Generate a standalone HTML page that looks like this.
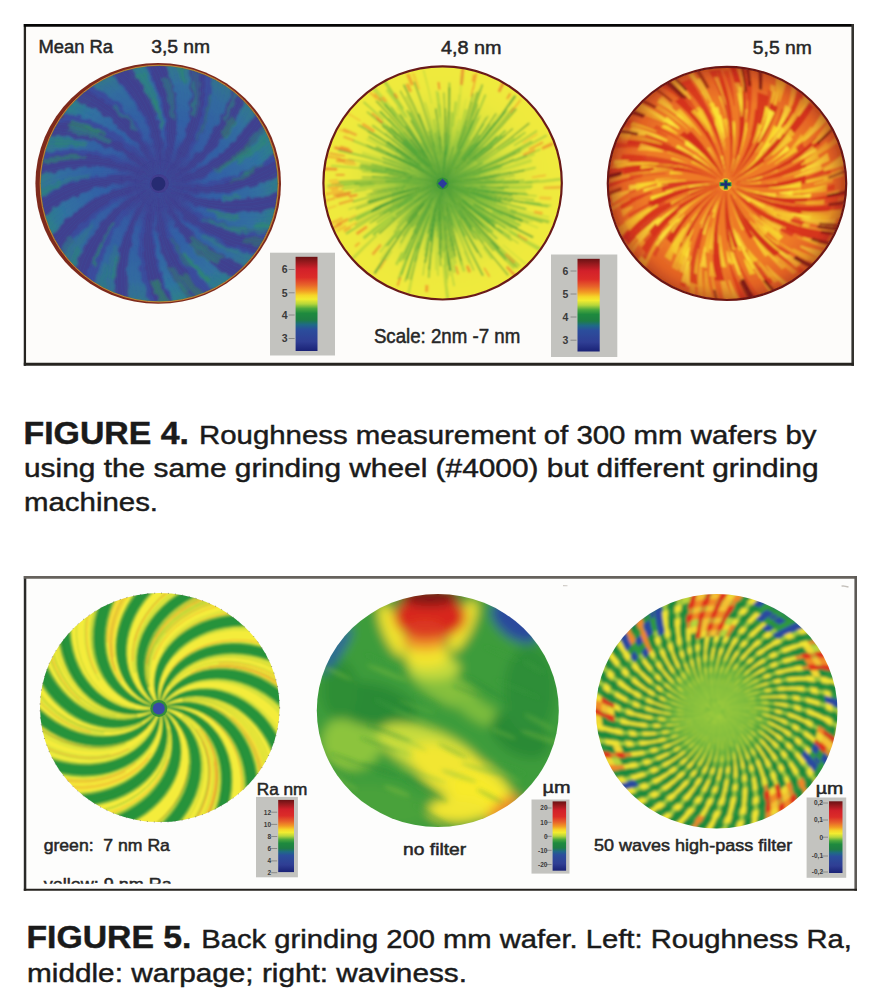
<!DOCTYPE html>
<html><head><meta charset="utf-8"><style>
html,body{margin:0;padding:0;background:#fff}
body{width:896px;height:1006px;overflow:hidden;position:relative}
svg{position:absolute;left:0;top:0;font-family:"Liberation Sans",sans-serif}
</style></head><body>
<svg width="896" height="1006" viewBox="0 0 896 1006">
<defs><linearGradient id="cb" x1="0" y1="0" x2="0" y2="1"><stop offset="0%" stop-color="#6a1214"/><stop offset="6%" stop-color="#9a1a1e"/><stop offset="13%" stop-color="#d2202a"/><stop offset="22%" stop-color="#dc2c28"/><stop offset="30%" stop-color="#e8642a"/><stop offset="36%" stop-color="#f29a24"/><stop offset="41%" stop-color="#f6d628"/><stop offset="45%" stop-color="#f2ec30"/><stop offset="50%" stop-color="#b6d63a"/><stop offset="55%" stop-color="#4aa83e"/><stop offset="60%" stop-color="#1e8a3e"/><stop offset="67%" stop-color="#1e7e44"/><stop offset="72%" stop-color="#1f6a86"/><stop offset="77%" stop-color="#2b4e9c"/><stop offset="90%" stop-color="#2f3e94"/><stop offset="100%" stop-color="#1a2276"/></linearGradient>
<clipPath id="c1"><ellipse cx="159.2" cy="183.6" rx="118.3" ry="117.6"/></clipPath>
<radialGradient id="g1" cx="159.2" cy="183.6" r="118.3" gradientUnits="userSpaceOnUse"><stop offset="0" stop-color="#423e8e" stop-opacity="1"/><stop offset="0.18" stop-color="#423e8e" stop-opacity="0.85"/><stop offset="0.42" stop-color="#423e8e" stop-opacity="0"/></radialGradient>
<radialGradient id="g1b" cx="159.2" cy="183.6" r="118.3" gradientUnits="userSpaceOnUse"><stop offset="0.2" stop-color="#3558a4"/><stop offset="0.55" stop-color="#3264a6"/><stop offset="0.85" stop-color="#2f74a0"/><stop offset="1" stop-color="#2e8088"/></radialGradient>
<filter id="f1" x="-5%" y="-5%" width="110%" height="110%"><feTurbulence type="fractalNoise" baseFrequency="0.12" numOctaves="2" seed="3" result="t"/><feDisplacementMap in="SourceGraphic" in2="t" scale="7" xChannelSelector="R" yChannelSelector="G" result="d"/><feGaussianBlur in="d" stdDeviation="1.1"/></filter>
<clipPath id="c2"><ellipse cx="442.6" cy="182.9" rx="118.6" ry="116"/></clipPath>
<radialGradient id="g2" cx="442.6" cy="182.9" r="118.6" gradientUnits="userSpaceOnUse"><stop offset="0" stop-color="#2e8e38" stop-opacity="0.9"/><stop offset="0.15" stop-color="#3a983a" stop-opacity="0.7"/><stop offset="0.35" stop-color="#6cb43e" stop-opacity="0.55"/><stop offset="0.55" stop-color="#a8d040" stop-opacity="0.35"/><stop offset="0.8" stop-color="#d0e03e" stop-opacity="0.1"/><stop offset="1" stop-color="#e0e43c" stop-opacity="0"/></radialGradient>
<filter id="f2" x="-5%" y="-5%" width="110%" height="110%"><feGaussianBlur stdDeviation="0.9"/></filter>
<clipPath id="c3"><ellipse cx="727" cy="183.4" rx="118.6" ry="116"/></clipPath>
<filter id="f3" x="-5%" y="-5%" width="110%" height="110%"><feGaussianBlur stdDeviation="0.9"/></filter>
<radialGradient id="g3" cx="727" cy="183.4" r="118.6" gradientUnits="userSpaceOnUse"><stop offset="0.7" stop-color="#c82c1a" stop-opacity="0"/><stop offset="0.88" stop-color="#c82c1a" stop-opacity="0.3"/><stop offset="1" stop-color="#8a1a14" stop-opacity="0.55"/></radialGradient>
<clipPath id="c4"><ellipse cx="159.8" cy="707.6" rx="119.8" ry="114.5"/></clipPath>
<filter id="f4" x="-5%" y="-5%" width="110%" height="110%"><feGaussianBlur stdDeviation="0.8"/></filter>
<clipPath id="c5"><ellipse cx="437.8" cy="710.5" rx="121" ry="116.5"/></clipPath>
<filter id="b5" x="-20%" y="-20%" width="140%" height="140%"><feGaussianBlur stdDeviation="5.5"/></filter>
<filter id="b5b" x="-20%" y="-50%" width="140%" height="200%"><feGaussianBlur stdDeviation="2.2"/></filter>
<clipPath id="c6"><ellipse cx="716.7" cy="711.2" rx="120.8" ry="117.2"/></clipPath>
<filter id="b6" x="-5%" y="-5%" width="110%" height="110%"><feGaussianBlur stdDeviation="1.4"/></filter>
<radialGradient id="g6" cx="716.7" cy="711.2" r="120.8" gradientUnits="userSpaceOnUse"><stop offset="0" stop-color="#8ec63e" stop-opacity="1"/><stop offset="0.18" stop-color="#8cc43e" stop-opacity="0.95"/><stop offset="0.32" stop-color="#8cc43e" stop-opacity="0.55"/><stop offset="0.48" stop-color="#8cc43e" stop-opacity="0"/></radialGradient>
<clipPath id="cy"><rect x="30" y="860" width="200" height="23.8"/></clipPath></defs>
<rect x="24.9" y="25.3" width="828" height="339" fill="#fdfcfa"/>
<path d="M24.9 23.9V365.7" stroke="#262420" stroke-width="2.3"/>
<path d="M23.8 25.3H854" stroke="#050505" stroke-width="2.8"/>
<path d="M852.7 23.9V365.7" stroke="#34332f" stroke-width="2.6"/>
<path d="M23.8 364.25H854" stroke="#262420" stroke-width="2.9"/>
<rect x="25" y="577.3" width="830.7" height="312.5" fill="#fdfdfc"/>
<path d="M841.5 586.2 L843 585.8 L848.5 587" stroke="#c4c0ba" stroke-width="1.3" fill="none"/>
<path d="M563 585.6 L567.5 585.8" stroke="#cfcbc6" stroke-width="1.1" fill="none"/>
<path d="M25.05 576V890.7" stroke="#2a2a28" stroke-width="2.5"/>
<path d="M23.8 577.35H857" stroke="#66625d" stroke-width="2.7"/>
<path d="M855.7 576V890.7" stroke="#5c5955" stroke-width="2.6"/>
<path d="M23.8 889.8H857" stroke="#24221e" stroke-width="1.9"/>
<rect x="270" y="252.7" width="65" height="102.8" fill="#c3c3bf"/>
<rect x="295.6" y="256.8" width="21.9" height="94.2" fill="url(#cb)"/>
<line x1="288.6" y1="269.5" x2="294.6" y2="269.5" stroke="#8a8a88" stroke-width="1"/>
<text x="287.6" y="273.3" font-size="10.5" text-anchor="end" fill="#3a3a3a" font-weight="bold">6</text>
<line x1="288.6" y1="292.8" x2="294.6" y2="292.8" stroke="#8a8a88" stroke-width="1"/>
<text x="287.6" y="296.6" font-size="10.5" text-anchor="end" fill="#3a3a3a" font-weight="bold">5</text>
<line x1="288.6" y1="315" x2="294.6" y2="315" stroke="#8a8a88" stroke-width="1"/>
<text x="287.6" y="318.8" font-size="10.5" text-anchor="end" fill="#3a3a3a" font-weight="bold">4</text>
<line x1="288.6" y1="338.5" x2="294.6" y2="338.5" stroke="#8a8a88" stroke-width="1"/>
<text x="287.6" y="342.3" font-size="10.5" text-anchor="end" fill="#3a3a3a" font-weight="bold">3</text>
<rect x="551" y="254.5" width="66.3" height="102.5" fill="#c3c3bf"/>
<rect x="577.5" y="258.8" width="22.2" height="92.7" fill="url(#cb)"/>
<line x1="570.5" y1="271" x2="576.5" y2="271" stroke="#8a8a88" stroke-width="1"/>
<text x="568.3" y="274.8" font-size="10.5" text-anchor="end" fill="#3a3a3a" font-weight="bold">6</text>
<line x1="570.5" y1="294" x2="576.5" y2="294" stroke="#8a8a88" stroke-width="1"/>
<text x="568.3" y="297.8" font-size="10.5" text-anchor="end" fill="#3a3a3a" font-weight="bold">5</text>
<line x1="570.5" y1="317" x2="576.5" y2="317" stroke="#8a8a88" stroke-width="1"/>
<text x="568.3" y="320.8" font-size="10.5" text-anchor="end" fill="#3a3a3a" font-weight="bold">4</text>
<line x1="570.5" y1="340.2" x2="576.5" y2="340.2" stroke="#8a8a88" stroke-width="1"/>
<text x="568.3" y="344" font-size="10.5" text-anchor="end" fill="#3a3a3a" font-weight="bold">3</text>
<rect x="256" y="796.9" width="41.9" height="80.4" fill="#c3c3bf"/>
<rect x="278.2" y="799.9" width="15.8" height="72.2" fill="url(#cb)"/>
<line x1="271.2" y1="812.2" x2="277.2" y2="812.2" stroke="#8a8a88" stroke-width="1"/>
<text x="271" y="814.5" font-size="6.5" text-anchor="end" fill="#3a3a3a" font-weight="bold">12</text>
<line x1="271.2" y1="824.4" x2="277.2" y2="824.4" stroke="#8a8a88" stroke-width="1"/>
<text x="271" y="826.7" font-size="6.5" text-anchor="end" fill="#3a3a3a" font-weight="bold">10</text>
<line x1="271.2" y1="836.5" x2="277.2" y2="836.5" stroke="#8a8a88" stroke-width="1"/>
<text x="271" y="838.8" font-size="6.5" text-anchor="end" fill="#3a3a3a" font-weight="bold">8</text>
<line x1="271.2" y1="848.5" x2="277.2" y2="848.5" stroke="#8a8a88" stroke-width="1"/>
<text x="271" y="850.8" font-size="6.5" text-anchor="end" fill="#3a3a3a" font-weight="bold">6</text>
<line x1="271.2" y1="860.9" x2="277.2" y2="860.9" stroke="#8a8a88" stroke-width="1"/>
<text x="271" y="863.2" font-size="6.5" text-anchor="end" fill="#3a3a3a" font-weight="bold">4</text>
<line x1="271.2" y1="872.7" x2="277.2" y2="872.7" stroke="#8a8a88" stroke-width="1"/>
<text x="271" y="875" font-size="6.5" text-anchor="end" fill="#3a3a3a" font-weight="bold">2</text>
<rect x="531.5" y="799.5" width="38" height="74.1" fill="#c3c3bf"/>
<rect x="552.6" y="801.4" width="13.5" height="69.3" fill="url(#cb)"/>
<line x1="545.6" y1="808" x2="551.6" y2="808" stroke="#8a8a88" stroke-width="1"/>
<text x="547.5" y="810.3" font-size="6.5" text-anchor="end" fill="#3a3a3a" font-weight="bold">20</text>
<line x1="545.6" y1="822.3" x2="551.6" y2="822.3" stroke="#8a8a88" stroke-width="1"/>
<text x="547.5" y="824.6" font-size="6.5" text-anchor="end" fill="#3a3a3a" font-weight="bold">10</text>
<line x1="545.6" y1="836.3" x2="551.6" y2="836.3" stroke="#8a8a88" stroke-width="1"/>
<text x="547.5" y="838.6" font-size="6.5" text-anchor="end" fill="#3a3a3a" font-weight="bold">0</text>
<line x1="545.6" y1="850.3" x2="551.6" y2="850.3" stroke="#8a8a88" stroke-width="1"/>
<text x="547.5" y="852.6" font-size="6.5" text-anchor="end" fill="#3a3a3a" font-weight="bold">-10</text>
<line x1="545.6" y1="864.5" x2="551.6" y2="864.5" stroke="#8a8a88" stroke-width="1"/>
<text x="547.5" y="866.8" font-size="6.5" text-anchor="end" fill="#3a3a3a" font-weight="bold">-20</text>
<rect x="806.6" y="797.5" width="39.6" height="80.3" fill="#c3c3bf"/>
<rect x="829" y="801.3" width="13.5" height="71.7" fill="url(#cb)"/>
<line x1="822" y1="803" x2="828" y2="803" stroke="#8a8a88" stroke-width="1"/>
<text x="823" y="805.3" font-size="6.5" text-anchor="end" fill="#3a3a3a" font-weight="bold">0,2</text>
<line x1="822" y1="820" x2="828" y2="820" stroke="#8a8a88" stroke-width="1"/>
<text x="823" y="822.3" font-size="6.5" text-anchor="end" fill="#3a3a3a" font-weight="bold">0,1</text>
<line x1="822" y1="837.2" x2="828" y2="837.2" stroke="#8a8a88" stroke-width="1"/>
<text x="823" y="839.5" font-size="6.5" text-anchor="end" fill="#3a3a3a" font-weight="bold">0</text>
<line x1="822" y1="856" x2="828" y2="856" stroke="#8a8a88" stroke-width="1"/>
<text x="823" y="858.3" font-size="6.5" text-anchor="end" fill="#3a3a3a" font-weight="bold">-0,1</text>
<line x1="822" y1="872" x2="828" y2="872" stroke="#8a8a88" stroke-width="1"/>
<text x="823" y="874.3" font-size="6.5" text-anchor="end" fill="#3a3a3a" font-weight="bold">-0,2</text>
<ellipse cx="158.2" cy="183.4" rx="122.8" ry="120.4" fill="#7e2a1c"/>
<ellipse cx="159.3" cy="183.6" rx="119.2" ry="118.4" fill="none" stroke="#d0823a" stroke-width="1" opacity="0.9"/>
<ellipse cx="159.3" cy="183.6" rx="118.5" ry="117.8" fill="none" stroke="#8cb048" stroke-width="0.8" opacity="0.8"/>
<g clip-path="url(#c1)"><g filter="url(#f1)">
<ellipse cx="159.2" cy="183.6" rx="120.3" ry="119.6" fill="#3a4b9c"/>
<path d="M176.9 183.1 184.5 182.1 192 180.6 199.4 178.6 206.8 176.1 214 173.1 221 169.7 227.9 165.7 234.5 161.4 241 156.5 247.2 151.3 253.1 145.6 258.8 139.5 264.1 132.9 269.1 126 278.9 150.5 272.3 155.3 265.5 159.8 258.7 164 251.6 167.7 244.5 171.1 237.2 174.2 229.9 176.9 222.4 179.2 214.9 181.1 207.4 182.6 199.8 183.8 192.1 184.6 184.5 185 176.9 185Z" fill="url(#g1b)" opacity="0.98"/>
<path d="M176 189.2 183.5 190.9 191.1 192 198.7 192.7 206.5 192.8 214.2 192.5 222 191.7 229.9 190.4 237.6 188.6 245.3 186.2 253 183.4 260.5 180.1 268 176.3 275.2 172 282.3 167.3 283 193.2 275.2 195.5 267.3 197.4 259.4 199 251.5 200.1 243.6 200.9 235.7 201.3 227.9 201.3 220.1 200.9 212.4 200.2 204.8 199.1 197.2 197.6 189.8 195.7 182.5 193.5 175.3 191Z" fill="url(#g1b)" opacity="0.90"/>
<path d="M173.4 194.1 180 198 186.9 201.4 193.9 204.4 201.2 207 208.7 209 216.4 210.7 224.3 211.8 232.2 212.5 240.3 212.7 248.4 212.3 256.6 211.5 264.9 210.2 273.1 208.4 281.3 206 273.9 230.9 265.8 230.7 257.7 230.1 249.7 229.1 241.8 227.8 234 226.1 226.4 224 219 221.6 211.7 218.9 204.6 215.8 197.7 212.4 191 208.6 184.5 204.6 178.3 200.2 172.2 195.6Z" fill="url(#g1b)" opacity="0.91"/>
<path d="M167.7 199.1 172.1 205.3 176.9 211.3 182 216.9 187.6 222.3 193.5 227.3 199.7 232 206.3 236.4 213.3 240.3 220.5 243.9 228 247 235.7 249.7 243.7 252 251.9 253.9 260.3 255.3 245.7 272.2 238.2 268.8 231 265.1 224 261.1 217.3 256.8 210.8 252.2 204.6 247.4 198.7 242.2 193.1 236.8 187.8 231.2 182.9 225.3 178.2 219.2 173.9 212.9 169.9 206.4 166.3 199.8Z" fill="url(#g1b)" opacity="0.83"/>
<path d="M163.6 200.7 166.3 207.8 169.4 214.7 173 221.5 177.1 228 181.6 234.4 186.6 240.4 192 246.2 197.8 251.7 204 256.8 210.6 261.6 217.5 266.1 224.8 270.2 232.4 273.8 240.3 277.1 216.6 293.1 210.5 287.7 204.7 282 199.3 276.2 194.1 270.1 189.3 263.9 184.8 257.5 180.7 250.9 176.8 244.1 173.4 237.2 170.3 230.2 167.6 223.1 165.2 215.8 163.2 208.5 161.6 201.1Z" fill="url(#g1b)" opacity="0.92"/>
<path d="M157.6 201.2 157.7 208.8 158.4 216.3 159.5 223.9 161.2 231.4 163.4 238.9 166.1 246.2 169.2 253.5 172.9 260.5 177 267.4 181.6 274.1 186.7 280.6 192.2 286.9 198.2 292.8 204.6 298.5 175.5 306 171.6 298.9 168.2 291.6 165 284.2 162.3 276.8 159.9 269.3 157.9 261.7 156.3 254.1 155.1 246.5 154.2 238.8 153.7 231.2 153.6 223.5 153.8 215.9 154.5 208.4 155.5 200.8Z" fill="url(#g1b)" opacity="0.99"/>
<path d="M150.4 198.9 147.3 205.9 144.7 213 142.6 220.4 140.9 227.9 139.8 235.6 139.1 243.3 138.9 251.2 139.2 259.1 140 267.1 141.3 275.1 143.1 283.1 145.5 291.1 148.3 299 151.7 306.9 125.1 302.3 124.4 294.2 124 286.2 124.1 278.2 124.5 270.2 125.4 262.4 126.5 254.7 128.1 247 130 239.5 132.3 232.2 134.9 224.9 137.9 217.9 141.2 211 144.8 204.3 148.8 197.9Z" fill="url(#g1b)" opacity="0.79"/>
<path d="M146.5 196 141.7 201.8 137.3 208 133.2 214.5 129.5 221.3 126.3 228.4 123.5 235.7 121.2 243.2 119.3 250.9 117.9 258.8 117 266.9 116.5 275 116.6 283.3 117.1 291.7 118.2 300.2 94.5 289 96 281 97.8 273.2 100 265.5 102.6 257.9 105.4 250.6 108.7 243.4 112.2 236.5 116.1 229.7 120.2 223.2 124.7 217 129.4 211 134.5 205.2 139.7 199.8 145.3 194.6Z" fill="url(#g1b)" opacity="0.76"/>
<path d="M142.9 190.5 136.2 194.2 129.8 198.3 123.6 202.9 117.7 207.8 112 213.2 106.7 218.9 101.8 225.1 97.1 231.5 92.9 238.3 89 245.4 85.5 252.9 82.5 260.6 79.8 268.5 77.6 276.7 61.3 259.6 65.5 252.6 70 245.9 74.7 239.4 79.8 233.2 85.1 227.3 90.6 221.7 96.4 216.5 102.4 211.5 108.6 206.9 115 202.6 121.6 198.6 128.3 195 135.2 191.8 142.3 188.9Z" fill="url(#g1b)" opacity="0.76"/>
<path d="M141.5 184 133.9 185 126.4 186.5 118.9 188.5 111.6 190.9 104.4 193.9 97.3 197.3 90.4 201.1 83.8 205.5 77.3 210.3 71.1 215.5 65.1 221.1 59.4 227.2 54 233.7 49 240.6 39.6 217 46.2 212.2 52.9 207.6 59.8 203.5 66.8 199.7 74 196.2 81.2 193.2 88.6 190.5 96 188.1 103.5 186.2 111 184.6 118.6 183.5 126.3 182.7 133.9 182.2 141.5 182.2Z" fill="url(#g1b)" opacity="0.96"/>
<path d="M142.4 177.9 135 176.2 127.4 175.1 119.7 174.4 112 174.2 104.2 174.5 96.4 175.3 88.6 176.6 80.8 178.4 73.1 180.7 65.4 183.5 57.9 186.8 50.4 190.6 43.1 194.9 36 199.7 35.5 172.7 43.3 170.5 51.2 168.6 59.2 167.2 67.1 166.1 75 165.4 82.8 165.1 90.7 165.2 98.4 165.7 106.1 166.5 113.8 167.7 121.3 169.3 128.7 171.2 136 173.5 143.1 176.1Z" fill="url(#g1b)" opacity="0.87"/>
<path d="M145.6 172.3 139.3 168 132.6 164.2 125.7 160.8 118.6 157.8 111.2 155.3 103.7 153.2 95.9 151.6 88 150.5 80 149.8 71.8 149.7 63.6 150 55.3 150.8 47 152.2 38.6 154 47.3 130.1 55.4 130.7 63.5 131.8 71.4 133.2 79.2 134.9 86.8 137 94.3 139.5 101.6 142.3 108.8 145.5 115.7 148.9 122.4 152.7 128.9 156.8 135.1 161.2 141.1 165.9 146.9 170.9Z" fill="url(#g1b)" opacity="0.82"/>
<path d="M150.8 168.1 146.5 161.8 141.7 155.8 136.6 150.1 131 144.8 125.1 139.8 118.8 135.1 112.1 130.8 105.1 126.9 97.9 123.4 90.3 120.3 82.5 117.7 74.4 115.6 66.1 113.8 57.6 112.6 77.8 90.3 85 94.2 91.9 98.3 98.6 102.8 105 107.5 111.1 112.5 117 117.7 122.6 123.2 127.8 128.9 132.8 134.8 137.4 140.9 141.8 147.2 145.8 153.7 149.4 160.3 152.8 167.2Z" fill="url(#g1b)" opacity="0.96"/>
<path d="M156.3 166.2 154.2 158.9 151.7 151.7 148.6 144.7 145.2 137.8 141.2 131.1 136.8 124.7 132 118.4 126.7 112.5 121.1 106.8 115 101.4 108.5 96.3 101.7 91.5 94.5 87.1 87 83.1 108.1 71 114 76.8 119.5 82.7 124.7 88.8 129.5 95.2 134 101.7 138.1 108.3 141.9 115.2 145.3 122.1 148.4 129.2 151.1 136.4 153.4 143.7 155.3 151.1 156.8 158.5 158 166Z" fill="url(#g1b)" opacity="0.81"/>
<path d="M161.6 166.1 161.8 158.5 161.6 150.9 160.8 143.3 159.6 135.7 157.9 128.2 155.7 120.7 153 113.3 149.8 106 146.1 98.9 142 91.9 137.4 85.2 132.4 78.6 126.9 72.2 121 66.1 142.7 61.2 146.6 68.4 150.3 75.6 153.5 83 156.3 90.4 158.8 97.9 160.8 105.5 162.5 113.1 163.8 120.8 164.7 128.4 165.1 136.1 165.2 143.7 164.9 151.3 164.3 158.9 163.2 166.4Z" fill="url(#g1b)" opacity="0.94"/>
<path d="M167.5 168 170.3 160.9 172.6 153.7 174.5 146.3 175.9 138.7 176.8 131 177.1 123.2 177 115.3 176.4 107.4 175.3 99.4 173.7 91.5 171.5 83.5 168.8 75.7 165.7 67.9 162 60.2 190.6 64.1 191.5 72.2 192 80.3 192.1 88.2 191.8 96.2 191.1 104 190.1 111.8 188.7 119.4 187 127 184.9 134.4 182.4 141.7 179.6 148.8 176.5 155.7 173 162.5 169.3 169.1Z" fill="url(#g1b)" opacity="0.85"/>
<path d="M173.1 172.7 178.6 167.3 183.6 161.6 188.4 155.6 192.7 149.2 196.6 142.5 200.2 135.5 203.3 128.3 205.9 120.8 208.1 113.1 209.9 105.1 211.1 97 211.9 88.7 212.2 80.3 211.9 71.8 236.5 87 234 94.7 231.2 102.2 228 109.6 224.6 116.7 220.8 123.6 216.7 130.3 212.3 136.8 207.6 143 202.7 148.9 197.5 154.6 192.1 160 186.4 165.1 180.4 169.9 174.3 174.3Z" fill="url(#g1b)" opacity="0.75"/>
<path d="M175.5 176.6 182.1 172.8 188.5 168.6 194.6 163.9 200.4 158.8 205.9 153.4 211.1 147.5 216 141.3 220.5 134.7 224.6 127.8 228.3 120.5 231.6 113 234.4 105.2 236.8 97.1 238.8 88.8 259 110.1 254.6 116.9 249.9 123.5 244.9 129.8 239.7 135.8 234.3 141.5 228.6 146.9 222.7 152 216.5 156.8 210.2 161.2 203.7 165.4 197.1 169.2 190.3 172.6 183.3 175.8 176.2 178.5Z" fill="url(#g1b)" opacity="0.87"/>
<path d="M161.5 184.1 170.1 185.6 178.7 186.6 187.5 187 196.2 186.9 205 186.2 213.8 185 222.5 183.2 231.1 180.9 239.7 178 248.1 174.6 256.4 170.6 264.5 166.1 272.5 161.1 280.2 155.5 282.9 172.5 274.5 177.2 266 181.4 257.3 184.9 248.5 187.8 239.6 190.2 230.7 191.9 221.8 193 212.9 193.6 204 193.5 195.2 192.9 186.5 191.6 178 189.8 169.6 187.4 161.4 184.5Z" fill="#413e8e" opacity="0.9"/>
<path d="M161.3 184.7 169.1 188.4 177.2 191.7 185.5 194.4 194 196.7 202.6 198.3 211.4 199.5 220.3 200.1 229.2 200.2 238.3 199.7 247.3 198.7 256.4 197.1 265.4 194.9 274.4 192.2 283.3 188.9 281.2 207 271.8 209.2 262.4 210.9 253.1 211.9 243.8 212.3 234.6 212.1 225.6 211.3 216.7 209.9 208 208 199.5 205.5 191.2 202.4 183.2 198.9 175.5 194.8 168.1 190.2 161.1 185.1Z" fill="#413e8e" opacity="0.9"/>
<path d="M160.7 185.4 166.3 192 172.4 198.2 178.9 204 185.8 209.4 193 214.4 200.6 219 208.5 223.1 216.7 226.7 225.1 229.8 233.9 232.5 242.8 234.6 252 236.2 261.3 237.3 270.8 237.9 262.4 252.3 252.9 250.7 243.7 248.6 234.7 245.9 226 242.7 217.6 239 209.6 234.7 201.9 230 194.6 224.9 187.8 219.3 181.3 213.3 175.4 206.9 169.9 200.2 164.8 193.1 160.3 185.7Z" fill="#413e8e" opacity="0.9"/>
<path d="M160.1 185.8 163.6 193.7 167.6 201.4 172.2 208.8 177.2 216 182.6 222.8 188.6 229.3 194.9 235.5 201.7 241.3 208.9 246.8 216.5 251.8 224.4 256.4 232.7 260.6 241.4 264.3 250.3 267.5 237.9 279.2 229.3 274.9 221 270.2 213.2 265 205.8 259.4 198.9 253.4 192.4 247.1 186.5 240.4 181 233.3 176.1 226 171.7 218.4 167.8 210.6 164.5 202.5 161.8 194.3 159.7 185.9Z" fill="#413e8e" opacity="0.9"/>
<path d="M159.1 186 159.2 194.6 159.8 203.2 161 211.9 162.7 220.4 165 228.9 167.8 237.2 171.1 245.4 175 253.4 179.4 261.3 184.3 268.9 189.7 276.3 195.6 283.4 202 290.3 208.9 296.8 191.1 303 185 295.5 179.4 287.9 174.4 279.9 170 271.8 166.2 263.5 163 255.1 160.3 246.5 158.3 237.9 156.9 229.2 156 220.4 155.8 211.7 156.2 203 157.1 194.4 158.7 185.9Z" fill="#413e8e" opacity="0.9"/>
<path d="M158.4 185.8 156 194.1 154.1 202.6 152.7 211.2 151.9 219.8 151.6 228.6 151.9 237.4 152.7 246.2 154.1 255 156.1 263.8 158.6 272.5 161.7 281.1 165.3 289.6 169.5 298 174.2 306.2 157.6 307.1 153.7 298.3 150.5 289.4 147.8 280.5 145.8 271.5 144.4 262.5 143.6 253.5 143.3 244.5 143.7 235.6 144.7 226.9 146.2 218.2 148.4 209.8 151.1 201.5 154.3 193.5 158.1 185.7Z" fill="#413e8e" opacity="0.9"/>
<path d="M157.7 185.4 152.5 192.4 147.8 199.7 143.6 207.3 139.8 215.1 136.5 223.2 133.7 231.6 131.5 240.2 129.7 248.9 128.5 257.8 127.9 266.8 127.8 276 128.3 285.2 129.3 294.5 130.9 303.8 115.7 299.3 115.1 289.7 115.1 280.3 115.6 271 116.8 261.8 118.5 252.9 120.8 244.1 123.6 235.6 127 227.4 130.9 219.5 135.2 211.9 140.1 204.6 145.5 197.7 151.2 191.2 157.4 185.2Z" fill="#413e8e" opacity="0.9"/>
<path d="M157.1 184.7 149.6 189.1 142.4 194 135.5 199.3 128.9 205 122.7 211.2 116.9 217.8 111.4 224.8 106.4 232.2 101.8 239.9 97.6 248 93.9 256.4 90.7 265.1 88 274 85.8 283.2 73.2 272.7 76.4 263.7 80.2 255 84.4 246.7 89.1 238.7 94.2 231.2 99.8 224.1 105.8 217.4 112.2 211.1 118.9 205.4 125.9 200.1 133.3 195.4 140.9 191.2 148.8 187.5 157 184.4Z" fill="#413e8e" opacity="0.9"/>
<path d="M156.9 184 148.3 185.8 140 188.1 131.7 190.9 123.6 194.3 115.7 198.2 108.1 202.6 100.7 207.5 93.5 212.9 86.7 218.8 80.1 225.1 73.9 231.8 68.1 239 62.6 246.6 57.6 254.6 48.5 239.7 54.6 232.2 60.9 225.2 67.7 218.7 74.7 212.7 82.1 207.3 89.7 202.4 97.6 198 105.7 194.2 113.9 191 122.3 188.3 130.8 186.2 139.5 184.8 148.1 183.9 156.8 183.6Z" fill="#413e8e" opacity="0.9"/>
<path d="M156.9 183.3 148.2 182.3 139.5 182 130.8 182.2 122 182.9 113.3 184.2 104.7 186 96.1 188.4 87.6 191.3 79.3 194.8 71.1 198.7 63.1 203.3 55.3 208.3 47.8 213.8 40.5 219.9 36.3 201.7 44.4 196.5 52.7 191.9 61.2 187.9 69.8 184.4 78.5 181.6 87.3 179.3 96.2 177.7 105.1 176.6 113.9 176.2 122.7 176.3 131.5 177.1 140.1 178.4 148.6 180.3 157 182.8Z" fill="#413e8e" opacity="0.9"/>
<path d="M157.1 182.5 149.3 178.7 141.2 175.4 132.9 172.7 124.5 170.4 115.8 168.7 107.1 167.5 98.2 166.8 89.2 166.7 80.2 167.2 71.2 168.2 62.1 169.7 53.1 171.8 44.1 174.5 35.1 177.7 37.4 159.6 46.7 157.4 56.1 155.8 65.4 154.9 74.7 154.5 83.9 154.8 93 155.6 101.8 157 110.6 159 119.1 161.5 127.3 164.6 135.3 168.2 143 172.4 150.3 177 157.4 182.1Z" fill="#413e8e" opacity="0.9"/>
<path d="M157.6 181.8 151.6 175.6 145.2 169.8 138.4 164.3 131.2 159.3 123.7 154.7 115.9 150.6 107.8 146.9 99.4 143.8 90.8 141.1 81.9 138.9 72.9 137.3 63.6 136.2 54.3 135.6 44.8 135.6 52.6 120.2 62.2 121.2 71.6 122.9 80.7 125.1 89.5 127.9 98.1 131.2 106.3 135 114.2 139.3 121.7 144.1 128.9 149.4 135.6 155 141.9 161.1 147.7 167.6 153.1 174.4 158 181.6Z" fill="#413e8e" opacity="0.9"/>
<path d="M158.4 181.4 154.9 173.5 151 165.7 146.5 158.2 141.6 151 136.2 144.1 130.3 137.5 124.1 131.3 117.3 125.4 110.2 119.9 102.7 114.7 94.8 110 86.5 105.8 77.9 102 69.1 98.6 81.4 87.4 90 91.7 98.2 96.5 105.9 101.7 113.3 107.4 120.1 113.4 126.5 119.8 132.4 126.6 137.8 133.7 142.7 141 147 148.7 150.8 156.6 154 164.6 156.7 172.9 158.7 181.3Z" fill="#413e8e" opacity="0.9"/>
<path d="M159.3 181.2 159.2 172.6 158.6 164 157.4 155.3 155.7 146.8 153.4 138.3 150.6 130 147.3 121.8 143.4 113.8 139 105.9 134.1 98.3 128.7 90.9 122.8 83.8 116.4 77 109.5 70.4 127.5 64.2 133.6 71.6 139.1 79.3 144.1 87.2 148.5 95.4 152.3 103.7 155.5 112.1 158.1 120.7 160.2 129.3 161.6 138.1 162.4 146.8 162.6 155.5 162.3 164.2 161.3 172.8 159.7 181.3Z" fill="#413e8e" opacity="0.9"/>
<path d="M160 181.4 162.4 173.1 164.3 164.6 165.7 156 166.6 147.4 166.9 138.6 166.6 129.8 165.8 121 164.4 112.2 162.5 103.4 160 94.7 157 86.1 153.4 77.6 149.3 69.2 144.7 61 164.1 60.2 167.7 69.1 170.7 78 173.2 87.1 175 96.1 176.2 105.2 176.7 114.2 176.7 123.1 176.1 132 174.9 140.7 173.1 149.3 170.8 157.7 167.9 165.9 164.4 173.9 160.4 181.6Z" fill="#413e8e" opacity="0.9"/>
<path d="M160.7 181.8 165.9 174.8 170.6 167.5 174.9 160 178.7 152.1 182 144 184.8 135.7 187.1 127.1 188.8 118.4 190 109.5 190.7 100.4 190.8 91.3 190.4 82.1 189.4 72.8 187.9 63.5 204.4 68.6 204.9 78.1 204.8 87.6 204.1 96.9 202.8 106 201 115 198.6 123.7 195.6 132.1 192.1 140.3 188.1 148.2 183.6 155.7 178.6 162.9 173.2 169.7 167.3 176.1 161 182.1Z" fill="#413e8e" opacity="0.9"/>
<path d="M161.3 182.5 168.8 178.1 175.9 173.2 182.8 167.8 189.4 162 195.6 155.8 201.4 149.2 206.8 142.1 211.8 134.8 216.4 127 220.5 118.9 224.2 110.6 227.4 101.9 230.1 92.9 232.3 83.8 246.3 95.6 243 104.6 239.2 113.2 234.8 121.5 230 129.4 224.8 136.9 219.1 144 213.1 150.6 206.6 156.7 199.8 162.4 192.7 167.5 185.3 172.2 177.6 176.3 169.6 179.9 161.5 182.9Z" fill="#413e8e" opacity="0.9"/>
<path d="M161.5 183.1 169.9 180.9 178.2 178.2 186.3 174.9 194.2 171.2 201.9 166.9 209.4 162.2 216.5 157 223.4 151.2 230 145.1 236.2 138.5 242.1 131.5 247.6 124 252.7 116.2 257.4 108 268.3 124.5 262.5 132.2 256.3 139.4 249.7 146 242.8 152.2 235.6 157.9 228.2 163 220.4 167.6 212.4 171.6 204.3 175.1 195.9 177.9 187.5 180.2 178.9 181.9 170.3 183.1 161.6 183.6Z" fill="#413e8e" opacity="0.9"/>
<path d="M192.7 241.3 196.1 244.6 199.6 247.8 203.2 250.9 206.9 253.9 210.8 256.8 214.7 259.6 208.7 263.5 205 260.5 201.4 257.3 197.9 254 194.5 250.7 191.3 247.2 188.2 243.6Z" fill="#2e8a70" opacity="0.49"/>
<path d="M222.4 195.5 225.5 195.3 228.7 195.1 231.8 194.7 234.9 194.3 238 193.9 241.2 193.3 240.3 198.8 237.2 199.2 234 199.4 230.9 199.6 227.7 199.8 224.6 199.8 221.4 199.8Z" fill="#2e8a70" opacity="0.48"/>
<path d="M80.8 252 79.2 255.2 77.7 258.4 76.2 261.7 74.9 265 73.5 268.4 72.3 271.8 67.2 266.6 68.7 263.2 70.2 259.9 71.7 256.7 73.4 253.5 75.1 250.4 76.9 247.3Z" fill="#2e8a70" opacity="0.41"/>
<path d="M246.2 235.7 250.2 236.4 254.2 236.9 258.3 237.4 262.4 237.7 266.5 237.9 270.7 238 266 246.6 261.9 246.2 257.8 245.6 253.7 245 249.7 244.2 245.7 243.4 241.8 242.4Z" fill="#2f8c64" opacity="0.41"/>
<path d="M85.1 147.1 80 146.4 74.9 145.9 69.7 145.5 64.5 145.3 59.3 145.4 54 145.6 57 138.2 62.3 138.4 67.5 138.7 72.7 139.3 77.8 140 82.9 140.9 87.9 141.9Z" fill="#2e8a70" opacity="0.56"/>
<path d="M115.5 222.7 111.1 229.2 107.1 236.1 103.4 243.2 100.1 250.5 97.2 258.1 94.7 265.9 92 263.8 94.8 256.1 98 248.6 101.5 241.3 105.4 234.4 109.7 227.7 114.3 221.3Z" fill="#2f8c64" opacity="0.61"/>
<path d="M119 247.3 117.6 252.7 116.3 258.2 115.3 263.7 114.5 269.3 113.9 275 113.5 280.8 105.4 276.6 106.3 270.9 107.4 265.3 108.7 259.8 110.2 254.3 111.9 249 113.8 243.7Z" fill="#2f7f80" opacity="0.41"/>
<path d="M135.8 132.1 132.2 127.5 128.4 123 124.4 118.7 120.2 114.5 115.8 110.4 111.2 106.6 114.6 104.5 119 108.6 123.2 112.8 127.3 117.2 131.1 121.7 134.7 126.3 138.1 131.1Z" fill="#2f7f80" opacity="0.57"/>
<path d="M181.4 282.6 183.3 285.3 185.2 288 187.2 290.6 189.2 293.2 191.3 295.7 193.5 298.2 188.6 299.6 186.5 297 184.5 294.3 182.6 291.7 180.7 289 178.9 286.2 177.2 283.5Z" fill="#2e8a70" opacity="0.49"/>
<path d="M172.5 237.4 175.1 242.4 177.9 247.4 180.9 252.3 184.2 257.1 187.7 261.7 191.3 266.3 187.4 267.7 183.9 263 180.7 258.2 177.7 253.2 174.9 248.2 172.3 243.1 170 237.9Z" fill="#2f8c64" opacity="0.38"/>
<path d="M225 223.8 231.7 225.4 238.4 226.7 245.3 227.8 252.3 228.4 259.4 228.8 266.6 228.9 264.2 234.1 257 233.7 250 233 243 232 236.2 230.6 229.5 229 222.9 227Z" fill="#2f7f80" opacity="0.55"/>
<path d="M202.8 217 209.8 220.1 217 222.9 224.3 225.3 231.9 227.2 239.5 228.8 247.4 230 245.9 232.7 238.1 231.3 230.5 229.5 223 227.2 215.7 224.7 208.6 221.7 201.8 218.4Z" fill="#2f7f80" opacity="0.46"/>
<path d="M243.6 172.6 246.7 171.1 249.8 169.5 252.8 167.8 255.9 166.1 258.9 164.3 261.8 162.4 262.5 165.9 259.5 167.7 256.4 169.4 253.3 171.1 250.2 172.6 247.1 174.1 243.9 175.5Z" fill="#2e8a70" opacity="0.46"/>
<path d="M214.6 169.3 220.6 166.2 226.4 162.7 232.1 158.9 237.6 154.8 243 150.5 248.2 145.8 250.4 151.4 244.9 155.8 239.3 159.8 233.5 163.5 227.6 166.9 221.6 170 215.4 172.8Z" fill="#2f7f80" opacity="0.61"/>
<path d="M255.8 223.2 259.4 223.2 262.9 223.1 266.5 223 270.1 222.7 273.7 222.4 277.3 222 275.2 227.9 271.5 228.1 267.9 228.2 264.4 228.3 260.8 228.3 257.2 228.2 253.7 228Z" fill="#2e8a70" opacity="0.67"/>
<path d="M191 115.6 192 108.2 192.6 100.6 192.8 93 192.5 85.4 191.9 77.6 190.9 69.9 199.7 72.7 200.1 80.5 200.1 88.2 199.7 95.9 198.9 103.5 197.7 110.9 196.2 118.2Z" fill="#2f7f80" opacity="0.36"/>
<path d="M104.2 135.2 101.1 133.7 98 132.4 94.8 131 91.5 129.8 88.2 128.6 84.9 127.5 86.7 125.3 89.9 126.5 93.2 127.7 96.4 129.1 99.6 130.5 102.7 132 105.8 133.5Z" fill="#2f8c64" opacity="0.57"/>
<path d="M248.9 139.5 251.8 136.3 254.6 133 257.3 129.6 260 126.2 262.5 122.6 265 118.9 269.5 126.8 266.8 130.3 264 133.7 261.1 137 258.1 140.1 255 143.2 251.9 146.2Z" fill="#2f7f80" opacity="0.59"/>
<path d="M94.6 226.8 91 231.3 87.6 236 84.4 240.8 81.3 245.8 78.4 250.9 75.7 256.2 71.3 250.9 74.3 245.8 77.5 240.8 80.9 236.1 84.5 231.5 88.2 227 92 222.8Z" fill="#2f7f80" opacity="0.36"/>
<path d="M84.2 159.3 77.5 159.3 70.8 159.7 64 160.3 57.2 161.2 50.4 162.5 43.6 164.1 44.6 159 51.5 157.8 58.3 156.8 65.1 156.2 71.9 155.8 78.7 155.8 85.4 156.1Z" fill="#2e8a70" opacity="0.62"/>
<path d="M96.9 135.2 92.2 133.5 87.4 131.9 82.6 130.5 77.6 129.2 72.6 128.1 67.6 127.2 72.7 119.8 77.6 121.1 82.5 122.6 87.3 124.3 92 126.1 96.6 128.1 101.1 130.2Z" fill="#2f8c64" opacity="0.59"/>
<path d="M193.2 235.5 197.9 239.8 202.9 243.8 208 247.7 213.4 251.4 219 254.8 224.7 258.1 218.2 263.3 212.7 259.6 207.5 255.7 202.4 251.6 197.6 247.3 193 242.8 188.6 238.1Z" fill="#2e8a70" opacity="0.52"/>
<path d="M185.6 253.2 189.5 258.1 193.6 263 198 267.7 202.6 272.2 207.4 276.5 212.5 280.7 208 283 203.2 278.6 198.5 274 194.1 269.3 190 264.4 186.1 259.4 182.4 254.3Z" fill="#2f8c64" opacity="0.66"/>
<path d="M118.8 257.1 118.2 260.9 117.6 264.6 117.1 268.4 116.7 272.3 116.5 276.1 116.3 280 111.6 277.8 112 273.9 112.4 270.1 113 266.3 113.6 262.5 114.4 258.8 115.3 255.1Z" fill="#2e8a70" opacity="0.47"/>
<path d="M194.4 141 197.8 133.9 200.9 126.5 203.6 118.9 205.8 111.1 207.7 103.1 209 95 212 96.7 210.4 104.8 208.3 112.7 205.8 120.4 202.8 128 199.5 135.2 195.8 142.3Z" fill="#2f8c64" opacity="0.39"/>
<path d="M75.2 242 73 245.2 71 248.5 69 251.9 67.1 255.4 65.3 258.9 63.6 262.4 57.6 254.6 59.6 251.2 61.7 247.8 63.8 244.5 66.1 241.3 68.4 238.2 70.8 235.1Z" fill="#2f7f80" opacity="0.52"/>
<path d="M159.8 280.9 161.5 285.3 163.4 289.6 165.4 293.8 167.6 298.1 169.9 302.2 172.4 306.4 161.3 307.1 159.3 302.7 157.3 298.3 155.6 293.9 153.9 289.5 152.4 285.1 151.1 280.6Z" fill="#2f8c64" opacity="0.64"/>
<path d="M174.9 267.2 177.1 271.2 179.5 275.1 182 279 184.7 282.8 187.5 286.5 190.4 290.2 182.8 292.1 180.1 288.2 177.6 284.3 175.2 280.3 173 276.3 170.9 272.2 168.9 268.1Z" fill="#2e8a70" opacity="0.46"/>
<path d="M161.1 129.7 160.1 124.5 158.9 119.3 157.5 114.2 155.9 109.1 154.1 104 152.1 99 155.3 98.7 157.2 103.9 158.8 109 160.2 114.2 161.4 119.4 162.4 124.6 163.2 129.8Z" fill="#2f8c64" opacity="0.62"/>
<path d="M186.8 273.7 190 277.8 193.4 281.8 197 285.7 200.7 289.6 204.5 293.3 208.5 296.9 199.5 300.4 195.8 296.5 192.2 292.5 188.9 288.3 185.6 284.2 182.6 279.9 179.7 275.5Z" fill="#2f8c64" opacity="0.51"/>
<path d="M79.6 146.1 73.2 145.5 66.8 145.2 60.4 145.1 53.8 145.3 47.3 145.8 40.7 146.5 44 137.4 50.6 137.2 57.2 137.2 63.7 137.5 70.1 138.1 76.5 138.9 82.8 140Z" fill="#2f7f80" opacity="0.42"/>
<path d="M170.7 118.1 170 111.3 169 104.4 167.6 97.6 165.9 90.8 163.8 84 161.4 77.3 169.2 77.8 171.1 84.6 172.7 91.5 173.9 98.5 174.8 105.4 175.3 112.3 175.5 119.1Z" fill="#2f7f80" opacity="0.60"/>
<path d="M204.3 233.8 209.9 237.4 215.7 240.7 221.6 243.7 227.8 246.5 234.1 249 240.6 251.3 237 255.3 230.7 252.7 224.5 249.9 218.5 246.8 212.7 243.4 207.1 239.9 201.7 236.1Z" fill="#2f7f80" opacity="0.53"/>
<path d="M218.2 165.8 223.9 162.3 229.4 158.6 234.7 154.6 239.9 150.4 244.9 145.8 249.7 141.1 252.9 148.5 247.7 152.9 242.3 157 236.8 160.8 231.2 164.3 225.4 167.6 219.5 170.6Z" fill="#2f8c64" opacity="0.38"/>
<path d="M223.7 118.8 225.9 113.8 228 108.7 230 103.5 231.7 98.1 233.3 92.7 234.6 87.2 238.2 90.1 236.7 95.6 234.9 100.9 233 106.2 230.8 111.3 228.5 116.3 226.1 121.2Z" fill="#2f7f80" opacity="0.66"/>
<path d="M237.9 158.9 242.5 155.5 247 152 251.4 148.2 255.7 144.3 259.8 140.2 263.8 135.9 266.9 143.2 262.6 147.2 258.2 151 253.6 154.7 249 158.1 244.2 161.3 239.4 164.3Z" fill="#2e8a70" opacity="0.51"/>
<path d="M108.9 144 102.3 141.2 95.5 138.7 88.5 136.5 81.3 134.7 74.1 133.2 66.6 132.1 70.7 125.5 78 127.1 85.2 129.1 92.2 131.5 99 134.1 105.6 137.1 112 140.4Z" fill="#2f7f80" opacity="0.67"/>
<path d="M217.3 215 220.7 215.8 224.1 216.5 227.6 217.2 231.1 217.8 234.6 218.3 238.2 218.7 236.2 222.8 232.6 222.2 229.2 221.5 225.7 220.8 222.3 219.9 218.9 219 215.5 218Z" fill="#2e8a70" opacity="0.54"/>
<path d="M155.4 113.8 153 106.8 150.1 99.9 146.8 93.2 143.2 86.5 139.2 80 134.8 73.6 144.2 71.9 148 78.6 151.5 85.5 154.5 92.4 157.2 99.5 159.5 106.6 161.4 113.8Z" fill="#2e8a70" opacity="0.53"/>
<path d="M230.5 178.9 234.7 177.4 238.9 175.7 243 173.9 247.1 172 251.2 170 255.2 167.8 255.9 173 251.8 175 247.6 176.9 243.4 178.6 239.2 180.1 234.9 181.6 230.6 182.8Z" fill="#2f8c64" opacity="0.43"/>
<path d="M191.1 115 191.9 109.2 192.4 103.4 192.7 97.5 192.8 91.6 192.6 85.7 192.2 79.7 195.5 80.8 195.7 86.8 195.7 92.8 195.5 98.7 195 104.5 194.3 110.3 193.3 116Z" fill="#2f7f80" opacity="0.63"/>
<path d="M209 218.9 215.2 221.3 221.7 223.4 228.2 225.2 234.9 226.7 241.7 227.9 248.6 228.8 245.6 234.2 238.8 232.8 232.1 231.2 225.5 229.3 219.1 227.1 212.8 224.6 206.7 221.9Z" fill="#2f7f80" opacity="0.59"/>
<path d="M220.7 133.5 222.6 130.6 224.5 127.6 226.3 124.5 228 121.4 229.6 118.2 231.2 115 237 121.5 235.1 124.6 233.2 127.6 231.2 130.5 229.1 133.4 227 136.3 224.8 139Z" fill="#2f8c64" opacity="0.50"/>
<path d="M61.8 186.8 58.1 188.4 54.4 190.1 50.7 191.8 47.1 193.7 43.5 195.7 40 197.8 39.3 190.2 43 188.4 46.7 186.6 50.4 185 54.2 183.4 58 182 61.8 180.7Z" fill="#2f7f80" opacity="0.65"/>
<path d="M89.6 177.7 82.4 179.2 75.2 181 68 183.3 60.9 185.9 53.9 188.9 47 192.3 46.7 186.4 53.8 183.4 60.9 180.7 68.1 178.5 75.4 176.6 82.7 175.2 90 174.1Z" fill="#2f7f80" opacity="0.42"/>
<path d="M180.4 81.6 179.8 78.2 179 74.8 178.2 71.4 177.3 68 176.4 64.6 175.3 61.2 182.8 62.4 183.7 65.8 184.4 69.3 185.1 72.7 185.7 76.2 186.2 79.6 186.7 83.1Z" fill="#2f8c64" opacity="0.49"/>
<path d="M206.4 208.5 212 210 217.6 211.3 223.3 212.4 229.1 213.2 234.9 213.8 240.8 214.1 239 218.4 233.2 217.7 227.4 216.8 221.7 215.7 216.1 214.3 210.5 212.8 205.1 211Z" fill="#2f8c64" opacity="0.53"/>
<path d="M109.1 264.9 108.2 269.8 107.5 274.8 106.9 279.8 106.4 284.9 106.2 290.1 106.1 295.2 99 291.6 99.5 286.5 100 281.4 100.8 276.3 101.7 271.3 102.8 266.4 104 261.5Z" fill="#2f7f80" opacity="0.41"/>
<ellipse cx="159.2" cy="183.6" rx="118.3" ry="117.6" fill="url(#g1)"/>
</g>
<path d="M168.7 183.3 182.9 181.7 197 178.4 210.7 173.7 224 167.4 236.8 159.7 248.8 150.6 260 140.1 270.3 128.4 M168.7 183.6 183 182.3 197.1 179.4 211 175 224.4 169.1 237.3 161.7 249.6 152.9 261.1 142.7 271.7 131.2 M168.7 184 183 183.3 197.3 181.1 211.3 177.3 225 172 238.2 165.2 250.9 156.9 262.8 147.2 273.9 136.2 M168.6 184.3 183 184.1 197.3 182.3 211.5 179 225.4 174.1 238.8 167.7 251.7 159.9 263.9 150.6 275.4 139.9 M168.6 184.6 183 184.7 197.4 183.3 211.6 180.4 225.6 175.9 239.2 169.9 252.3 162.4 264.8 153.4 276.5 143 M168.6 184.9 182.9 185.5 197.3 184.5 211.7 182 225.8 178 239.6 172.4 252.9 165.3 265.7 156.7 277.8 146.8 M168.5 185.2 182.8 186.4 197.3 186 211.7 184.1 226 180.6 240 175.6 253.6 169 266.7 161 279.1 151.5 M168.5 185.5 182.7 187.2 197.2 187.2 211.7 185.8 226 182.7 240.2 178.1 254 172 267.4 164.4 280.1 155.3 M168.4 185.9 182.5 188.2 197 189 211.5 188.2 226 185.8 240.4 181.9 254.5 176.4 268.1 169.4 281.3 160.9 M168.3 186.3 182.4 189 196.8 190.3 211.3 190 225.9 188.2 240.4 184.7 254.6 179.8 268.6 173.2 282 165.2 M168.2 186.6 182.2 189.8 196.5 191.6 211 191.8 225.7 190.4 240.3 187.5 254.7 183 268.9 177 282.6 169.4 M168.1 186.8 182 190.5 196.3 192.6 210.8 193.2 225.5 192.2 240.2 189.7 254.7 185.6 269 179.9 282.9 172.7 M168 187 181.8 191.1 196 193.6 210.5 194.5 225.2 194 240 191.8 254.6 188.1 269.1 182.8 283.2 176 M167.9 187.4 181.5 192 195.6 195.1 210 196.6 224.7 196.7 239.6 195.1 254.4 192 269 187.3 283.4 181.1 M167.7 187.6 181.2 192.6 195.2 196 209.7 198 224.4 198.4 239.2 197.3 254.1 194.6 268.9 190.3 283.4 184.4 M167.6 188 180.9 193.4 194.7 197.4 209 200 223.7 201 238.6 200.4 253.6 198.3 268.5 194.6 283.3 189.3 M167.4 188.3 180.4 194.4 194.1 199 208.3 202.1 222.9 203.8 237.8 203.9 252.8 202.4 267.9 199.3 282.9 194.7 M167.2 188.7 180 195.2 193.4 200.4 207.5 204.1 222 206.3 236.9 207 252 206.1 267.2 203.7 282.4 199.7 M167.1 188.8 179.8 195.5 193.1 200.9 207.1 204.8 221.6 207.3 236.5 208.2 251.6 207.6 266.9 205.4 282.1 201.6 M166.9 189.1 179.3 196.3 192.5 202.2 206.3 206.6 220.7 209.6 235.5 211.1 250.7 211 266 209.4 281.3 206.2 M166.7 189.3 178.9 196.9 191.9 203.2 205.6 208.1 219.8 211.5 234.6 213.5 249.7 213.9 265.1 212.8 280.5 210 M166.5 189.6 178.3 197.7 191 204.5 204.5 209.9 218.7 214 233.3 216.5 248.4 217.5 263.8 217 279.4 214.9 M166.2 189.9 177.7 198.5 190.1 205.9 203.3 211.9 217.3 216.5 231.8 219.7 246.8 221.4 262.2 221.5 277.9 220.1 M166 190.1 177.3 199 189.5 206.6 202.6 213 216.4 218 230.9 221.5 245.9 223.6 261.2 224.1 276.9 223.1 M165.8 190.4 176.7 199.7 188.6 207.8 201.4 214.7 215 220.2 229.3 224.3 244.2 227 259.5 228.1 275.2 227.7 M165.5 190.6 176.1 200.3 187.7 208.8 200.3 216.1 213.7 222.1 227.8 226.7 242.6 229.9 257.9 231.6 273.6 231.7 M165.3 190.8 175.5 200.9 186.7 209.8 199 217.6 212.2 224.1 226.2 229.2 240.8 232.9 256.1 235.1 271.8 235.8 M165 191 174.8 201.5 185.7 210.9 197.6 219.2 210.5 226.2 224.3 231.8 238.8 236.1 253.9 239 269.5 240.3 M164.8 191.2 174.2 202 184.8 211.7 196.5 220.3 209.2 227.7 222.8 233.8 237.1 238.5 252.2 241.8 267.8 243.6 M164.5 191.4 173.5 202.5 183.8 212.6 195.1 221.6 207.5 229.5 220.9 236.1 235.1 241.3 250 245.2 265.5 247.5 M164.2 191.6 172.8 203 182.7 213.5 193.8 222.9 205.9 231.1 219 238.2 233 243.9 247.8 248.2 263.2 251.1 M163.9 191.8 172.1 203.5 181.6 214.3 192.2 224.2 204 232.9 216.9 240.4 230.6 246.7 245.2 251.6 260.5 255.1 M163.7 191.9 171.7 203.7 181 214.7 191.5 224.7 203.2 233.7 215.8 241.4 229.5 247.9 244 253.1 259.2 256.8 M163.3 192.1 170.8 204.3 179.5 215.7 189.5 226.2 200.7 235.7 213 244 226.4 251.1 240.6 257 255.6 261.4 M163 192.2 169.9 204.7 178.2 216.5 187.8 227.3 198.7 237.2 210.6 246 223.7 253.7 237.7 260.1 252.5 265.1 M162.7 192.3 169.3 205 177.2 217 186.5 228.2 197 238.4 208.7 247.6 221.5 255.6 235.3 262.4 250 267.9 M162.4 192.4 168.6 205.4 176.1 217.6 185 229.1 195.1 239.6 206.5 249.2 219 257.6 232.6 264.9 247.1 270.9 M162.1 192.6 167.6 205.7 174.7 218.3 183.1 230.1 192.8 241.1 203.7 251.1 215.9 260 229.1 267.8 243.4 274.4 M161.8 192.6 167 206 173.7 218.7 181.7 230.7 191.1 242 201.8 252.3 213.7 261.6 226.7 269.8 240.7 276.7 M161.6 192.7 166.4 206.2 172.6 219.1 180.4 231.4 189.4 242.9 199.8 253.5 211.4 263.1 224.2 271.7 238 279 M161.2 192.8 165.6 206.4 171.4 219.5 178.7 232.1 187.3 243.9 197.3 254.8 208.6 264.9 221.1 273.9 234.6 281.7 M160.8 192.9 164.6 206.6 169.9 220 176.6 232.8 184.8 245 194.3 256.4 205.2 266.8 217.3 276.3 230.5 284.7 M160.5 192.9 163.8 206.8 168.6 220.4 174.8 233.4 182.6 245.8 191.7 257.6 202.2 268.4 213.9 278.3 226.8 287.2 M160.3 192.9 163.2 206.9 167.6 220.6 173.5 233.8 180.9 246.4 189.8 258.4 199.9 269.5 211.4 279.7 224.1 288.9 M159.8 193 162 207.1 165.7 221 171 234.5 177.7 247.4 185.9 259.8 195.5 271.4 206.5 282.2 218.7 292 M159.5 193 161.3 207.2 164.6 221.1 169.5 234.8 175.8 248 183.7 260.5 192.9 272.4 203.5 283.5 215.4 293.7 M159.2 193 160.6 207.2 163.5 221.3 168 235.1 173.9 248.4 181.4 261.2 190.3 273.4 200.6 284.8 212.2 295.3 M158.9 193 159.8 207.3 162.3 221.4 166.3 235.3 171.9 248.8 178.9 261.9 187.4 274.3 197.3 286 208.6 296.9 M158.5 193 158.8 207.3 160.7 221.5 164.1 235.6 169 249.3 175.5 262.7 183.4 275.5 192.8 287.6 203.6 298.9 M158.1 192.9 157.8 207.2 159.1 221.5 161.9 235.7 166.3 249.7 172.2 263.3 179.7 276.4 188.6 288.8 198.9 300.6 M158 192.9 157.3 207.2 158.3 221.5 160.8 235.8 164.9 249.8 170.6 263.5 177.7 276.8 186.3 289.4 196.4 301.4 M157.5 192.9 156.2 207.1 156.5 221.4 158.4 235.8 161.8 250 166.8 263.9 173.3 277.5 181.3 290.6 190.8 303 M157.3 192.8 155.7 207 155.7 221.4 157.2 235.7 160.3 250 164.9 264.1 171.1 277.8 178.8 291.1 188 303.7 M157 192.7 154.9 206.9 154.4 221.2 155.4 235.7 158.1 250 162.3 264.2 168 278.2 175.3 291.6 184 304.6 M156.5 192.6 153.7 206.6 152.5 220.9 152.8 235.4 154.7 249.9 158.1 264.3 163.2 278.5 169.7 292.3 177.8 305.7 M156.4 192.6 153.3 206.5 151.7 220.8 151.8 235.3 153.4 249.8 156.5 264.3 161.3 278.5 167.6 292.5 175.4 306 M156 192.5 152.5 206.3 150.5 220.5 150 235 151.1 249.6 153.8 264.1 158 278.6 163.8 292.7 171.2 306.5 M155.7 192.3 151.6 206 149 220.1 147.9 234.6 148.4 249.2 150.5 263.8 154.1 278.4 159.3 292.8 166.1 306.9 M155.4 192.2 150.8 205.7 147.7 219.7 146.1 234.1 146 248.7 147.6 263.5 150.7 278.2 155.4 292.8 161.7 307.1 M155 192 149.8 205.3 146 219.2 143.8 233.5 143.1 248.1 144 262.9 146.4 277.7 150.5 292.5 156.1 307 M154.8 191.9 149.2 205.1 145.1 218.8 142.4 233.1 141.4 247.6 141.8 262.4 143.9 277.3 147.5 292.2 152.7 306.9 M154.4 191.7 148.4 204.7 143.7 218.3 140.6 232.4 138.9 246.9 138.8 261.7 140.3 276.7 143.4 291.7 148 306.6 M154.2 191.6 147.9 204.4 142.9 217.9 139.4 231.9 137.3 246.4 136.9 261.2 138 276.2 140.7 291.3 145 306.3 M153.9 191.4 147 203.9 141.4 217.1 137.3 231 134.6 245.4 133.5 260.2 133.9 275.2 136 290.4 139.6 305.5 M153.6 191.2 146.2 203.4 140.1 216.4 135.4 230.1 132.3 244.4 130.6 259.1 130.4 274.2 131.9 289.4 134.9 304.7 M153.4 191.1 145.8 203.1 139.4 216 134.5 229.6 131 243.8 129 258.5 128.5 273.5 129.7 288.8 132.4 304.2 M153.1 190.8 144.9 202.5 138 215.1 132.4 228.5 128.3 242.5 125.7 257.1 124.6 272.1 125 287.4 127 302.9 M152.9 190.6 144.3 202.1 137 214.5 131.1 227.7 126.5 241.6 123.4 256 121.8 271 121.8 286.3 123.4 301.8 M152.6 190.3 143.5 201.4 135.7 213.5 129.1 226.4 124 240.1 120.2 254.4 118 269.3 117.3 284.6 118.2 300.1 M152.4 190.2 143.1 201 134.9 212.9 128 225.6 122.5 239.2 118.4 253.4 115.8 268.2 114.7 283.5 115.2 299.1 M152.1 189.9 142.4 200.3 133.7 211.8 126.3 224.3 120.2 237.6 115.5 251.6 112.3 266.3 110.5 281.5 110.3 297.1 M151.9 189.6 141.8 199.8 132.8 211 125 223.2 118.4 236.3 113.3 250.1 109.5 264.7 107.3 279.8 106.5 295.4 M151.8 189.4 141.3 199.2 132 210.2 123.8 222.1 116.9 235.1 111.3 248.8 107.2 263.2 104.5 278.3 103.3 293.9 M151.5 189.1 140.6 198.4 130.7 208.9 122 220.4 114.5 233 108.2 246.4 103.4 260.7 100 275.6 98 291.1 M151.3 188.8 140.1 197.8 129.9 207.9 120.8 219.2 112.9 231.5 106.3 244.8 101 258.9 97.1 273.7 94.7 289.1 M151.1 188.5 139.7 197.1 129.1 206.9 119.6 217.9 111.3 229.9 104.2 243 98.4 256.8 94 271.5 91 286.8 M151 188.3 139.3 196.6 128.5 206.1 118.7 216.8 110 228.6 102.5 241.4 96.3 255.1 91.5 269.6 88.1 284.9 M150.9 188.1 139 196 127.9 205.3 117.8 215.7 108.8 227.3 101 239.9 94.5 253.5 89.3 267.9 85.5 283 M150.7 187.7 138.4 195 126.9 203.7 116.3 213.6 106.7 224.8 98.3 237 91.1 250.2 85.2 264.3 80.6 279.3 M150.5 187.4 138 194.4 126.2 202.7 115.3 212.3 105.4 223.1 96.6 235 89 248 82.6 261.9 77.6 276.7 M150.4 187.1 137.6 193.5 125.5 201.3 114.2 210.5 103.9 220.9 94.6 232.4 86.4 245.1 79.5 258.8 73.9 273.3 M150.3 186.8 137.3 192.9 125 200.4 113.5 209.3 102.9 219.4 93.3 230.7 84.8 243.2 77.5 256.6 71.5 271.1 M150.2 186.6 137.1 192.3 124.5 199.4 112.8 207.9 101.9 217.7 91.9 228.8 83.1 241 75.4 254.2 69 268.5 M150.1 186.3 136.8 191.6 124 198.3 112 206.4 100.7 215.8 90.5 226.5 81.2 238.4 73.1 251.4 66.2 265.4 M150 185.9 136.5 190.7 123.5 197 111.2 204.7 99.6 213.7 88.9 224 79.3 235.6 70.7 248.3 63.3 262.1 M150 185.6 136.3 190 123.1 195.8 110.5 203 98.6 211.6 87.6 221.6 77.5 232.8 68.5 245.2 60.6 258.7 M149.9 185.3 136 189.1 122.6 194.4 109.8 201.2 97.6 209.4 86.2 218.9 75.7 229.7 66.2 241.8 57.8 255 M149.8 184.9 135.8 188.1 122.2 192.9 109.1 199.1 96.5 206.7 84.7 215.8 73.8 226.2 63.8 237.8 54.9 250.6 M149.8 184.6 135.7 187.3 121.9 191.6 108.6 197.4 95.8 204.7 83.7 213.3 72.4 223.3 62.1 234.6 52.7 247.2 M149.8 184.3 135.6 186.7 121.7 190.7 108.2 196.1 95.3 203 83 211.4 71.4 221.1 60.8 232.1 51.1 244.4 M149.7 183.9 135.5 185.7 121.4 188.9 107.7 193.8 94.4 200.1 81.8 207.8 69.8 217 58.6 227.6 48.4 239.4 M149.7 183.7 135.4 185.1 121.3 188.1 107.5 192.6 94.1 198.6 81.2 206.1 69 215 57.6 225.3 47.1 236.9 M149.7 183.4 135.4 184.3 121.2 186.8 107.2 190.8 93.6 196.3 80.5 203.3 68 211.8 56.2 221.7 45.3 232.9 M149.8 183 135.4 183.3 121.1 185.2 107 188.7 93.1 193.6 79.7 200.1 66.9 208.1 54.7 217.5 43.4 228.2 M149.8 182.6 135.4 182.5 121 183.9 106.8 186.8 92.8 191.3 79.2 197.3 66.1 204.8 53.6 213.8 41.9 224.1 M149.8 182.3 135.5 181.7 121.1 182.6 106.7 185.1 92.6 189.1 78.8 194.6 65.4 201.7 52.6 210.2 40.6 220.2 M149.9 182 135.5 180.9 121.1 181.4 106.7 183.4 92.4 187 78.5 192.1 64.9 198.7 51.8 206.8 39.4 216.4 M149.9 181.7 135.7 180 121.2 179.9 106.8 181.4 92.4 184.4 78.2 189 64.4 195.1 51 202.7 38.3 211.8 M150 181.3 135.8 179.1 121.4 178.4 106.9 179.3 92.4 181.8 78 185.8 64 191.3 50.3 198.4 37.2 207 M150.1 181.1 135.9 178.6 121.5 177.6 107 178.1 92.4 180.2 78 183.9 63.8 189.1 50 195.9 36.7 204.2 M150.2 180.8 136.1 177.7 121.8 176.1 107.2 176.1 92.6 177.7 78.1 180.8 63.7 185.5 49.6 191.8 36 199.5 M150.3 180.4 136.4 176.8 122.1 174.7 107.6 174.1 92.9 175.1 78.2 177.7 63.7 181.8 49.4 187.5 35.5 194.7 M150.4 180.1 136.6 176 122.4 173.4 107.9 172.4 93.2 172.9 78.5 175 63.8 178.6 49.3 183.8 35.2 190.6 M150.5 179.8 136.9 175.2 122.8 172.2 108.4 170.6 93.7 170.6 78.8 172.1 64 175.3 49.4 180 35 186.2 M150.7 179.4 137.3 174.2 123.4 170.5 109 168.3 94.3 167.6 79.5 168.5 64.5 170.9 49.7 175 35 180.6 M150.8 179.2 137.6 173.6 123.8 169.5 109.5 166.9 94.8 165.8 79.9 166.2 64.9 168.3 50 171.9 35.2 177 M151 179 137.9 173.1 124.1 168.6 109.9 165.7 95.3 164.2 80.4 164.3 65.3 165.9 50.3 169.2 35.4 174 M151.2 178.6 138.4 172.1 124.9 167 110.8 163.3 96.3 161.1 81.4 160.5 66.3 161.4 51.1 163.9 36 168 M151.3 178.4 138.7 171.5 125.4 166.1 111.4 162.1 96.9 159.5 82 158.5 66.9 159.1 51.7 161.2 36.4 164.9 M151.5 178.1 139.1 170.9 125.9 165.1 112.1 160.7 97.7 157.7 82.8 156.2 67.7 156.3 52.4 158 37 161.2 M151.8 177.8 139.7 170 126.9 163.5 113.3 158.3 99 154.7 84.3 152.5 69.2 151.8 53.8 152.7 38.3 155.2 M152 177.5 140.2 169.3 127.6 162.3 114.2 156.7 100.1 152.5 85.5 149.8 70.4 148.6 55 149 39.4 150.9 M152.2 177.3 140.8 168.6 128.4 161.2 115.2 155.2 101.3 150.5 86.7 147.2 71.7 145.5 56.3 145.3 40.7 146.7 M152.4 177 141.3 168 129.2 160.2 116.2 153.6 102.5 148.5 88.1 144.7 73.1 142.4 57.7 141.7 42.1 142.5 M152.6 176.8 141.8 167.5 129.9 159.3 117.1 152.5 103.5 146.9 89.2 142.8 74.3 140.1 58.9 138.9 43.2 139.3 M152.8 176.7 142.2 167 130.6 158.6 117.9 151.3 104.5 145.4 90.3 140.9 75.5 137.8 60.2 136.2 44.5 136.2 M153.1 176.4 142.9 166.3 131.7 157.4 119.4 149.6 106.2 143.1 92.2 138 77.6 134.3 62.3 132.1 46.6 131.4 M153.3 176.2 143.5 165.8 132.5 156.5 120.4 148.4 107.4 141.6 93.6 136 79.1 131.9 63.9 129.2 48.3 128 M153.7 176 144.3 165.2 133.7 155.4 122 146.8 109.3 139.4 95.8 133.2 81.4 128.5 66.4 125.1 50.8 123.3 M153.9 175.8 144.7 164.8 134.4 154.8 122.9 145.9 110.5 138.1 97.1 131.7 82.8 126.5 67.9 122.8 52.4 120.6 M154.1 175.7 145.3 164.4 135.3 154 124.2 144.7 111.9 136.6 98.7 129.7 84.7 124.2 69.9 120 54.4 117.3 M154.5 175.4 146.3 163.7 136.8 152.9 126 143.1 114.2 134.4 101.4 126.9 87.6 120.7 73 115.9 57.7 112.4 M154.7 175.3 146.7 163.4 137.5 152.4 127 142.4 115.4 133.4 102.7 125.6 89.1 119.1 74.6 113.9 59.4 110.1 M155.1 175.1 147.8 162.8 139.1 151.4 129.1 140.8 118 131.3 105.7 122.9 92.5 115.7 78.3 109.7 63.2 105.2 M155.3 175 148.2 162.6 139.7 151 130 140.3 119 130.5 106.9 121.9 93.8 114.4 79.7 108.2 64.8 103.4 M155.6 174.9 149 162.2 141 150.3 131.7 139.2 121.1 129 109.3 119.9 96.5 111.9 82.7 105.2 68 99.8 M156 174.8 149.8 161.8 142.3 149.6 133.4 138.1 123.3 127.6 111.9 118 99.4 109.6 85.8 102.3 71.3 96.3 M156.2 174.7 150.5 161.6 143.4 149.1 134.9 137.3 125.1 126.5 114 116.6 101.8 107.7 88.4 100 74.1 93.6 M156.6 174.6 151.3 161.3 144.7 148.5 136.6 136.5 127.2 125.3 116.5 115 104.5 105.7 91.5 97.6 77.5 90.6 M156.8 174.5 152 161 145.7 148.1 138 135.9 128.9 124.4 118.5 113.8 106.9 104.1 94.1 95.6 80.3 88.2 M157.2 174.4 152.8 160.8 147 147.7 139.7 135.1 131.1 123.3 121 112.4 109.8 102.3 97.3 93.4 83.7 85.5 M157.5 174.3 153.6 160.6 148.3 147.3 141.4 134.5 133.2 122.4 123.5 111.1 112.6 100.7 100.5 91.3 87.2 83 M157.9 174.3 154.7 160.4 150 146.8 143.8 133.7 136.1 121.3 127 109.5 116.6 98.6 104.9 88.6 92 79.7 M158.2 174.2 155.3 160.3 150.9 146.6 145 133.4 137.7 120.7 128.9 108.7 118.8 97.6 107.3 87.3 94.7 78.1 M158.5 174.2 156 160.1 152.1 146.3 146.6 132.9 139.6 120.1 131.2 107.8 121.4 96.4 110.3 85.8 98 76.2 M158.9 174.2 157.2 160 154 146 149.2 132.4 142.9 119.2 135.1 106.5 125.9 94.6 115.4 83.4 103.5 73.2 M159.3 174.2 158.1 160 155.4 145.9 151.1 132 145.3 118.6 138 105.7 129.3 93.4 119.1 81.9 107.7 71.2 M159.6 174.2 158.9 159.9 156.6 145.8 152.8 131.8 147.5 118.2 140.6 105 132.3 92.5 122.6 80.6 111.4 69.6 M159.8 174.2 159.3 159.9 157.3 145.7 153.8 131.7 148.6 118 142 104.7 133.9 92 124.4 80 113.5 68.8 M160.1 174.2 160.3 160 158.8 145.7 155.8 131.5 151.3 117.6 145.2 104.1 137.6 91.1 128.5 78.7 118.1 67.1 M160.6 174.3 161.4 160 160.7 145.7 158.4 131.4 154.5 117.3 149.1 103.5 142.1 90.2 133.7 77.4 123.8 65.2 M160.8 174.3 161.9 160.1 161.5 145.7 159.5 131.4 155.9 117.2 150.8 103.3 144.2 89.8 136 76.8 126.4 64.5 M161.1 174.4 162.7 160.2 162.8 145.8 161.2 131.5 158.2 117.2 153.5 103.1 147.3 89.4 139.6 76.1 130.4 63.5 M161.5 174.5 163.6 160.3 164.2 146 163.3 131.6 160.7 117.2 156.6 102.9 151 89 143.8 75.5 135.1 62.5 M161.7 174.5 164.3 160.5 165.4 146.2 164.9 131.7 162.8 117.3 159.1 102.9 153.9 88.8 147.1 75 138.8 61.8 M162 174.6 165.1 160.7 166.6 146.4 166.6 131.9 165 117.4 161.8 102.9 157 88.7 150.7 74.7 142.9 61.2 M162.4 174.8 166.1 160.9 168.2 146.8 168.8 132.3 167.9 117.7 165.3 103.1 161.2 88.7 155.5 74.4 148.3 60.6 M162.7 174.9 166.9 161.2 169.5 147.1 170.6 132.7 170.2 118.1 168.1 103.4 164.5 88.8 159.3 74.4 152.5 60.3 M163 175 167.5 161.4 170.6 147.4 172.1 133 172.1 118.4 170.5 103.7 167.3 89 162.5 74.4 156.2 60.2 M163.3 175.1 168.3 161.7 171.8 147.8 173.8 133.5 174.2 118.9 173.1 104.1 170.4 89.3 166.1 74.6 160.3 60.1 M163.6 175.3 169.1 162.1 173.2 148.3 175.8 134.1 176.9 119.5 176.3 104.7 174.2 89.8 170.6 75 165.3 60.3 M163.9 175.5 170 162.5 174.6 148.9 177.7 134.8 179.3 120.2 179.4 105.4 177.9 90.5 174.8 75.5 170.1 60.6 M164.1 175.6 170.5 162.8 175.5 149.3 179 135.3 181 120.8 181.4 106 180.3 91 177.5 75.9 173.2 60.9 M164.4 175.8 171.2 163.2 176.7 149.9 180.6 136 183.1 121.6 184.1 106.8 183.5 91.8 181.3 76.6 177.5 61.5 M164.7 176 172 163.6 177.9 150.6 182.4 136.8 185.5 122.5 187 107.8 186.9 92.7 185.3 77.5 182.1 62.2 M165 176.2 172.8 164.2 179.2 151.3 184.2 137.7 187.8 123.6 189.9 108.9 190.5 93.9 189.5 78.6 186.9 63.2 M165.3 176.4 173.5 164.7 180.4 152 185.9 138.7 190 124.6 192.6 110.1 193.7 95.1 193.3 79.8 191.2 64.3 M165.6 176.6 174.2 165.2 181.6 152.9 187.7 139.8 192.3 125.9 195.6 111.4 197.3 96.5 197.4 81.2 196 65.7 M165.8 176.8 174.8 165.7 182.6 153.7 189.1 140.7 194.2 127 197.9 112.7 200.1 97.8 200.8 82.5 199.8 66.9 M165.9 177 175.2 166.1 183.3 154.2 190.1 141.4 195.5 127.8 199.5 113.5 202 98.7 203 83.4 202.4 67.8 M166.2 177.3 175.9 166.7 184.4 155.2 191.7 142.6 197.7 129.3 202.3 115.2 205.4 100.5 207 85.2 207 69.6 M166.4 177.5 176.5 167.3 185.4 156.1 193.2 143.8 199.6 130.7 204.7 116.7 208.3 102.1 210.4 87 211 71.4 M166.6 177.8 177.1 168 186.4 157 194.6 145 201.5 132.1 207.1 118.4 211.2 104 213.9 88.9 215.1 73.3 M166.9 178.1 177.7 168.7 187.4 158.1 196.1 146.4 203.5 133.8 209.6 120.3 214.3 106 217.6 91.1 219.4 75.6 M167 178.3 178.1 169.3 188.2 159 197.3 147.7 205.1 135.3 211.6 122 216.8 107.8 220.6 93 222.9 77.6 M167.2 178.6 178.7 170 189.1 160.1 198.6 149.1 206.8 137 213.9 123.9 219.6 110 223.9 95.3 226.8 80 M167.4 178.9 179.2 170.8 190.1 161.4 200 150.7 208.7 139 216.3 126.2 222.6 112.6 227.5 98.1 231 82.9 M167.5 179.1 179.5 171.2 190.5 162 200.6 151.5 209.6 140 217.4 127.4 224 113.8 229.2 99.4 233 84.3 M167.7 179.5 180 172 191.4 163.3 201.9 153.3 211.4 142.1 219.8 129.9 226.9 116.6 232.7 102.4 237.1 87.5 M167.9 179.8 180.4 172.8 192.2 164.6 203.1 155 213 144.2 221.8 132.2 229.5 119.3 235.8 105.3 240.8 90.5 M168 180.1 180.8 173.5 192.8 165.6 204 156.4 214.3 146 223.5 134.3 231.6 121.6 238.4 107.9 243.9 93.3 M168.1 180.4 181.1 174.4 193.5 166.9 205 158.1 215.7 148 225.3 136.7 233.8 124.3 241.2 110.9 247.2 96.5 M168.2 180.8 181.5 175.2 194.1 168.3 206 160 217.1 150.3 227.2 139.4 236.2 127.4 244.1 114.2 250.7 100.1 M168.3 181 181.7 175.8 194.5 169.1 206.6 161.1 217.8 151.7 228.2 141 237.5 129.2 245.7 116.2 252.7 102.3 M168.4 181.4 182 176.8 195.1 170.7 207.5 163.3 219.2 154.4 230.1 144.2 239.9 132.8 248.7 120.3 256.3 106.6 M168.5 181.6 182.2 177.3 195.4 171.6 208 164.4 219.9 155.8 231 145.9 241.1 134.8 250.2 122.4 258.1 108.9 M168.5 182 182.4 178.4 195.9 173.3 208.9 166.7 221.2 158.7 232.7 149.3 243.3 138.6 253 126.7 261.5 113.6 M168.6 182.3 182.6 179.2 196.2 174.5 209.4 168.3 221.9 160.7 233.8 151.7 244.8 141.4 254.8 129.8 263.8 117 M168.6 182.6 182.7 179.8 196.5 175.5 209.8 169.7 222.6 162.5 234.7 153.8 245.9 143.8 256.3 132.5 265.6 120 M168.6 183 182.8 180.7 196.7 176.9 210.3 171.6 223.3 164.8 235.7 156.6 247.3 146.9 258.1 136 267.9 123.8" fill="none" stroke="#3a66ac" stroke-width="0.7" opacity="0.2"/>
</g>
<ellipse cx="158.4" cy="183.8" rx="7" ry="7" fill="#262b72"/>
<g clip-path="url(#c2)"><g filter="url(#f2)">
<ellipse cx="442.6" cy="182.9" rx="120.6" ry="118" fill="#f0ea3e"/>
<ellipse cx="442.6" cy="182.9" rx="118.6" ry="116" fill="url(#g2)"/>
<path d="M478.7 171.5 484.6 169.4 490.5 167.2 491.1 168.9 485.1 170.9 479.1 172.8Z" fill="#94c83e" opacity="0.68"/>
<path d="M431.1 103.7 427.1 86.8 422.7 70 424.3 69.8 428.5 86.6 432.2 103.6Z" fill="#c0d83e" opacity="0.78"/>
<path d="M419.2 242.5 413.4 261 408.3 279.7 405.5 278.7 411.1 260.2 417.4 241.8Z" fill="#7cbc3e" opacity="0.68"/>
<path d="M522.4 200.8 537 202.9 551.6 204.6 551.2 206.7 536.6 204.7 522.1 202.3Z" fill="#94c83e" opacity="0.47"/>
<path d="M491.9 218.2 506.1 227 520.5 235.4 518.5 238.1 504.4 229.2 490.6 219.9Z" fill="#a8d040" opacity="0.68"/>
<path d="M407 156 390.4 144.8 373.5 134.2 374.4 132.9 391.2 143.8 407.6 155.3Z" fill="#94c83e" opacity="0.51"/>
<path d="M438.4 251.9 438.5 264 438.9 276.1 437 276 436.8 263.9 437 251.8Z" fill="#a8d040" opacity="0.57"/>
<path d="M444.5 228.4 446.3 246.9 448.7 265.4 446.9 265.5 444.9 246.9 443.5 228.4Z" fill="#94c83e" opacity="0.52"/>
<path d="M400.7 230.5 394.5 238.6 388.4 246.8 386.7 245.3 393 237.3 399.5 229.4Z" fill="#7cbc3e" opacity="0.70"/>
<path d="M485 148.6 490.3 143.8 495.6 138.9 496.6 140.1 491.2 144.9 485.8 149.6Z" fill="#a8d040" opacity="0.57"/>
<path d="M377.5 236 364.6 248.5 352 261.3 350.1 259.2 363 246.6 376.2 234.4Z" fill="#7cbc3e" opacity="0.40"/>
<path d="M403.4 194.9 397.3 197 391.4 199.2 391 198.1 397 196.1 403.1 194.1Z" fill="#94c83e" opacity="0.53"/>
<path d="M418.6 215.4 415 220.7 411.4 226 410.4 225.2 414 220 417.7 214.8Z" fill="#94c83e" opacity="0.66"/>
<path d="M476.8 205.4 483.4 209.4 490.1 213.2 489.6 214 483 210 476.4 205.9Z" fill="#7cbc3e" opacity="0.42"/>
<path d="M498.1 227.2 504.6 231.7 511.1 236.1 510.1 237.4 503.6 232.8 497.2 228.2Z" fill="#7cbc3e" opacity="0.59"/>
<path d="M510.3 206.8 529.7 212 549.4 216.6 548.8 218.1 529.3 213.2 510 207.7Z" fill="#c0d83e" opacity="0.78"/>
<path d="M501.8 186 517.2 185.9 532.5 185.4 532.5 187.2 517.1 187.4 501.7 187.2Z" fill="#94c83e" opacity="0.65"/>
<path d="M381.6 147 374 143.2 366.3 139.4 366.9 138.4 374.6 142.2 382.2 146.2Z" fill="#94c83e" opacity="0.54"/>
<path d="M475.4 209.3 483.1 215.1 491 220.7 489.7 222.2 482 216.3 474.5 210.4Z" fill="#94c83e" opacity="0.41"/>
<path d="M439.5 120.3 437.7 105.6 435.6 90.9 437.6 90.8 439.4 105.5 440.9 120.2Z" fill="#a8d040" opacity="0.69"/>
<path d="M510.1 142.6 515.4 138.9 520.7 135.1 521.7 136.7 516.4 140.4 511 144Z" fill="#a8d040" opacity="0.48"/>
<path d="M439.4 117.1 438.7 110.7 437.9 104.2 440.2 104.1 440.8 110.6 441.3 117.1Z" fill="#7cbc3e" opacity="0.59"/>
<path d="M444.7 225.2 445.7 234.9 446.8 244.5 445.9 244.5 445 234.9 444.2 225.3Z" fill="#94c83e" opacity="0.47"/>
<path d="M489.1 169.3 495.2 167.3 501.2 165.2 501.4 166.1 495.4 168.1 489.4 170.1Z" fill="#c0d83e" opacity="0.42"/>
<path d="M411.4 186.5 394.3 189.1 377.3 192.2 377.2 191.5 394.2 188.5 411.3 186.1Z" fill="#7cbc3e" opacity="0.74"/>
<path d="M452.8 242.1 454.6 249.7 456.5 257.3 454.9 257.6 453.2 249.9 451.6 242.3Z" fill="#a8d040" opacity="0.68"/>
<path d="M413.6 162.1 398.2 152.1 382.5 142.5 383.9 140.5 399.3 150.6 414.3 161.1Z" fill="#c0d83e" opacity="0.51"/>
<path d="M466 145 470.6 136.6 475.2 128.1 476.5 128.9 471.8 137.3 466.9 145.6Z" fill="#c0d83e" opacity="0.74"/>
<path d="M371.6 184 353.6 185.6 335.7 187.7 335.5 184 353.6 182.5 371.7 181.5Z" fill="#94c83e" opacity="0.60"/>
<path d="M403.3 252.8 400.3 259.1 397.4 265.4 395.1 264.2 398.1 257.9 401.3 251.7Z" fill="#94c83e" opacity="0.68"/>
<path d="M518.1 219.5 528.3 223.5 538.5 227.3 537.9 228.6 527.7 224.6 517.6 220.5Z" fill="#94c83e" opacity="0.48"/>
<path d="M392.5 251.4 389.4 256.4 386.3 261.4 384.8 260.3 387.9 255.4 391.1 250.4Z" fill="#a8d040" opacity="0.45"/>
<path d="M409.9 182.6 394.6 183.1 379.3 184 379.3 183.2 394.6 182.5 409.9 182.2Z" fill="#a8d040" opacity="0.77"/>
<path d="M443 229.5 443.6 239.8 444.4 250.1 442.1 250.1 441.7 239.8 441.4 229.5Z" fill="#c0d83e" opacity="0.53"/>
<path d="M403.3 118.5 399.5 113.1 395.6 107.7 397 106.9 400.8 112.4 404.5 117.8Z" fill="#c0d83e" opacity="0.67"/>
<path d="M486.6 181.8 494.3 181.3 501.9 180.7 502 181.8 494.3 182.3 486.6 182.6Z" fill="#a8d040" opacity="0.77"/>
<path d="M510.5 230.4 526.1 239.5 542.1 248.1 539.7 251.4 524.1 242.2 508.8 232.6Z" fill="#94c83e" opacity="0.59"/>
<path d="M400.4 210.4 386.1 220.9 372 232 371 230.6 385.3 219.9 399.9 209.5Z" fill="#94c83e" opacity="0.75"/>
<path d="M491.9 167 498 164.7 504 162.4 504.7 164.5 498.6 166.6 492.4 168.7Z" fill="#94c83e" opacity="0.44"/>
<path d="M470.3 115.5 474.6 102.3 478.6 88.9 480.7 89.8 476.4 103 471.8 116.2Z" fill="#c0d83e" opacity="0.80"/>
<path d="M456.6 150.1 461.1 138.1 465.4 126 467.2 126.7 462.5 138.7 457.6 150.5Z" fill="#7cbc3e" opacity="0.43"/>
<path d="M417.3 227.6 408.9 244.8 401 262.3 398.9 261.2 407.2 243.9 416.1 226.9Z" fill="#7cbc3e" opacity="0.57"/>
<path d="M390.4 173.5 377.8 171.9 365.1 170.6 365.5 168.2 378.2 169.9 390.8 171.9Z" fill="#7cbc3e" opacity="0.54"/>
<path d="M436.8 211.9 435.7 218.8 434.6 225.8 433.9 225.6 435.1 218.7 436.3 211.8Z" fill="#7cbc3e" opacity="0.70"/>
<path d="M499.7 209 516.2 215.3 532.9 221.1 532.2 222.7 515.6 216.6 499.2 210.1Z" fill="#94c83e" opacity="0.41"/>
<path d="M497 149.3 505.5 143.4 513.9 137.2 514.7 138.5 506.2 144.5 497.6 150.3Z" fill="#94c83e" opacity="0.77"/>
<path d="M417.3 228.7 411.2 241.3 405.5 254 404.3 253.4 410.3 240.8 416.5 228.3Z" fill="#7cbc3e" opacity="0.67"/>
<path d="M371.3 211.3 360.3 216.7 349.4 222.2 348.2 219.4 359.3 214.2 370.4 209.2Z" fill="#94c83e" opacity="0.71"/>
<path d="M455.9 241.2 460.4 256.3 465.3 271.3 462.9 271.8 458.4 256.7 454.3 241.5Z" fill="#94c83e" opacity="0.64"/>
<path d="M449.4 238.2 452.6 255.4 456.4 272.6 453.2 273 450 255.7 447.4 238.4Z" fill="#a8d040" opacity="0.63"/>
<path d="M453.4 234.9 455.4 242.4 457.4 249.8 455.4 250.2 453.6 242.7 451.8 235.2Z" fill="#a8d040" opacity="0.62"/>
<path d="M374.4 186.1 366.9 186.9 359.4 187.9 359.3 185.3 366.8 184.6 374.3 184Z" fill="#94c83e" opacity="0.56"/>
<path d="M492.3 215.1 507 223.4 521.9 231.2 521.3 232.2 506.5 224.1 491.9 215.7Z" fill="#94c83e" opacity="0.58"/>
<path d="M455 146.7 460.4 128 465.1 109.1 467 109.6 461.8 128.4 455.9 147Z" fill="#94c83e" opacity="0.68"/>
<path d="M441.7 218.9 441.8 227.2 442 235.4 440.4 235.4 440.4 227.1 440.6 218.9Z" fill="#c0d83e" opacity="0.67"/>
<path d="M394.5 174 377.1 171.8 359.6 170 359.8 168.4 377.3 170.5 394.7 173.1Z" fill="#94c83e" opacity="0.70"/>
<path d="M396.7 136.4 388.3 129 379.8 121.7 380.5 120.9 389 128.3 397.3 135.9Z" fill="#7cbc3e" opacity="0.65"/>
<path d="M417.1 230.7 410.2 245.7 403.8 261 402.4 260.3 409.1 245.2 416.2 230.3Z" fill="#7cbc3e" opacity="0.51"/>
<path d="M380.9 159.8 371.4 156.9 361.7 154.1 362.6 151.8 372.2 154.9 381.6 158Z" fill="#c0d83e" opacity="0.77"/>
<path d="M359.3 183.8 343.2 185.3 327.1 187.3 327 184.5 343.1 182.9 359.3 181.8Z" fill="#94c83e" opacity="0.58"/>
<path d="M453.6 155.2 458.6 140.6 463.3 126 464.6 126.4 459.6 141 454.2 155.4Z" fill="#c0d83e" opacity="0.65"/>
<path d="M472.4 140.4 477.7 131.9 482.9 123.2 484.5 124.3 479.1 132.8 473.6 141.2Z" fill="#94c83e" opacity="0.77"/>
<path d="M478.7 181.4 491.5 180.4 504.2 179 504.3 180.1 491.5 181.2 478.7 182Z" fill="#7cbc3e" opacity="0.73"/>
<path d="M405.2 195.2 399.4 197.4 393.6 199.6 393.3 198.9 399.2 196.7 405 194.7Z" fill="#c0d83e" opacity="0.57"/>
<path d="M404.3 139.6 397.2 132.5 390.1 125.6 391.6 124.2 398.6 131.4 405.4 138.6Z" fill="#c0d83e" opacity="0.69"/>
<path d="M420.4 208.7 412.5 218.7 404.8 228.8 404 228.1 411.9 218.2 419.9 208.3Z" fill="#94c83e" opacity="0.57"/>
<path d="M492.5 241.2 504.7 253.4 517.4 265.2 514.8 267.3 502.5 255.2 490.7 242.6Z" fill="#c0d83e" opacity="0.69"/>
<path d="M525.6 181.7 543.5 180 561.3 177.7 561.4 180.6 543.5 182.4 525.6 183.7Z" fill="#7cbc3e" opacity="0.48"/>
<path d="M464.8 251.1 467.2 257.1 469.7 263.1 468.7 263.4 466.3 257.4 463.9 251.4Z" fill="#7cbc3e" opacity="0.45"/>
<path d="M422.5 212.4 417.7 220.2 412.9 228.1 412 227.5 416.9 219.7 421.9 212Z" fill="#7cbc3e" opacity="0.47"/>
<path d="M444.9 264.8 446.9 281.8 449.4 298.9 446.2 299 444.2 281.9 442.7 264.8Z" fill="#7cbc3e" opacity="0.45"/>
<path d="M466.5 154.3 471.3 148.2 476 141.9 477.2 142.9 472.3 149 467.4 155.1Z" fill="#94c83e" opacity="0.77"/>
<path d="M419.3 139.3 408.7 121.9 397.4 104.9 399.6 103.8 410.4 121.1 420.5 138.7Z" fill="#c0d83e" opacity="0.67"/>
<path d="M401.7 170.3 386.8 166.5 371.9 163.1 372.2 162.1 387.1 165.7 401.9 169.7Z" fill="#c0d83e" opacity="0.50"/>
<path d="M523 156.2 531.6 152.6 540.1 148.8 540.5 150.1 532 153.7 523.4 157.2Z" fill="#7cbc3e" opacity="0.73"/>
<path d="M434.4 217.9 433.1 225 431.8 232 430.1 231.6 431.6 224.6 433.2 217.7Z" fill="#a8d040" opacity="0.67"/>
<path d="M452.4 126.5 453.7 114 454.8 101.5 456.9 101.8 455.4 114.3 453.8 126.7Z" fill="#94c83e" opacity="0.70"/>
<path d="M444.7 143.8 444.8 134.2 444.7 124.5 445.9 124.6 445.7 134.2 445.4 143.9Z" fill="#a8d040" opacity="0.42"/>
<path d="M399.9 174 385.9 171.8 371.8 170 372.2 168.3 386.2 170.5 400.1 173Z" fill="#94c83e" opacity="0.79"/>
<path d="M437.5 230.3 436.6 250.2 436.3 270.2 435.1 270.1 435.7 250.1 436.9 230.2Z" fill="#a8d040" opacity="0.63"/>
<path d="M490.2 187.7 508 188.5 525.8 188.9 525.6 190.6 507.8 189.9 490 188.7Z" fill="#a8d040" opacity="0.54"/>
<path d="M383.2 181.2 371.9 181.5 360.5 182.1 360.6 179.3 371.9 179.1 383.3 179.2Z" fill="#c0d83e" opacity="0.56"/>
<path d="M449 256.2 450.1 263.3 451.4 270.4 449.7 270.5 448.6 263.4 447.6 256.3Z" fill="#7cbc3e" opacity="0.53"/>
<path d="M440.1 232.9 440.1 240.5 440.2 248.1 438.9 248 439 240.4 439.1 232.9Z" fill="#c0d83e" opacity="0.51"/>
<path d="M510.9 209.4 530.3 215.2 550 220.4 548.7 223.7 529.3 217.9 510.1 211.5Z" fill="#7cbc3e" opacity="0.62"/>
<path d="M484 247.1 488.4 253 492.8 258.7 491.6 259.5 487.3 253.7 483 247.8Z" fill="#94c83e" opacity="0.71"/>
<path d="M450.9 236.3 452.4 243.2 453.9 250.2 452.5 250.4 451.1 243.4 449.7 236.4Z" fill="#7cbc3e" opacity="0.58"/>
<path d="M497.5 169.7 514.5 164.5 531.3 158.8 532.1 161.9 515.1 167 497.9 171.6Z" fill="#a8d040" opacity="0.60"/>
<path d="M402.2 109.5 392.4 94.9 382.1 80.6 384.7 79.1 394.6 93.7 404.1 108.6Z" fill="#7cbc3e" opacity="0.62"/>
<path d="M506.9 173.3 521.3 170.1 535.6 166.6 536 168.6 521.5 171.8 507.1 174.6Z" fill="#7cbc3e" opacity="0.50"/>
<path d="M384.8 195.1 377.3 197.1 369.8 199.2 369.4 197.5 376.9 195.6 384.5 193.7Z" fill="#c0d83e" opacity="0.68"/>
<path d="M394.9 164.1 389.1 162.1 383.2 160.2 383.8 158.6 389.7 160.7 395.5 162.8Z" fill="#a8d040" opacity="0.59"/>
<path d="M512.6 153.8 518.1 151.1 523.5 148.4 524.1 149.8 518.7 152.5 513.2 155.1Z" fill="#c0d83e" opacity="0.59"/>
<path d="M481.5 193.7 490.3 195.7 499.1 197.6 498.9 198.6 490.1 196.5 481.3 194.3Z" fill="#c0d83e" opacity="0.42"/>
<path d="M472.9 199.6 487.9 207 503.1 214 501.9 216.1 487 208.6 472.3 200.6Z" fill="#94c83e" opacity="0.63"/>
<path d="M459.4 126.7 462.6 112.7 465.5 98.7 466.8 99 463.7 113 460.3 126.9Z" fill="#c0d83e" opacity="0.42"/>
<path d="M412 209.4 406.7 214.4 401.5 219.4 401 218.9 406.3 213.9 411.6 209Z" fill="#a8d040" opacity="0.79"/>
<path d="M457.6 145.3 462 132.7 466.1 120 467.7 120.6 463.3 133.2 458.6 145.7Z" fill="#94c83e" opacity="0.44"/>
<path d="M468.4 220.6 474.3 228.4 480.4 236.1 479.3 236.9 473.4 229 467.6 221.1Z" fill="#a8d040" opacity="0.62"/>
<path d="M417.9 217.4 411.9 226.7 406.1 236.1 404.9 235.3 411 226 417.2 216.9Z" fill="#c0d83e" opacity="0.50"/>
<path d="M471 167.4 479.7 162.2 488.3 156.8 488.7 157.5 480 162.7 471.2 167.7Z" fill="#94c83e" opacity="0.65"/>
<path d="M501.6 147.7 508.1 143.3 514.5 138.8 515.4 140.3 508.9 144.7 502.4 149Z" fill="#c0d83e" opacity="0.61"/>
<path d="M492.8 211 506.9 217.8 521.1 224.2 519.8 226.5 505.8 219.7 491.9 212.5Z" fill="#7cbc3e" opacity="0.77"/>
<path d="M433.8 220.1 430.4 238.3 427.7 256.7 426.7 256.5 429.7 238.2 433.3 220Z" fill="#94c83e" opacity="0.50"/>
<path d="M441.2 131.3 439.5 111.7 437.1 92.3 438.8 92.2 440.8 111.7 442.2 131.2Z" fill="#a8d040" opacity="0.79"/>
<path d="M467.7 125 471.8 113.5 475.7 101.9 477.8 102.8 473.6 114.3 469.2 125.7Z" fill="#a8d040" opacity="0.53"/>
<path d="M494.1 246.5 504.6 257.4 515.4 268.1 513.5 269.6 503 258.7 492.7 247.5Z" fill="#7cbc3e" opacity="0.42"/>
<path d="M483.2 138.4 494.9 123.6 506.1 108.5 508.3 110.4 496.6 125.2 484.5 139.6Z" fill="#a8d040" opacity="0.70"/>
<path d="M414 242.7 406.8 261.3 400.2 280.2 397.3 279 404.5 260.3 412.3 241.8Z" fill="#94c83e" opacity="0.65"/>
<path d="M471.4 211.9 482.3 221.8 493.4 231.5 492 232.9 481.1 222.9 470.6 212.7Z" fill="#94c83e" opacity="0.77"/>
<path d="M487.4 146.2 496.2 138 504.9 129.7 506.3 131.3 497.4 139.4 488.4 147.3Z" fill="#7cbc3e" opacity="0.76"/>
<path d="M428.6 216.3 422.1 233.9 416.2 251.7 413.8 250.8 420.3 233.2 427.4 215.8Z" fill="#7cbc3e" opacity="0.52"/>
<path d="M381 208.9 368.7 215.1 356.5 221.6 355.3 219 367.7 212.9 380.2 207Z" fill="#94c83e" opacity="0.79"/>
<path d="M475.3 230 480 236 484.8 241.9 483 243.1 478.4 237 474 230.9Z" fill="#7cbc3e" opacity="0.49"/>
<path d="M366.4 190.9 351.7 193.6 337 196.7 336.6 193.1 351.3 190.6 366.1 188.4Z" fill="#c0d83e" opacity="0.57"/>
<path d="M459 151.8 462.1 145.4 465.1 138.9 466.3 139.6 463.2 145.9 459.9 152.3Z" fill="#c0d83e" opacity="0.61"/>
<path d="M461.6 150.2 470 134 477.8 117.5 479.3 118.3 471.1 134.6 462.3 150.6Z" fill="#94c83e" opacity="0.74"/>
<path d="M399.2 200.2 386.9 205.9 374.8 211.8 373.8 209.6 386.2 204.1 398.7 198.8Z" fill="#7cbc3e" opacity="0.48"/>
<path d="M463.9 139.6 467.1 132 470.3 124.4 472 125.2 468.6 132.7 465.1 140.2Z" fill="#94c83e" opacity="0.42"/>
<path d="M397.2 232.3 388.9 242.7 380.9 253.3 379.1 251.8 387.4 241.4 396 231.2Z" fill="#a8d040" opacity="0.55"/>
<path d="M497.9 186.2 514.9 186.2 532 185.7 531.9 187.5 514.8 187.7 497.8 187.3Z" fill="#7cbc3e" opacity="0.51"/>
<path d="M393.5 216.1 378.8 227.5 364.4 239.4 362.6 236.9 377.3 225.5 392.5 214.5Z" fill="#94c83e" opacity="0.78"/>
<path d="M445.1 256.4 446.6 269.6 448.4 282.8 446.3 282.9 444.8 269.7 443.6 256.4Z" fill="#c0d83e" opacity="0.66"/>
<path d="M395.6 116.5 383.3 102 370.5 87.9 374.1 85.4 386.3 99.9 398 114.9Z" fill="#a8d040" opacity="0.58"/>
<path d="M382.8 119.9 372.9 111.2 362.8 102.6 364.2 101.3 374.1 110 383.8 119Z" fill="#7cbc3e" opacity="0.60"/>
<path d="M525.3 200.7 533.1 201.7 540.9 202.7 540.4 205.1 532.6 204 524.8 202.7Z" fill="#94c83e" opacity="0.80"/>
<path d="M441.1 233.5 441.4 244.6 441.8 255.7 440.3 255.6 440 244.6 440 233.5Z" fill="#a8d040" opacity="0.69"/>
<path d="M513.2 200.2 530.9 203.2 548.6 205.6 548.2 207.4 530.5 204.7 512.9 201.4Z" fill="#7cbc3e" opacity="0.74"/>
<path d="M490.3 241.7 502.2 254.2 514.5 266.4 512.8 267.7 500.8 255.3 489.1 242.6Z" fill="#a8d040" opacity="0.67"/>
<path d="M513.6 145.1 525.2 137.6 536.6 130 537.6 131.6 526 139.1 514.3 146.3Z" fill="#7cbc3e" opacity="0.62"/>
<path d="M403.1 128.3 390.6 113.6 377.6 99.2 380.7 97 393.2 111.8 405.1 127Z" fill="#94c83e" opacity="0.70"/>
<path d="M420.2 235 417.6 241.9 415.2 248.8 413.6 248.1 416.2 241.3 418.8 234.5Z" fill="#a8d040" opacity="0.61"/>
<path d="M512.5 182.1 525.8 181 539.1 179.6 539.2 181.1 525.8 182.3 512.5 183.1Z" fill="#94c83e" opacity="0.51"/>
<path d="M455.9 115.9 457.3 104.9 458.5 94 460.9 94.4 459.4 105.3 457.8 116.3Z" fill="#c0d83e" opacity="0.52"/>
<path d="M479.3 140.2 489.1 127.2 498.5 113.9 499.5 114.6 489.8 127.8 479.9 140.6Z" fill="#a8d040" opacity="0.48"/>
<path d="M391.3 210.4 382.2 216 373.2 221.7 372.5 220.5 381.6 214.9 390.8 209.5Z" fill="#7cbc3e" opacity="0.65"/>
<path d="M405.2 117.8 395.7 103.8 385.7 90.2 388.9 88.3 398.4 102.3 407.5 116.6Z" fill="#a8d040" opacity="0.79"/>
<path d="M473.4 158.7 487.3 146.6 500.9 134.1 502.6 136.2 488.6 148.2 474.2 159.8Z" fill="#7cbc3e" opacity="0.75"/>
<path d="M401.2 139.3 391.4 130.2 381.4 121.3 382.7 120.1 392.5 129.2 402.1 138.5Z" fill="#94c83e" opacity="0.49"/>
<path d="M420.3 204 412.9 211.5 405.6 219.2 404.4 218.1 412 210.6 419.7 203.3Z" fill="#94c83e" opacity="0.42"/>
<path d="M502.6 183.1 517.5 182.2 532.5 180.9 532.5 183.8 517.5 184.5 502.5 185Z" fill="#7cbc3e" opacity="0.48"/>
<path d="M456.9 110.2 459 92.8 460.4 75.3 463.6 75.8 461.6 93.3 459.1 110.6Z" fill="#c0d83e" opacity="0.40"/>
<path d="M443 233.3 444.2 250 445.8 266.6 444.3 266.7 443 250 442.2 233.3Z" fill="#a8d040" opacity="0.71"/>
<path d="M514.2 160.9 524.2 157 534.2 153 535 155.5 524.9 159.3 514.8 162.9Z" fill="#c0d83e" opacity="0.78"/>
<path d="M449.1 254 451.8 270.1 455 286.1 453.3 286.2 450.4 270.2 447.9 254.1Z" fill="#a8d040" opacity="0.76"/>
<path d="M416.2 221.1 407.9 234.6 399.9 248.3 398.7 247.5 406.9 233.9 415.5 220.6Z" fill="#a8d040" opacity="0.41"/>
<path d="M492.3 187.4 511.5 188 530.9 188 530.8 189.4 511.5 189.1 492.2 188.1Z" fill="#a8d040" opacity="0.43"/>
<path d="M474.2 195.7 490.8 201.7 507.6 207.1 507 208.7 490.3 202.9 473.9 196.5Z" fill="#94c83e" opacity="0.71"/>
<path d="M428.6 237.9 426.9 247.1 425.2 256.3 424 256 425.8 246.8 427.7 237.6Z" fill="#7cbc3e" opacity="0.46"/>
<path d="M455.6 133.8 457.2 126.5 458.6 119.2 460.6 119.7 458.9 127 457.2 134.2Z" fill="#a8d040" opacity="0.43"/>
<path d="M479.5 211.2 486.8 216.3 494.2 221.3 492.8 223.1 485.6 217.8 478.4 212.4Z" fill="#94c83e" opacity="0.79"/>
<path d="M418.2 256.2 413.5 275.8 409.5 295.5 406.8 294.7 411.3 275.1 416.4 255.6Z" fill="#a8d040" opacity="0.57"/>
<path d="M499.8 191.6 514 192.9 528.1 193.8 527.9 195.3 513.8 194.1 499.7 192.6Z" fill="#7cbc3e" opacity="0.70"/>
<path d="M389.6 248 385.3 254.2 381.1 260.5 379.3 259.2 383.7 253 388.1 246.9Z" fill="#c0d83e" opacity="0.56"/>
<path d="M503.5 244.5 515 254.3 526.8 263.8 525.7 264.9 514 255.2 502.7 245.3Z" fill="#a8d040" opacity="0.41"/>
<path d="M436.3 220 434.4 236 432.9 252.2 430.7 251.8 432.7 235.8 435.2 219.8Z" fill="#a8d040" opacity="0.48"/>
<path d="M395.1 217.7 384.3 226.6 373.8 235.9 372.4 234 383.2 225.1 394.2 216.4Z" fill="#7cbc3e" opacity="0.77"/>
<path d="M458.6 251.2 460.7 257.9 462.8 264.5 461.1 264.9 459.1 258.2 457.2 251.5Z" fill="#7cbc3e" opacity="0.65"/>
<path d="M387.2 174.3 374.6 173.1 361.9 172.1 362 171.1 374.7 172.2 387.3 173.6Z" fill="#7cbc3e" opacity="0.78"/>
<path d="M466.8 202.9 478.8 212 491.1 220.9 489.8 222.3 477.9 213.1 466.2 203.6Z" fill="#7cbc3e" opacity="0.48"/>
<path d="M478.5 168.8 501.6 158.2 524.2 146.8 546.4 134.4 547.2 136.1 524.9 148.2 502.1 159.3 478.8 169.4Z" fill="#5cae3e" opacity="0.49"/>
<path d="M430.3 213.8 426.2 225.6 422.3 237.4 418.6 249.3 417.6 249 421.4 237.1 425.4 225.3 429.8 213.6Z" fill="#3a9a3a" opacity="0.83"/>
<path d="M442.1 180.3 439.2 167.4 436.2 154.6 432.8 141.9 433.5 141.7 436.7 154.5 439.5 167.3 442.1 180.2Z" fill="#4aa43c" opacity="0.58"/>
<path d="M466.2 191.3 474.9 194.2 483.8 196.9 492.6 199.5 492.4 200.2 483.5 197.5 474.8 194.7 466 191.7Z" fill="#2f9239" opacity="0.62"/>
<path d="M460.2 148.2 464.5 138.9 468.6 129.5 472.6 120 473.4 120.4 469.4 129.8 465.2 139.2 460.8 148.5Z" fill="#4aa43c" opacity="0.51"/>
<path d="M409.1 174.2 392.9 170.8 376.7 167.7 360.3 165.1 360.7 163.4 377 166.3 393.2 169.7 409.3 173.5Z" fill="#3a9a3a" opacity="0.60"/>
<path d="M464.3 202.3 474.7 211 485.4 219.5 496.2 227.7 495.3 228.7 484.6 220.3 474.1 211.7 463.9 202.8Z" fill="#4aa43c" opacity="0.81"/>
<path d="M448 193.5 451.5 200.3 455.2 207.1 459 213.9 458.6 214.1 454.9 207.3 451.3 200.4 447.8 193.6Z" fill="#4aa43c" opacity="0.76"/>
<path d="M438.2 175.2 432.6 165.6 426.7 156.2 420.7 146.9 421.2 146.7 427.1 156 432.8 165.5 438.3 175.1Z" fill="#3a9a3a" opacity="0.49"/>
<path d="M447.5 186.9 451.7 190.3 456 193.7 460.3 197.1 460.2 197.3 455.9 193.9 451.6 190.5 447.4 187Z" fill="#2a8c38" opacity="0.76"/>
<path d="M445.5 207 448.5 226.1 452.1 245 456.4 263.8 455.4 264 451.4 245.1 447.9 226.1 445.2 207.1Z" fill="#2f9239" opacity="0.46"/>
<path d="M460.3 210.6 462.4 213.7 464.6 216.9 466.8 220.1 466.3 220.4 464.1 217.2 462 214 459.8 210.8Z" fill="#2a8c38" opacity="0.80"/>
<path d="M412.6 179.8 395.7 178.7 378.8 178 361.8 177.8 361.9 176.7 378.9 177 395.8 177.9 412.7 179.3Z" fill="#2f9239" opacity="0.72"/>
<path d="M442.1 204 442.3 220.1 442.8 236.1 443.9 252.2 442.9 252.2 442.1 236.1 441.7 220.1 441.8 204Z" fill="#2f9239" opacity="0.50"/>
<path d="M455 194.6 462.9 201.7 470.9 208.7 479 215.5 478.7 215.8 470.7 208.9 462.7 201.9 454.9 194.7Z" fill="#4aa43c" opacity="0.54"/>
<path d="M420.1 170.3 408.9 164.4 397.5 158.8 386 153.4 386.4 152.8 397.8 158.3 409.1 164 420.3 170Z" fill="#3a9a3a" opacity="0.83"/>
<path d="M450.5 186.1 465.8 192 481.2 197.4 496.8 202.5 496.5 203.2 481 198 465.7 192.3 450.5 186.3Z" fill="#4aa43c" opacity="0.65"/>
<path d="M428.2 167.6 419.7 159 411 150.6 402.2 142.3 403 141.6 411.7 150 420.3 158.5 428.6 167.3Z" fill="#5cae3e" opacity="0.73"/>
<path d="M437.4 186.3 421.9 197 406.8 208.1 392 219.7 391.4 218.9 406.4 207.5 421.7 196.6 437.4 186.2Z" fill="#3a9a3a" opacity="0.56"/>
<path d="M441.7 163.5 441 153.2 440.1 143 439 132.7 439.9 132.7 440.9 142.9 441.6 153.2 442.1 163.5Z" fill="#3a9a3a" opacity="0.51"/>
<path d="M412.5 177.2 398.8 175.1 385.1 173.3 371.4 171.8 371.6 170.7 385.3 172.4 399 174.4 412.6 176.6Z" fill="#2f9239" opacity="0.75"/>
<path d="M426.6 168.1 422.8 164.8 419 161.5 415.2 158.2 415.7 157.7 419.5 161 423.2 164.4 426.9 167.8Z" fill="#3a9a3a" opacity="0.49"/>
<path d="M436.9 174.8 426.2 160.3 415 146.1 403.4 132.2 404.1 131.7 415.6 145.7 426.6 160.1 437.1 174.7Z" fill="#2a8c38" opacity="0.67"/>
<path d="M455.4 169.1 463.6 159.7 471.7 150.2 479.5 140.5 480.4 141.2 472.4 150.8 464.2 160.2 455.7 169.4Z" fill="#2a8c38" opacity="0.62"/>
<path d="M463.3 160.4 474 147.8 484.4 134.9 494.4 121.6 494.9 122 484.8 135.2 474.3 148.1 463.5 160.6Z" fill="#3a9a3a" opacity="0.49"/>
<path d="M458.2 184.2 467.4 184.8 476.7 185.3 485.9 185.6 485.9 186 476.6 185.6 467.4 185.1 458.2 184.4Z" fill="#4aa43c" opacity="0.76"/>
<path d="M421.8 196.6 413.1 202.6 404.6 208.8 396.2 215.1 395.6 214.2 404.1 208 412.7 202 421.4 196.1Z" fill="#2a8c38" opacity="0.62"/>
<path d="M461.4 206 480.1 226.8 499.7 246.7 520.4 265.8 519.6 266.5 499.1 247.3 479.6 227.2 461.1 206.2Z" fill="#5cae3e" opacity="0.81"/>
<path d="M439 199.5 436.1 215 433.7 230.5 431.6 246.2 430.9 246 433.1 230.4 435.7 214.9 438.8 199.4Z" fill="#3a9a3a" opacity="0.79"/>
<path d="M425.3 199.4 414.7 210.3 404.4 221.4 394.3 232.7 393.7 232.1 403.8 220.9 414.3 209.9 425.1 199.2Z" fill="#2a8c38" opacity="0.52"/>
<path d="M459 203.2 465.3 210.6 471.7 217.9 478.3 225 477.5 225.6 471.1 218.4 464.8 211 458.6 203.6Z" fill="#3a9a3a" opacity="0.49"/>
<path d="M443.5 204.5 443.8 209.7 444.2 214.8 444.6 220 444.1 220 443.8 214.8 443.5 209.7 443.2 204.5Z" fill="#4aa43c" opacity="0.53"/>
<path d="M454.2 195 466.9 207.5 479.9 219.7 493.3 231.5 492.8 232 479.5 220.1 466.6 207.8 454 195.2Z" fill="#3a9a3a" opacity="0.60"/>
<path d="M413.9 172.1 388.9 164 363.6 157 337.9 151 338.4 149.3 364 155.6 389.3 163.1 414.1 171.6Z" fill="#5cae3e" opacity="0.70"/>
<path d="M443.8 148.9 443.8 143.6 443.7 138.2 443.7 132.8 444.1 132.8 444.1 138.2 444.1 143.6 444.1 149Z" fill="#5cae3e" opacity="0.64"/>
<path d="M474.7 180.5 488 179 501.3 177.2 514.5 175.1 514.6 175.7 501.3 177.7 488 179.4 474.7 180.8Z" fill="#2a8c38" opacity="0.64"/>
<path d="M448.8 173.5 455.9 162.4 462.7 151.2 469.2 139.8 469.8 140.1 463.1 151.5 456.2 162.6 449 173.6Z" fill="#2f9239" opacity="0.48"/>
<path d="M472.9 173.8 477.3 172.4 481.7 170.9 486.1 169.4 486.3 170 481.9 171.5 477.5 173 473.1 174.4Z" fill="#3a9a3a" opacity="0.84"/>
<path d="M446 200.7 450.6 221 455.9 241 461.9 260.9 460.8 261.2 455 241.2 450 221.1 445.7 200.8Z" fill="#2a8c38" opacity="0.82"/>
<path d="M475.4 200.7 479.6 202.9 483.9 205 488.3 207.1 488 207.7 483.7 205.5 479.4 203.4 475.1 201.2Z" fill="#2a8c38" opacity="0.66"/>
<path d="M433.3 197.4 427.5 206.8 421.9 216.4 416.5 226 415.6 225.5 421.2 215.9 427 206.5 432.9 197.1Z" fill="#2a8c38" opacity="0.75"/>
<path d="M447.2 185.1 456.7 189.5 466.3 193.7 475.9 197.8 475.6 198.4 466 194.2 456.6 189.8 447.2 185.2Z" fill="#2f9239" opacity="0.79"/>
<path d="M462.4 159.6 471.6 147.8 480.5 135.9 489.1 123.7 490.2 124.6 481.4 136.6 472.3 148.4 462.9 160Z" fill="#5cae3e" opacity="0.80"/>
<path d="M436.9 181.9 420.8 179.2 404.5 176.9 388.3 175.1 388.4 174.2 404.7 176.3 420.9 178.8 437 181.7Z" fill="#2f9239" opacity="0.75"/>
<path d="M471.7 158.9 480.1 151.5 488.2 144 496.3 136.3 497.2 137.4 489.1 144.9 480.8 152.4 472.3 159.6Z" fill="#5cae3e" opacity="0.75"/>
<path d="M478.7 202.4 491 208.3 503.4 214 515.9 219.4 515.2 220.8 502.7 215.2 490.4 209.3 478.3 203.2Z" fill="#5cae3e" opacity="0.55"/>
<path d="M417.4 194.4 393.1 206.8 369.5 220.3 346.4 234.8 345.5 233.1 368.8 218.9 392.7 205.8 417.2 193.9Z" fill="#5cae3e" opacity="0.58"/>
<path d="M437.8 182.2 420.5 180.1 403.1 178.5 385.7 177.4 385.8 176.6 403.2 178 420.5 179.8 437.8 182.2Z" fill="#3a9a3a" opacity="0.56"/>
<path d="M446.1 155.3 446.5 151.5 446.9 147.7 447.2 143.9 448 144 447.7 147.8 447.2 151.6 446.8 155.4Z" fill="#4aa43c" opacity="0.73"/>
<path d="M439.6 188.4 433.7 199.4 428.1 210.5 422.8 221.8 422.4 221.6 427.8 210.4 433.6 199.3 439.5 188.3Z" fill="#2a8c38" opacity="0.51"/>
<path d="M417.3 195 405.8 200.9 394.4 207.2 383.2 213.6 382.8 213 394.1 206.6 405.6 200.5 417.2 194.6Z" fill="#4aa43c" opacity="0.60"/>
<path d="M454.4 177.2 463.9 172.5 473.3 167.5 482.6 162.5 483 163.2 473.6 168.2 464.1 172.9 454.5 177.5Z" fill="#3a9a3a" opacity="0.79"/>
<path d="M468.5 176.8 478.8 174.1 489.1 171.2 499.4 168 499.5 168.4 489.2 171.5 478.9 174.4 468.5 177.1Z" fill="#4aa43c" opacity="0.58"/>
<path d="M428.7 166.9 417.2 154.4 405.3 142.3 393.1 130.5 393.8 129.9 405.9 141.8 417.6 154.1 428.9 166.7Z" fill="#2f9239" opacity="0.67"/>
<path d="M451.5 198.7 459.8 212.6 468.6 226.3 477.7 239.8 476.6 240.4 467.7 226.8 459.2 213 451.1 198.9Z" fill="#4aa43c" opacity="0.56"/>
<path d="M438.3 184.2 422.6 189.4 407 195 391.6 200.9 391.2 199.9 406.8 194.2 422.5 188.9 438.3 184.1Z" fill="#3a9a3a" opacity="0.63"/>
<path d="M422.1 203.7 409.5 217.6 397.2 232 385.5 246.7 384.7 246.1 396.6 231.4 409 217.2 421.9 203.4Z" fill="#3a9a3a" opacity="0.46"/>
<path d="M421 183.5 412.3 183.9 403.6 184.5 394.9 185.1 394.9 184.7 403.6 184.1 412.3 183.6 421 183.2Z" fill="#2a8c38" opacity="0.48"/>
<path d="M431 190.2 422.2 196.1 413.4 202.1 404.7 208.3 404.4 207.8 413.2 201.8 422 195.8 430.9 190.1Z" fill="#2f9239" opacity="0.47"/>
<path d="M440.2 148.5 438.7 135.2 437 122 434.9 108.7 436.4 108.6 438.2 121.9 439.8 135.1 441 148.4Z" fill="#3a9a3a" opacity="0.79"/>
<path d="M406.2 174.6 390.6 171.7 375 169.2 359.3 167.1 359.6 165.6 375.2 167.9 390.8 170.7 406.3 173.8Z" fill="#4aa43c" opacity="0.72"/>
<path d="M434.5 147.4 428.2 125.4 421.1 103.6 413.2 82 415.1 81.5 422.8 103.2 429.5 125.1 435.3 147.3Z" fill="#2a8c38" opacity="0.46"/>
<path d="M444.4 179.6 456.6 155 467.7 129.9 477.5 104.3 478.2 104.6 468.1 130.1 456.9 155.2 444.4 179.6Z" fill="#2f9239" opacity="0.72"/>
<path d="M428 157.8 418.8 143.2 409.1 128.8 399 114.7 400.3 113.9 410.2 128.1 419.6 142.7 428.6 157.5Z" fill="#3a9a3a" opacity="0.78"/>
<path d="M435.3 166.9 430.3 156.6 425.1 146.4 419.8 136.3 420.5 136 425.7 146.1 430.8 156.4 435.6 166.8Z" fill="#2a8c38" opacity="0.79"/>
<path d="M470.1 207.1 480.9 215.9 492 224.4 503.2 232.6 502.3 233.6 491.2 225.2 480.3 216.6 469.6 207.6Z" fill="#2f9239" opacity="0.51"/>
<path d="M439.9 181.1 426.8 173 413.5 165.3 400 157.8 400.2 157.4 413.7 165 426.9 172.9 439.9 181.1Z" fill="#3a9a3a" opacity="0.71"/>
<path d="M446.4 176.9 451.5 168.3 456.5 159.7 461.3 151 461.7 151.2 456.8 159.9 451.7 168.4 446.4 176.9Z" fill="#2f9239" opacity="0.73"/>
<path d="M418.2 153.8 413 148.1 407.7 142.4 402.4 136.8 403 136.2 408.3 141.9 413.5 147.6 418.7 153.4Z" fill="#4aa43c" opacity="0.60"/>
<path d="M450.2 177 466.3 163.6 482 149.7 497.2 135.2 497.6 135.7 482.3 150 466.5 163.8 450.2 177Z" fill="#3a9a3a" opacity="0.63"/>
<path d="M413.9 156.9 404.4 148.9 394.6 141.1 384.7 133.6 385.2 133.1 395 140.7 404.7 148.5 414.2 156.6Z" fill="#2f9239" opacity="0.72"/>
<path d="M428 183.6 419.7 184.2 411.4 184.8 403.1 185.6 403 184.9 411.4 184.2 419.7 183.7 428 183.3Z" fill="#2f9239" opacity="0.61"/>
<path d="M417.3 194.7 404.5 201.2 391.9 208 379.5 215 379.2 214.5 391.7 207.5 404.3 200.8 417.1 194.4Z" fill="#2f9239" opacity="0.78"/>
<path d="M457.1 155.2 462.5 144 467.6 132.8 472.5 121.4 473.6 121.9 468.6 133.2 463.3 144.4 457.7 155.5Z" fill="#4aa43c" opacity="0.65"/>
<path d="M410.5 166.1 391.3 157.2 371.9 148.9 352.2 141.3 353.1 139.4 372.7 147.4 392 156 410.9 165.3Z" fill="#5cae3e" opacity="0.49"/>
<path d="M467.8 155.8 484.3 136.3 499.8 116 514.5 95.1 516.2 96.4 501.2 117.1 485.2 137.1 468.4 156.4Z" fill="#3a9a3a" opacity="0.79"/>
<path d="M424.8 199.5 420.4 203.8 416 208.2 411.6 212.7 411.2 212.2 415.6 207.8 420 203.5 424.5 199.2Z" fill="#5cae3e" opacity="0.62"/>
<path d="M407.7 167 401.4 164.4 395 161.9 388.6 159.4 388.8 158.9 395.2 161.4 401.6 164 407.9 166.7Z" fill="#5cae3e" opacity="0.50"/>
<path d="M426.8 200.6 420.2 208.4 413.8 216.3 407.5 224.3 407 223.9 413.4 215.9 419.9 208.1 426.5 200.4Z" fill="#2f9239" opacity="0.52"/>
<path d="M458.9 212.5 464.1 221.2 469.5 229.9 475.1 238.5 474.2 239 468.7 230.3 463.4 221.6 458.3 212.8Z" fill="#2a8c38" opacity="0.56"/>
<path d="M435.6 175.5 424.6 164.4 413.2 153.5 401.6 142.9 402.3 142.2 413.7 153 424.9 164 435.7 175.4Z" fill="#2f9239" opacity="0.63"/>
<path d="M432.7 175 408.5 157.2 383.4 140.6 357.5 125.2 358.2 124.2 384 139.9 408.9 156.8 432.8 174.9Z" fill="#2f9239" opacity="0.63"/>
<path d="M476.2 182.8 484.7 182.5 493.3 182 501.9 181.5 501.9 182.5 493.3 183 484.7 183.3 476.2 183.5Z" fill="#5cae3e" opacity="0.57"/>
<path d="M471.3 159.6 476.1 155.5 480.9 151.2 485.6 147 486.1 147.6 481.4 151.8 476.6 156 471.7 160.1Z" fill="#3a9a3a" opacity="0.61"/>
<path d="M432 201.1 421.9 220 412.4 239.2 403.7 258.8 403.1 258.5 412 239 421.6 219.8 431.8 201Z" fill="#2a8c38" opacity="0.73"/>
<path d="M469 174.7 478.7 171.3 488.4 167.8 498 164.1 498.3 165 488.7 168.6 478.9 172 469.1 175.2Z" fill="#5cae3e" opacity="0.50"/>
<path d="M446.8 157.9 448.9 142.7 450.5 127.4 451.7 112.1 452.9 112.2 451.5 127.6 449.6 142.8 447.3 158Z" fill="#5cae3e" opacity="0.74"/>
<path d="M450.6 185.9 463.6 190.6 476.7 195 489.9 199.1 489.6 199.9 476.5 195.6 463.4 191 450.5 186.1Z" fill="#2f9239" opacity="0.69"/>
<path d="M448.8 187 460.9 194.6 473.1 201.9 485.5 209 485 209.8 472.7 202.5 460.6 195 448.7 187.1Z" fill="#4aa43c" opacity="0.57"/>
<path d="M413.2 194.9 406.1 198 399 201.3 392 204.6 391.8 204.2 398.9 200.9 406 197.7 413.1 194.6Z" fill="#2a8c38" opacity="0.81"/>
<path d="M455.1 154.4 463 133.8 470.1 112.9 476.5 91.7 478.1 92.3 471.4 113.4 463.9 134.2 455.6 154.7Z" fill="#2a8c38" opacity="0.52"/>
<path d="M403.8 189.6 386.8 193.4 369.8 197.6 352.9 202.4 352.6 201 369.5 196.4 386.6 192.4 403.7 188.9Z" fill="#4aa43c" opacity="0.65"/>
<path d="M445.9 216 447.9 230.2 450.2 244.3 452.9 258.4 451.4 258.6 448.9 244.5 446.8 230.3 445.1 216.1Z" fill="#4aa43c" opacity="0.63"/>
<path d="M425 164.8 411 151.5 396.6 138.6 381.7 126.2 382.6 125.3 397.3 137.9 411.6 151 425.3 164.5Z" fill="#2a8c38" opacity="0.66"/>
<path d="M428.3 173.7 421.9 169.8 415.5 166 409.1 162.3 409.5 161.6 415.9 165.5 422.2 169.4 428.5 173.4Z" fill="#2a8c38" opacity="0.51"/>
<path d="M405.8 186.3 394.7 187.8 383.7 189.4 372.7 191.2 372.6 190.2 383.6 188.5 394.6 187 405.7 185.7Z" fill="#2f9239" opacity="0.80"/>
<path d="M432.5 186 414.5 192.1 396.7 198.7 379.1 205.9 378.9 205.2 396.5 198.2 414.4 191.8 432.5 185.9Z" fill="#5cae3e" opacity="0.60"/>
<path d="M466.9 198.7 483.7 208.6 500.8 218 518.2 227 517.2 228.5 500 219.3 483 209.5 466.5 199.2Z" fill="#4aa43c" opacity="0.57"/>
<path d="M417.2 168.3 403.5 161 389.6 154.1 375.5 147.5 375.9 146.8 389.9 153.5 403.8 160.5 417.4 168Z" fill="#3a9a3a" opacity="0.50"/>
<path d="M439.9 196 435.1 223.1 431.7 250.5 429.6 278 427.8 277.7 430.3 250.2 434.3 222.9 439.6 195.9Z" fill="#5cae3e" opacity="0.63"/>
<path d="M438.4 189.2 435.7 193.3 433 197.5 430.4 201.6 430.1 201.4 432.8 197.3 435.5 193.2 438.3 189.1Z" fill="#4aa43c" opacity="0.72"/>
<path d="M456.6 159.9 464.9 145.2 472.7 130.3 480 115.1 480.8 115.6 473.3 130.6 465.4 145.5 456.9 160.1Z" fill="#4aa43c" opacity="0.54"/>
<path d="M469.3 183 487.6 182.4 505.9 181.2 524.2 179.6 524.2 180.4 506 182 487.6 182.9 469.3 183.3Z" fill="#3a9a3a" opacity="0.52"/>
<path d="M446.2 176.5 457.8 154.2 468.5 131.5 478.2 108.3 479.3 108.8 469.3 131.9 458.3 154.5 446.3 176.6Z" fill="#2f9239" opacity="0.66"/>
<path d="M441.7 186.7 436.4 214.2 432.3 242 429.6 269.9 428.2 269.7 431.3 241.8 435.8 214.1 441.7 186.7Z" fill="#2f9239" opacity="0.70"/>
<path d="M475.9 192.2 498 197.2 520.3 201.4 542.7 204.9 542.5 205.9 520 202.3 497.8 197.8 475.8 192.6Z" fill="#5cae3e" opacity="0.84"/>
<path d="M461.9 215 465.1 220 468.5 225 471.8 230 470.9 230.5 467.6 225.5 464.4 220.4 461.2 215.4Z" fill="#4aa43c" opacity="0.51"/>
<path d="M439.6 183.9 425.9 188.9 412.3 194.3 398.9 199.9 398.7 199.6 412.2 194 425.9 188.8 439.6 183.9Z" fill="#4aa43c" opacity="0.48"/>
<path d="M416.6 154 407.9 145.2 399.1 136.5 390.1 128 391 127.1 400 135.7 408.7 144.5 417.2 153.5Z" fill="#3a9a3a" opacity="0.80"/>
<path d="M462.6 190.1 483.7 196.9 505 202.9 526.6 208.2 526 209.9 504.5 204.3 483.3 197.8 462.4 190.6Z" fill="#3a9a3a" opacity="0.51"/>
<path d="M465.2 188.7 481.2 192.2 497.3 195.3 513.5 198 513.4 198.7 497.2 195.9 481.1 192.6 465.1 188.9Z" fill="#2f9239" opacity="0.56"/>
<path d="M449.4 182.1 470 179.2 490.5 175.6 510.9 171.4 511.1 172.4 490.7 176.4 470.1 179.7 449.4 182.2Z" fill="#5cae3e" opacity="0.56"/>
<path d="M435.5 191.1 426.6 201.9 417.8 213 409.3 224.2 408.5 223.5 417.1 212.4 426.1 201.6 435.3 190.9Z" fill="#5cae3e" opacity="0.78"/>
<path d="M436 203.9 433.9 211.4 431.8 218.9 429.9 226.4 429.3 226.2 431.3 218.7 433.4 211.2 435.7 203.8Z" fill="#4aa43c" opacity="0.62"/>
<path d="M441.2 154.2 440.7 148.3 440.2 142.3 439.6 136.4 440.3 136.4 440.8 142.3 441.3 148.2 441.7 154.2Z" fill="#2a8c38" opacity="0.82"/>
<path d="M469.9 186.1 481.3 187.1 492.8 187.9 504.3 188.5 504.2 189.8 492.7 189 481.2 188 469.8 186.8Z" fill="#4aa43c" opacity="0.81"/>
<path d="M462 159.8 473.8 144.6 485 129 495.8 113.1 496.6 113.7 485.7 129.5 474.3 145 462.3 160Z" fill="#3a9a3a" opacity="0.84"/>
<path d="M460.3 176.8 480.8 168.9 500.9 160.3 520.8 151 521.1 151.8 501.2 161 480.9 169.3 460.4 177Z" fill="#2f9239" opacity="0.73"/>
<path d="M410.8 158.4 394.5 147.1 377.9 136.3 360.9 126.1 361.3 125.5 378.3 135.8 394.8 146.7 411 158.1Z" fill="#5cae3e" opacity="0.46"/>
<path d="M450.1 193.8 459.9 207.3 470.1 220.6 480.6 233.5 480.1 233.9 469.7 220.8 459.6 207.5 450 193.9Z" fill="#3a9a3a" opacity="0.57"/>
<path d="M410.2 168.7 400.8 165 391.3 161.4 381.7 158 382.1 157 391.7 160.5 401.1 164.2 410.5 168.1Z" fill="#3a9a3a" opacity="0.71"/>
<path d="M476.6 194.9 485.7 197.8 494.9 200.5 504.1 203.1 503.7 204 494.6 201.3 485.5 198.5 476.4 195.5Z" fill="#2a8c38" opacity="0.78"/>
<path d="M427.7 164.3 423.2 158.9 418.6 153.6 414 148.3 414.6 147.8 419.2 153.1 423.7 158.5 428.1 164Z" fill="#5cae3e" opacity="0.64"/>
<path d="M445.8 189 451.1 199 456.6 208.8 462.3 218.6 461.8 218.9 456.2 209 450.8 199.1 445.7 189.1Z" fill="#2a8c38" opacity="0.76"/>
<path d="M444.3 169.1 446.1 149.8 447.2 130.5 447.7 111.2 449.2 111.3 448.3 130.7 446.8 149.9 444.6 169.1Z" fill="#4aa43c" opacity="0.46"/>
<path d="M465.1 194.5 483.8 203.3 502.9 211.4 522.3 218.9 521.8 219.8 502.6 212.1 483.6 203.8 464.9 194.8Z" fill="#3a9a3a" opacity="0.48"/>
<path d="M417.6 204.7 411 210.9 404.5 217.1 398.1 223.5 397.7 223 404.1 216.7 410.6 210.5 417.3 204.4Z" fill="#3a9a3a" opacity="0.66"/>
<path d="M423.1 185.2 413 186.7 403 188.3 393 190 393 189.5 403 187.8 413 186.3 423.1 185Z" fill="#5cae3e" opacity="0.84"/>
<path d="M461.9 164.7 479.8 146.3 496.8 127.2 513.1 107.3 513.9 108.1 497.5 127.8 480.2 146.8 462.1 164.9Z" fill="#2f9239" opacity="0.77"/>
<path d="M466 212.7 482.6 231.7 500 250 518.3 267.6 517.4 268.4 499.3 250.7 482 232.2 465.6 213Z" fill="#2f9239" opacity="0.62"/>
<path d="M420.2 188.5 398.6 194.7 377.2 201.7 356.1 209.6 355.7 208.2 376.9 200.7 398.4 193.9 420.1 188.1Z" fill="#2a8c38" opacity="0.54"/>
<path d="M427 153.3 425.1 149.9 423.1 146.4 421.1 142.9 421.8 142.5 423.8 146 425.8 149.5 427.7 153Z" fill="#4aa43c" opacity="0.57"/>
<path d="M438.1 183.8 425.4 186.6 412.8 189.6 400.2 192.9 400.1 192.6 412.7 189.4 425.4 186.4 438.1 183.8Z" fill="#3a9a3a" opacity="0.66"/>
<path d="M447.6 192.1 455.3 205.4 463.3 218.5 471.7 231.4 471.1 231.7 462.9 218.7 455 205.6 447.5 192.2Z" fill="#4aa43c" opacity="0.68"/>
<path d="M443.3 176.1 444.1 166.9 444.8 157.8 445.4 148.6 446.1 148.6 445.4 157.8 444.5 167 443.5 176.1Z" fill="#3a9a3a" opacity="0.62"/>
<path d="M447.2 182.8 463.2 182.3 479.2 181.4 495.1 180.1 495.2 180.6 479.2 181.8 463.2 182.6 447.2 182.9Z" fill="#3a9a3a" opacity="0.84"/>
<path d="M430.2 187 410.4 194.2 391 202.1 371.8 210.6 371.4 209.6 390.7 201.3 410.3 193.7 430.1 186.8Z" fill="#2f9239" opacity="0.82"/>
<path d="M404.6 188.1 392 190.4 379.4 192.9 366.8 195.6 366.6 194.4 379.2 191.8 391.9 189.4 404.5 187.4Z" fill="#4aa43c" opacity="0.68"/>
<path d="M409.8 175.8 383.6 171.5 357.3 168.4 330.8 166.3 331 165 357.5 167.3 383.8 170.8 409.9 175.4Z" fill="#5cae3e" opacity="0.53"/>
<path d="M407.2 172.3 387.7 167.5 368.1 163.2 348.3 159.6 348.6 158.5 368.3 162.3 388 166.7 407.4 171.8Z" fill="#5cae3e" opacity="0.49"/>
<path d="M449.6 174.4 459.7 161.4 469.4 148.1 478.8 134.6 479.7 135.3 470.1 148.6 460.1 161.7 449.7 174.5Z" fill="#4aa43c" opacity="0.80"/>
<path d="M446.5 186.8 454.3 194.2 462.2 201.5 470.2 208.7 470 209 462 201.7 454.2 194.3 446.5 186.8Z" fill="#2f9239" opacity="0.77"/>
<path d="M425.2 158.8 409.5 138.9 393 119.8 375.6 101.3 376.6 100.4 393.9 119.1 410.2 138.5 425.6 158.5Z" fill="#2f9239" opacity="0.78"/>
<path d="M441.3 206.8 441 224 441.2 241.1 441.9 258.2 441.1 258.2 440.6 241.1 440.5 223.9 441 206.8Z" fill="#2a8c38" opacity="0.62"/>
<path d="M422 167.7 413.4 161.7 404.6 155.8 395.7 150.1 396.2 149.4 405 155.2 413.7 161.2 422.3 167.3Z" fill="#3a9a3a" opacity="0.71"/>
<path d="M420.7 182.2 393.8 182.3 367 183.7 340.2 186.2 340.2 185.2 367 182.9 393.8 181.8 420.7 181.9Z" fill="#5cae3e" opacity="0.57"/>
<path d="M441 211.6 440.8 223.9 440.8 236.2 441 248.5 440 248.5 439.9 236.2 440 223.9 440.5 211.6Z" fill="#2a8c38" opacity="0.73"/>
<path d="M466.1 163 472 157.7 477.8 152.3 483.6 146.9 484.1 147.4 478.3 152.8 472.4 158.1 466.5 163.4Z" fill="#2f9239" opacity="0.61"/>
<path d="M447 152.7 447.7 146.8 448.3 140.9 448.9 135 449.8 135.1 449.2 141 448.5 146.9 447.7 152.8Z" fill="#5cae3e" opacity="0.56"/>
<path d="M432.1 165 426.8 156.4 421.3 147.9 415.7 139.6 416.1 139.4 421.6 147.8 427 156.3 432.3 164.9Z" fill="#5cae3e" opacity="0.82"/>
<path d="M451.8 163.5 454.3 158.1 456.7 152.6 459 147.1 459.6 147.4 457.2 152.9 454.7 158.3 452.2 163.7Z" fill="#5cae3e" opacity="0.75"/>
<path d="M436.1 183.2 432.3 183.3 428.6 183.6 424.9 183.8 424.9 183.5 428.6 183.4 432.3 183.2 436.1 183.1Z" fill="#2f9239" opacity="0.51"/>
<path d="M426.8 165.4 413.7 151.7 400 138.5 386 125.6 386.7 124.9 400.7 137.9 414.1 151.3 427.1 165.1Z" fill="#3a9a3a" opacity="0.62"/>
<path d="M439.8 191.1 435.4 205.3 431.2 219.6 427.5 234.1 426.6 233.8 430.5 219.4 434.9 205.2 439.7 191Z" fill="#5cae3e" opacity="0.63"/>
<path d="M450.8 210.1 457.9 230.5 465.8 250.6 474.4 270.4 473.4 270.8 465 250.8 457.3 230.6 450.4 210.2Z" fill="#2f9239" opacity="0.51"/>
<path d="M460.8 159.5 464.2 155 467.5 150.4 470.7 145.8 471.4 146.4 468.1 150.9 464.7 155.4 461.3 159.9Z" fill="#4aa43c" opacity="0.57"/>
<path d="M449.9 202.5 452.1 207.8 454.2 213.2 456.5 218.5 456.1 218.6 453.9 213.3 451.8 207.9 449.7 202.5Z" fill="#4aa43c" opacity="0.69"/>
<path d="M429.9 204.8 423.7 216.3 417.8 227.9 412.1 239.6 411.2 239.1 417 227.5 423.1 216 429.5 204.6Z" fill="#2a8c38" opacity="0.67"/>
<path d="M442.9 177.8 443.4 169.1 443.8 160.3 444 151.5 444.5 151.6 444.1 160.3 443.6 169.1 443 177.9Z" fill="#2f9239" opacity="0.77"/>
<path d="M420.8 182 409.1 181.8 397.3 181.8 385.6 182.1 385.6 181.3 397.4 181.2 409.1 181.3 420.8 181.6Z" fill="#4aa43c" opacity="0.68"/>
<path d="M439.2 193.6 433.9 212.3 429.2 231.1 425.1 250.1 424.3 249.9 428.5 230.9 433.5 212.1 439.1 193.5Z" fill="#4aa43c" opacity="0.49"/>
<path d="M453.3 184.9 463 186.6 472.7 188.1 482.4 189.4 482.4 189.8 472.6 188.4 462.9 186.8 453.3 185Z" fill="#5cae3e" opacity="0.54"/>
<path d="M418.1 166.7 413.6 163.8 409.1 161 404.5 158.3 404.8 157.8 409.4 160.6 413.9 163.4 418.4 166.3Z" fill="#4aa43c" opacity="0.76"/>
<path d="M442.5 214.1 443.5 235.8 445.3 257.4 447.9 279.1 447.2 279.1 444.7 257.5 443.1 235.8 442.3 214.1Z" fill="#3a9a3a" opacity="0.75"/>
<path d="M437.8 199.8 436.6 204.1 435.5 208.4 434.4 212.8 433.9 212.6 435.1 208.3 436.2 204 437.5 199.7Z" fill="#5cae3e" opacity="0.74"/>
<path d="M426.6 182.8 398.4 183.7 370.2 185.9 342.1 189.4 342.1 188.2 370.2 185 398.4 183.2 426.6 182.6Z" fill="#5cae3e" opacity="0.71"/>
<path d="M441.2 198.7 440.2 217.4 439.7 236.1 439.8 254.8 438.7 254.8 438.8 236.1 439.6 217.4 440.9 198.7Z" fill="#3a9a3a" opacity="0.66"/>
<path d="M419.4 177.1 410.4 175.1 401.4 173.2 392.3 171.5 392.4 171 401.5 172.8 410.5 174.8 419.5 176.9Z" fill="#5cae3e" opacity="0.47"/>
<path d="M439.7 181.6 429.2 177.3 418.7 173.1 408.1 169.1 408.3 168.6 418.9 172.7 429.3 177.1 439.7 181.6Z" fill="#4aa43c" opacity="0.79"/>
<path d="M459.4 201.4 467 209.3 474.8 217.1 482.7 224.7 481.9 225.4 474.1 217.6 466.5 209.8 459 201.7Z" fill="#4aa43c" opacity="0.49"/>
<path d="M468.1 196.2 488 205.6 508.3 214.3 528.9 222.3 528.6 222.9 508 214.8 487.8 206 468 196.5Z" fill="#3a9a3a" opacity="0.77"/>
<path d="M440.1 151.8 439.3 144.6 438.4 137.4 437.5 130.1 438.1 130.1 439 137.3 439.8 144.5 440.6 151.8Z" fill="#5cae3e" opacity="0.77"/>
<path d="M432.1 206 422 230.8 413.2 256.1 405.5 281.7 404.6 281.4 412.5 255.8 421.6 230.6 431.8 205.9Z" fill="#3a9a3a" opacity="0.85"/>
<path d="M453.7 186.2 476.9 192.3 500.4 197.4 524 201.7 523.7 203.1 500.1 198.5 476.7 192.9 453.7 186.4Z" fill="#3a9a3a" opacity="0.56"/>
<path d="M428.3 187.8 404 197 380 207.3 356.6 218.6 356.3 218 379.8 206.8 403.8 196.7 428.2 187.7Z" fill="#2f9239" opacity="0.58"/>
<path d="M417.3 183.9 396.3 185.6 375.4 188 354.5 191 354.4 189.9 375.3 187 396.3 184.9 417.3 183.6Z" fill="#5cae3e" opacity="0.58"/>
<path d="M418.6 215.6 412.5 224.8 406.5 234 400.8 243.4 399.9 242.8 405.7 233.5 411.8 224.3 418.1 215.2Z" fill="#2a8c38" opacity="0.54"/>
<path d="M459.4 169.9 468.7 162.2 477.9 154.3 486.9 146.2 487.3 146.7 478.2 154.7 468.9 162.5 459.5 170.1Z" fill="#2a8c38" opacity="0.53"/>
<path d="M436 179.1 413.2 166.9 389.8 155.6 365.9 145.3 366.4 144.4 390.2 154.9 413.4 166.5 436.1 179.1Z" fill="#2f9239" opacity="0.70"/>
<path d="M460.5 192.2 478.2 200.6 496.1 208.4 514.3 215.6 514.1 216.2 495.9 208.8 478 200.8 460.5 192.3Z" fill="#3a9a3a" opacity="0.57"/>
<path d="M460.5 202.5 467 209.3 473.6 216 480.4 222.5 479.6 223.2 473 216.5 466.5 209.8 460.1 202.9Z" fill="#5cae3e" opacity="0.61"/>
<path d="M458.4 148.7 466.9 127.4 474.6 105.9 481.5 84 483.3 84.7 476.1 106.5 468.1 127.9 459.1 149Z" fill="#2f9239" opacity="0.47"/>
<path d="M454.5 171.4 458.5 167.4 462.4 163.4 466.3 159.3 466.6 159.6 462.6 163.6 458.6 167.6 454.6 171.6Z" fill="#2a8c38" opacity="0.72"/>
<path d="M455.5 189.9 477.5 201 500.1 211.3 523 220.6 522.1 222.3 499.4 212.5 477.1 201.8 455.3 190.2Z" fill="#3a9a3a" opacity="0.82"/>
<path d="M457.4 168.9 464.6 161.8 471.6 154.6 478.4 147.3 479 147.8 472 155 464.9 162.1 457.7 169.1Z" fill="#2a8c38" opacity="0.49"/>
<path d="M439.6 209.2 438.8 218.7 438.2 228.2 437.7 237.7 437 237.6 437.6 228.1 438.3 218.6 439.2 209.1Z" fill="#4aa43c" opacity="0.76"/>
<path d="M437.7 154.9 433.8 137.3 429.4 119.7 424.5 102.3 425.3 102.2 430.1 119.6 434.4 137.2 438 154.9Z" fill="#4aa43c" opacity="0.52"/>
<path d="M468.5 159.1 484.8 142.7 500.5 125.6 515.5 107.9 517 109.4 501.7 126.9 485.8 143.6 469.1 159.7Z" fill="#3a9a3a" opacity="0.57"/>
<path d="M452.1 165.6 456.2 157.6 460.2 149.6 464.1 141.6 464.5 141.8 460.6 149.8 456.5 157.8 452.3 165.7Z" fill="#2f9239" opacity="0.78"/>
<path d="M431.7 166 416.8 144.9 400.9 124.5 384.2 104.7 385.1 104 401.7 124 417.3 144.6 431.9 165.9Z" fill="#2f9239" opacity="0.70"/>
<path d="M442.7 190.1 442.8 197.6 443 205.2 443.4 212.7 442.8 212.7 442.6 205.2 442.5 197.6 442.5 190.1Z" fill="#2a8c38" opacity="0.48"/>
<path d="M440.3 201.7 439.3 212.5 438.5 223.3 437.9 234.2 437.3 234.1 438 223.3 438.9 212.5 440.1 201.7Z" fill="#4aa43c" opacity="0.62"/>
<path d="M458.5 161.3 464 153.3 469.5 145.1 474.7 136.9 475.1 137.2 469.8 145.4 464.3 153.5 458.7 161.5Z" fill="#2f9239" opacity="0.70"/>
<path d="M451.5 179.8 461.3 176.1 471.2 172.2 480.9 168.2 481.2 168.9 471.4 172.7 461.5 176.4 451.5 179.9Z" fill="#3a9a3a" opacity="0.56"/>
<path d="M433.8 176.7 427.9 172.6 422 168.6 416 164.7 416.3 164.2 422.3 168.2 428.2 172.3 434 176.5Z" fill="#4aa43c" opacity="0.58"/>
<path d="M419.9 164 412.6 158.2 405.1 152.6 397.5 147 397.8 146.7 405.3 152.3 412.8 158 420.1 163.8Z" fill="#5cae3e" opacity="0.47"/>
<path d="M478.6 171.9 490.4 167.7 502.1 163.4 513.8 158.7 514 159.4 502.3 164 490.5 168.3 478.7 172.3Z" fill="#2f9239" opacity="0.67"/>
<path d="M462.7 199 473.9 207.5 485.3 215.7 497 223.7 496.3 224.5 484.8 216.4 473.4 208 462.3 199.4Z" fill="#2a8c38" opacity="0.48"/>
<path d="M438.7 183.6 423.2 186.5 407.7 189.8 392.4 193.5 392.2 192.7 407.6 189.2 423.1 186.2 438.6 183.5Z" fill="#4aa43c" opacity="0.68"/>
<path d="M448.1 216.6 450 226.4 452.1 236.2 454.4 246 453.1 246.2 450.9 236.4 449 226.6 447.2 216.7Z" fill="#5cae3e" opacity="0.49"/>
<path d="M445.1 202 448.1 220.2 451.7 238.3 455.8 256.3 454.3 256.6 450.4 238.5 447.2 220.3 444.7 202.1Z" fill="#2a8c38" opacity="0.62"/>
<path d="M466.3 188.5 474 190.1 481.7 191.6 489.4 193 489.3 193.5 481.6 192 473.9 190.4 466.2 188.8Z" fill="#2a8c38" opacity="0.59"/>
<path d="M461 157.4 469.7 144.1 478.1 130.6 486.1 116.9 486.7 117.3 478.6 130.9 470.1 144.3 461.2 157.5Z" fill="#2a8c38" opacity="0.59"/>
<path d="M437 201.5 434.1 211.9 431.4 222.3 429 232.8 428.3 232.6 430.9 222.2 433.7 211.8 436.7 201.4Z" fill="#2a8c38" opacity="0.75"/>
<path d="M412.1 198.4 397.8 206.5 383.7 214.9 369.9 223.7 369.3 222.7 383.3 214 397.4 205.8 411.9 197.9Z" fill="#3a9a3a" opacity="0.62"/>
<path d="M446.1 188.6 454.6 201.8 463.5 214.8 472.7 227.5 471.9 228 462.9 215.1 454.3 202 446 188.6Z" fill="#2a8c38" opacity="0.84"/>
<path d="M436.4 207.5 434.2 217.5 432.2 227.5 430.4 237.6 429.3 237.3 431.3 227.3 433.5 217.3 435.9 207.3Z" fill="#2a8c38" opacity="0.69"/>
<path d="M450.2 186.6 471.5 196.3 493.2 205.1 515.3 213.2 514.8 214.2 492.9 205.9 471.3 196.7 450.1 186.7Z" fill="#5cae3e" opacity="0.57"/>
<path d="M456 173.6 472.8 161.1 489.2 148 505.2 134.3 506.2 135.6 490 149 473.3 161.7 456.2 173.9Z" fill="#5cae3e" opacity="0.70"/>
<path d="M473.3 204.5 486.2 212.8 499.2 220.7 512.5 228.3 512 229.1 498.8 221.4 485.8 213.3 473 204.9Z" fill="#5cae3e" opacity="0.74"/>
<path d="M431.8 177 427.3 174.6 422.8 172.2 418.3 169.9 418.6 169.4 423.1 171.8 427.5 174.2 432 176.7Z" fill="#2a8c38" opacity="0.60"/>
<path d="M406.7 170.2 398.7 167.7 390.7 165.3 382.7 163 383.1 161.9 391.1 164.3 399 166.8 407 169.4Z" fill="#2a8c38" opacity="0.50"/>
<path d="M458.9 162.9 463.8 156.6 468.6 150.2 473.3 143.7 473.7 144 469 150.4 464.1 156.8 459.1 163.1Z" fill="#4aa43c" opacity="0.84"/>
<path d="M439.9 184.6 431.6 190.2 423.3 195.9 415.2 201.8 414.9 201.4 423.1 195.6 431.5 190 439.9 184.6Z" fill="#3a9a3a" opacity="0.60"/>
<path d="M432.1 165.6 424 153.2 415.6 141 407 129 408 128.3 416.5 140.5 424.7 152.8 432.5 165.4Z" fill="#3a9a3a" opacity="0.65"/>
<path d="M455.5 169 463.2 160.3 470.7 151.5 478 142.5 478.5 142.9 471.1 151.8 463.5 160.6 455.7 169.2Z" fill="#2f9239" opacity="0.72"/>
<path d="M431.8 197.9 425.2 207.6 418.7 217.4 412.5 227.4 412.1 227.1 418.4 217.2 424.9 207.4 431.6 197.8Z" fill="#2a8c38" opacity="0.79"/>
<path d="M464.1 176.3 470.2 174.3 476.2 172.2 482.2 170.1 482.3 170.4 476.3 172.5 470.3 174.5 464.2 176.5Z" fill="#2f9239" opacity="0.51"/>
<path d="M430.9 204.7 426 214.7 421.2 224.7 416.6 234.8 415.8 234.4 420.5 224.3 425.4 214.4 430.5 204.5Z" fill="#2a8c38" opacity="0.58"/>
<path d="M430.2 197.5 422.2 207.3 414.4 217.3 406.8 227.5 406.5 227.2 414.1 217.1 421.9 207.1 430 197.3Z" fill="#4aa43c" opacity="0.74"/>
<path d="M456.5 182.5 469.4 181.9 482.3 181 495.2 179.8 495.3 180.8 482.4 181.7 469.5 182.4 456.5 182.8Z" fill="#4aa43c" opacity="0.60"/>
<path d="M441.4 193.3 440.5 202.7 439.7 212.2 439.1 221.6 438.2 221.5 439 212.1 440 202.7 441.1 193.2Z" fill="#2a8c38" opacity="0.82"/>
<path d="M444.9 194.3 447.3 204.8 449.9 215.3 452.7 225.8 452.3 225.9 449.6 215.4 447.1 204.9 444.8 194.3Z" fill="#2a8c38" opacity="0.79"/>
<path d="M435.7 178.7 416.2 167.5 396.1 157 375.7 147.2 376.3 146.2 396.6 156.3 416.4 167.1 435.8 178.6Z" fill="#2f9239" opacity="0.61"/>
<path d="M452.7 172.5 468.4 155.3 483.3 137.6 497.6 119.2 498.1 119.7 483.7 137.9 468.6 155.6 452.8 172.6Z" fill="#5cae3e" opacity="0.64"/>
<path d="M409.3 180.6 396.7 180.2 384.2 180 371.6 180.1 371.6 179.4 384.2 179.4 396.8 179.6 409.3 180.2Z" fill="#4aa43c" opacity="0.52"/>
<path d="M433.5 187.6 421.4 194.1 409.4 200.9 397.6 208 397.3 207.3 409.2 200.4 421.2 193.8 433.4 187.4Z" fill="#5cae3e" opacity="0.56"/>
<path d="M430.4 169.8 410.1 149.6 388.8 130.4 366.5 112.2 367.4 111.3 389.5 129.7 410.6 149.2 430.6 169.7Z" fill="#5cae3e" opacity="0.75"/>
<path d="M440.2 172.9 436.4 158.8 432.4 144.9 428 131 428.6 130.9 432.8 144.8 436.8 158.8 440.3 172.8Z" fill="#3a9a3a" opacity="0.74"/>
<path d="M471.8 204 479.6 209.3 487.5 214.4 495.6 219.4 495.1 220 487.2 214.9 479.3 209.7 471.5 204.4Z" fill="#5cae3e" opacity="0.47"/>
<path d="M448 196.9 453.5 210.1 459.3 223.2 465.4 236.1 464.4 236.5 458.5 223.5 453 210.3 447.7 197Z" fill="#4aa43c" opacity="0.62"/>
<path d="M441.8 199.9 441.5 213.2 441.5 226.6 441.8 239.9 440.9 239.9 440.8 226.5 441 213.2 441.5 199.9Z" fill="#2a8c38" opacity="0.45"/>
<path d="M438.6 184.1 424.4 188.6 410.2 193.5 396.2 198.7 396.1 198.2 410.1 193.2 424.3 188.4 438.6 184.1Z" fill="#5cae3e" opacity="0.74"/>
<path d="M430.2 185.3 419.3 187.5 408.5 190 397.7 192.6 397.6 192 408.4 189.5 419.2 187.2 430.1 185.1Z" fill="#5cae3e" opacity="0.60"/>
<path d="M439 178.4 426.2 163 412.8 148 399 133.5 399.9 132.7 413.5 147.4 426.6 162.6 439.1 178.3Z" fill="#3a9a3a" opacity="0.53"/>
<path d="M407.8 201.7 401.9 205.2 395.9 208.8 390 212.5 389.5 211.6 395.4 208 401.4 204.5 407.5 201Z" fill="#4aa43c" opacity="0.64"/>
<path d="M460.3 187 469.7 188.9 479.1 190.7 488.5 192.3 488.4 192.8 479 191.1 469.6 189.2 460.2 187.2Z" fill="#5cae3e" opacity="0.63"/>
<path d="M437.3 170.6 427.8 150.2 417.4 130.2 406.3 110.5 407.8 109.8 418.6 129.6 428.5 149.9 437.6 170.5Z" fill="#5cae3e" opacity="0.72"/>
<path d="M437.1 188.6 426.9 199.5 416.9 210.6 407.2 222 406.5 221.3 416.4 210.1 426.5 199.1 436.9 188.5Z" fill="#2a8c38" opacity="0.79"/>
<path d="M441.7 174.1 439.5 155.7 436.7 137.4 433.2 119.2 434.2 119.1 437.4 137.4 439.9 155.7 441.9 174.1Z" fill="#5cae3e" opacity="0.60"/>
<path d="M423.5 153 417.4 144.1 411.1 135.3 404.7 126.6 405.9 125.9 412.2 134.7 418.3 143.5 424.3 152.5Z" fill="#2a8c38" opacity="0.78"/>
<path d="M413.8 186.5 399.2 188.8 384.7 191.5 370.3 194.5 370.1 193.6 384.6 190.8 399.1 188.2 413.7 186.1Z" fill="#2a8c38" opacity="0.60"/>
<path d="M448.4 201.7 449.7 205.6 451 209.5 452.3 213.4 451.9 213.5 450.6 209.6 449.3 205.7 448.1 201.8Z" fill="#2a8c38" opacity="0.54"/>
<path d="M463.7 189.9 474.7 193.2 485.8 196.4 496.9 199.3 496.7 199.8 485.6 196.8 474.6 193.6 463.6 190.1Z" fill="#3a9a3a" opacity="0.51"/>
<path d="M429.9 216 424.8 231.2 420.1 246.5 415.8 262 414.1 261.4 418.6 246 423.6 230.8 429 215.7Z" fill="#5cae3e" opacity="0.72"/>
<path d="M443 206.9 444.3 229.9 446.5 252.8 449.7 275.7 449 275.7 446 252.8 443.9 229.9 442.8 206.9Z" fill="#3a9a3a" opacity="0.58"/>
<path d="M428.1 178.5 409.3 173.5 390.5 169 371.4 165.1 371.7 164.1 390.7 168.2 409.5 173 428.1 178.3Z" fill="#5cae3e" opacity="0.73"/>
<path d="M441.7 188 439.7 200.7 438 213.5 436.5 226.3 435.9 226.2 437.5 213.4 439.4 200.7 441.6 187.9Z" fill="#3a9a3a" opacity="0.71"/>
<path d="M420.2 154.2 409.8 142 399.1 130.1 388.1 118.5 389.2 117.7 400 129.5 410.5 141.5 420.7 153.8Z" fill="#5cae3e" opacity="0.49"/>
<path d="M417.1 211.7 409.9 220.5 403 229.4 396.2 238.4 395.6 237.9 402.5 229 409.5 220.1 416.7 211.4Z" fill="#4aa43c" opacity="0.82"/>
<path d="M462.8 205.7 469.3 212.5 475.9 219.3 482.6 225.9 482 226.5 475.3 219.8 468.8 213 462.4 206Z" fill="#3a9a3a" opacity="0.71"/>
<path d="M445.5 173.7 448.2 164.6 450.7 155.5 453.2 146.3 453.9 146.5 451.3 155.6 448.6 164.7 445.7 173.8Z" fill="#2a8c38" opacity="0.80"/>
<path d="M453.3 191.3 470.5 203.9 488.1 216 506.2 227.4 505.2 228.8 487.4 217 470 204.6 453.1 191.5Z" fill="#4aa43c" opacity="0.58"/>
<path d="M441.5 191.5 440.7 198.9 440 206.3 439.3 213.8 439 213.8 439.7 206.3 440.5 198.9 441.4 191.5Z" fill="#4aa43c" opacity="0.46"/>
<path d="M462.3 186.5 475.8 188.6 489.2 190.3 502.7 191.8 502.5 193.1 489 191.3 475.6 189.3 462.3 187Z" fill="#2f9239" opacity="0.56"/>
<path d="M452.8 180.8 461.9 178.8 470.9 176.7 479.9 174.4 480 174.9 471 177 461.9 179.1 452.9 181Z" fill="#4aa43c" opacity="0.74"/>
<path d="M444.5 168.9 447.1 141.8 448.4 114.6 448.5 87.3 450.2 87.4 449.7 114.7 447.9 141.9 444.7 169Z" fill="#4aa43c" opacity="0.82"/>
<path d="M423.2 163.7 413.3 154.5 403.1 145.5 392.7 136.8 393.3 136.1 403.6 145 413.7 154.1 423.5 163.5Z" fill="#2f9239" opacity="0.81"/>
<path d="M430 148.5 422.5 130.8 414.4 113.3 405.7 96 406.5 95.7 415 113 423 130.6 430.3 148.4Z" fill="#3a9a3a" opacity="0.64"/>
<path d="M448.8 180.6 473.2 170.8 497.1 160 520.5 148.1 521 149.3 497.5 160.8 473.4 171.3 448.9 180.7Z" fill="#5cae3e" opacity="0.59"/>
<path d="M423.8 202.7 418.9 208.2 414.1 213.6 409.4 219.2 408.6 218.5 413.5 213 418.3 207.6 423.3 202.3Z" fill="#2f9239" opacity="0.70"/>
<path d="M456.9 146 462.7 128.6 468 111 472.7 93.2 474 93.6 469.1 111.4 463.6 128.9 457.6 146.2Z" fill="#4aa43c" opacity="0.63"/>
<path d="M453.5 180 478.2 172.6 502.6 164.2 526.6 154.8 527.1 156.3 502.9 165.4 478.4 173.3 453.6 180.2Z" fill="#4aa43c" opacity="0.77"/>
<path d="M449.4 190.8 460.8 203.5 472.5 215.8 484.6 227.8 483.9 228.5 471.9 216.3 460.4 203.8 449.2 190.9Z" fill="#2f9239" opacity="0.62"/>
<path d="M440.4 175.4 433.6 154.7 426.1 134.2 417.8 114 419.3 113.5 427.2 133.9 434.3 154.5 440.5 175.3Z" fill="#2a8c38" opacity="0.61"/>
<path d="M436.9 154.6 434.9 146.2 432.8 137.9 430.6 129.5 431 129.4 433.2 137.8 435.3 146.2 437.2 154.6Z" fill="#5cae3e" opacity="0.84"/>
<path d="M433.6 159.8 423.3 136.4 412 113.4 399.7 90.9 400.6 90.5 412.8 113.1 423.9 136.2 433.9 159.7Z" fill="#2a8c38" opacity="0.68"/>
<path d="M463.3 188 486.8 192.8 510.4 196.7 534.3 199.6 534.1 200.5 510.3 197.3 486.7 193.2 463.2 188.2Z" fill="#3a9a3a" opacity="0.66"/>
<path d="M443.3 175.1 444.8 152.9 445.4 130.6 445.2 108.3 446 108.3 446.1 130.6 445.2 152.9 443.4 175.1Z" fill="#2f9239" opacity="0.79"/>
<path d="M447.9 196.1 453.7 209.5 459.8 222.7 466.2 235.8 465.5 236.1 459.2 222.9 453.3 209.6 447.7 196.2Z" fill="#4aa43c" opacity="0.47"/>
<path d="M447.6 203.4 449.8 211.8 452.2 220.1 454.7 228.4 453.9 228.6 451.5 220.2 449.3 211.9 447.2 203.5Z" fill="#3a9a3a" opacity="0.59"/>
<path d="M432 169.4 415.3 149.5 397.8 130.3 379.3 111.9 380.8 110.6 398.9 129.4 416.1 148.9 432.4 169.1Z" fill="#5cae3e" opacity="0.76"/>
<path d="M436.3 181.6 421.2 178.8 406 176.3 390.7 174.2 390.8 173.6 406.1 175.9 421.2 178.5 436.3 181.5Z" fill="#2a8c38" opacity="0.50"/>
<path d="M427.8 211.9 420.5 227.8 413.6 244 407.3 260.3 405.6 259.6 412.3 243.3 419.4 227.3 427.1 211.5Z" fill="#3a9a3a" opacity="0.55"/>
<path d="M460.6 183.4 480.1 183.3 499.6 182.6 519.1 181.3 519.1 182.5 499.6 183.6 480.1 184 460.6 183.7Z" fill="#3a9a3a" opacity="0.85"/>
<path d="M431.2 172.4 412.1 156.1 392.3 140.5 371.9 125.7 372.7 124.7 393 139.8 412.5 155.6 431.4 172.3Z" fill="#3a9a3a" opacity="0.69"/>
<path d="M410.1 160.2 401.9 154.9 393.7 149.8 385.4 144.8 386.2 143.7 394.5 148.8 402.6 154 410.6 159.4Z" fill="#2f9239" opacity="0.47"/>
<path d="M440.7 217.1 440.4 233.4 440.7 249.8 441.4 266.2 439.9 266.1 439.4 249.8 439.5 233.4 440 217.1Z" fill="#3a9a3a" opacity="0.66"/>
<path d="M434.2 196.1 427 207.9 420.2 219.9 413.6 232.1 412.9 231.7 419.6 219.6 426.7 207.7 434 196Z" fill="#3a9a3a" opacity="0.57"/>
<path d="M467.1 164.1 475.7 157 484.2 149.8 492.6 142.4 493.4 143.4 484.9 150.7 476.3 157.8 467.5 164.7Z" fill="#5cae3e" opacity="0.54"/>
<path d="M423.8 180.5 410.4 179.2 397 178.2 383.6 177.4 383.7 176.6 397.1 177.5 410.5 178.7 423.8 180.2Z" fill="#3a9a3a" opacity="0.76"/>
<path d="M447.4 172 450 166 452.5 159.9 454.9 153.8 455.4 154 452.9 160.1 450.3 166.1 447.6 172.1Z" fill="#2a8c38" opacity="0.79"/>
<path d="M428.5 188.7 403.5 199.9 379.1 212.3 355.2 225.8 354.7 224.8 378.7 211.5 403.3 199.4 428.4 188.5Z" fill="#2a8c38" opacity="0.52"/>
<path d="M459.4 177 478.5 169.6 497.3 161.6 515.9 152.9 516.1 153.5 497.5 162 478.6 169.9 459.5 177.2Z" fill="#2a8c38" opacity="0.78"/>
<path d="M476.7 161.7 494.6 149.3 512 136.3 528.9 122.6 529.7 123.7 512.7 137.2 495.1 150.1 477 162.2Z" fill="#2a8c38" opacity="0.70"/>
<path d="M430.6 168.1 422.2 158.3 413.5 148.6 404.7 139.1 405.5 138.4 414.2 148 422.7 157.9 431 167.9Z" fill="#2f9239" opacity="0.78"/>
<path d="M459.7 206.4 474.5 225 490.1 242.9 506.4 260.3 505.4 261.1 489.3 243.5 473.9 225.4 459.4 206.7Z" fill="#5cae3e" opacity="0.67"/>
<path d="M461.6 178.2 475.1 174.4 488.6 170.3 501.9 166 502.2 167.1 488.8 171.3 475.3 175.1 461.7 178.6Z" fill="#5cae3e" opacity="0.80"/>
<path d="M420 165.2 409.1 157.3 398.1 149.6 386.8 142.2 387.7 141 398.8 148.7 409.7 156.5 420.4 164.7Z" fill="#2f9239" opacity="0.85"/>
<path d="M439 182 434.6 180.9 430.2 179.9 425.9 178.8 425.9 178.5 430.3 179.6 434.7 180.7 439 181.9Z" fill="#4aa43c" opacity="0.46"/>
<path d="M420.5 157.4 415.2 151.7 409.8 146 404.4 140.4 405.3 139.7 410.6 145.4 415.9 151.1 421.1 156.9Z" fill="#5cae3e" opacity="0.54"/>
<path d="M457.9 181.7 468.4 180.6 478.8 179.4 489.3 178 489.3 178.3 478.9 179.7 468.4 180.8 457.9 181.8Z" fill="#5cae3e" opacity="0.74"/>
<path d="M445 192.6 448.6 205.9 452.5 219.1 456.7 232.2 456.1 232.4 452 219.2 448.3 206 444.9 192.6Z" fill="#5cae3e" opacity="0.81"/>
<path d="M478.6 189.4 497.9 192 517.4 194 536.9 195.4 536.8 196.5 517.3 194.9 497.8 192.7 478.5 189.9Z" fill="#5cae3e" opacity="0.56"/>
<path d="M447 143.1 448.2 123 448.7 102.8 448.5 82.6 450.3 82.8 450.2 102.9 449.4 123.1 447.9 143.2Z" fill="#3a9a3a" opacity="0.46"/>
<path d="M424.7 203.9 407.1 226.6 390.7 250 375.4 274.3 373.6 272.9 389.3 248.9 406.1 225.8 424.2 203.5Z" fill="#2a8c38" opacity="0.70"/>
<path d="M439.1 156.6 437.8 148.7 436.5 140.8 435 133 436 132.8 437.3 140.7 438.6 148.6 439.7 156.5Z" fill="#4aa43c" opacity="0.77"/>
<path d="M424 205 419.2 211.1 414.4 217.3 409.7 223.5 409.4 223.2 414.1 217 418.9 210.9 423.8 204.8Z" fill="#2a8c38" opacity="0.55"/>
<path d="M458.7 182.8 477.5 182.2 496.2 180.9 514.9 179.2 515 180.1 496.2 181.7 477.5 182.7 458.7 183.1Z" fill="#4aa43c" opacity="0.47"/>
<path d="M428.7 173.5 419.4 167.5 410 161.7 400.6 156 401.1 155.2 410.5 161 419.8 167 428.9 173.2Z" fill="#4aa43c" opacity="0.55"/>
<path d="M426.1 198 416.1 207.8 406.3 217.8 396.7 228.1 396.1 227.4 405.8 217.3 415.7 207.4 425.9 197.8Z" fill="#3a9a3a" opacity="0.53"/>
<path d="M459.2 197.8 470.9 207.6 482.8 217.2 495 226.4 494.1 227.4 482.1 218 470.3 208.2 458.8 198.1Z" fill="#3a9a3a" opacity="0.73"/>
<path d="M432.3 151.8 423.5 129.2 413.7 106.8 403 84.9 404.4 84.4 414.9 106.4 424.3 128.9 432.8 151.7Z" fill="#2f9239" opacity="0.76"/>
<path d="M450.1 193.2 467.7 215.9 486.5 237.7 506.4 258.6 505.8 259.1 486 238 467.4 216.1 450 193.3Z" fill="#2f9239" opacity="0.59"/>
<path d="M451.6 184.7 473.5 188.5 495.6 191.5 517.8 193.7 517.7 194.9 495.5 192.3 473.4 189 451.6 184.8Z" fill="#2f9239" opacity="0.62"/>
<path d="M433.2 198.5 426.8 209.9 420.6 221.4 414.6 233 413.7 232.5 419.8 221 426.2 209.6 432.9 198.3Z" fill="#5cae3e" opacity="0.73"/>
<path d="M447.3 168.7 451.1 156.2 454.7 143.5 457.9 130.8 458.3 130.9 455 143.6 451.3 156.2 447.4 168.8Z" fill="#5cae3e" opacity="0.81"/>
<path d="M438.8 168 435.8 157.1 432.6 146.3 429.2 135.6 430 135.4 433.3 146.2 436.3 157 439.1 167.9Z" fill="#3a9a3a" opacity="0.77"/>
<path d="M457.9 202.3 471.2 218.1 485.2 233.4 499.7 248.2 498.6 249.1 484.3 234.1 470.6 218.6 457.5 202.6Z" fill="#2a8c38" opacity="0.81"/>
<path d="M462.2 173.4 467.3 170.8 472.4 168.2 477.4 165.5 477.7 166.1 472.6 168.7 467.5 171.3 462.4 173.8Z" fill="#4aa43c" opacity="0.84"/>
<path d="M464.3 217.4 478.3 237.1 493.1 256.3 508.7 275 507.6 275.7 492.2 256.9 477.5 237.6 463.8 217.7Z" fill="#2a8c38" opacity="0.68"/>
<path d="M410 195.1 396.9 200.6 384 206.4 371.2 212.5 370.6 211 383.5 205.1 396.5 199.6 409.7 194.4Z" fill="#2a8c38" opacity="0.74"/>
<path d="M410.9 174.1 402.6 172.1 394.3 170.2 385.9 168.4 386 167.9 394.4 169.7 402.7 171.7 411 173.7Z" fill="#3a9a3a" opacity="0.80"/>
<path d="M435.7 177.7 422.7 168.2 409.5 159.1 396 150.3 396.5 149.6 409.9 158.6 423 167.9 435.8 177.6Z" fill="#5cae3e" opacity="0.70"/>
<path d="M462.1 175.1 485.8 164.6 509 153.1 531.7 140.6 532.4 142 509.5 154.2 486.1 165.4 462.2 175.5Z" fill="#5cae3e" opacity="0.63"/>
<path d="M423.3 171.3 413.8 165.9 404.1 160.7 394.3 155.6 394.8 154.8 404.5 160 414.1 165.4 423.6 171Z" fill="#2f9239" opacity="0.66"/>
<path d="M445.8 187.9 449.4 193.4 453.1 198.9 456.8 204.4 456.5 204.5 452.8 199 449.2 193.5 445.7 187.9Z" fill="#2f9239" opacity="0.60"/>
<path d="M435.2 173.3 431.3 168.4 427.4 163.5 423.4 158.6 423.8 158.3 427.8 163.2 431.6 168.2 435.4 173.2Z" fill="#2a8c38" opacity="0.57"/>
<path d="M445.1 179.7 460.3 158.9 474.6 137.5 488 115.5 488.6 115.9 475.1 137.8 460.6 159.1 445.1 179.7Z" fill="#3a9a3a" opacity="0.62"/>
<path d="M455.3 159.3 462 145.7 468.4 131.8 474.5 117.9 475.6 118.4 469.4 132.3 462.8 146 455.8 159.6Z" fill="#5cae3e" opacity="0.68"/>
<path d="M474.1 189 486.9 191.1 499.7 192.9 512.7 194.4 512.4 195.7 499.5 194 486.7 192 473.9 189.7Z" fill="#2a8c38" opacity="0.71"/>
<path d="M457.5 188.3 464.7 190.7 471.9 193.1 479.1 195.4 478.9 196.2 471.7 193.7 464.5 191.2 457.4 188.6Z" fill="#4aa43c" opacity="0.47"/>
<path d="M442.9 191.4 444.5 218 447.3 244.4 451.4 270.7 449.5 270.9 446 244.5 443.7 218 442.7 191.4Z" fill="#2a8c38" opacity="0.85"/>
<path d="M439 196.4 433.7 218.5 429.4 240.7 425.9 263.1 424.3 262.7 428.2 240.4 433 218.3 438.6 196.3Z" fill="#2a8c38" opacity="0.73"/>
<path d="M440.9 180.1 435.4 170.9 429.6 161.9 423.7 152.9 424.1 152.7 429.9 161.7 435.5 170.8 441 180.1Z" fill="#5cae3e" opacity="0.57"/>
<path d="M421.4 164.1 411.5 155.9 401.4 147.9 391.2 140.1 391.8 139.5 401.9 147.4 411.9 155.5 421.7 163.8Z" fill="#3a9a3a" opacity="0.52"/>
<path d="M425 190.4 418.1 193.5 411.1 196.7 404.3 199.9 403.9 199.2 410.9 196 417.8 192.9 424.9 190Z" fill="#4aa43c" opacity="0.61"/>
<path d="M456.5 185.7 473.5 188.7 490.7 191.2 507.9 193.3 507.7 194.3 490.5 192 473.4 189.2 456.4 186Z" fill="#4aa43c" opacity="0.71"/>
<path d="M424.8 218.6 416.7 237.2 409.2 256 402.4 275 400.7 274.3 407.8 255.4 415.6 236.7 424 218.3Z" fill="#5cae3e" opacity="0.63"/>
<path d="M463 180.2 475.4 178.2 487.7 175.9 500 173.4 500.1 174 487.8 176.4 475.4 178.5 463 180.4Z" fill="#2f9239" opacity="0.74"/>
<path d="M424 187.1 405.5 191.9 387.2 197.3 369 203.3 368.7 202.5 387 196.7 405.4 191.5 424 186.9Z" fill="#2a8c38" opacity="0.59"/>
<path d="M447.7 188.9 460.9 203.8 474.7 218.3 489 232.3 488.3 232.9 474.2 218.7 460.6 204.1 447.6 189Z" fill="#2a8c38" opacity="0.47"/>
<path d="M458.1 154.5 464.9 140.7 471.4 126.6 477.5 112.5 478.2 112.8 472 126.9 465.4 140.9 458.4 154.7Z" fill="#3a9a3a" opacity="0.58"/>
<path d="M424.5 157.7 419.8 151.6 415.1 145.6 410.3 139.6 411.1 139 415.8 145.1 420.4 151.1 425 157.3Z" fill="#2a8c38" opacity="0.77"/>
<path d="M481.5 188.8 496.4 190.4 511.4 191.7 526.4 192.6 526.2 193.7 511.2 192.7 496.3 191.2 481.4 189.4Z" fill="#5cae3e" opacity="0.56"/>
<path d="M428.6 160.2 421 148.7 413.2 137.4 405 126.3 406 125.7 414 136.9 421.7 148.3 429.1 159.9Z" fill="#2f9239" opacity="0.45"/>
<path d="M435.1 174.4 423.8 162.2 412.1 150.2 400.1 138.6 400.6 138.2 412.5 149.9 424.1 161.9 435.2 174.3Z" fill="#2f9239" opacity="0.62"/>
<path d="M454.6 173.4 461.9 167.3 469.2 161.1 476.4 154.8 476.7 155.2 469.5 161.5 462.2 167.6 454.7 173.6Z" fill="#2a8c38" opacity="0.51"/>
<path d="M453.1 205.3 462.3 222.9 472 240.3 482.3 257.3 481.1 257.9 471 240.8 461.5 223.3 452.7 205.5Z" fill="#2a8c38" opacity="0.51"/>
<path d="M460.3 191.3 487.2 202.7 514.7 212.8 542.8 221.7 542.1 223.2 514.2 214 486.9 203.4 460.1 191.6Z" fill="#4aa43c" opacity="0.53"/>
<path d="M421 190.2 416.2 191.9 411.5 193.7 406.7 195.5 406.6 195.2 411.4 193.5 416.1 191.7 420.9 190Z" fill="#2f9239" opacity="0.80"/>
<path d="M415 198.1 409 201.6 403.1 205.2 397.2 208.8 396.7 207.9 402.6 204.3 408.6 200.8 414.6 197.4Z" fill="#5cae3e" opacity="0.79"/>
<path d="M448.9 188.2 455.1 193.4 461.5 198.5 467.9 203.5 467.7 203.8 461.3 198.7 455 193.5 448.8 188.3Z" fill="#3a9a3a" opacity="0.79"/>
<path d="M439.4 180.6 433.1 176.2 426.8 171.8 420.4 167.6 420.6 167.3 426.9 171.7 433.2 176.1 439.4 180.6Z" fill="#5cae3e" opacity="0.77"/>
<path d="M420.6 166.3 403.2 154.3 385.5 142.8 367.3 132 368.2 130.8 386.2 141.9 403.8 153.6 420.9 165.9Z" fill="#2f9239" opacity="0.48"/>
<path d="M434.2 168.8 420.5 147.8 406 127.3 390.6 107.4 391.7 106.6 406.9 126.7 421.1 147.4 434.4 168.7Z" fill="#5cae3e" opacity="0.61"/>
<path d="M412.2 166.9 397.7 159.9 383.1 153.4 368.2 147.2 369 145.6 383.7 152.1 398.3 158.9 412.7 166.1Z" fill="#5cae3e" opacity="0.58"/>
<path d="M474.5 160.5 480.5 155.9 486.5 151.3 492.3 146.6 492.9 147.4 487 152 481 156.6 475 161.1Z" fill="#3a9a3a" opacity="0.64"/>
<path d="M477.2 163.5 493.5 153.3 509.4 142.6 525 131.5 526 133.1 510.3 144 494.1 154.4 477.7 164.3Z" fill="#5cae3e" opacity="0.52"/>
<path d="M416.7 181.3 390.7 180.7 364.6 181.2 338.6 182.8 338.6 181.1 364.7 179.8 390.7 179.7 416.7 180.7Z" fill="#4aa43c" opacity="0.71"/>
<path d="M429.2 169.1 415.6 156.1 401.7 143.4 387.3 131.2 388 130.4 402.3 142.8 416.1 155.7 429.4 168.9Z" fill="#4aa43c" opacity="0.78"/>
<path d="M444.7 143.3 444.7 126.4 444.3 109.5 443.4 92.6 444.3 92.6 445.1 109.5 445.4 126.4 445.2 143.3Z" fill="#2a8c38" opacity="0.68"/>
<path d="M410.4 191.2 404.2 193.1 398 194.9 391.8 196.9 391.6 196.3 397.8 194.4 404.1 192.6 410.3 190.8Z" fill="#4aa43c" opacity="0.75"/>
<path d="M471 192.1 481.2 195.1 491.5 197.8 501.8 200.5 501.4 201.7 491.1 198.9 480.9 195.9 470.8 192.8Z" fill="#3a9a3a" opacity="0.74"/>
<path d="M425.6 171.1 407 159.1 387.8 147.7 368.2 137.1 369 135.9 388.4 146.9 407.4 158.5 425.9 170.8Z" fill="#4aa43c" opacity="0.78"/>
<path d="M445.6 184.2 468.9 194.1 492.7 203 516.9 210.9 516.5 211.9 492.4 203.7 468.8 194.5 445.5 184.3Z" fill="#3a9a3a" opacity="0.57"/>
<path d="M442.8 179.9 443.3 170.3 443.6 160.6 443.8 151 444 151 443.8 160.7 443.4 170.3 442.8 179.9Z" fill="#4aa43c" opacity="0.83"/>
<path d="M468.3 156.1 475 148.6 481.6 140.9 488.1 133.1 488.7 133.6 482.1 141.4 475.5 149 468.7 156.5Z" fill="#5cae3e" opacity="0.77"/>
<path d="M435.6 216 434.1 224.4 432.8 232.9 431.5 241.4 430.2 241.1 431.6 232.7 433.1 224.2 434.8 215.8Z" fill="#3a9a3a" opacity="0.82"/>
<path d="M432.6 167.2 428.8 161.4 424.8 155.6 420.8 149.9 421.4 149.5 425.4 155.3 429.2 161.1 433 167Z" fill="#3a9a3a" opacity="0.79"/>
<path d="M449.2 182.2 474.4 179 499.4 174.7 524.3 169.4 524.6 171.1 499.6 176 474.5 179.7 449.3 182.4Z" fill="#3a9a3a" opacity="0.74"/>
<path d="M468.8 211 478.3 220.3 487.9 229.5 497.8 238.4 496.8 239.4 487 230.3 477.5 221 468.1 211.5Z" fill="#3a9a3a" opacity="0.61"/>
<path d="M457 186.2 469.8 188.9 482.7 191.3 495.5 193.4 495.3 194.3 482.5 192 469.7 189.4 457 186.5Z" fill="#5cae3e" opacity="0.83"/>
<path d="M428 181.1 409.3 179.2 390.6 177.9 371.9 177.2 372 175.8 390.8 176.9 409.4 178.5 428.1 180.7Z" fill="#5cae3e" opacity="0.77"/>
<path d="M456.7 195.7 476.7 212.4 497.4 228.3 518.9 243.2 518.4 243.8 497.1 228.7 476.4 212.7 456.6 195.8Z" fill="#5cae3e" opacity="0.72"/>
<path d="M409.5 182.2 391.2 182.5 372.8 183.4 354.5 184.8 354.5 183.5 372.8 182.3 391.2 181.7 409.5 181.6Z" fill="#2f9239" opacity="0.74"/>
<path d="M465.4 191.1 479.3 195.7 493.3 199.9 507.4 203.8 506.9 205.1 492.9 201 479 196.5 465.2 191.7Z" fill="#5cae3e" opacity="0.79"/>
<path d="M463.6 161 477.8 144.7 491.5 128 504.6 110.7 506.1 111.9 492.7 129 478.7 145.5 464.1 161.5Z" fill="#4aa43c" opacity="0.56"/>
<path d="M439.1 180.6 427.5 173.2 415.7 166.1 403.8 159.3 404.2 158.8 416 165.8 427.7 173 439.1 180.5Z" fill="#4aa43c" opacity="0.59"/>
<path d="M449.1 192.6 463.4 212.5 478.6 231.8 494.5 250.5 493.3 251.4 477.6 232.5 462.8 212.9 448.9 192.7Z" fill="#3a9a3a" opacity="0.49"/>
<path d="M436.5 169.6 428.3 153 419.6 136.7 410.4 120.6 411.6 120 420.5 136.2 428.9 152.7 436.8 169.4Z" fill="#2a8c38" opacity="0.64"/>
<path d="M479.9 185.8 489.5 186.2 499.2 186.4 508.9 186.5 508.8 187.6 499.1 187.4 489.5 187 479.8 186.5Z" fill="#2a8c38" opacity="0.70"/>
<path d="M468 162.6 474.2 157.3 480.2 152 486.2 146.5 486.5 146.9 480.5 152.3 474.4 157.6 468.2 162.8Z" fill="#5cae3e" opacity="0.83"/>
<path d="M433.1 189.8 414.7 203.9 396.8 218.7 379.6 234.2 378.5 232.9 396 217.7 414.2 203.3 432.9 189.5Z" fill="#2f9239" opacity="0.67"/>
<path d="M442.2 185.6 440.1 200.8 438.4 216 437.1 231.2 436.4 231.1 437.9 215.9 439.8 200.7 442.1 185.6Z" fill="#3a9a3a" opacity="0.67"/>
<path d="M419.7 188 395.7 194.3 372 201.5 348.6 209.8 348.3 208.9 371.8 200.9 395.6 193.8 419.6 187.7Z" fill="#2a8c38" opacity="0.45"/>
<path d="M432.6 207.9 424.4 231.6 417.1 255.6 411 280 410.1 279.7 416.5 255.4 423.9 231.4 432.4 207.8Z" fill="#2a8c38" opacity="0.81"/>
<path d="M454.9 174.5 474.7 159.9 493.9 144.5 512.5 128.3 513.1 128.9 494.3 145 475 160.2 455 174.6Z" fill="#2a8c38" opacity="0.82"/>
<path d="M445.5 182.5 455.6 181 465.7 179.3 475.8 177.5 475.9 178.1 465.8 179.8 455.7 181.3 445.5 182.6Z" fill="#3a9a3a" opacity="0.49"/>
<path d="M445.7 216.9 447.1 228.3 448.8 239.6 450.8 250.9 450.2 251 448.4 239.7 446.7 228.3 445.3 217Z" fill="#2f9239" opacity="0.63"/>
<path d="M430.6 166.2 424.1 157.6 417.5 149.2 410.8 141 411.1 140.7 417.8 149.1 424.4 157.5 430.7 166.1Z" fill="#2f9239" opacity="0.67"/>
<path d="M433.5 217.5 429.4 236.7 425.9 256.1 423.2 275.6 422.5 275.5 425.4 256 428.9 236.6 433.2 217.4Z" fill="#5cae3e" opacity="0.82"/>
<path d="M446.9 172.6 453.6 155.5 459.8 138.2 465.4 120.7 466.3 121 460.4 138.4 454.1 155.6 447.1 172.6Z" fill="#5cae3e" opacity="0.47"/>
<path d="M443.7 209.1 445.2 227.5 447.2 245.9 449.9 264.3 448.9 264.3 446.4 246 444.5 227.6 443.3 209.1Z" fill="#2f9239" opacity="0.58"/>
<path d="M445.4 184.1 453.5 187.5 461.7 190.8 469.9 194 469.8 194.2 461.6 191 453.4 187.6 445.3 184.1Z" fill="#3a9a3a" opacity="0.50"/>
<path d="M405.7 173.6 399 172.2 392.3 170.8 385.5 169.5 385.6 169.1 392.4 170.4 399.1 171.8 405.8 173.3Z" fill="#2a8c38" opacity="0.84"/>
<path d="M445.8 205.8 448.5 221.4 451.6 236.9 455.2 252.3 454.6 252.4 451.1 236.9 448.1 221.4 445.6 205.8Z" fill="#2a8c38" opacity="0.58"/>
<path d="M435.4 182.6 424.2 182.3 413 182.2 401.8 182.3 401.8 181.6 413 181.6 424.3 181.9 435.4 182.5Z" fill="#4aa43c" opacity="0.56"/>
<path d="M448.2 184.1 460.2 186.4 472.2 188.4 484.2 190.3 484.1 191.2 472 189.1 460.1 186.8 448.1 184.2Z" fill="#5cae3e" opacity="0.64"/>
<path d="M465.1 180.6 475.6 179.3 486 177.8 496.5 176.1 496.6 176.9 486.1 178.5 475.6 179.9 465.1 181Z" fill="#2a8c38" opacity="0.60"/>
<path d="M414 199.2 401.5 206.9 389.2 215 377.1 223.3 376.4 222.2 388.6 214 401.1 206.1 413.7 198.6Z" fill="#5cae3e" opacity="0.82"/>
<path d="M456.1 187.3 474.3 192.6 492.7 197.4 511.2 201.6 510.8 202.8 492.4 198.3 474.1 193.2 456 187.5Z" fill="#3a9a3a" opacity="0.55"/>
<path d="M450.6 204.1 453.6 211.6 456.7 219.1 460 226.5 459.4 226.7 456.3 219.3 453.2 211.8 450.2 204.2Z" fill="#3a9a3a" opacity="0.83"/>
<path d="M472.9 188.4 486 190.3 499.2 192 512.4 193.4 512.2 194.6 499 193.1 485.9 191.2 472.8 189.1Z" fill="#5cae3e" opacity="0.74"/>
<path d="M439.5 183.5 415.3 189.1 391.3 195.5 367.6 203 367.2 201.4 391.1 194.4 415.2 188.4 439.5 183.5Z" fill="#2f9239" opacity="0.77"/>
<path d="M462.4 199.6 473.2 208.2 484.3 216.6 495.5 224.7 494.7 225.7 483.6 217.4 472.7 208.9 462 200Z" fill="#3a9a3a" opacity="0.71"/>
<path d="M443.8 169.1 444.6 156.9 445.2 144.7 445.4 132.4 446.3 132.5 445.9 144.7 445.1 156.9 444.1 169.2Z" fill="#3a9a3a" opacity="0.85"/>
<path d="M432.4 158 425.3 142.6 417.8 127.3 409.8 112.3 410.5 112 418.4 127.1 425.7 142.4 432.6 157.9Z" fill="#4aa43c" opacity="0.85"/>
<path d="M449.7 202.2 459.9 227.1 471.3 251.5 483.8 275.4 482.1 276.1 470 252 459 227.4 449.3 202.4Z" fill="#4aa43c" opacity="0.80"/>
<path d="M474.3 204 493.7 215.5 513.5 226.3 533.7 236.4 532.6 238.3 512.5 227.8 492.9 216.6 473.8 204.7Z" fill="#2a8c38" opacity="0.62"/>
<path d="M418.2 214.4 413 221.6 408 229 403 236.4 402.4 236 407.4 228.6 412.6 221.3 417.8 214.1Z" fill="#2f9239" opacity="0.69"/>
<path d="M419.2 187.5 402.1 191.4 385.1 195.8 368.3 200.7 368.1 200 385 195.2 402 190.9 419.2 187.2Z" fill="#2a8c38" opacity="0.62"/>
<path d="M462.7 201.4 478.6 214.9 495 227.9 511.9 240.3 511.3 241 494.5 228.4 478.2 215.3 462.4 201.6Z" fill="#4aa43c" opacity="0.80"/>
<path d="M451.8 191.7 463.8 202.7 476.1 213.4 488.7 223.7 488.2 224.2 475.7 213.8 463.5 203 451.7 191.8Z" fill="#5cae3e" opacity="0.49"/>
<path d="M472.9 191.4 486.5 194.7 500.1 197.7 513.8 200.3 513.5 201.3 499.8 198.5 486.3 195.4 472.8 191.9Z" fill="#3a9a3a" opacity="0.78"/>
<path d="M416 176.5 411.3 175.5 406.6 174.5 401.9 173.5 402 173 406.7 173.9 411.4 175 416.1 176Z" fill="#2a8c38" opacity="0.67"/>
<path d="M439.2 178.7 433.6 171.9 427.9 165.2 422.1 158.6 422.4 158.4 428.1 165.1 433.8 171.8 439.3 178.7Z" fill="#4aa43c" opacity="0.51"/>
<path d="M440.1 187.6 430.8 205.6 422.1 224 414.1 242.6 413 242.1 421.3 223.6 430.3 205.4 440 187.5Z" fill="#4aa43c" opacity="0.71"/>
<path d="M463.7 159.9 472.9 149 481.8 138 490.5 126.8 491.6 127.6 482.7 138.8 473.6 149.7 464.2 160.3Z" fill="#4aa43c" opacity="0.59"/>
<path d="M456.3 148.5 461.7 133.1 466.6 117.5 471.1 101.8 471.9 102.1 467.3 117.8 462.2 133.3 456.7 148.7Z" fill="#2f9239" opacity="0.82"/>
<path d="M414 192.4 400.8 197.4 387.7 202.6 374.7 208.1 374.3 207.2 387.4 201.8 400.6 196.7 413.9 192Z" fill="#3a9a3a" opacity="0.54"/>
<path d="M439.2 168.6 436 156.2 432.5 143.9 428.7 131.6 429.4 131.4 433 143.7 436.4 156.1 439.4 168.6Z" fill="#4aa43c" opacity="0.48"/>
<path d="M459.1 209.6 464.3 217.4 469.5 225 474.9 232.6 474 233.2 468.7 225.5 463.6 217.8 458.5 209.9Z" fill="#4aa43c" opacity="0.55"/>
<path d="M420.7 171.1 413.3 167.3 405.9 163.7 398.5 160.2 398.7 159.8 406.1 163.3 413.5 167 420.8 170.8Z" fill="#4aa43c" opacity="0.49"/>
<path d="M430.2 167.2 413.8 148 396.6 129.6 378.6 111.8 379.5 111.1 397.3 129 414.3 147.7 430.4 167Z" fill="#5cae3e" opacity="0.65"/>
<path d="M447.2 207.1 449.9 219 452.8 230.8 455.9 242.6 454.9 242.8 451.9 231 449.2 219.1 446.7 207.2Z" fill="#2a8c38" opacity="0.65"/>
<path d="M455.2 169 460.6 162.7 466 156.3 471.3 149.8 471.6 150.1 466.3 156.5 460.8 162.9 455.3 169.1Z" fill="#5cae3e" opacity="0.55"/>
<path d="M461.3 147.8 469.7 130.2 477.4 112.2 484.6 94.1 486.5 95 479 113 470.9 130.8 462.2 148.3Z" fill="#5cae3e" opacity="0.47"/>
<path d="M443.1 176.8 444.5 156.7 445.1 136.6 445 116.4 446.1 116.4 445.9 136.6 444.9 156.7 443.3 176.8Z" fill="#2f9239" opacity="0.75"/>
<path d="M460.1 219.6 466 230.7 472.1 241.7 478.4 252.5 477.3 253.1 471 242.2 465.1 231.1 459.3 220Z" fill="#3a9a3a" opacity="0.80"/>
<path d="M335.4 199 329.3 200.5 323.2 202.1 323 200.5 329.1 199 335.2 197.6Z" fill="#ec842a" opacity="0.82"/>
<path d="M336.8 206.3 330.9 208.3 324.9 210.3 324.6 208.9 330.5 206.9 336.5 205.1Z" fill="#f0962c" opacity="0.57"/>
<path d="M509.6 112.3 514.9 105.7 520 99 521.4 100.3 516.2 106.9 510.8 113.4Z" fill="#f0962c" opacity="0.66"/>
<path d="M507.6 265.9 512.4 271 517.3 276 515.2 277.6 510.4 272.5 505.7 267.3Z" fill="#e8702a" opacity="0.71"/>
<path d="M543.6 186.8 552.8 186.3 562 185.7 561.9 188.5 552.7 188.9 543.5 189.1Z" fill="#ec842a" opacity="0.50"/>
<path d="M340 183.8 335.4 184.2 330.9 184.7 330.9 182.9 335.4 182.5 340 182.2Z" fill="#f0962c" opacity="0.74"/>
<path d="M410.9 85.7 408.4 80.1 405.9 74.5 409.3 73.4 411.7 79.1 413.9 84.8Z" fill="#f0962c" opacity="0.82"/>
<path d="M381.6 123.5 378.8 121.2 376.1 118.9 377.6 117.4 380.4 119.7 383.1 122.1Z" fill="#e8702a" opacity="0.83"/>
<path d="M367.7 227.8 362.5 231.5 357.3 235.3 355.7 232.7 361 229.1 366.3 225.6Z" fill="#ec842a" opacity="0.74"/>
<path d="M352 152.9 343 150.8 333.9 148.8 334.8 146.3 343.8 148.5 352.7 150.9Z" fill="#e8702a" opacity="0.76"/>
<path d="M484.8 267.4 487.6 271.9 490.4 276.4 488.8 277.1 486.1 272.6 483.4 268Z" fill="#ec842a" opacity="0.71"/>
<path d="M531.8 176.7 538.8 175.6 545.8 174.5 546 175.9 538.9 177 531.8 177.9Z" fill="#f0962c" opacity="0.63"/>
<path d="M353.5 141.3 348.3 139.4 343 137.6 343.9 135.8 349.1 137.7 354.3 139.7Z" fill="#e8702a" opacity="0.54"/>
<path d="M347.7 134 342.9 132.1 338.1 130.2 339.2 128.2 344 130.2 348.7 132.2Z" fill="#f2ac30" opacity="0.57"/>
<path d="M346.7 227 342.1 229.7 337.5 232.4 336.2 229.6 340.9 227 345.5 224.5Z" fill="#f2ac30" opacity="0.60"/>
<path d="M356.9 223.3 350.6 227 344.3 230.7 343.4 229 349.8 225.3 356.2 221.7Z" fill="#f2ac30" opacity="0.56"/>
<path d="M386.3 259.8 383.4 264.6 380.5 269.5 379.3 268.7 382.2 263.8 385.2 259Z" fill="#f0962c" opacity="0.58"/>
<path d="M460 84.8 460.6 76.4 461.2 68 464.5 68.6 463.7 77 462.8 85.3Z" fill="#e8702a" opacity="0.63"/>
<path d="M342.9 219 336.3 222.2 329.7 225.4 328.8 223.1 335.5 220.1 342.1 217.1Z" fill="#f0962c" opacity="0.61"/>
<path d="M522.8 153.8 528.7 151.2 534.6 148.5 535.5 150.8 529.6 153.4 523.6 155.9Z" fill="#f0962c" opacity="0.71"/>
<path d="M456.7 265.8 457.8 270 458.9 274.3 457.4 274.5 456.4 270.3 455.4 266Z" fill="#e8702a" opacity="0.78"/>
<path d="M350.4 195.4 343.3 196.9 336.2 198.6 335.7 195.5 342.9 194 350 192.6Z" fill="#ec842a" opacity="0.71"/>
<path d="M379.6 101.5 376.3 98 373.1 94.6 375.4 92.9 378.5 96.4 381.7 99.9Z" fill="#f0962c" opacity="0.65"/>
<path d="M468.3 265.2 469.7 268.6 471.1 272 468.3 272.8 467.1 269.4 465.8 265.9Z" fill="#ec842a" opacity="0.75"/>
<path d="M337 170.5 329.6 170.3 322.3 170.2 322.7 167.5 330 167.7 337.3 168.1Z" fill="#e8702a" opacity="0.79"/>
<path d="M438.4 89.5 437.9 85.8 437.4 82.1 439.6 82 440 85.7 440.4 89.4Z" fill="#ec842a" opacity="0.81"/>
<path d="M344.7 156.8 336.8 155.4 329 154.1 329.5 152.3 337.3 153.7 345.1 155.2Z" fill="#e8702a" opacity="0.62"/>
<path d="M351.1 228.4 347.7 230.5 344.3 232.6 343.4 230.9 346.8 228.8 350.3 226.8Z" fill="#ec842a" opacity="0.52"/>
<path d="M340.2 159.2 332.4 158.2 324.5 157.2 325 155.1 332.9 156.2 340.7 157.4Z" fill="#f0962c" opacity="0.72"/>
<path d="M409.2 92.3 407.3 88.3 405.4 84.3 408.5 83.2 410.3 87.3 412.1 91.4Z" fill="#ec842a" opacity="0.65"/>
<path d="M360.1 243.2 357.9 245.2 355.6 247.2 354.5 245.8 356.8 243.8 359.1 241.9Z" fill="#f0962c" opacity="0.80"/>
<path d="M401.2 277.7 399.8 281.9 398.5 286.2 396.5 285.4 398 281.1 399.5 276.9Z" fill="#ec842a" opacity="0.71"/>
<path d="M360.1 121.6 352.7 117.1 345.2 112.7 346.2 111.4 353.6 115.9 361 120.5Z" fill="#f2ac30" opacity="0.66"/>
<path d="M470.5 96.4 471.4 92.2 472.4 88 473.6 88.3 472.6 92.6 471.5 96.8Z" fill="#ec842a" opacity="0.74"/>
<path d="M528.6 148.5 535.7 144.9 542.7 141.3 543.5 143.2 536.4 146.7 529.3 150.1Z" fill="#ec842a" opacity="0.70"/>
<path d="M376 99.6 371.5 95 367.1 90.5 368.3 89.5 372.7 94.1 377.1 98.7Z" fill="#f0962c" opacity="0.67"/>
<path d="M344.5 175.5 340.1 175.5 335.7 175.6 335.8 174 340.2 174 344.6 174Z" fill="#e8702a" opacity="0.83"/>
<path d="M356.2 216 352.9 217.5 349.5 219.2 349 217.7 352.3 216.2 355.7 214.6Z" fill="#f2ac30" opacity="0.54"/>
<path d="M344.4 162.9 340.1 162.4 335.8 162 336.5 158.8 340.8 159.4 345.1 160Z" fill="#ec842a" opacity="0.60"/>
<path d="M506.6 253.1 511.2 257.3 515.8 261.5 513.3 263.7 508.8 259.3 504.4 255Z" fill="#f0962c" opacity="0.52"/>
<path d="M534.4 210.4 538.7 211.3 543 212.1 542 215.1 537.8 214.1 533.5 213.1Z" fill="#f2ac30" opacity="0.84"/>
<path d="M356 165.1 349.9 164.4 343.9 163.7 344.2 162.2 350.2 163 356.3 163.9Z" fill="#e8702a" opacity="0.54"/>
<path d="M381.7 245.4 377.6 250.5 373.5 255.5 371.5 253.7 375.7 248.7 380 243.8Z" fill="#ec842a" opacity="0.67"/>
<path d="M539.7 196.5 545.6 196.8 551.6 197.1 551.2 199.8 545.2 199.4 539.3 198.9Z" fill="#f2ac30" opacity="0.60"/>
<path d="M396.3 99 394.6 96.5 393 94.1 395.4 92.8 397 95.3 398.5 97.8Z" fill="#e8702a" opacity="0.52"/>
<path d="M541.4 147.2 546.9 144.6 552.3 142 553.4 144.9 547.9 147.4 542.3 149.8Z" fill="#ec842a" opacity="0.76"/>
<path d="M471.6 81.5 472.3 77.8 472.9 74.1 475.9 74.9 475.1 78.6 474.3 82.3Z" fill="#f0962c" opacity="0.76"/>
<path d="M343.4 187.5 335.6 188.6 327.8 189.8 327.6 186.4 335.5 185.4 343.3 184.6Z" fill="#f2ac30" opacity="0.62"/>
<path d="M342.3 224.7 337 227.5 331.8 230.3 330.6 227.6 335.9 224.9 341.2 222.2Z" fill="#e8702a" opacity="0.61"/>
<path d="M348.9 220.5 343 223.5 337.2 226.6 335.9 223.5 341.8 220.6 347.8 217.8Z" fill="#ec842a" opacity="0.59"/>
<path d="M351.2 193.6 342.4 195.3 333.6 197.3 333.2 194.2 342 192.5 350.9 191Z" fill="#ec842a" opacity="0.60"/>
<path d="M384.8 102.5 382.9 100.2 380.9 97.9 383.6 96.1 385.5 98.4 387.4 100.8Z" fill="#f2ac30" opacity="0.81"/>
<path d="M338 181.2 333.4 181.5 328.7 181.9 328.8 179.9 333.4 179.6 338.1 179.3Z" fill="#f2ac30" opacity="0.67"/>
<path d="M338.4 190.2 334.8 190.8 331.2 191.4 331 187.9 334.6 187.4 338.2 187Z" fill="#f2ac30" opacity="0.72"/>
<path d="M518.5 234.1 523.2 236.8 527.9 239.4 526.6 241.3 521.9 238.5 517.3 235.8Z" fill="#ec842a" opacity="0.56"/>
<path d="M348 150.4 343.7 149.3 339.3 148.2 340.3 145.6 344.6 146.8 348.9 148Z" fill="#ec842a" opacity="0.57"/>
<path d="M378 119.8 374.5 116.8 371 113.9 372.6 112.4 376.1 115.3 379.5 118.3Z" fill="#e8702a" opacity="0.50"/>
<path d="M357.5 196 353.4 196.9 349.2 197.9 348.9 195.5 353 194.6 357.2 193.8Z" fill="#ec842a" opacity="0.83"/>
<path d="M353.6 200.9 346.3 203.1 339 205.3 338.5 202.7 345.8 200.7 353.2 198.8Z" fill="#e8702a" opacity="0.53"/>
<path d="M522.4 142.6 529.8 138.1 537.1 133.4 537.7 134.6 530.3 139.1 522.9 143.6Z" fill="#f0962c" opacity="0.56"/>
<path d="M373.5 132.4 367.4 128.7 361.4 125.1 363.2 122.7 369.2 126.5 375.1 130.4Z" fill="#f0962c" opacity="0.75"/>
<path d="M356 136.3 349.2 133.4 342.4 130.6 343.8 128 350.6 131 357.3 134.1Z" fill="#e8702a" opacity="0.50"/>
<path d="M506.2 98.4 507.9 95.6 509.6 92.7 511.3 93.9 509.5 96.8 507.7 99.6Z" fill="#ec842a" opacity="0.79"/>
<path d="M343.5 192.4 334.7 194.1 325.8 195.9 325.5 192.4 334.4 190.9 343.3 189.5Z" fill="#f2ac30" opacity="0.72"/>
<path d="M428.4 285.2 428.3 288.7 428.1 292.2 424.9 291.7 425.2 288.3 425.4 284.8Z" fill="#f0962c" opacity="0.85"/>
<path d="M472.3 88.9 474 80.8 475.6 72.7 477.5 73.2 475.7 81.3 473.9 89.4Z" fill="#f0962c" opacity="0.75"/>
<path d="M349.8 150.8 345.3 149.7 340.8 148.6 341.8 145.9 346.3 147.2 350.7 148.4Z" fill="#f0962c" opacity="0.54"/>
<path d="M354.5 162.4 346.7 161.3 338.8 160.2 339.3 158.4 347.1 159.6 354.9 160.9Z" fill="#e8702a" opacity="0.63"/>
<path d="M497.7 91.2 500.2 86.1 502.5 81 505.1 82.5 502.6 87.5 500 92.5Z" fill="#e8702a" opacity="0.76"/>
<path d="M417.8 89.7 414.8 81.5 411.7 73.4 414.4 72.7 417.3 80.9 420.1 89.2Z" fill="#f2ac30" opacity="0.52"/>
</g></g>
<ellipse cx="442.6" cy="182.9" rx="119.2" ry="116.6" fill="none" stroke="#6a1a18" stroke-width="2.2"/>
<circle cx="442.5" cy="183.6" r="6" fill="#2a8a3c" opacity="0.8"/>
<path d="M437.8 183.6 L442.5 178.8 L447.2 183.4 L442.8 188.4Z" fill="#2c3a9c"/>
<g clip-path="url(#c3)"><g filter="url(#f3)">
<ellipse cx="727" cy="183.4" rx="120.6" ry="118" fill="#ee7a28"/>
<path d="M663.9 168 656.5 168 649 168.4 641.6 169.1 634.1 170.1 626.6 171.5 627.3 167 634.7 166.5 642.1 166.4 649.4 166.4 656.8 166.7 664.1 167.3Z" fill="#fce63a" opacity="0.96"/>
<path d="M765 237.3 769.8 241.2 774.7 245 779.9 248.5 785.2 251.9 790.7 255.1 786.2 258.7 781.5 254.7 777 250.7 772.6 246.5 768.3 242.2 764.2 237.8Z" fill="#fce63a" opacity="0.79"/>
<path d="M727.6 250.9 728.5 253.6 729.4 256.3 730.5 259 731.6 261.7 732.8 264.3 728.2 264.5 727.9 261.8 727.5 259.1 727.2 256.3 726.9 253.6 726.6 250.9Z" fill="#fce63a" opacity="0.80"/>
<path d="M789 191.9 795.9 191.2 802.8 190.1 809.7 188.8 816.5 187.1 823.3 185.1 823.1 190.4 816.2 191.3 809.4 191.9 802.6 192.4 795.7 192.7 788.9 192.7Z" fill="#f6c830" opacity="0.97"/>
<path d="M657.9 173.9 654.7 174.3 651.6 174.8 648.4 175.3 645.3 175.9 642.1 176.6 642.4 173.9 645.5 173.7 648.6 173.5 651.7 173.4 654.8 173.4 657.9 173.4Z" fill="#f6c830" opacity="1.00"/>
<path d="M737 182.4 741.4 181.7 745.9 180.9 750.3 179.9 754.7 178.7 759.1 177.3 759.5 179.5 755 180.3 750.5 181 746 181.6 741.5 182.1 737 182.6Z" fill="#fae43a" opacity="0.81"/>
<path d="M715 218.6 714 224.8 713.3 231 712.9 237.2 712.8 243.5 712.9 249.8 708.7 248.8 709.5 242.7 710.5 236.6 711.6 230.5 713 224.4 714.5 218.5Z" fill="#fae030" opacity="0.67"/>
<path d="M732.3 187.5 738.5 191.7 745 195.6 751.6 199.1 758.5 202.3 765.5 205.1 763.8 207.9 757.2 204.2 750.7 200.4 744.4 196.3 738.3 192 732.3 187.6Z" fill="#fce63a" opacity="0.94"/>
<path d="M738.8 187.7 745.7 189.7 752.7 191.4 759.7 192.8 766.9 193.9 774.1 194.7 773.7 196 766.6 194.9 759.5 193.5 752.5 191.9 745.6 190 738.8 187.8Z" fill="#fae030" opacity="0.71"/>
<path d="M735 203.8 737.9 209.2 741 214.6 744.4 219.8 748 224.9 751.9 229.8 749.1 231.1 745.9 225.8 742.9 220.4 740 215 737.3 209.5 734.7 203.9Z" fill="#fae030" opacity="0.92"/>
<path d="M683.3 164.6 675.9 162.9 668.4 161.7 660.7 160.8 653 160.3 645.2 160.2 646.8 155.5 654.3 156.7 661.8 158.1 669.1 159.8 676.4 161.8 683.6 163.9Z" fill="#f8d42e" opacity="0.79"/>
<path d="M684.3 249 683.8 252.1 683.3 255.3 682.9 258.5 682.6 261.7 682.4 265 675.7 261.1 677.1 258.5 678.5 255.9 680 253.3 681.5 250.7 683 248.1Z" fill="#f8d42e" opacity="0.97"/>
<path d="M666.8 141.5 659.3 139.1 651.7 137.1 643.9 135.4 635.9 134.2 627.8 133.3 632.3 125.7 639.6 128.2 646.8 130.9 653.9 133.8 660.8 137 667.7 140.3Z" fill="#fae43a" opacity="0.96"/>
<path d="M712.6 136 709.4 130.4 705.8 124.8 702 119.5 697.9 114.3 693.5 109.2 699.9 106.8 703 112.4 705.8 118.2 708.6 124 711.2 129.8 713.6 135.7Z" fill="#f6c830" opacity="0.79"/>
<path d="M685.1 214.9 682.6 218 680.2 221.3 678 224.6 675.8 227.9 673.7 231.4 669.9 227 672.7 224.3 675.6 221.7 678.5 219.1 681.5 216.6 684.5 214.1Z" fill="#fae030" opacity="0.76"/>
<path d="M725.3 149.7 723.7 142 721.8 134.2 719.4 126.6 716.6 119 713.4 111.6 716.3 111.1 718.8 118.7 721 126.4 722.9 134.1 724.4 141.9 725.6 149.7Z" fill="#fae43a" opacity="0.97"/>
<path d="M712.7 276.4 713.7 281 714.8 285.5 716 290.1 717.4 294.6 719 299.1 714.2 298.7 713.5 294.2 712.9 289.7 712.5 285.3 712.1 280.8 711.8 276.3Z" fill="#f6c830" opacity="0.93"/>
<path d="M662.4 233.3 658.3 239.5 654.4 246.1 650.9 252.8 647.7 259.9 644.9 267.1 638.1 260.2 642.5 254.3 646.9 248.5 651.6 242.8 656.4 237.3 661.4 231.9Z" fill="#fce63a" opacity="0.86"/>
<path d="M803.2 182.7 810.8 180.5 818.4 178 825.9 175.2 833.3 171.9 840.6 168.3 841 171.8 833.6 174.7 826.1 177.3 818.5 179.6 810.9 181.6 803.2 183.2Z" fill="#fae030" opacity="0.64"/>
<path d="M730.3 242.3 732 247.8 733.9 253.3 736 258.8 738.3 264.2 740.9 269.5 737.2 270 735.4 264.5 733.7 259 732.2 253.5 730.9 247.9 729.7 242.3Z" fill="#fae43a" opacity="0.68"/>
<path d="M719.2 177.6 713.9 174 708.4 170.7 702.8 167.6 697.1 164.8 691.2 162.2 691.9 161.1 697.6 164 703.2 167.1 708.7 170.4 714 173.9 719.2 177.5Z" fill="#fae030" opacity="1.00"/>
<path d="M725.1 179.7 721.3 172.9 717.1 166.3 712.5 159.9 707.6 153.8 702.3 147.9 704.3 146.6 709 152.9 713.4 159.4 717.6 166 721.5 172.8 725.2 179.7Z" fill="#f8d42e" opacity="0.93"/>
<path d="M732 188.8 733.7 190.5 735.6 192.2 737.4 193.8 739.3 195.4 741.3 197 740.2 198 738.5 196.2 736.8 194.4 735.2 192.5 733.5 190.7 731.9 188.9Z" fill="#fce63a" opacity="0.69"/>
<path d="M759.7 204.5 766.3 207.3 773.1 209.8 780 212 787.1 213.8 794.3 215.2 791.7 220 785 217.4 778.4 214.6 771.9 211.6 765.6 208.5 759.3 205.1Z" fill="#f6c830" opacity="0.99"/>
<path d="M708.1 102.5 706.7 100.4 705.3 98.2 703.9 96.1 702.4 94 700.9 91.9 703.7 91.1 704.8 93.4 705.8 95.6 706.8 97.9 707.8 100.1 708.7 102.4Z" fill="#f6c830" opacity="0.85"/>
<path d="M720.3 197.7 718.8 201.7 717.5 205.7 716.2 209.8 715.1 213.9 714.2 218.1 712.4 217.5 713.8 213.4 715.3 209.4 716.8 205.4 718.5 201.5 720.1 197.6Z" fill="#fae030" opacity="0.90"/>
<path d="M739 268.6 741.8 273.6 744.8 278.6 748.1 283.5 751.6 288.2 755.3 292.9 746.2 294.7 744.2 289.6 742.3 284.5 740.5 279.3 738.8 274.1 737.2 268.8Z" fill="#f6c830" opacity="0.64"/>
<path d="M713.6 192.3 708 196.6 702.7 201.3 697.6 206.2 692.7 211.4 688.1 216.9 686 214.4 691.2 209.6 696.6 204.9 702 200.5 707.7 196.2 713.4 192.1Z" fill="#fae030" opacity="0.73"/>
<path d="M726.6 179.3 726.3 176.8 725.9 174.4 725.5 172 725.1 169.5 724.6 167.1 725.2 167 725.6 169.5 725.9 171.9 726.1 174.4 726.4 176.8 726.6 179.3Z" fill="#fae43a" opacity="0.74"/>
<path d="M729.9 215.9 731.5 222.9 733.4 229.9 735.7 236.8 738.3 243.6 741.3 250.4 739.2 250.8 736.7 243.9 734.5 237 732.6 230 731 223 729.6 215.9Z" fill="#fae030" opacity="0.84"/>
<path d="M631.6 168.2 627.4 169.3 623.2 170.5 619.1 171.8 614.9 173.3 610.8 174.9 611.8 166.4 615.8 166.3 619.8 166.3 623.9 166.3 627.9 166.3 631.9 166.5Z" fill="#f6c830" opacity="0.66"/>
<path d="M763 174.2 765.8 172.8 768.5 171.4 771.3 169.8 773.9 168.2 776.6 166.5 777.9 170.8 775 171.7 772 172.5 769.1 173.3 766.1 174.1 763.2 174.9Z" fill="#fae030" opacity="0.73"/>
<path d="M729.6 176.4 730.7 172.9 731.6 169.3 732.5 165.7 733.2 162 733.8 158.4 735.8 159 734.6 162.5 733.5 166 732.2 169.5 731 173 729.7 176.5Z" fill="#fce63a" opacity="0.66"/>
<path d="M774.5 142.2 778.3 136.4 781.9 130.4 785.2 124.2 788.2 117.8 790.9 111.2 796.7 116.5 792.7 122 788.6 127.5 784.3 132.8 779.9 138 775.3 143.1Z" fill="#fae030" opacity="0.68"/>
<path d="M776.9 256 781.2 258.9 785.7 261.7 790.3 264.4 795.1 266.8 799.9 269.2 792.8 274.5 789.2 271.1 785.6 267.7 782.2 264.1 778.8 260.6 775.4 257Z" fill="#f6c830" opacity="0.71"/>
<path d="M704.2 207.9 701.5 212 698.8 216.1 696.4 220.4 694.1 224.8 692 229.4 689 227 691.8 223 694.7 219 697.7 215.1 700.7 211.3 703.8 207.5Z" fill="#fae030" opacity="0.92"/>
<path d="M689.5 202.8 687.2 204.7 685 206.7 682.8 208.8 680.6 210.9 678.5 213.1 676.4 209.4 678.9 207.9 681.4 206.4 684 205 686.6 203.5 689.2 202.1Z" fill="#fae43a" opacity="0.71"/>
<path d="M732.6 171.3 733.8 168.1 735 164.8 736 161.6 737 158.3 737.8 155 739.2 155.5 738 158.7 736.8 161.9 735.5 165.1 734.2 168.2 732.8 171.3Z" fill="#fae43a" opacity="0.93"/>
<path d="M746.7 200.9 752.5 204.9 758.6 208.5 765 211.9 771.5 215 778.2 217.7 775 221.9 769 218.1 763.1 214.1 757.4 210 751.8 205.7 746.3 201.3Z" fill="#fae030" opacity="0.96"/>
<path d="M772 146.2 773.6 143.7 775.2 141.1 776.7 138.5 778.1 135.8 779.5 133.1 783.5 137.5 781.4 139.4 779.3 141.4 777.1 143.3 775 145.2 772.8 147.1Z" fill="#f8d42e" opacity="0.96"/>
<path d="M686.3 180.8 680.4 181.5 674.5 182.5 668.7 183.7 662.8 185.2 657.1 186.9 657 181.6 662.9 181 668.7 180.6 674.6 180.3 680.5 180.1 686.4 180.1Z" fill="#fae030" opacity="0.80"/>
<path d="M693.3 185.6 687.8 186.7 682.4 188.1 676.9 189.8 671.6 191.6 666.3 193.7 665.7 189.9 671.2 188.7 676.7 187.6 682.2 186.6 687.7 185.8 693.3 185Z" fill="#f6c830" opacity="0.84"/>
<path d="M779.5 138.9 782.3 134.9 785 130.8 787.6 126.6 790.1 122.3 792.4 117.9 794.5 119.9 791.7 123.9 788.9 127.9 785.9 131.8 782.9 135.6 779.8 139.3Z" fill="#fae43a" opacity="0.94"/>
<path d="M720.6 265.3 722.5 272.2 724.7 279.1 727.4 285.9 730.4 292.6 733.7 299.2 723.9 299.4 722.5 292.5 721.3 285.7 720.3 278.9 719.5 272 718.9 265.2Z" fill="#fae43a" opacity="0.72"/>
<path d="M824 179.1 827.7 177.3 831.5 175.5 835.2 173.6 838.9 171.5 842.5 169.3 843.1 175.7 839.3 176.7 835.5 177.7 831.7 178.7 827.9 179.5 824 180.4Z" fill="#fce63a" opacity="0.97"/>
<path d="M718.7 195.8 717.4 198 716.3 200.2 715.1 202.5 714 204.7 713 207 711.8 206.3 713.1 204.2 714.5 202 715.8 199.9 717.1 197.8 718.5 195.7Z" fill="#fce63a" opacity="0.89"/>
<path d="M639.6 136.8 635.4 136.6 631.2 136.6 626.9 136.6 622.6 136.8 618.2 137.2 622.8 128 626.4 129.3 630 130.7 633.6 132.1 637.2 133.5 640.7 134.9Z" fill="#fce63a" opacity="0.73"/>
<path d="M701.5 156.3 698.3 153.8 695 151.3 691.6 149 688.1 146.7 684.6 144.6 686.1 143.1 689.3 145.6 692.5 148.1 695.6 150.7 698.7 153.4 701.7 156.1Z" fill="#fce63a" opacity="0.96"/>
<path d="M800.2 181.4 802.9 180.5 805.6 179.4 808.3 178.3 811 177.1 813.6 175.9 813.9 180.6 811.2 181 808.4 181.4 805.7 181.7 803 182.1 800.2 182.4Z" fill="#f6c830" opacity="0.73"/>
<path d="M804.3 217.1 811 217.6 817.7 217.9 824.5 217.8 831.3 217.4 838.1 216.7 835.1 225.1 828.7 224.1 822.4 222.9 816.1 221.6 809.8 220.2 803.6 218.6Z" fill="#f6c830" opacity="0.70"/>
<path d="M731.6 185.1 737 186.9 742.4 188.4 747.9 189.7 753.4 190.8 759 191.6 758.3 193.9 752.9 192.4 747.5 190.8 742.2 189 736.9 187.2 731.6 185.2Z" fill="#f8d42e" opacity="0.70"/>
<path d="M738.1 182.2 743 181.3 747.9 180.3 752.7 179.2 757.4 177.8 762.1 176.3 762.5 178 757.6 179.1 752.8 180 747.9 180.9 743.1 181.6 738.2 182.3Z" fill="#fae43a" opacity="0.76"/>
<path d="M750.2 207 755.5 211 760.9 214.8 766.6 218.3 772.5 221.6 778.5 224.7 776 227.5 770.5 223.8 765.1 219.9 759.9 215.9 754.8 211.7 749.8 207.3Z" fill="#f6c830" opacity="0.74"/>
<path d="M724 152.8 722.6 146.7 720.9 140.7 719 134.7 716.9 128.8 714.4 122.9 716.3 122.6 718.3 128.5 720.1 134.5 721.7 140.6 723 146.6 724.2 152.8Z" fill="#fae43a" opacity="0.84"/>
<path d="M781.2 195.7 787.1 195.8 793.1 195.6 799.1 195.2 805.1 194.5 811.1 193.6 810.5 197.6 804.6 197.7 798.7 197.6 792.8 197.3 786.9 196.9 781 196.3Z" fill="#fae43a" opacity="0.97"/>
<path d="M698.2 151.4 695.5 149.4 692.7 147.4 689.8 145.6 686.9 143.8 683.9 142.1 686.8 139.3 689.3 141.6 691.7 143.9 694.1 146.2 696.4 148.5 698.8 150.9Z" fill="#f6c830" opacity="0.84"/>
<path d="M659.1 241 656.1 246.2 653.3 251.5 650.7 257 648.3 262.6 646.2 268.3 641.2 263.5 644.4 258.6 647.7 253.8 651.1 249.1 654.6 244.5 658.2 240Z" fill="#f8d42e" opacity="0.60"/>
<path d="M710.9 168.5 707.4 165.9 703.8 163.4 700.1 161.1 696.3 158.9 692.4 156.8 694.5 154.4 697.9 157 701.3 159.8 704.6 162.5 707.9 165.3 711.2 168.2Z" fill="#fce63a" opacity="0.73"/>
<path d="M723.8 147.1 721.9 139.4 719.6 131.9 716.9 124.4 713.8 117.1 710.3 109.9 713.3 109.3 716.1 116.7 718.6 124.2 720.8 131.7 722.6 139.4 724.1 147Z" fill="#f8d42e" opacity="0.64"/>
<path d="M732.8 185.8 736 187.1 739.2 188.2 742.4 189.2 745.6 190.2 748.9 191.1 748.6 191.9 745.4 190.8 742.2 189.6 739.1 188.4 735.9 187.2 732.8 185.9Z" fill="#fae030" opacity="0.82"/>
<path d="M766.9 211.9 770.1 213.4 773.5 214.8 776.8 216.2 780.2 217.4 783.7 218.6 782.5 220.4 779.3 218.8 776.1 217.2 772.9 215.6 769.7 213.9 766.6 212.2Z" fill="#fce63a" opacity="0.84"/>
<path d="M682.6 173.9 679.9 173.9 677.3 174 674.7 174.1 672.1 174.3 669.4 174.6 670.1 171.1 672.6 171.5 675.2 171.9 677.7 172.3 680.2 172.7 682.7 173.2Z" fill="#f8d42e" opacity="0.93"/>
<path d="M773.2 107 774.2 101.3 775 95.5 775.6 89.6 775.9 83.7 775.9 77.7 783.5 81.4 782 86.8 780.3 92.1 778.5 97.4 776.6 102.6 774.6 107.8Z" fill="#fae030" opacity="0.89"/>
<path d="M760.6 174.7 767.3 171.8 773.9 168.6 780.4 165 786.7 161 792.8 156.7 794.6 161.5 788 164.7 781.3 167.7 774.5 170.5 767.7 173 760.7 175.3Z" fill="#fce63a" opacity="0.90"/>
<path d="M745.9 169.6 748.2 167.4 750.6 165.2 752.8 163 755 160.7 757.2 158.3 758.1 159.4 755.7 161.6 753.3 163.7 750.9 165.7 748.5 167.7 746 169.7Z" fill="#fce63a" opacity="0.97"/>
<path d="M722.5 87.7 721.2 84.6 719.7 81.6 718.2 78.6 716.6 75.7 715 72.7 719.1 72.4 720 75.4 720.9 78.5 721.8 81.5 722.6 84.6 723.4 87.6Z" fill="#fae43a" opacity="0.82"/>
<path d="M721.4 133.2 719.4 127.1 717.1 121.1 714.5 115.1 711.6 109.2 708.5 103.4 712.7 102.6 715 108.6 717 114.7 718.9 120.8 720.6 127 722.1 133.2Z" fill="#fae030" opacity="0.74"/>
<path d="M717.3 183.3 710.1 183.7 702.9 184.4 695.7 185.4 688.6 186.8 681.5 188.5 681.3 186.8 688.5 185.6 695.6 184.6 702.8 183.9 710 183.4 717.3 183.2Z" fill="#f6c830" opacity="0.68"/>
<path d="M760.5 275.4 763.2 278.4 766.1 281.2 769 284 772 286.8 775.1 289.4 769.1 291.8 767 288.7 765 285.5 763 282.3 761.1 279.1 759.2 275.9Z" fill="#fce63a" opacity="0.89"/>
<path d="M741 128.5 741.2 122.5 741.2 116.4 740.9 110.4 740.3 104.3 739.5 98.2 742.6 98.7 742.8 104.7 742.7 110.7 742.5 116.7 742.1 122.7 741.5 128.6Z" fill="#fae030" opacity="0.82"/>
<path d="M701.2 263.8 701.4 268.5 701.7 273.3 702.1 278.1 702.7 282.9 703.5 287.7 698.1 286.4 698.4 281.8 698.7 277.2 699.1 272.6 699.6 268 700.2 263.5Z" fill="#fce63a" opacity="0.65"/>
<path d="M718.1 200.9 717.2 203.3 716.4 205.6 715.7 208 715.1 210.4 714.5 212.8 712 211.7 713.1 209.5 714.3 207.3 715.4 205.1 716.5 202.9 717.7 200.7Z" fill="#fce63a" opacity="0.70"/>
<path d="M689.6 107.1 685.4 102.9 680.9 98.8 676.3 94.9 671.5 91.1 666.5 87.5 672.1 84.3 676 88.6 679.9 93 683.6 97.5 687.2 102 690.7 106.6Z" fill="#fae030" opacity="0.76"/>
<path d="M729.4 133.1 728.8 130.3 728.2 127.5 727.5 124.7 726.8 121.9 725.9 119.1 729.5 119.2 729.6 122 729.8 124.7 729.9 127.5 730 130.3 730.1 133.1Z" fill="#fce63a" opacity="0.91"/>
<path d="M681.7 96.6 678.4 94.1 675.1 91.6 671.6 89.3 668.1 87 664.5 84.8 671.9 80.7 674.3 83.7 676.6 86.7 678.8 89.7 681.1 92.8 683.3 95.8Z" fill="#f8d42e" opacity="0.97"/>
<path d="M768.6 107 769.3 102.5 769.8 98 770.2 93.4 770.4 88.8 770.5 84.2 775.8 86.5 774.7 90.8 773.5 95 772.3 99.3 771 103.4 769.6 107.6Z" fill="#fce63a" opacity="0.72"/>
<path d="M717.3 220.2 716.8 227.1 716.6 234 716.8 240.9 717.4 247.9 718.4 254.9 712.3 253.9 712.7 247.1 713.4 240.2 714.2 233.5 715.3 226.7 716.5 220Z" fill="#f6c830" opacity="0.84"/>
<path d="M690.4 221.8 688.5 225 686.8 228.3 685.1 231.6 683.5 235 682.1 238.5 678.7 235.7 680.8 232.8 683 229.8 685.3 226.9 687.5 224.1 689.8 221.2Z" fill="#fce63a" opacity="0.63"/>
<path d="M731.8 201.9 733.9 207.6 736.3 213.2 738.9 218.8 741.8 224.2 745 229.5 742 230.5 739.6 224.9 737.3 219.2 735.2 213.5 733.3 207.8 731.5 202Z" fill="#f6c830" opacity="0.86"/>
<path d="M706.5 99.1 703.3 94 699.8 89 696.1 84.1 692.3 79.3 688.2 74.6 693 73.1 696.2 78.1 699.2 83.2 702.1 88.4 704.8 93.6 707.4 98.9Z" fill="#fae43a" opacity="0.99"/>
<path d="M820.9 168.5 825.3 165.9 829.5 163.2 833.7 160.4 837.8 157.4 841.8 154.2 843.5 161.6 839.1 163.4 834.6 165.2 830.2 166.9 825.7 168.5 821.2 170Z" fill="#f6c830" opacity="0.76"/>
<path d="M750.4 221.1 755.8 226.8 761.5 232.2 767.6 237.4 774 242.2 780.7 246.7 775.1 250.9 769.6 245.3 764.3 239.6 759.2 233.7 754.3 227.7 749.6 221.5Z" fill="#f8d42e" opacity="0.87"/>
<path d="M812.3 145.1 816.1 141.6 819.7 137.9 823.3 134.1 826.7 130.1 830.1 126 832.2 129.9 828.4 133.3 824.6 136.6 820.7 139.8 816.7 142.9 812.7 145.9Z" fill="#f6c830" opacity="0.63"/>
<path d="M765.8 250.5 769.6 254 773.6 257.3 777.6 260.6 781.9 263.7 786.2 266.7 781.9 269.5 778.4 265.9 774.9 262.3 771.5 258.6 768.2 254.8 765 251Z" fill="#fce63a" opacity="0.61"/>
<path d="M643.3 214.1 638.7 218.2 634.2 222.5 629.8 227 625.6 231.7 621.6 236.6 617.5 227.9 622.4 224.5 627.4 221.3 632.4 218.3 637.5 215.3 642.7 212.4Z" fill="#f6c830" opacity="1.00"/>
<path d="M696.8 248.4 696.2 253.5 695.9 258.7 695.7 263.9 695.8 269.2 696 274.5 688.5 271.7 689.7 266.9 691 262 692.4 257.3 693.9 252.5 695.5 247.8Z" fill="#fae43a" opacity="0.62"/>
<path d="M721.4 183.6 714.9 184.1 708.3 184.9 701.9 186 695.5 187.5 689.1 189.3 688.7 186.2 695.2 185.3 701.8 184.6 708.3 184 714.8 183.7 721.4 183.4Z" fill="#fae43a" opacity="0.92"/>
<path d="M721.5 191.3 720.1 193.7 718.6 196.1 717.3 198.5 716 201 714.7 203.5 713.9 203 715.3 200.6 716.8 198.2 718.3 195.9 719.9 193.5 721.5 191.2Z" fill="#fce63a" opacity="0.65"/>
<path d="M734.9 194.8 739.1 200.1 743.6 205.1 748.3 210 753.2 214.7 758.4 219.1 757 220.2 752.2 215.4 747.6 210.5 743.1 205.5 738.9 200.2 734.8 194.9Z" fill="#f6c830" opacity="0.67"/>
<path d="M710.7 227.3 710 232.3 709.6 237.4 709.4 242.6 709.4 247.8 709.6 253 703.3 251.2 704.4 246.3 705.6 241.4 706.9 236.5 708.3 231.7 709.7 226.9Z" fill="#f8d42e" opacity="0.60"/>
<path d="M713.9 172.9 707.7 168.8 701.2 165 694.6 161.5 687.7 158.3 680.6 155.5 682.5 152.8 689.1 156.4 695.5 160.1 701.9 164.1 708 168.3 714 172.7Z" fill="#fae030" opacity="0.96"/>
<path d="M744.7 174.4 747 172.8 749.3 171.3 751.5 169.6 753.6 167.9 755.8 166.2 757 168.3 754.6 169.6 752.2 170.9 749.8 172.2 747.3 173.5 744.9 174.7Z" fill="#fae030" opacity="0.66"/>
<path d="M673.1 205.7 666.5 210.6 660.1 215.8 654 221.5 648.2 227.5 642.7 233.9 638.9 227.4 645.4 222.3 652 217.6 658.8 213 665.7 208.7 672.7 204.7Z" fill="#fce63a" opacity="0.80"/>
<path d="M681.5 234.4 680.3 237 679.3 239.7 678.2 242.4 677.3 245.2 676.4 247.9 672.6 245 674.2 242.7 675.8 240.4 677.5 238.2 679.1 236 680.8 233.7Z" fill="#fce63a" opacity="0.86"/>
<path d="M747.9 222.3 750.5 225.5 753.2 228.5 756.1 231.5 759 234.4 762 237.2 758.6 239.2 756.2 235.9 753.9 232.7 751.7 229.3 749.5 226 747.3 222.6Z" fill="#fae030" opacity="0.68"/>
<path d="M763.7 225.5 767.4 228 771.3 230.3 775.2 232.5 779.3 234.6 783.4 236.5 778.4 241.2 775.2 238.3 772 235.4 768.9 232.4 765.8 229.3 762.8 226.3Z" fill="#fae030" opacity="0.74"/>
<path d="M738.9 183.8 743.3 183.7 747.7 183.4 752.1 183 756.4 182.4 760.8 181.8 760.8 183.3 756.5 183.6 752.1 183.8 747.7 183.9 743.3 183.9 738.9 183.9Z" fill="#fae030" opacity="0.75"/>
<path d="M751.8 165.9 755 162.8 758 159.6 761 156.3 763.8 152.8 766.5 149.3 769.4 152.8 766 155.6 762.6 158.3 759.2 161.1 755.7 163.8 752.2 166.4Z" fill="#f6c830" opacity="0.97"/>
<path d="M734.9 189.7 740.2 193.4 745.7 196.9 751.3 200.2 757.1 203.1 763 205.9 761.8 207.6 756.2 204.4 750.7 201 745.3 197.4 740 193.7 734.9 189.8Z" fill="#f8d42e" opacity="0.76"/>
<path d="M718.3 194.5 714.4 200.2 710.9 206.1 707.6 212.2 704.6 218.4 701.9 224.8 699.7 223.5 703 217.4 706.5 211.4 710.2 205.6 714 199.9 718.1 194.4Z" fill="#fae43a" opacity="0.61"/>
<path d="M689.8 239.2 689 241.9 688.2 244.5 687.6 247.2 686.9 249.9 686.4 252.7 683.1 250.7 684.2 248.3 685.4 245.9 686.6 243.5 687.8 241.1 689.1 238.8Z" fill="#fae43a" opacity="0.67"/>
<path d="M678.2 219.3 674.8 223.6 671.5 228.2 668.4 232.9 665.5 237.8 662.8 242.8 657.7 237.1 661.5 233.1 665.4 229.3 669.3 225.5 673.3 221.8 677.4 218.2Z" fill="#fae43a" opacity="0.85"/>
<path d="M714.1 109.1 711.1 102.9 707.8 96.9 704.3 90.9 700.5 85 696.4 79.3 699.9 78.4 703.3 84.4 706.5 90.4 709.4 96.5 712.2 102.7 714.7 109Z" fill="#fae43a" opacity="0.98"/>
<path d="M695.7 255.4 694.9 263.2 694.5 271.1 694.5 279.1 694.9 287.2 695.7 295.3 689.4 293.4 689.9 285.6 690.7 277.8 691.7 270.1 693.1 262.5 694.7 255Z" fill="#f6c830" opacity="0.87"/>
<path d="M728.8 187.1 730.1 189.4 731.4 191.7 732.7 193.9 734.1 196.2 735.6 198.4 734.8 198.8 733.5 196.5 732.3 194.1 731.1 191.8 729.9 189.5 728.8 187.1Z" fill="#fae030" opacity="0.75"/>
<path d="M740.9 173.5 745.4 169.7 749.7 165.7 753.8 161.5 757.7 157.1 761.4 152.5 763.8 155.3 759.4 159.2 755 163 750.4 166.7 745.8 170.3 741.1 173.8Z" fill="#fae030" opacity="0.89"/>
<path d="M728.3 211.5 729.4 218.1 730.9 224.8 732.6 231.4 734.7 237.9 737.1 244.3 734.9 244.6 733 238.1 731.4 231.5 730.1 224.8 728.9 218.2 728.1 211.5Z" fill="#fae43a" opacity="0.62"/>
<path d="M751 254.6 752.8 257 754.7 259.4 756.6 261.8 758.5 264.2 760.5 266.5 757.5 267.6 756 265.1 754.6 262.5 753.1 260 751.7 257.4 750.4 254.8Z" fill="#f6c830" opacity="0.65"/>
<path d="M787.6 108.6 788.7 104.2 789.7 99.8 790.5 95.3 791.2 90.8 791.7 86.2 799.7 91.8 797.7 95.4 795.6 99.1 793.5 102.7 791.4 106.3 789.2 109.8Z" fill="#fce63a" opacity="0.68"/>
<path d="M707.4 165.6 701.5 161.3 695.4 157.4 689 153.8 682.5 150.4 675.7 147.4 677.7 144.8 684 148.5 690.2 152.4 696.2 156.5 702 160.8 707.7 165.3Z" fill="#fae43a" opacity="0.88"/>
<path d="M718 214.3 717.3 220 716.7 225.8 716.5 231.6 716.4 237.4 716.7 243.2 712.9 242.5 713.6 236.8 714.4 231.1 715.3 225.4 716.3 219.8 717.5 214.2Z" fill="#f8d42e" opacity="0.91"/>
<path d="M793.3 248.5 798.1 250.6 803.1 252.5 808.1 254.3 813.2 255.9 818.4 257.3 813.4 262.9 809 260.4 804.7 257.8 800.5 255.1 796.3 252.4 792.2 249.6Z" fill="#f8d42e" opacity="0.78"/>
<path d="M785 153.6 790.7 148.7 796.1 143.5 801.4 138 806.4 132.3 811.2 126.3 813.2 129.3 808 134.7 802.5 139.9 796.9 144.8 791.2 149.6 785.3 154.1Z" fill="#fae030" opacity="0.75"/>
<path d="M814 183.5 817.8 182 821.5 180.4 825.2 178.8 828.8 177 832.5 175 832.8 182.2 829.1 182.8 825.3 183.4 821.5 184 817.8 184.5 814 184.9Z" fill="#f8d42e" opacity="0.66"/>
<path d="M701.1 208.7 699.3 211.2 697.5 213.7 695.8 216.3 694.1 218.9 692.5 221.6 690.8 220.1 692.8 217.7 694.7 215.3 696.8 213 698.8 210.7 700.9 208.4Z" fill="#f6c830" opacity="0.96"/>
<path d="M801.1 245.6 805.3 246.9 809.6 248.1 814 249.1 818.4 250 822.9 250.7 817.8 257.2 814.1 255.2 810.5 253.2 807 251.1 803.5 249 800 246.9Z" fill="#fae43a" opacity="0.94"/>
<path d="M821.5 207.2 824.4 206.6 827.2 205.9 830.1 205.2 832.9 204.4 835.7 203.5 834 210.9 831.4 210.5 828.8 210.1 826.2 209.7 823.7 209.2 821.1 208.8Z" fill="#fce63a" opacity="0.67"/>
<path d="M684.5 228.3 681.2 234.5 678.1 240.9 675.4 247.5 673 254.2 671 261.2 664.6 256.4 668.1 250.4 671.7 244.4 675.5 238.6 679.5 233 683.6 227.4Z" fill="#f8d42e" opacity="0.79"/>
<path d="M710.9 191.4 704.6 195.3 698.5 199.5 692.6 204.1 687 209 681.7 214.2 679.3 210.5 685.3 206.2 691.5 202.1 697.8 198.2 704.2 194.5 710.7 191Z" fill="#f8d42e" opacity="0.61"/>
<path d="M689.3 99.4 685.4 95.8 681.3 92.3 677.1 89 672.7 85.8 668.1 82.7 677.2 78.1 680.1 82.2 683 86.2 685.7 90.3 688.5 94.5 691.1 98.6Z" fill="#fae43a" opacity="0.90"/>
<path d="M719.8 260 720.7 264.2 721.8 268.4 723 272.6 724.3 276.8 725.8 281 721.2 280.8 720.6 276.7 720 272.5 719.6 268.3 719.2 264.1 718.9 259.9Z" fill="#f6c830" opacity="0.94"/>
<path d="M663.7 220.9 659 226.1 654.5 231.5 650.3 237.2 646.3 243.1 642.6 249.2 637.8 242.9 642.6 237.9 647.5 233.2 652.6 228.5 657.7 224.1 663 219.7Z" fill="#f8d42e" opacity="0.65"/>
<path d="M813.4 156.1 818.1 152.7 822.7 149 827.1 145.1 831.4 141 835.6 136.8 838 142.4 833.2 145.6 828.5 148.7 823.6 151.7 818.7 154.5 813.8 157.3Z" fill="#fae030" opacity="0.61"/>
<path d="M668.3 167.6 664.7 167.7 661.2 167.9 657.6 168.2 654.1 168.7 650.5 169.2 652 163 655.3 163.6 658.7 164.3 662 164.9 665.3 165.6 668.6 166.4Z" fill="#f6c830" opacity="0.81"/>
<path d="M642.5 186 639.8 187.2 637.2 188.6 634.6 190.1 632 191.6 629.4 193.2 628.9 185.3 631.6 185 634.3 184.8 637 184.6 639.8 184.4 642.5 184.3Z" fill="#fce63a" opacity="0.92"/>
<path d="M677 134.4 673.9 132.8 670.7 131.4 667.5 130 664.2 128.7 660.9 127.4 664.7 123.4 667.4 125.4 670 127.4 672.6 129.4 675.2 131.5 677.8 133.6Z" fill="#fae030" opacity="0.84"/>
<path d="M733.3 135.5 733 132.6 732.7 129.7 732.2 126.8 731.7 123.9 731.1 121 734.7 121.3 734.6 124.2 734.5 127 734.4 129.9 734.2 132.7 734 135.6Z" fill="#fae030" opacity="0.85"/>
<path d="M691.6 256 691 261.2 690.6 266.5 690.4 271.8 690.4 277.2 690.6 282.6 684 280.1 685.1 275.1 686.3 270.1 687.6 265.2 688.9 260.3 690.4 255.4Z" fill="#fae030" opacity="0.76"/>
<path d="M649.4 172.9 641.4 174.2 633.5 175.9 625.5 178 617.7 180.6 609.9 183.5 610.1 176.3 618 174.8 625.9 173.7 633.8 172.7 641.7 172.1 649.6 171.7Z" fill="#f6c830" opacity="0.67"/>
<path d="M697.8 186.8 690 188.7 682.2 191 674.6 193.7 667.1 196.8 659.8 200.3 659.1 197.5 666.7 194.7 674.3 192.2 682.1 189.9 689.9 188.1 697.8 186.5Z" fill="#fce63a" opacity="0.74"/>
<path d="M729.2 130.4 727.9 123.4 726.1 116.5 724 109.6 721.5 102.8 718.7 96.1 725.6 95.7 726.9 102.6 728.1 109.6 729 116.5 729.7 123.5 730.2 130.4Z" fill="#fce63a" opacity="0.83"/>
<path d="M703.9 167 697 163.3 689.8 160 682.4 157 674.9 154.5 667.1 152.4 669.4 148.4 676.7 151.6 683.8 155 690.8 158.6 697.6 162.5 704.2 166.6Z" fill="#f8d42e" opacity="0.75"/>
<path d="M737.6 231.9 739.4 235.6 741.2 239.3 743.3 243 745.4 246.6 747.7 250.1 743.5 251.2 742.1 247.4 740.7 243.6 739.3 239.8 738.1 235.9 736.9 232Z" fill="#fae43a" opacity="0.67"/>
<path d="M720.4 235.5 721 241.9 721.9 248.3 723.1 254.6 724.5 261 726.3 267.3 721.4 267.1 720.7 260.7 720.1 254.4 719.8 248.1 719.6 241.7 719.6 235.4Z" fill="#f6c830" opacity="1.00"/>
<path d="M768.2 194.9 775.3 195.6 782.5 195.8 789.8 195.7 797.1 195.3 804.4 194.4 803.3 200.4 796.1 199.8 789 199.1 781.9 198.2 774.9 197 767.9 195.7Z" fill="#f6c830" opacity="0.83"/>
<path d="M782.4 176 786.8 174.3 791.1 172.5 795.4 170.5 799.6 168.3 803.8 166 804.8 171 800.4 172.3 795.9 173.6 791.5 174.8 787 175.9 782.5 176.9Z" fill="#f6c830" opacity="0.65"/>
<path d="M715.8 157.8 714.6 155.7 713.3 153.5 711.9 151.4 710.5 149.3 709.1 147.3 710.2 146.8 711.4 148.9 712.6 151.1 713.8 153.3 714.9 155.5 716 157.7Z" fill="#f6c830" opacity="0.60"/>
<path d="M679.9 218.8 675.3 224.4 671 230.2 667.1 236.3 663.4 242.6 660 249.1 655.3 244.2 659.8 238.7 664.4 233.3 669.2 228 674.1 222.9 679.2 218Z" fill="#fae43a" opacity="0.89"/>
<path d="M748.2 228.9 751.5 233.3 755 237.6 758.7 241.8 762.6 245.8 766.6 249.8 763.1 251.6 759.8 247.3 756.6 242.8 753.5 238.3 750.5 233.8 747.6 229.1Z" fill="#fae030" opacity="0.93"/>
<path d="M708.9 160.7 703.6 155.4 698 150.5 692.1 145.8 686 141.3 679.6 137.2 681.6 135.3 687.5 139.9 693.2 144.8 698.8 149.8 704.1 155.1 709.2 160.5Z" fill="#f6c830" opacity="0.68"/>
<path d="M676.9 151.5 669 148.9 661 146.8 652.7 145 644.2 143.8 635.7 143 639.6 135.4 647.5 137.9 655.2 140.7 662.8 143.7 670.3 147 677.7 150.5Z" fill="#f6c830" opacity="0.61"/>
<path d="M710 215.5 708.7 219.3 707.6 223.2 706.7 227.1 705.8 231 705.2 235 701.4 233.3 702.9 229.6 704.4 226 706 222.4 707.7 218.8 709.4 215.2Z" fill="#fae43a" opacity="0.90"/>
<path d="M765.5 234.3 768.1 236.3 770.8 238.2 773.6 240.1 776.4 241.9 779.2 243.6 775.9 246.2 773.7 244 771.4 241.7 769.2 239.4 767 237.1 764.8 234.8Z" fill="#fae030" opacity="0.73"/>
<path d="M719 217.6 718.6 222.7 718.5 227.8 718.6 232.9 718.8 238.1 719.3 243.2 715.4 242.6 715.8 237.6 716.3 232.5 716.9 227.5 717.6 222.5 718.4 217.5Z" fill="#fae43a" opacity="0.93"/>
<path d="M789.5 115 791.5 110.3 793.4 105.5 795.1 100.6 796.7 95.6 798.1 90.6 801.3 93 799.3 97.6 797.1 102.2 794.9 106.7 792.5 111.1 790.1 115.5Z" fill="#f6c830" opacity="0.62"/>
<path d="M803.6 160.4 808.4 157 813.2 153.5 817.8 149.7 822.4 145.8 826.7 141.6 829.2 147.6 824.2 150.6 819.2 153.6 814.2 156.3 809.1 159 803.9 161.5Z" fill="#f6c830" opacity="0.76"/>
<path d="M676.8 167.2 672.3 166.8 667.8 166.5 663.2 166.4 658.6 166.4 654 166.6 655.2 162.5 659.6 163.1 664 163.9 668.4 164.7 672.7 165.6 677.1 166.5Z" fill="#f8d42e" opacity="0.80"/>
<path d="M735.1 190.4 737.1 191.8 739 193.2 741 194.6 743 195.9 745.1 197.1 744.1 198.3 742.3 196.7 740.4 195.2 738.6 193.6 736.8 192.1 735 190.5Z" fill="#fce63a" opacity="0.78"/>
<path d="M676.8 166 670.9 165.2 664.9 164.7 658.9 164.4 652.8 164.4 646.7 164.6 647.8 160.6 653.7 161.2 659.6 162 665.5 163 671.3 164.1 677 165.4Z" fill="#f6c830" opacity="0.69"/>
<path d="M698.4 258.6 698.1 264.3 698 270 698.1 275.7 698.5 281.4 699.1 287.2 694.1 285.8 694.5 280.2 695 274.7 695.7 269.2 696.5 263.7 697.4 258.3Z" fill="#f6c830" opacity="0.87"/>
<path d="M755.6 191.9 759.7 192.4 763.8 192.9 768 193.1 772.2 193.2 776.4 193.2 775.3 197.5 771.3 196.5 767.3 195.6 763.3 194.6 759.3 193.6 755.4 192.5Z" fill="#fce63a" opacity="0.76"/>
<path d="M800 158.5 803 156.2 806 153.7 808.9 151.2 811.8 148.6 814.6 145.9 816.8 151.1 813.5 152.9 810.2 154.6 807 156.3 803.7 158 800.3 159.6Z" fill="#fae43a" opacity="0.94"/>
<path d="M700.6 273.7 701.1 278.5 701.8 283.2 702.7 287.9 703.7 292.6 704.8 297.4 697.6 295.8 697.7 291.3 698 286.8 698.3 282.3 698.7 277.8 699.2 273.3Z" fill="#f6c830" opacity="0.88"/>
<path d="M722.1 130.8 720.5 126.1 718.6 121.4 716.6 116.8 714.3 112.3 711.8 107.8 718.1 106.9 719.3 111.6 720.4 116.4 721.4 121.1 722.3 125.9 723.2 130.7Z" fill="#fce63a" opacity="0.85"/>
<path d="M716.2 161 714.5 158.3 712.8 155.7 711 153.1 709.2 150.6 707.3 148.1 708.4 147.5 710.1 150.1 711.7 152.8 713.3 155.5 714.9 158.2 716.4 160.9Z" fill="#fae43a" opacity="0.97"/>
<path d="M743.8 122.4 743.7 119.6 743.5 116.8 743.2 114 742.9 111.2 742.5 108.4 747.4 109.6 746.9 112.2 746.4 114.8 745.9 117.4 745.4 120 744.8 122.6Z" fill="#fce63a" opacity="0.70"/>
<path d="M730.8 192.8 731.9 195 733 197.2 734.2 199.4 735.4 201.6 736.7 203.7 735.4 204.3 734.4 202 733.5 199.7 732.5 197.4 731.6 195.1 730.6 192.8Z" fill="#f8d42e" opacity="0.99"/>
<path d="M754.8 185 759.2 184.7 763.7 184.2 768.2 183.5 772.6 182.6 777.1 181.6 777 185.6 772.6 185.7 768.1 185.8 763.6 185.8 759.2 185.7 754.7 185.6Z" fill="#f8d42e" opacity="0.66"/>
<path d="M736.4 179.2 739.9 177.3 743.3 175.4 746.7 173.4 750.1 171.3 753.4 169.2 753.8 170 750.4 172 747 173.9 743.5 175.7 740 177.5 736.4 179.2Z" fill="#fce63a" opacity="0.87"/>
<path d="M802.8 226 809.2 227.2 815.8 228.2 822.4 229 829 229.4 835.8 229.6 833.2 235.1 826.9 233.8 820.6 232.3 814.4 230.7 808.3 228.9 802.2 227Z" fill="#f6c830" opacity="0.93"/>
<path d="M761.1 204 763.7 205 766.3 205.8 769 206.6 771.7 207.4 774.4 208 772.6 211.2 770.2 209.9 767.8 208.6 765.4 207.3 763.1 205.9 760.7 204.6Z" fill="#f6c830" opacity="0.84"/>
<path d="M733 154.4 733.4 148.2 733.6 141.9 733.5 135.7 733.2 129.4 732.5 123.1 735.1 123.4 735.2 129.6 735 135.9 734.6 142.1 734 148.3 733.3 154.4Z" fill="#fae030" opacity="0.81"/>
<path d="M735.3 190.6 738.3 192.8 741.2 194.9 744.3 196.9 747.4 198.8 750.6 200.6 749.1 202.4 746.3 200.1 743.5 197.8 740.7 195.5 737.9 193.2 735.2 190.8Z" fill="#fce63a" opacity="0.88"/>
<path d="M737.6 160.2 740 152.9 741.9 145.4 743.5 137.8 744.7 130 745.5 122.2 748.1 123 746.7 130.7 744.9 138.2 742.8 145.7 740.5 153.1 737.8 160.3Z" fill="#fae030" opacity="0.81"/>
<path d="M706.6 159.3 702.5 155.7 698.3 152.3 693.9 149.1 689.3 146 684.5 143.1 688.1 139.8 692.1 143.5 695.9 147.2 699.8 151 703.5 154.9 707.2 158.9Z" fill="#fae43a" opacity="0.94"/>
<path d="M717.6 171.3 714.1 167.4 710.5 163.7 706.6 160.1 702.6 156.7 698.5 153.4 700.4 151.7 704.1 155.5 707.7 159.3 711.1 163.2 714.5 167.1 717.8 171.2Z" fill="#f8d42e" opacity="0.91"/>
<path d="M747 251.4 750.4 256.5 753.9 261.4 757.8 266.2 761.8 270.9 766.1 275.5 759.5 277.9 756.5 272.7 753.6 267.6 750.9 262.3 748.3 257.1 745.8 251.7Z" fill="#fae43a" opacity="0.75"/>
<path d="M736.4 232.9 739.4 240.4 742.8 247.7 746.6 254.8 750.8 261.8 755.4 268.6 752.3 269.5 748.4 262.5 744.8 255.3 741.5 247.9 738.6 240.5 736 233Z" fill="#fae030" opacity="0.89"/>
<path d="M794.1 176.3 799.5 174 804.9 171.6 810.2 168.9 815.4 165.9 820.6 162.7 822 170.1 816.5 171.8 810.9 173.4 805.4 174.9 799.8 176.3 794.2 177.6Z" fill="#fae43a" opacity="0.77"/>
<path d="M733.8 180.4 739.8 177.3 745.8 174 751.5 170.4 757.1 166.6 762.6 162.5 763.2 163.6 757.6 167.4 751.8 171 745.9 174.3 739.9 177.5 733.8 180.4Z" fill="#f8d42e" opacity="0.90"/>
<path d="M781.6 217.7 787.2 219.4 792.9 220.8 798.6 222.1 804.5 223 810.4 223.8 807 229.8 801.7 227.8 796.4 225.7 791.2 223.5 786.1 221.2 781 218.7Z" fill="#f6c830" opacity="0.88"/>
<path d="M708.3 187.7 704.2 189.1 700.2 190.5 696.2 192.1 692.2 193.8 688.4 195.7 687.8 193.8 691.8 192.4 695.9 191 700 189.8 704.1 188.6 708.2 187.5Z" fill="#fce63a" opacity="0.64"/>
<path d="M741.3 175.8 747.6 171.8 753.8 167.5 759.7 162.9 765.5 157.9 771 152.7 771.9 154.1 766.1 158.9 760.2 163.6 754.1 167.9 747.8 172.1 741.3 175.9Z" fill="#f8d42e" opacity="0.92"/>
<path d="M826.2 193.9 828.8 193.2 831.4 192.4 834 191.6 836.6 190.7 839.2 189.8 838.9 193.5 836.3 193.8 833.8 194.1 831.2 194.3 828.7 194.6 826.1 194.7Z" fill="#fae030" opacity="0.84"/>
<path d="M754.9 142.2 755.8 139.8 756.7 137.5 757.5 135.1 758.3 132.7 759.1 130.2 761.2 131.5 760 133.7 758.9 135.9 757.7 138.1 756.5 140.3 755.3 142.4Z" fill="#fae43a" opacity="0.68"/>
<path d="M726.1 197.5 726.2 205.1 726.8 212.6 727.8 220.2 729.3 227.6 731.1 235.1 727.2 235.2 726.4 227.7 725.9 220.1 725.6 212.6 725.6 205.1 725.8 197.5Z" fill="#fae43a" opacity="0.91"/>
<path d="M749.7 200.6 755.2 203.8 761 206.9 766.8 209.7 772.8 212.2 778.9 214.5 777.7 216.4 771.8 213.6 766.1 210.7 760.5 207.5 754.9 204.3 749.5 200.8Z" fill="#f8d42e" opacity="0.99"/>
<path d="M687.5 163.6 684.2 162.6 680.9 161.7 677.6 160.9 674.2 160.2 670.8 159.6 671.8 157.4 675 158.4 678.2 159.6 681.4 160.7 684.6 161.9 687.7 163.2Z" fill="#f6c830" opacity="0.95"/>
<path d="M724.5 138.6 723.3 133.9 721.8 129.2 720.2 124.6 718.4 120 716.4 115.4 721.1 114.9 722.1 119.6 723.1 124.3 723.9 129.1 724.6 133.8 725.3 138.6Z" fill="#fce63a" opacity="0.99"/>
<path d="M671.6 125.7 667.8 123.7 663.9 121.9 659.9 120.1 655.9 118.4 651.7 116.9 655.8 112.8 659.2 115.1 662.6 117.5 665.9 119.9 669.2 122.4 672.4 124.9Z" fill="#fae030" opacity="0.77"/>
<path d="M704.7 189.5 699.7 191.6 694.7 193.8 689.9 196.3 685.1 199 680.5 201.9 679 197.9 684.1 195.9 689.1 194.1 694.3 192.3 699.4 190.6 704.5 189.1Z" fill="#f8d42e" opacity="0.71"/>
<path d="M688.7 207.1 685 210.7 681.4 214.4 678 218.3 674.7 222.4 671.6 226.5 668 221.7 671.9 218.5 675.9 215.3 679.9 212.3 684 209.3 688.2 206.3Z" fill="#f6c830" opacity="0.80"/>
<path d="M693.1 169.1 690 168.3 686.9 167.7 683.8 167.1 680.6 166.6 677.4 166.1 678.4 163.6 681.4 164.5 684.4 165.5 687.4 166.5 690.4 167.6 693.3 168.6Z" fill="#fae030" opacity="0.92"/>
<path d="M792.5 183.9 799.5 182.2 806.3 180.1 813.1 177.6 819.8 174.8 826.4 171.7 827 178.3 820.2 180.1 813.3 181.6 806.4 183 799.5 184.1 792.5 185Z" fill="#f6c830" opacity="0.93"/>
<path d="M787.9 191.8 790.5 191.3 793.1 190.7 795.8 190.1 798.4 189.4 801 188.6 800.3 194.7 797.8 194.4 795.2 194.1 792.7 193.8 790.2 193.4 787.7 193.1Z" fill="#f6c830" opacity="0.86"/>
<path d="M672.9 191.6 668.5 193.5 664.2 195.4 659.9 197.6 655.7 199.9 651.6 202.3 650.4 196.6 654.8 195.3 659.3 194 663.7 192.8 668.2 191.7 672.7 190.6Z" fill="#fae030" opacity="1.00"/>
<path d="M679.7 171.1 673.9 170.9 668 170.9 662.1 171.2 656.1 171.8 650.2 172.7 651.4 166.1 657.2 166.7 662.9 167.4 668.7 168.2 674.4 169.1 680 170.1Z" fill="#f6c830" opacity="1.00"/>
<path d="M778.6 101.6 779.3 97.4 780 93.2 780.5 88.9 780.9 84.6 781.1 80.2 786.3 82.9 785 86.8 783.8 90.7 782.4 94.6 781 98.5 779.6 102.3Z" fill="#fae030" opacity="0.85"/>
<path d="M706.1 256 706.3 263.4 706.9 270.8 707.9 278.3 709.3 285.8 711.1 293.3 703 291.8 702.9 284.5 703 277.3 703.4 270 703.9 262.8 704.7 255.6Z" fill="#f8d42e" opacity="0.65"/>
<path d="M693.2 210.2 690.5 213.3 687.9 216.5 685.5 219.8 683.1 223.2 680.8 226.6 678.4 224.1 681.2 221.1 684 218.2 686.9 215.3 689.9 212.5 692.8 209.8Z" fill="#fae030" opacity="0.68"/>
<path d="M691.6 127.9 688.7 125.2 685.6 122.7 682.5 120.2 679.3 117.8 676 115.5 679.6 113 682.2 115.8 684.8 118.7 687.4 121.6 689.9 124.5 692.3 127.4Z" fill="#fae43a" opacity="0.80"/>
<path d="M758.9 237.4 762.1 240.5 765.5 243.5 769 246.4 772.6 249.2 776.3 251.9 771.7 254.9 768.9 251.5 766.1 248.2 763.3 244.8 760.6 241.3 758 237.9Z" fill="#fae030" opacity="0.99"/>
<path d="M733.8 228.5 735.1 232 736.5 235.4 738 238.9 739.7 242.3 741.5 245.7 737.7 246.4 736.6 242.8 735.7 239.3 734.8 235.7 733.9 232.1 733.1 228.6Z" fill="#fce63a" opacity="0.95"/>
<path d="M635.3 163.6 630.9 164.4 626.6 165.3 622.2 166.3 617.9 167.5 613.6 168.9 614.9 161 619.1 161.1 623.2 161.2 627.4 161.4 631.5 161.7 635.6 162Z" fill="#f6c830" opacity="0.94"/>
<path d="M754.7 153.3 756.1 150.9 757.5 148.5 758.9 146.1 760.2 143.7 761.4 141.2 763.5 142.9 761.8 145 760.2 147.2 758.5 149.4 756.8 151.5 755.1 153.6Z" fill="#f6c830" opacity="0.88"/>
<path d="M726.3 177.9 725.5 173.5 724.6 169.1 723.5 164.7 722.2 160.3 720.8 156 722.7 155.6 723.6 160.1 724.4 164.5 725.2 169 725.8 173.5 726.4 177.9Z" fill="#fce63a" opacity="0.94"/>
<path d="M703.2 189 700.4 190 697.6 191.2 694.8 192.5 692.1 193.8 689.3 195.3 688.4 192 691.4 191.3 694.3 190.6 697.2 189.8 700.2 189.1 703.1 188.5Z" fill="#f6c830" opacity="0.77"/>
<path d="M733.9 198.9 736.1 202.9 738.5 206.8 741 210.6 743.7 214.4 746.5 218 744 219.3 741.8 215.3 739.6 211.3 737.5 207.2 735.5 203.1 733.6 199Z" fill="#f8d42e" opacity="0.88"/>
<path d="M749.2 213.7 752.7 217.2 756.4 220.7 760.2 224 764.2 227.2 768.3 230.3 766.3 231.9 762.7 228.4 759.1 224.9 755.6 221.3 752.2 217.6 748.8 213.9Z" fill="#fae43a" opacity="0.84"/>
<path d="M738.1 189.7 745.1 193 752.2 195.9 759.5 198.4 766.9 200.5 774.5 202.3 773.2 205.2 765.9 202.6 758.8 199.8 751.7 196.7 744.8 193.4 738 189.9Z" fill="#f6c830" opacity="0.80"/>
<path d="M735.7 182.8 742.9 181.9 750 180.7 757.1 179.2 764.1 177.4 771.1 175.2 777.9 172.7 784.7 169.8 791.3 166.7 797.8 163.2 804.2 159.5 806.3 167.4 799.5 170.2 792.6 172.7 785.7 174.9 778.7 176.9 771.6 178.6 764.5 180.1 757.3 181.3 750.2 182.2 743 182.9 735.7 183.3Z" fill="#d8321e" opacity="0.87"/>
<path d="M735.2 184.4 742.3 184.9 749.3 185.1 756.4 185 763.5 184.6 770.5 183.8 777.6 182.7 784.6 181.3 791.6 179.6 798.5 177.6 805.4 175.2 805.8 183.3 798.7 184.6 791.7 185.6 784.6 186.4 777.5 187 770.4 187.3 763.3 187.3 756.2 187.1 749.2 186.6 742.1 185.9 735.2 184.9Z" fill="#d42c1e" opacity="0.93"/>
<path d="M736.5 187.4 743.2 189.9 750.1 192 757 193.8 764.1 195.3 771.2 196.5 778.4 197.4 785.6 198 793 198.2 800.3 198.1 807.7 197.7 806 204.8 798.7 204.3 791.5 203.5 784.3 202.4 777.2 201.1 770.1 199.5 763.2 197.7 756.3 195.6 749.5 193.3 742.8 190.7 736.3 187.9Z" fill="#d0281c" opacity="0.89"/>
<path d="M736.5 188.7 745.1 192.9 753.9 196.5 763 199.6 772.3 202.2 781.8 204.2 791.4 205.7 801.2 206.7 811.1 207 821 206.8 831.1 206.1 828.3 215.8 818.4 215.2 808.6 214.2 798.9 212.7 789.4 210.7 780 208.2 770.8 205.3 761.8 201.9 753 198.1 744.5 193.9 736.2 189.2Z" fill="#d0281c" opacity="0.93"/>
<path d="M731.6 187.9 739.7 195.1 748.3 201.8 757.4 207.8 767 213.3 777 218.1 787.3 222.2 798 225.7 809 228.5 820.3 230.6 831.9 231.9 825 244 814.1 240.9 803.4 237.1 793.1 232.8 783 227.9 773.4 222.5 764.1 216.6 755.2 210.2 746.8 203.3 738.8 196 731.2 188.2Z" fill="#d8321e" opacity="0.93"/>
<path d="M731.6 188.6 736.9 194.2 742.5 199.4 748.4 204.4 754.5 209.1 760.9 213.5 767.5 217.7 774.4 221.5 781.4 225 788.7 228.2 796.1 231 791.6 236.8 784.6 233.1 777.8 229.1 771.2 224.9 764.9 220.4 758.7 215.7 752.8 210.8 747 205.6 741.6 200.2 736.3 194.6 731.3 188.8Z" fill="#d8321e" opacity="0.82"/>
<path d="M731.5 194 734.9 200.7 738.6 207.2 742.7 213.6 747.1 219.8 751.8 225.7 756.8 231.5 762.1 237 767.7 242.3 773.6 247.4 779.8 252.2 772 257.3 766.8 251.7 761.7 245.9 756.9 239.9 752.4 233.8 748.1 227.6 744.1 221.2 740.4 214.6 736.9 207.9 733.8 201.2 730.9 194.3Z" fill="#d0281c" opacity="0.94"/>
<path d="M730.6 194.3 732.4 198.8 734.4 203.3 736.5 207.6 738.7 212 741.1 216.2 743.7 220.4 746.4 224.5 749.2 228.5 752.2 232.4 755.3 236.2 749.8 238.8 747.3 234.5 744.9 230.3 742.7 225.9 740.5 221.6 738.5 217.2 736.6 212.7 734.8 208.2 733.1 203.7 731.5 199.1 730 194.5Z" fill="#d42c1e" opacity="0.88"/>
<path d="M726.8 191.6 727 197.2 727.4 202.8 728 208.4 728.8 214 729.9 219.6 731.2 225.2 732.7 230.7 734.4 236.1 736.3 241.5 738.5 246.9 731.2 247.8 729.9 242.2 728.9 236.6 728 231 727.2 225.4 726.7 219.7 726.3 214.1 726 208.4 726 202.8 726.1 197.2 726.3 191.5Z" fill="#d42c1e" opacity="0.86"/>
<path d="M726.4 191.4 726.2 197.4 726.2 203.5 726.6 209.5 727.1 215.6 727.9 221.6 729 227.6 730.3 233.6 731.9 239.5 733.7 245.4 735.7 251.3 729.4 251.8 728.1 245.7 727.1 239.7 726.3 233.7 725.6 227.6 725.2 221.6 724.9 215.5 724.9 209.5 725 203.4 725.4 197.4 726 191.4Z" fill="#d0281c" opacity="0.82"/>
<path d="M724.5 190.9 722.2 199.6 720.4 208.4 719.1 217.3 718.3 226.3 718.1 235.4 718.4 244.5 719.2 253.6 720.6 262.7 722.5 271.9 725 280.9 715 280.2 713.9 271 713.2 261.8 713 252.7 713.3 243.6 714 234.5 715.1 225.6 716.7 216.7 718.7 207.9 721.2 199.3 724.1 190.7Z" fill="#d42c1e" opacity="0.93"/>
<path d="M721.8 191 716.8 199.4 712.4 208 708.5 216.9 705.2 226.1 702.4 235.5 700.2 245.1 698.7 254.9 697.7 264.8 697.3 274.8 697.6 285 687.4 281.6 688.5 271.6 690.2 261.8 692.5 252.2 695.2 242.7 698.4 233.5 702 224.4 706.2 215.6 710.8 207 715.9 198.7 721.4 190.7Z" fill="#d8321e" opacity="0.82"/>
<path d="M719.6 190.5 714.9 195.5 710.4 200.7 706.2 206.2 702.2 211.8 698.4 217.6 694.9 223.6 691.7 229.8 688.7 236.1 686 242.5 683.6 249.2 678 245.3 681.2 239.1 684.6 233 688.3 227.1 692.1 221.3 696.1 215.7 700.4 210.2 704.8 204.9 709.5 199.8 714.3 194.9 719.3 190.1Z" fill="#d42c1e" opacity="0.93"/>
<path d="M717.8 189.6 712.1 194 706.7 198.6 701.4 203.4 696.4 208.5 691.6 213.8 687 219.3 682.7 225.1 678.7 231 674.9 237.2 671.4 243.6 666.2 238.6 670.5 232.8 675 227.1 679.6 221.7 684.5 216.4 689.6 211.4 694.8 206.5 700.2 201.9 705.8 197.4 711.6 193.2 717.5 189.2Z" fill="#d0281c" opacity="0.88"/>
<path d="M718.4 186.8 710.9 190.2 703.6 194 696.5 198.2 689.6 202.7 682.9 207.7 676.5 213 670.3 218.6 664.4 224.6 658.9 230.9 653.6 237.5 648.2 229.8 654.4 224 660.7 218.6 667.3 213.5 674.1 208.6 681 204.1 688.2 199.9 695.5 196 702.9 192.4 710.5 189.2 718.2 186.3Z" fill="#d42c1e" opacity="0.89"/>
<path d="M721.2 184.8 710.6 187.9 700.2 191.7 690.1 196.3 680.3 201.5 670.8 207.5 661.7 214.1 653 221.3 644.8 229.2 637.1 237.8 629.9 246.8 623.2 235.7 631.6 227.9 640.4 220.7 649.6 214.1 659.1 208 668.9 202.5 678.9 197.7 689.2 193.4 699.7 189.8 710.3 186.8 721.2 184.4Z" fill="#d42c1e" opacity="0.86"/>
<path d="M721.9 183.9 714.4 184.8 706.9 186.2 699.5 187.9 692.2 190 684.9 192.4 677.8 195.2 670.8 198.3 663.9 201.8 657.2 205.6 650.6 209.7 648.2 201.8 655.3 198.6 662.4 195.8 669.6 193.3 676.9 191 684.3 189 691.8 187.3 699.2 186 706.8 184.9 714.3 184.1 721.9 183.6Z" fill="#d0281c" opacity="0.94"/>
<path d="M715.7 182.8 710.2 182.8 704.8 183 699.4 183.4 694 184 688.6 184.8 683.2 185.8 677.9 187 672.6 188.4 667.3 190 662.1 191.7 661.5 183.8 667 183 672.4 182.3 677.8 181.8 683.2 181.4 688.7 181.2 694.1 181.1 699.5 181.1 704.9 181.3 710.3 181.6 715.7 182Z" fill="#d42c1e" opacity="0.82"/>
<path d="M716.8 179.4 707.9 176.5 698.8 174.2 689.6 172.4 680.3 171.1 670.9 170.4 661.4 170.2 651.8 170.5 642.2 171.4 632.6 172.8 623 174.7 624.3 165.4 633.9 164.7 643.5 164.5 653.1 164.7 662.6 165.4 672 166.5 681.3 168.1 690.4 170.1 699.4 172.6 708.3 175.5 717 178.9Z" fill="#d42c1e" opacity="0.90"/>
<path d="M717.2 178.3 708.2 174.3 699.1 170.9 689.7 168 680.1 165.7 670.3 164 660.4 162.9 650.3 162.3 640.2 162.3 630 163 619.8 164.2 622.1 154.5 632.3 154.6 642.3 155.2 652.3 156.3 662.2 157.9 671.9 160.1 681.4 162.7 690.7 165.7 699.9 169.3 708.8 173.3 717.4 177.8Z" fill="#d8321e" opacity="0.85"/>
<path d="M722.7 179.8 714.6 173.7 706 168.1 697.1 163.1 687.8 158.6 678.2 154.7 668.3 151.4 658.2 148.7 647.8 146.6 637.2 145.2 626.4 144.4 631.5 133.6 641.8 136 652 138.9 661.9 142.4 671.6 146.3 680.9 150.7 690 155.6 698.8 160.9 707.2 166.7 715.3 172.9 722.9 179.6Z" fill="#d0281c" opacity="0.89"/>
<path d="M723.4 177.8 719.8 172.9 716.1 168.1 712.1 163.4 708 158.9 703.7 154.6 699.2 150.4 694.5 146.4 689.6 142.5 684.5 138.9 679.3 135.4 684.1 131.3 688.8 135.4 693.3 139.6 697.6 143.9 701.8 148.4 705.9 153 709.7 157.7 713.5 162.5 717 167.5 720.4 172.5 723.6 177.6Z" fill="#d42c1e" opacity="0.88"/>
<path d="M722.7 176 719.7 171.4 716.5 166.9 713.1 162.6 709.6 158.3 705.9 154.2 702.1 150.2 698.1 146.3 693.9 142.6 689.5 139 685.1 135.6 690.9 131.3 694.7 135.3 698.4 139.5 701.9 143.7 705.3 148.1 708.6 152.5 711.8 157 714.8 161.6 717.8 166.2 720.5 171 723.2 175.8Z" fill="#d0281c" opacity="0.92"/>
<path d="M723.8 172.4 720.8 164.4 717.5 156.5 713.6 148.8 709.3 141.3 704.6 134 699.4 126.9 693.9 120.1 687.9 113.5 681.5 107.3 674.8 101.3 682.7 96.9 688.5 103.6 694 110.6 699.1 117.7 703.9 125 708.2 132.5 712.2 140.2 715.9 148 719.1 156 721.9 164.1 724.4 172.3Z" fill="#d42c1e" opacity="0.89"/>
<path d="M726.4 177 724.9 166.7 722.7 156.5 719.8 146.4 716.2 136.5 712 126.8 707 117.4 701.4 108.2 695.2 99.3 688.3 90.8 680.9 82.6 689.7 79.1 696.1 88 701.9 97.2 707.1 106.6 711.8 116.2 715.8 126 719.2 136 722 146.1 724.2 156.3 725.8 166.6 726.7 177Z" fill="#d8321e" opacity="0.85"/>
<path d="M728.9 172.7 730.1 162.4 730.5 152.1 730.2 141.7 729.3 131.4 727.6 121 725.2 110.8 722.1 100.6 718.4 90.6 713.9 80.7 708.8 71 720.2 69.8 723.9 79.9 726.9 90.2 729.4 100.5 731.2 110.9 732.5 121.3 733.1 131.7 733.1 142.1 732.5 152.4 731.3 162.6 729.5 172.8Z" fill="#d42c1e" opacity="0.81"/>
<path d="M729.6 177 733.2 166.4 736 155.6 738 144.5 739.2 133.3 739.6 122 739.1 110.6 737.9 99.2 735.8 87.7 732.9 76.4 729.2 65.1 741.7 65.9 743.7 77.5 745 89 745.6 100.5 745.4 111.9 744.6 123.2 743 134.4 740.8 145.4 737.8 156.2 734.2 166.8 730 177.1Z" fill="#d0281c" opacity="0.91"/>
<path d="M730.8 178.2 735.7 170.6 740.1 162.7 744.1 154.5 747.6 146.1 750.6 137.5 753 128.7 755 119.7 756.4 110.5 757.3 101.3 757.6 91.9 768.8 96.2 766.9 105.3 764.5 114.2 761.7 123 758.5 131.5 754.9 139.9 750.9 148.1 746.5 156 741.8 163.8 736.6 171.2 731.1 178.4Z" fill="#d42c1e" opacity="0.81"/>
<path d="M732.9 177.3 738.3 171 743.4 164.4 748.2 157.5 752.6 150.3 756.6 142.9 760.2 135.3 763.4 127.5 766.1 119.4 768.5 111.2 770.4 102.8 777.9 107.1 774.9 115.1 771.5 122.9 767.8 130.5 763.8 137.9 759.5 145.1 754.8 152.1 749.8 158.9 744.6 165.4 739 171.6 733.2 177.6Z" fill="#d0281c" opacity="0.87"/>
<path d="M736.6 177.3 741.2 174 745.8 170.5 750.1 166.9 754.4 163 758.5 159 762.4 154.9 766.2 150.6 769.9 146.1 773.4 141.5 776.7 136.8 780.8 141.5 776.9 145.7 772.9 149.8 768.8 153.7 764.5 157.6 760.2 161.3 755.7 164.9 751.2 168.3 746.5 171.6 741.8 174.8 736.9 177.8Z" fill="#d0281c" opacity="0.83"/>
<path d="M731.7 180.8 741.1 175.1 750.1 168.7 758.6 161.7 766.6 154 774.1 145.8 781 137.1 787.4 127.8 793.1 118.1 798.2 107.9 802.6 97.2 813 107.1 806.9 116.7 800.3 125.8 793.1 134.5 785.6 142.7 777.6 150.5 769.2 157.7 760.4 164.4 751.2 170.5 741.7 176.1 731.9 181.2Z" fill="#d42c1e" opacity="0.93"/>
<path d="M736.6 181.5 745.5 179.2 754.3 176.4 762.9 173 771.3 169.2 779.5 164.9 787.5 160.2 795.3 154.9 802.8 149.3 810 143.1 816.8 136.5 820.5 144.1 813 149.7 805.2 155 797.2 159.9 789 164.3 780.7 168.3 772.1 171.9 763.5 175.1 754.7 177.8 745.7 180.1 736.7 181.9Z" fill="#d42c1e" opacity="0.95"/>
<path d="M692.7 234.8 690.5 241 688.6 247.4 687 254 685.7 260.6 684.6 267.3 683.9 274.1 677 270.7 679 264.3 681.1 258.1 683.5 251.9 686 245.9 688.7 239.9 691.5 234Z" fill="#d8321e" opacity="0.70"/>
<path d="M646.1 187.2 639 189.7 632 192.4 625.1 195.6 618.4 199 611.7 202.8 605.1 206.9 604 200.6 610.9 197.6 617.8 194.8 624.8 192.2 631.8 189.9 638.9 187.8 646.1 186Z" fill="#d8321e" opacity="0.62"/>
<path d="M659.1 209.2 652 214.4 645.1 219.9 638.4 225.9 632 232.2 626 239 620.2 246.1 617.3 241 623.7 234.8 630.3 228.8 637.1 223.2 644.1 217.9 651.4 212.9 658.8 208.3Z" fill="#d8321e" opacity="0.51"/>
<path d="M633.3 178.9 628.1 180.4 623 182.1 617.8 183.9 612.7 185.9 607.7 188.1 602.7 190.4 602.5 184.9 607.6 183.4 612.7 182 617.9 180.7 623 179.6 628.2 178.6 633.4 177.7Z" fill="#d8321e" opacity="0.85"/>
<path d="M772.7 139.2 775.1 135.4 777.4 131.5 779.5 127.6 781.5 123.6 783.4 119.5 785.2 115.3 788.5 118.1 786.2 121.9 783.7 125.6 781.3 129.2 778.7 132.8 776.1 136.3 773.4 139.8Z" fill="#d8321e" opacity="0.67"/>
<path d="M665.7 173.9 659.6 174.3 653.5 175.1 647.5 176 641.4 177.2 635.4 178.7 629.4 180.4 629.8 174.6 635.8 173.9 641.8 173.3 647.8 172.9 653.9 172.7 659.9 172.7 665.8 172.8Z" fill="#d8321e" opacity="0.55"/>
<path d="M685 143.5 680.1 140.5 675 137.7 669.8 135.1 664.5 132.6 659 130.4 653.5 128.3 656.2 124.9 661.4 127.6 666.4 130.4 671.4 133.4 676.2 136.4 681 139.6 685.6 142.9Z" fill="#d8321e" opacity="0.55"/>
<path d="M641.7 167 635.4 167.7 629.1 168.6 622.8 169.8 616.5 171.2 610.2 172.9 604 174.8 604.5 169.4 610.7 168.4 617 167.5 623.2 166.8 629.5 166.3 635.7 166 642 165.9Z" fill="#d8321e" opacity="0.56"/>
<path d="M764.1 117.7 765.1 113.1 766 108.5 766.7 103.8 767.3 99.1 767.7 94.3 768 89.5 773.2 91.9 772.1 96.4 770.9 100.9 769.6 105.3 768.2 109.7 766.7 114 765.2 118.3Z" fill="#d8321e" opacity="0.55"/>
<path d="M676.3 166.3 668.6 165.3 660.8 164.7 653 164.4 645.1 164.6 637.2 165.1 629.3 166 630.3 161.4 638.1 161.4 645.9 161.6 653.7 162.2 661.3 163 669 164.2 676.5 165.6Z" fill="#d8321e" opacity="0.62"/>
<path d="M778.6 162.5 782.8 159.6 786.8 156.6 790.8 153.4 794.7 150 798.5 146.5 802.1 142.9 804.7 147.7 800.5 150.6 796.3 153.4 792.1 156 787.8 158.6 783.4 161.1 779 163.5Z" fill="#d8321e" opacity="0.72"/>
<path d="M746.8 100.3 746.2 94.5 745.4 88.7 744.3 82.9 743 77.1 741.4 71.2 739.6 65.5 748.1 66.6 748.6 72.4 748.9 78.1 749 83.8 749 89.4 748.9 95.1 748.6 100.8Z" fill="#d8321e" opacity="0.58"/>
<path d="M723.9 97.5 722.6 94.6 721.3 91.6 719.8 88.8 718.3 85.9 716.6 83 714.9 80.2 722.4 79.6 723.1 82.6 723.7 85.6 724.3 88.5 724.8 91.5 725.3 94.5 725.8 97.5Z" fill="#d8321e" opacity="0.62"/>
<path d="M777.2 214.3 781.7 215.8 786.2 217.1 790.8 218.2 795.4 219.2 800.1 220 804.8 220.7 801.9 226.2 797.5 224.5 793.3 222.9 789 221.1 784.8 219.3 780.7 217.4 776.5 215.4Z" fill="#d8321e" opacity="0.80"/>
<path d="M671.2 145.3 666.7 143.7 662.2 142.2 657.7 140.8 653 139.6 648.3 138.6 643.6 137.6 645.9 133.7 650.4 135.3 654.7 137 659.1 138.7 663.3 140.6 667.6 142.5 671.7 144.5Z" fill="#d8321e" opacity="0.53"/>
<path d="M657 221.9 651.7 227.4 646.7 233.1 641.9 239.1 637.4 245.4 633.2 252 629.2 258.8 624 251.9 629 246.2 634.1 240.6 639.4 235.3 644.8 230.1 650.5 225.2 656.2 220.5Z" fill="#d8321e" opacity="0.81"/>
<path d="M644.2 168.3 637.2 169.1 630.3 170.3 623.4 171.8 616.5 173.6 609.7 175.7 602.9 178.1 603.5 170.1 610.3 169 617.2 168.1 624 167.5 630.9 167 637.7 166.7 644.5 166.7Z" fill="#d8321e" opacity="0.77"/>
<path d="M776.5 206.3 780.7 207.3 785 208.1 789.3 208.8 793.7 209.4 798 209.8 802.4 210.1 800.8 214.2 796.6 213.2 792.5 212.2 788.3 211 784.2 209.8 780.2 208.5 776.1 207.2Z" fill="#d8321e" opacity="0.66"/>
<path d="M806.2 198.3 813.1 197.6 820.1 196.6 827 195.3 833.9 193.7 840.8 191.8 847.6 189.6 847.1 196 840.2 197.1 833.4 198 826.5 198.7 819.6 199.2 812.8 199.5 806 199.5Z" fill="#d8321e" opacity="0.81"/>
<path d="M733.7 248.8 736.8 257.2 740.3 265.3 744.4 273.4 748.9 281.2 753.9 288.9 759.4 296.4 753.5 297.8 749.1 290 745 282 741.4 273.9 738.1 265.7 735.2 257.3 732.7 248.9Z" fill="#d8321e" opacity="0.57"/>
<path d="M795.2 192.7 801.8 191.9 808.4 190.9 815 189.6 821.5 188 828.1 186.1 834.6 183.9 834.4 189.7 827.8 190.8 821.3 191.8 814.7 192.6 808.1 193.2 801.6 193.6 795 193.8Z" fill="#d8321e" opacity="0.70"/>
<path d="M667 137 659.3 134 651.4 131.3 643.3 129.1 635 127.2 626.5 125.8 617.9 124.7 622.3 117.4 630.3 119.8 638.2 122.5 645.9 125.4 653.4 128.6 660.8 132.1 668 135.8Z" fill="#d8321e" opacity="0.53"/>
<path d="M784.1 124.4 787.2 118 790 111.4 792.6 104.7 794.8 97.8 796.7 90.7 798.3 83.5 805.7 89 802.8 95.4 799.7 101.7 796.4 107.9 792.9 113.9 789.2 119.9 785.4 125.6Z" fill="#d8321e" opacity="0.80"/>
<path d="M747 249.1 750.7 254.9 754.7 260.7 759 266.3 763.6 271.8 768.5 277 773.6 282.1 767.4 284.7 763.3 279.1 759.4 273.3 755.7 267.5 752.2 261.5 748.9 255.5 745.8 249.4Z" fill="#d8321e" opacity="0.77"/>
<path d="M662 232.8 658.9 237.1 655.9 241.6 653.1 246.2 650.5 250.9 648 255.7 645.7 260.6 641.5 256.3 644.6 252 647.7 247.7 651 243.6 654.3 239.6 657.7 235.6 661.2 231.8Z" fill="#d8321e" opacity="0.72"/>
<path d="M668.3 218 664.3 222 660.4 226.2 656.7 230.5 653.2 235 649.7 239.6 646.5 244.5 643.2 240 647 235.9 651 231.9 655 228 659.2 224.2 663.4 220.6 667.7 217Z" fill="#d8321e" opacity="0.62"/>
<path d="M685 246.2 683.9 249.9 682.9 253.7 682 257.5 681.2 261.3 680.5 265.2 679.9 269.1 675.2 266.5 676.5 262.9 677.9 259.4 679.3 255.9 680.8 252.4 682.3 249 683.9 245.5Z" fill="#d8321e" opacity="0.73"/>
<path d="M687.9 258.5 687.2 263.3 686.6 268.1 686.2 272.9 686 277.8 685.9 282.7 686 287.6 679.8 285.1 680.7 280.5 681.7 275.9 682.8 271.3 684 266.8 685.2 262.3 686.6 257.9Z" fill="#d8321e" opacity="0.66"/>
<path d="M706.6 253.1 706.6 261.5 707.1 270 708.1 278.5 709.6 287 711.5 295.5 714 303.9 704.5 302.6 703.8 294.2 703.3 285.8 703.2 277.4 703.5 269.1 704 260.8 704.9 252.6Z" fill="#d8321e" opacity="0.54"/>
<path d="M734 105.9 732.8 100 731.3 94.1 729.6 88.3 727.7 82.4 725.5 76.6 723.1 70.9 728.6 70.8 730.2 76.7 731.5 82.5 732.7 88.4 733.7 94.3 734.5 100.1 735.1 106Z" fill="#d8321e" opacity="0.59"/>
<path d="M676.9 213.9 671 219.7 665.4 225.9 660.2 232.3 655.2 239.1 650.7 246.2 646.4 253.6 641.3 247.5 646.5 241.1 652.1 235 657.8 229.1 663.7 223.4 669.9 218 676.2 212.8Z" fill="#d8321e" opacity="0.84"/>
<path d="M784.6 200.1 793.5 200.6 802.4 200.7 811.4 200.2 820.4 199.2 829.5 197.7 838.5 195.7 837.5 202.6 828.5 203.3 819.6 203.6 810.6 203.5 801.8 203.1 793 202.3 784.2 201.2Z" fill="#d8321e" opacity="0.59"/>
<path d="M696.9 113 692.1 107.3 686.9 101.8 681.5 96.5 675.7 91.5 669.7 86.7 663.3 82.1 671.3 77.7 676.4 83.1 681.2 88.7 685.9 94.5 690.3 100.3 694.5 106.3 698.5 112.4Z" fill="#d8321e" opacity="0.58"/>
<path d="M730 262.4 732.5 269.4 735.4 276.4 738.6 283.2 742.1 289.9 746 296.6 750.3 303.1 742.7 304.2 739.7 297.4 737 290.5 734.5 283.6 732.3 276.6 730.3 269.5 728.6 262.5Z" fill="#d8321e" opacity="0.71"/>
<path d="M673.8 194.3 666.1 197.6 658.6 201.3 651.2 205.5 644 210.1 637 215.1 630.3 220.5 628.1 214.6 635.4 210.3 642.8 206.3 650.4 202.5 658 199.1 665.8 196.1 673.7 193.3Z" fill="#d8321e" opacity="0.57"/>
<path d="M795 205.6 803 206 811.1 205.9 819.3 205.5 827.5 204.6 835.7 203.3 844 201.6 842.3 210 834.2 210.2 826.1 210.1 818.1 209.8 810.2 209.1 802.3 208.2 794.4 207Z" fill="#d8321e" opacity="0.78"/>
<path d="M797.8 145.3 801.2 141.9 804.4 138.5 807.6 134.9 810.6 131.2 813.6 127.3 816.4 123.4 819.3 127.7 815.9 131 812.5 134.2 809.1 137.3 805.6 140.4 802 143.4 798.4 146.3Z" fill="#d8321e" opacity="0.70"/>
<path d="M668.1 203.2 660.6 207.8 653.3 212.7 646.3 218.1 639.6 223.9 633.1 230.1 626.9 236.7 624.7 232.4 631.4 226.6 638.3 221.1 645.4 215.9 652.7 211.1 660.2 206.6 667.8 202.5Z" fill="#d8321e" opacity="0.57"/>
<path d="M767.7 244.6 773.3 249.5 779.1 254.1 785.2 258.5 791.6 262.6 798.2 266.5 805 270.1 800.6 273.7 794.5 269.4 788.5 264.9 782.8 260.2 777.2 255.4 771.9 250.4 766.8 245.2Z" fill="#d8321e" opacity="0.57"/>
<path d="M685.2 104.4 680.9 100.4 676.3 96.7 671.6 93 666.7 89.5 661.6 86.2 656.4 83.1 664.4 78.1 668.5 82.1 672.4 86.3 676.3 90.4 680 94.7 683.6 99.1 687.1 103.5Z" fill="#d8321e" opacity="0.71"/>
<path d="M665.7 203 661.9 205.4 658.2 207.9 654.5 210.5 650.9 213.2 647.4 216 644 219 642.1 214.4 645.9 212.2 649.7 210 653.6 207.9 657.5 205.9 661.4 203.9 665.3 202.1Z" fill="#d8321e" opacity="0.82"/>
<path d="M666.7 125.5 660.4 122.5 654 119.7 647.3 117.2 640.6 115 633.6 113.1 626.5 111.4 632.2 104.4 638.5 107.3 644.7 110.3 650.7 113.5 656.6 116.9 662.4 120.5 668 124.2Z" fill="#d8321e" opacity="0.61"/>
<path d="M757.2 227.5 762.2 232.4 767.4 237 772.9 241.4 778.6 245.6 784.6 249.6 790.7 253.3 787.3 256.1 781.7 251.8 776.3 247.4 771.1 242.7 766 237.9 761.2 233 756.5 227.9Z" fill="#d8321e" opacity="0.77"/>
<path d="M746.9 128 747.8 120.2 748.3 112.2 748.4 104.2 748.1 96.2 747.4 88.1 746.2 80 751.7 81.1 751.9 89.1 751.7 97.1 751.2 105 750.4 112.8 749.2 120.6 747.8 128.3Z" fill="#d8321e" opacity="0.68"/>
<path d="M750.7 134.9 751.7 130.7 752.6 126.5 753.4 122.2 754 117.9 754.5 113.6 754.9 109.2 758.7 110.7 757.7 114.9 756.6 119 755.4 123.1 754.2 127.2 752.9 131.2 751.5 135.3Z" fill="#d8321e" opacity="0.79"/>
<path d="M774 129.9 775.5 126.5 776.9 123 778.2 119.5 779.4 115.9 780.6 112.3 781.6 108.6 787 112.7 785.1 115.8 783.2 118.9 781.3 122 779.3 125 777.2 128 775.2 130.9Z" fill="#d8321e" opacity="0.60"/>
<path d="M641 147.9 635.5 147.6 630 147.6 624.4 147.7 618.8 148 613.1 148.5 607.5 149.2 610 141.7 615.4 142.1 620.7 142.7 626 143.4 631.3 144.3 636.5 145.2 641.8 146.3Z" fill="#d8321e" opacity="0.71"/>
<path d="M652 193 646.7 195.3 641.5 197.9 636.3 200.6 631.2 203.6 626.2 206.8 621.3 210.2 619.7 203 624.9 200.8 630.2 198.7 635.6 196.7 641 194.8 646.4 193.1 651.8 191.5Z" fill="#d8321e" opacity="0.82"/>
<path d="M790 182 796.8 180.2 803.6 178 810.3 175.5 816.9 172.7 823.4 169.6 829.8 166.1 830.8 173.6 824.1 175.7 817.3 177.7 810.5 179.4 803.7 180.9 796.9 182.3 790 183.4Z" fill="#d8321e" opacity="0.70"/>
<path d="M677.7 222.2 673.5 227.5 669.4 233 665.6 238.7 662.1 244.6 658.7 250.7 655.6 257 652.5 254 656.2 248.2 660.1 242.5 664.1 237 668.3 231.7 672.7 226.5 677.3 221.5Z" fill="#d8321e" opacity="0.59"/>
<path d="M741.9 116.4 741.7 110.4 741.1 104.4 740.4 98.4 739.4 92.3 738.1 86.3 742.1 86.9 742.6 92.8 742.8 98.8 742.9 104.7 742.9 110.6 742.6 116.5Z" fill="#f8d42e" opacity="0.96"/>
<path d="M743 91.4 742 86.6 740.8 81.9 739.5 77.2 738 72.5 736.3 67.8 742.9 68.4 743.4 73.1 743.7 77.7 744 82.4 744.2 87 744.3 91.6Z" fill="#f6c830" opacity="0.77"/>
<path d="M655.8 167.2 652.7 167.5 649.7 167.8 646.5 168.2 643.4 168.7 640.3 169.2 641.2 165 644.2 165.2 647.1 165.5 650.1 165.7 653.1 166 656.1 166.4Z" fill="#f8d42e" opacity="0.86"/>
<path d="M731.8 251.7 733.5 256.4 735.2 261.1 737.2 265.7 739.3 270.3 741.6 274.9 738.3 275.3 736.7 270.7 735.1 266 733.7 261.2 732.4 256.5 731.2 251.7Z" fill="#fae43a" opacity="0.84"/>
<path d="M706.9 215.5 705.8 218 704.8 220.6 703.9 223.2 703 225.8 702.1 228.5 700.6 227.6 701.7 225.1 702.9 222.7 704.1 220.2 705.4 217.8 706.6 215.3Z" fill="#fce63a" opacity="0.67"/>
<path d="M728.1 240.8 729.2 245.4 730.5 250 732 254.6 733.6 259.1 735.4 263.6 732.4 263.8 731.2 259.3 730.1 254.7 729.2 250 728.3 245.4 727.5 240.8Z" fill="#fae030" opacity="0.73"/>
<path d="M712 261.9 712.7 264.9 713.4 267.9 714.2 270.9 715.1 273.9 716.1 276.9 709 275.9 709.3 273 709.6 270.1 709.9 267.3 710.2 264.4 710.5 261.6Z" fill="#f6c830" opacity="0.83"/>
<path d="M690.6 265.5 690.3 269.7 690.1 274 690 278.3 690.1 282.6 690.2 287 686.3 285.6 686.9 281.4 687.5 277.3 688.2 273.3 689 269.2 689.8 265.2Z" fill="#fce63a" opacity="0.75"/>
<path d="M759.1 131.3 760.8 126.3 762.2 121.3 763.5 116.2 764.5 111.1 765.4 105.9 768.6 107.5 767.1 112.4 765.4 117.3 763.6 122.1 761.7 126.9 759.7 131.6Z" fill="#fae030" opacity="0.95"/>
<path d="M705.7 246.9 705.6 251 705.7 255.2 706 259.5 706.4 263.7 706.9 267.9 700.3 266.2 701 262.2 701.8 258.2 702.6 254.3 703.5 250.4 704.4 246.5Z" fill="#fce63a" opacity="0.77"/>
<path d="M774.3 163.8 778.7 160.7 783 157.4 787.2 153.9 791.2 150.2 795.2 146.4 797.7 151.2 793.2 154.1 788.6 156.9 784 159.5 779.3 162.1 774.6 164.6Z" fill="#f8d42e" opacity="0.85"/>
<path d="M687.7 129.7 681.7 124.8 675.4 120.2 668.8 115.9 662 111.9 654.9 108.2 658.9 104.7 665.2 109.2 671.3 113.9 677.2 118.8 682.9 123.9 688.4 129.2Z" fill="#f6c830" opacity="0.68"/>
<path d="M766.8 164.1 771.2 160.9 775.4 157.6 779.5 154.1 783.5 150.4 787.3 146.6 789.1 149.6 784.9 152.8 780.5 155.9 776.1 158.9 771.6 161.8 767.1 164.6Z" fill="#f8d42e" opacity="0.98"/>
<path d="M791.9 192.1 799 191.1 806.1 189.8 813.1 188.2 820.1 186.2 827 183.9 826.7 191.4 819.7 192.2 812.7 192.8 805.7 193.1 798.7 193.3 791.8 193.3Z" fill="#f8d42e" opacity="0.82"/>
<path d="M771.2 103.3 771.5 100.7 771.8 98.1 772.1 95.5 772.3 92.9 772.5 90.3 775.6 91.8 774.9 94.2 774.2 96.6 773.5 99 772.7 101.3 771.9 103.7Z" fill="#fae030" opacity="0.97"/>
<path d="M721.7 139.1 720.4 135.1 719.1 131.3 717.5 127.4 715.9 123.6 714.2 119.8 717.2 119.3 718.4 123.2 719.4 127.1 720.4 131.1 721.4 135 722.2 139Z" fill="#f8d42e" opacity="0.98"/>
<path d="M757 242.5 759.4 245 761.8 247.4 764.3 249.7 766.9 252 769.6 254.2 765.2 256.5 763.3 253.9 761.5 251.2 759.7 248.4 757.9 245.7 756.1 243Z" fill="#f6c830" opacity="0.95"/>
<path d="M710.4 128.3 708.2 124.6 705.8 121 703.4 117.4 700.8 113.9 698 110.4 702.2 109 704.1 112.7 706 116.5 707.8 120.4 709.5 124.2 711.2 128.1Z" fill="#f6c830" opacity="0.80"/>
<path d="M763.7 160.1 769.7 154.5 775.3 148.5 780.6 142.1 785.6 135.4 790.1 128.4 794.6 133.7 788.9 139.6 783 145.2 776.9 150.7 770.6 155.9 764.2 160.8Z" fill="#fae030" opacity="0.74"/>
<path d="M673.3 125.6 666.3 121.7 659 118 651.5 114.8 643.7 111.9 635.7 109.3 641.2 103.3 648.2 107.2 655 111.3 661.6 115.5 668 120 674.3 124.7Z" fill="#fce63a" opacity="0.93"/>
<path d="M769 271.1 771.3 272.8 773.7 274.5 776.1 276.1 778.5 277.7 781 279.2 773.6 282.9 772.3 280.7 771.1 278.5 769.8 276.3 768.6 274.1 767.3 271.9Z" fill="#fae030" opacity="0.66"/>
<path d="M778.2 155.4 780 153.5 781.8 151.5 783.6 149.6 785.3 147.5 786.9 145.4 789.5 149.8 787.4 151.1 785.2 152.4 783.1 153.7 780.9 155 778.7 156.3Z" fill="#fae43a" opacity="0.96"/>
<path d="M706.6 270.8 707.4 276.4 708.4 282 709.7 287.5 711.2 293.1 713 298.6 704.6 297.3 704.5 291.9 704.4 286.5 704.5 281.2 704.7 275.8 705 270.5Z" fill="#f6c830" opacity="0.92"/>
<path d="M671.8 107.6 669.1 106 666.3 104.4 663.4 102.9 660.5 101.5 657.5 100.1 662.7 96.2 664.8 98.3 666.9 100.4 668.9 102.5 671 104.7 673 106.8Z" fill="#fae43a" opacity="0.72"/>
<path d="M811.9 142.7 815.3 138.9 818.6 134.9 821.7 130.7 824.7 126.4 827.6 121.9 832.6 130.5 828.7 133.4 824.7 136.3 820.8 139.1 816.8 141.9 812.7 144.5Z" fill="#f6c830" opacity="0.95"/>
<path d="M729.5 279.9 731.2 283.8 733 287.6 734.9 291.3 737 295.1 739.2 298.8 733.1 299.2 732 295.4 730.9 291.5 730 287.7 729 283.8 728.2 279.9Z" fill="#fae43a" opacity="0.89"/>
<path d="M759.3 261.2 762.1 264.2 765 267.1 768 269.9 771.1 272.7 774.4 275.4 768.4 278.1 766.3 274.9 764.1 271.6 762 268.3 760 265 758 261.6Z" fill="#f6c830" opacity="0.77"/>
<path d="M777.9 214.8 780.7 215.5 783.5 216.1 786.4 216.7 789.3 217.2 792.2 217.6 789.2 222.5 786.8 221.2 784.4 219.9 782 218.5 779.6 217.1 777.3 215.8Z" fill="#f6c830" opacity="0.93"/>
<path d="M792.4 213.2 800 214.3 807.7 215.1 815.6 215.4 823.4 215.3 831.4 214.9 828.7 222.3 821.2 221.2 813.7 219.8 806.4 218.3 799.1 216.4 791.8 214.4Z" fill="#f8d42e" opacity="0.94"/>
<path d="M682.4 119.3 677.7 115.6 672.7 112 667.6 108.6 662.3 105.4 656.9 102.4 661.1 99 665.7 102.8 670.3 106.6 674.7 110.6 679.1 114.6 683.3 118.8Z" fill="#fae43a" opacity="0.90"/>
<path d="M740.3 111.2 739.9 107.5 739.3 103.9 738.6 100.2 737.8 96.6 737 92.9 741.4 93.5 741.5 97.1 741.5 100.7 741.4 104.2 741.4 107.8 741.2 111.3Z" fill="#fae030" opacity="0.74"/>
<path d="M689.2 261.5 689 266.1 688.9 270.8 689 275.5 689.2 280.2 689.7 285 681 281.6 682.2 277.3 683.5 273.1 684.8 269 686.1 264.8 687.6 260.7Z" fill="#fae43a" opacity="0.94"/>
<path d="M693.6 229.2 691.5 234.1 689.7 239.1 688 244.2 686.5 249.4 685.2 254.7 681.3 252.3 683.4 247.5 685.6 242.7 688 238 690.4 233.4 692.9 228.8Z" fill="#fae43a" opacity="0.79"/>
<path d="M797.5 115.3 799 111.4 800.4 107.5 801.8 103.4 803 99.4 804 95.2 810.2 100.8 808 104 805.7 107.2 803.4 110.3 801.1 113.4 798.7 116.5Z" fill="#fce63a" opacity="0.99"/>
<path d="M676.5 208.1 674.6 209.6 672.7 211.2 670.9 212.9 669 214.5 667.2 216.2 666.1 214.3 668.2 212.9 670.2 211.6 672.2 210.3 674.3 209 676.3 207.7Z" fill="#fae030" opacity="0.77"/>
<path d="M823.4 169.3 827.3 166.8 831.1 164.1 834.8 161.3 838.5 158.4 842.1 155.3 844.2 165.4 840.1 166.7 836 167.9 831.9 169.1 827.8 170.2 823.7 171.3Z" fill="#fce63a" opacity="0.98"/>
<path d="M651.5 228.1 647.4 232.9 643.5 237.9 639.7 243 636.1 248.3 632.8 253.8 629.4 249.3 633.5 244.7 637.7 240.1 642 235.7 646.5 231.4 651 227.2Z" fill="#fae43a" opacity="0.75"/>
<path d="M771.9 154.5 775.5 150.7 778.9 146.8 782.2 142.6 785.3 138.4 788.2 133.9 792.5 139.5 788.6 142.8 784.7 146.1 780.7 149.3 776.7 152.4 772.6 155.5Z" fill="#f6c830" opacity="0.95"/>
<path d="M673.2 169.8 669.2 169.7 665.3 169.7 661.3 169.8 657.3 170.1 653.3 170.5 654.1 166.9 657.9 167.2 661.8 167.6 665.7 168.1 669.5 168.6 673.3 169.1Z" fill="#f8d42e" opacity="0.71"/>
<path d="M753.7 214.6 758.7 218.6 763.9 222.4 769.4 226 775 229.3 780.9 232.4 776.6 236.5 771.6 232.5 766.8 228.3 762.1 224 757.5 219.6 753 215.1Z" fill="#f6c830" opacity="0.95"/>
<path d="M803.3 237 806.5 237.8 809.8 238.5 813.1 239.1 816.4 239.6 819.8 240.1 816.7 244.7 813.8 243.4 811 242.1 808.2 240.7 805.3 239.4 802.5 238Z" fill="#fce63a" opacity="0.93"/>
<path d="M760.8 215.7 764.9 218.2 769.2 220.6 773.6 222.8 778 224.8 782.6 226.7 778.8 231 775 228.2 771.2 225.3 767.5 222.4 763.8 219.4 760.1 216.4Z" fill="#fce63a" opacity="0.75"/>
<path d="M729 229.2 730 233.4 731.2 237.6 732.5 241.8 733.9 245.9 735.5 250 732.4 250.3 731.5 246.1 730.6 241.9 729.8 237.7 729.1 233.5 728.5 229.2Z" fill="#f8d42e" opacity="0.80"/>
<path d="M630.3 199.3 626.5 201.4 622.7 203.6 619 205.9 615.4 208.4 611.8 210.9 610.9 207.1 614.7 205.2 618.5 203.4 622.4 201.7 626.3 200 630.2 198.5Z" fill="#fae43a" opacity="0.66"/>
<path d="M699 248.8 698.3 253.9 697.8 258.9 697.5 264 697.3 269.1 697.3 274.3 694.1 273.2 694.7 268.2 695.5 263.3 696.4 258.3 697.3 253.5 698.4 248.6Z" fill="#fae030" opacity="0.73"/>
<path d="M685.5 249 684.4 253.1 683.5 257.3 682.7 261.4 682 265.7 681.4 269.9 677.4 267.8 678.7 263.9 680.1 260 681.6 256.2 683.1 252.3 684.7 248.6Z" fill="#f8d42e" opacity="0.69"/>
<path d="M658.5 164.4 650.2 164.3 641.8 164.7 633.4 165.5 625 166.8 616.6 168.5 617.7 162.4 626 162 634.3 161.9 642.5 162.1 650.7 162.6 658.8 163.4Z" fill="#fae030" opacity="0.88"/>
<path d="M792.2 162 796.5 159 800.8 155.9 804.9 152.6 808.9 149.1 812.9 145.5 815.3 151.1 810.8 153.7 806.3 156.2 801.8 158.6 797.2 160.9 792.5 163.1Z" fill="#fce63a" opacity="0.70"/>
<path d="M707.1 131.5 704.2 127.3 701.1 123.1 697.9 119.1 694.5 115.2 690.9 111.3 695.2 109.4 697.9 113.7 700.6 118 703.1 122.3 705.5 126.7 707.8 131.2Z" fill="#f6c830" opacity="0.80"/>
<path d="M656.3 132.1 651.2 130.5 646 129.1 640.8 127.8 635.4 126.7 630 125.8 632.8 121.4 637.8 123.2 642.6 125.1 647.5 127.1 652.2 129.1 657 131.3Z" fill="#f8d42e" opacity="0.92"/>
<path d="M688 236.3 685.6 243 683.4 249.9 681.6 257 680.2 264.2 679.1 271.5 671.8 267.3 674.5 260.8 677.3 254.3 680.3 247.9 683.5 241.7 686.9 235.5Z" fill="#f6c830" opacity="0.82"/>
<path d="M757.8 142 760.5 135.6 763 129.1 765.1 122.4 766.8 115.6 768.2 108.6 774.7 112.4 771.8 118.6 768.8 124.8 765.6 130.8 762.2 136.8 758.7 142.7Z" fill="#fae43a" opacity="1.00"/>
<path d="M680.7 239.4 679.6 242.2 678.5 245.1 677.5 248 676.6 251 675.8 254 672.2 251.4 673.7 248.8 675.3 246.3 676.8 243.8 678.4 241.3 680 238.8Z" fill="#f8d42e" opacity="0.97"/>
<path d="M752.4 143.4 753.8 139.5 755.1 135.5 756.2 131.4 757.2 127.3 758.1 123.2 762.3 125.5 760.6 129.2 758.8 132.9 756.9 136.6 755 140.2 753.1 143.9Z" fill="#fae030" opacity="0.74"/>
<path d="M763.5 223.9 767.1 226.5 770.8 229 774.6 231.4 778.5 233.6 782.4 235.8 780.1 238 776.6 235.4 773.1 232.7 769.7 230 766.3 227.2 763.1 224.3Z" fill="#f8d42e" opacity="0.96"/>
<path d="M685.1 95.1 682.2 92.4 679.2 89.8 676.1 87.2 672.9 84.7 669.6 82.3 674.4 79.8 676.8 82.7 679.2 85.6 681.6 88.6 683.9 91.6 686.2 94.6Z" fill="#fce63a" opacity="0.84"/>
<path d="M683.1 218.7 680.9 221.4 678.7 224.2 676.6 227.1 674.6 230 672.7 233 671.1 231.3 673.4 228.6 675.7 226 678 223.4 680.4 220.9 682.8 218.4Z" fill="#fce63a" opacity="0.74"/>
<path d="M701 135.8 696.5 130.6 691.6 125.6 686.4 120.8 681 116.2 675.4 111.8 680 108.8 684.7 113.9 689.3 119.1 693.6 124.4 697.8 129.9 701.8 135.4Z" fill="#f6c830" opacity="0.92"/>
<path d="M660.4 218.5 656 222.9 651.8 227.7 647.7 232.6 643.9 237.7 640.2 243.1 635.8 236.4 640.4 232.3 645.1 228.3 649.9 224.5 654.8 220.8 659.8 217.2Z" fill="#fae43a" opacity="0.93"/>
<path d="M678.9 129.2 675.7 127.4 672.5 125.7 669.2 124.1 665.8 122.6 662.4 121.1 667.1 116.8 669.7 119.1 672.3 121.3 674.8 123.7 677.4 126 679.9 128.4Z" fill="#fce63a" opacity="1.00"/>
<path d="M745.1 259.2 747 262.1 749.1 265 751.2 267.8 753.4 270.6 755.8 273.3 749.8 275 748.5 271.9 747.3 268.8 746.1 265.7 745 262.6 743.8 259.5Z" fill="#f8d42e" opacity="0.97"/>
<path d="M755.7 158.5 758.3 155.2 760.8 151.9 763.2 148.5 765.6 145 767.8 141.4 770.3 143.9 767.5 147 764.7 150 761.9 153 759 156 756 158.9Z" fill="#fae43a" opacity="0.94"/>
<path d="M797.3 236.7 803.1 238.8 809.1 240.6 815.1 242.3 821.3 243.7 827.5 245 825.3 248.2 819.5 246.4 813.7 244.3 808 242.1 802.3 239.8 796.8 237.3Z" fill="#f8d42e" opacity="0.76"/>
<path d="M801.3 218.4 808.1 219.1 815 219.5 821.9 219.5 828.9 219.3 836 218.7 832.4 228 825.9 226.7 819.5 225.2 813.1 223.6 806.8 221.9 800.5 220Z" fill="#fae43a" opacity="0.82"/>
<path d="M768.7 187.4 775.2 186.9 781.7 186 788.2 184.8 794.6 183.3 801 181.4 800.9 187.4 794.5 187.9 788 188.2 781.5 188.4 775 188.4 768.6 188.3Z" fill="#f8d42e" opacity="0.99"/>
<path d="M740.3 116.8 739.8 110 738.9 103.1 737.7 96.2 736.2 89.3 734.3 82.5 740.4 83.1 741 89.9 741.4 96.7 741.6 103.5 741.6 110.3 741.3 117Z" fill="#fce63a" opacity="0.66"/>
<path d="M735.1 229.2 737.5 235.6 740.1 241.9 743.1 248.1 746.4 254.2 749.9 260.2 747.5 260.8 744.5 254.7 741.7 248.4 739.1 242.1 736.8 235.7 734.7 229.3Z" fill="#fce63a" opacity="0.96"/>
<path d="M661.7 144.8 653.7 142.9 645.5 141.4 637.2 140.4 628.7 139.8 620.2 139.6 624.2 131.3 632 133.3 639.8 135.5 647.5 137.9 655.1 140.6 662.5 143.5Z" fill="#f8d42e" opacity="0.66"/>
<path d="M690.4 194.3 686.5 196.2 682.6 198.3 678.8 200.5 675.1 202.8 671.5 205.2 670.2 201.9 674.2 200.1 678.1 198.4 682.1 196.8 686.2 195.3 690.2 193.8Z" fill="#f6c830" opacity="0.81"/>
<path d="M800.8 170.1 806.4 167.1 811.8 163.9 817.2 160.5 822.4 156.8 827.5 152.8 829.6 160.7 824 163.1 818.3 165.4 812.6 167.6 806.8 169.6 801.1 171.5Z" fill="#fce63a" opacity="0.93"/>
<path d="M802.7 140.3 806.9 135.4 810.9 130.2 814.6 124.8 818.2 119.2 821.5 113.4 826.9 120.9 822.4 125.3 817.8 129.6 813.2 133.8 808.4 137.9 803.5 141.8Z" fill="#fae43a" opacity="0.96"/>
<path d="M691 241.5 690.3 244.7 689.7 247.9 689.1 251.1 688.7 254.4 688.4 257.7 682.8 254.7 684.2 251.9 685.6 249.1 687 246.3 688.4 243.6 689.9 240.8Z" fill="#f8d42e" opacity="0.80"/>
<path d="M725.1 104.7 723.2 99.1 721.1 93.6 718.7 88.1 716.2 82.7 713.4 77.3 718.1 76.9 720 82.4 721.7 87.9 723.3 93.5 724.7 99.1 726 104.7Z" fill="#fce63a" opacity="0.67"/>
<path d="M652.2 206.1 646.7 209.7 641.4 213.6 636.2 217.7 631.2 222.1 626.3 226.7 624 221.4 629.4 217.8 634.9 214.3 640.5 211.1 646.2 208 651.9 205.1Z" fill="#f6c830" opacity="0.74"/>
<path d="M801.7 211.5 809.7 211.9 817.8 211.8 826 211.3 834.2 210.3 842.4 208.9 839.8 218.6 831.9 218 824.1 217.1 816.4 216 808.7 214.7 801.1 213.1Z" fill="#f8d42e" opacity="0.83"/>
<path d="M762.2 219.3 764.7 220.9 767.3 222.4 769.9 223.8 772.6 225.2 775.3 226.5 772.3 229.5 770.1 227.6 768 225.7 765.8 223.8 763.7 221.9 761.6 219.9Z" fill="#f6c830" opacity="0.82"/>
<path d="M772.8 221.5 775.4 222.8 778 224.1 780.7 225.3 783.4 226.4 786.2 227.5 784.8 229.3 782.3 227.9 779.8 226.4 777.3 224.9 774.9 223.4 772.4 221.8Z" fill="#f6c830" opacity="0.69"/>
<path d="M629.1 161.3 626 161.8 622.8 162.4 619.7 163.1 616.6 163.8 613.4 164.6 614.3 159.9 617.4 159.9 620.4 159.9 623.4 160 626.4 160.1 629.4 160.3Z" fill="#fce63a" opacity="0.95"/>
<path d="M664.1 123.4 658.2 120.8 652 118.4 645.8 116.3 639.4 114.5 632.8 112.9 638.7 105.9 644.2 108.9 649.7 112.1 655 115.3 660.2 118.7 665.3 122.2Z" fill="#f6c830" opacity="0.84"/>
<path d="M692.3 232.9 689.9 239.1 687.7 245.4 685.9 251.8 684.3 258.4 683.1 265.1 678.7 262.7 680.9 256.4 683.3 250.3 685.9 244.2 688.7 238.3 691.6 232.4Z" fill="#f8d42e" opacity="0.79"/>
<path d="M801.1 164 804.3 161.7 807.6 159.3 810.7 156.9 813.8 154.3 816.8 151.6 819.1 158.7 815.6 160.1 812.1 161.5 808.5 162.8 805 164.1 801.5 165.4Z" fill="#f6c830" opacity="0.92"/>
<path d="M727.3 137.1 726.6 133.4 725.7 129.7 724.7 126.1 723.6 122.5 722.4 118.9 726.2 118.7 726.7 122.4 727.1 126.1 727.5 129.7 727.8 133.4 728 137.1Z" fill="#f8d42e" opacity="0.77"/>
<path d="M772 136.8 775.3 130.8 778.3 124.6 781 118.2 783.4 111.6 785.5 104.8 791.2 109.2 787.8 115.1 784.3 120.9 780.6 126.6 776.8 132.2 772.8 137.7Z" fill="#fce63a" opacity="0.94"/>
<path d="M766.8 265.2 770.6 269 774.6 272.7 778.8 276.3 783.1 279.8 787.6 283.1 783.3 285.5 779.6 281.6 776 277.7 772.5 273.7 769.2 269.7 765.9 265.6Z" fill="#fce63a" opacity="0.88"/>
<path d="M657.8 182.6 653.4 184 649 185.5 644.7 187.1 640.4 188.9 636.2 190.9 635.9 183.5 640.2 182.9 644.6 182.4 649 181.9 653.4 181.5 657.8 181.2Z" fill="#fae030" opacity="0.90"/>
<path d="M748.3 249.2 750.2 251.5 752.1 253.7 754.1 255.9 756.2 258 758.4 260.2 751.5 262.5 750.5 259.9 749.6 257.4 748.7 254.8 747.8 252.2 746.9 249.6Z" fill="#f8d42e" opacity="0.80"/>
<path d="M722.6 133 720.9 127 718.8 120.9 716.6 115 714 109.1 711.2 103.3 713.7 102.8 716 108.8 718.1 114.8 719.9 120.8 721.6 126.9 723 133Z" fill="#fae030" opacity="0.82"/>
<path d="M632.8 207.7 630.8 209.5 628.8 211.3 626.9 213.2 624.9 215.1 623.1 217.1 620.9 209.8 623.2 209 625.5 208.3 627.8 207.5 630 206.8 632.3 206Z" fill="#f6c830" opacity="0.89"/>
<path d="M715.3 142.9 712.1 136.6 708.7 130.4 704.9 124.3 700.8 118.4 696.4 112.6 700.1 111.2 703.7 117.3 707.1 123.6 710.2 129.9 713.1 136.3 715.8 142.8Z" fill="#f8d42e" opacity="0.75"/>
<path d="M792.8 146.1 794.5 143.7 796.3 141.3 797.9 138.9 799.6 136.4 801.1 133.8 805.3 140.5 803 141.9 800.7 143.3 798.3 144.7 796 146.1 793.6 147.5Z" fill="#f6c830" opacity="0.69"/>
<path d="M668.3 184.5 663.3 185.7 658.3 187 653.4 188.6 648.5 190.3 643.7 192.1 643.4 189.1 648.3 187.9 653.3 186.7 658.3 185.7 663.2 184.8 668.2 184Z" fill="#fae43a" opacity="0.97"/>
<path d="M689.6 224.2 686.4 229.9 683.5 235.9 680.9 242 678.6 248.3 676.5 254.7 670.8 250.5 674.1 244.9 677.6 239.4 681.2 233.9 684.9 228.6 688.7 223.4Z" fill="#f6c830" opacity="0.99"/>
<path d="M658.2 205.7 652 210.1 646 214.8 640.1 219.8 634.6 225.2 629.2 230.9 625.4 222.5 631.7 218.5 638.1 214.6 644.5 211 651.1 207.5 657.7 204.3Z" fill="#fae030" opacity="0.88"/>
<path d="M677.5 178.3 673.1 178.6 668.6 179.1 664.1 179.8 659.7 180.6 655.2 181.5 655.3 179 659.8 178.6 664.2 178.3 668.7 178 673.1 177.9 677.6 177.8Z" fill="#f6c830" opacity="0.84"/>
<path d="M758.4 153.2 762 147.9 765.4 142.5 768.5 136.8 771.4 131 773.9 125.1 778.9 129.2 775.1 134.3 771.3 139.4 767.3 144.3 763.2 149.1 759 153.8Z" fill="#fae030" opacity="0.88"/>
<path d="M629.2 192.4 625.7 194.4 622.3 196.6 618.8 198.9 615.5 201.3 612.2 203.9 610.8 194.2 614.4 193.3 618.1 192.5 621.7 191.7 625.4 191 629 190.3Z" fill="#fce63a" opacity="0.86"/>
<path d="M648.5 226.3 644.4 230.7 640.5 235.1 636.7 239.8 633.1 244.6 629.6 249.6 627.4 246.4 631.3 242 635.4 237.7 639.5 233.6 643.8 229.6 648.2 225.7Z" fill="#fae030" opacity="0.77"/>
<path d="M754.8 222.4 757.3 224.5 759.9 226.5 762.5 228.5 765.3 230.4 768.1 232.3 763.8 235.4 761.8 232.9 759.8 230.5 757.9 228 755.9 225.5 754 222.9Z" fill="#fae030" opacity="0.69"/>
<path d="M689.9 248.1 688.8 253.3 688 258.6 687.5 264 687.1 269.5 687 275 679.4 271.4 681 266.5 682.8 261.7 684.6 256.8 686.5 252 688.5 247.3Z" fill="#fce63a" opacity="0.82"/>
<path d="M780.4 250.5 784.8 253 789.3 255.3 793.8 257.5 798.5 259.6 803.3 261.5 796.3 267.5 792.7 264.4 789.2 261.3 785.7 258.1 782.3 254.9 779 251.6Z" fill="#fae43a" opacity="0.79"/>
<path d="M774.2 208.5 781.4 210.6 788.8 212.4 796.3 213.7 803.9 214.8 811.6 215.5 809.8 219.6 802.4 218 795.1 216.1 788 214 780.9 211.7 773.9 209.1Z" fill="#fae43a" opacity="0.73"/>
<path d="M777.6 241 783.6 244.9 789.8 248.6 796.2 252 802.8 255.1 809.5 258 807 260.6 800.7 257.2 794.6 253.5 788.6 249.7 782.8 245.6 777.2 241.4Z" fill="#f8d42e" opacity="0.78"/>
<path d="M779.1 192.5 781.9 192.2 784.7 191.8 787.5 191.4 790.2 190.9 793 190.3 792.2 195.5 789.6 195.1 786.9 194.7 784.2 194.3 781.6 193.9 778.9 193.5Z" fill="#fae43a" opacity="1.00"/>
<path d="M679 206.3 674.3 209.9 669.8 213.6 665.5 217.5 661.3 221.7 657.2 226 655 222.4 659.6 218.8 664.2 215.3 669 212 673.8 208.8 678.7 205.7Z" fill="#fce63a" opacity="0.95"/>
<path d="M794.9 201.9 800.8 201.9 806.8 201.6 812.7 201.1 818.7 200.4 824.7 199.5 823.7 204.6 817.8 204.5 812 204.3 806.2 203.9 800.4 203.4 794.7 202.8Z" fill="#f8d42e" opacity="0.75"/>
<path d="M698.1 213.8 694.4 219.3 691 225 687.8 230.9 684.9 237 682.2 243.2 679.2 240.9 682.6 235.2 686.1 229.5 689.8 224 693.7 218.7 697.7 213.4Z" fill="#f6c830" opacity="0.75"/>
<path d="M783.3 133.8 787.5 127.1 791.3 120.2 794.8 113 798 105.5 800.8 97.9 805.9 102.3 801.9 109.2 797.8 115.8 793.4 122.3 788.8 128.6 784 134.7Z" fill="#f6c830" opacity="0.90"/>
<path d="M750.3 230.6 755.4 237.2 760.9 243.5 766.7 249.5 772.9 255.3 779.5 260.8 776.4 262.7 770.5 256.7 764.9 250.5 759.6 244.2 754.5 237.6 749.8 230.8Z" fill="#f6c830" opacity="0.91"/>
<path d="M662.8 152.1 657.9 151.4 652.9 150.9 647.8 150.6 642.7 150.4 637.5 150.5 640.8 143.1 645.4 144.5 650 145.9 654.5 147.5 659 149.1 663.5 150.8Z" fill="#fce63a" opacity="0.66"/>
<path d="M762.4 153.6 766.5 148.5 770.3 143.1 773.9 137.5 777.3 131.7 780.4 125.7 784.5 129.7 780.5 134.9 776.3 139.9 771.9 144.8 767.5 149.6 762.9 154.3Z" fill="#fae43a" opacity="0.80"/>
<ellipse cx="727" cy="183.4" rx="119.6" ry="117" fill="url(#g3)"/>
<path d="M685.2 90.9 682 87.3 678.6 83.7 675.1 80.3 671.6 76.9 674 75.7 677.5 79.2 680.9 82.7 684.2 86.3 687.4 90Z" fill="#7a1612" opacity="0.82"/>
<path d="M671.3 101.9 666.9 98.4 662.3 95 657.6 91.7 652.7 88.5 654.5 87.2 659.3 90.4 664 93.8 668.5 97.3 672.9 100.9Z" fill="#7a1612" opacity="0.68"/>
<path d="M744.8 91.9 744.1 85.1 743.1 78.3 741.8 71.4 740.2 64.6 743 64.9 744.4 71.8 745.5 78.7 746.3 85.5 746.9 92.4Z" fill="#7a1612" opacity="0.89"/>
<path d="M819.8 222.7 825.3 223.2 830.8 223.6 836.3 223.9 841.9 223.9 841 226.3 835.5 226.1 829.9 225.7 824.4 225.2 818.9 224.5Z" fill="#7a1612" opacity="0.91"/>
<path d="M744.3 279.1 747.1 284.3 750 289.4 753.1 294.4 756.3 299.4 751.3 300.5 748.2 295.4 745.4 290.2 742.7 285 740.2 279.7Z" fill="#7a1612" opacity="0.93"/>
<path d="M706.3 88.4 703.4 83.3 700.3 78.3 697.1 73.3 693.6 68.5 697.7 67.4 700.9 72.4 704 77.4 707 82.6 709.7 87.7Z" fill="#7a1612" opacity="0.63"/>
<path d="M620.4 175.7 616.5 176.7 612.6 177.7 608.8 178.8 604.9 180 605.1 175.3 609 174.2 613 173.3 616.9 172.4 620.8 171.6Z" fill="#7a1612" opacity="0.65"/>
<path d="M819.3 225.4 824.6 226.1 829.9 226.6 835.3 227 840.6 227.2 839.2 230.7 833.8 230.4 828.4 229.8 823.1 229.1 817.8 228.3Z" fill="#7a1612" opacity="0.61"/>
<path d="M743.3 281.3 745.8 286.1 748.4 290.7 751.1 295.4 754 299.9 749 300.9 746.3 296.3 743.7 291.5 741.3 286.7 739.1 281.9Z" fill="#7a1612" opacity="0.73"/>
<path d="M817.7 225.5 823.4 226.3 829 226.9 834.7 227.3 840.5 227.6 839.6 229.8 833.8 229.4 828.1 228.9 822.5 228.2 816.9 227.3Z" fill="#7a1612" opacity="0.95"/>
<path d="M828.6 203 833.4 202.4 838.3 201.7 843.1 200.9 848 200 847.4 203.8 842.5 204.5 837.6 205.2 832.8 205.7 827.9 206.1Z" fill="#7a1612" opacity="0.77"/>
<path d="M821.7 230.5 825.8 231.1 830 231.6 834.2 232.1 838.4 232.4 836.8 235.8 832.6 235.3 828.4 234.7 824.3 234.1 820.2 233.3Z" fill="#7a1612" opacity="0.72"/>
<path d="M621.8 174.9 617.6 175.8 613.4 176.9 609.1 178.1 604.9 179.4 605.1 175.8 609.3 174.6 613.6 173.6 617.9 172.6 622.1 171.8Z" fill="#7a1612" opacity="0.92"/>
<path d="M827 194.7 832.5 193.6 838 192.4 843.5 191.1 849 189.5 848.8 192.7 843.3 194 837.8 195.3 832.2 196.3 826.7 197.2Z" fill="#7a1612" opacity="0.94"/>
<path d="M715.5 290 716.2 293.2 717 296.3 717.8 299.5 718.7 302.6 715.9 302.4 715.1 299.2 714.4 296.1 713.7 292.9 713 289.7Z" fill="#7a1612" opacity="0.81"/>
<path d="M796.2 255.8 801 258.4 805.8 260.9 810.7 263.2 815.8 265.5 812.2 269 807.3 266.6 802.4 264 797.7 261.3 793.1 258.5Z" fill="#7a1612" opacity="0.92"/>
<path d="M637.1 135.4 632 134.5 626.9 133.6 621.7 132.9 616.5 132.4 618 129.5 623.2 130.2 628.3 131.1 633.4 132 638.5 133.1Z" fill="#7a1612" opacity="0.93"/>
<path d="M654.7 108.6 650.9 106.5 646.9 104.5 642.9 102.6 638.8 100.7 641.1 98.4 645.1 100.4 649.1 102.4 653 104.5 656.8 106.7Z" fill="#7a1612" opacity="0.75"/>
<path d="M684.5 99.1 679.9 94.2 675 89.5 670 85 664.8 80.6 667.4 79.1 672.5 83.6 677.4 88.3 682.2 93.1 686.7 98.1Z" fill="#7a1612" opacity="0.86"/>
<path d="M812.6 237.6 817.7 239 822.8 240.2 828 241.3 833.3 242.3 831.3 245.6 826 244.5 820.9 243.3 815.8 241.9 810.7 240.3Z" fill="#7a1612" opacity="0.74"/>
<path d="M816.9 142.2 821.3 138.2 825.6 134.1 829.8 129.9 833.9 125.5 835.2 127.9 831 132.2 826.8 136.4 822.4 140.4 817.9 144.2Z" fill="#7a1612" opacity="0.91"/>
<path d="M748.2 85.9 747.7 80.7 747 75.6 746.2 70.4 745.2 65.3 749 65.9 749.8 71.1 750.5 76.2 751 81.4 751.3 86.6Z" fill="#7a1612" opacity="0.80"/>
<path d="M758.9 89.1 758.9 83.8 758.8 78.5 758.6 73.2 758.2 67.9 762 68.9 762.3 74.3 762.3 79.6 762.2 84.9 762 90.1Z" fill="#7a1612" opacity="0.95"/>
<path d="M621.6 190.5 617.6 192.1 613.6 193.7 609.6 195.5 605.7 197.4 605.3 193.3 609.3 191.6 613.3 190 617.3 188.4 621.4 187Z" fill="#7a1612" opacity="0.62"/>
<path d="M828.4 176.6 833.4 174.7 838.3 172.7 843.3 170.4 848.1 168.1 848.5 171 843.6 173.2 838.6 175.3 833.6 177.3 828.5 179.1Z" fill="#7a1612" opacity="0.65"/>
<path d="M765.9 279.6 768.6 282.9 771.4 286 774.4 289.2 777.3 292.3 774.1 293.6 771.2 290.5 768.4 287.3 765.6 284 763 280.7Z" fill="#7a1612" opacity="0.88"/>
<path d="M642.8 117.9 639.2 116.6 635.6 115.3 631.9 114.2 628.2 113.1 631 109.5 634.7 110.7 638.3 112 641.8 113.4 645.4 114.8Z" fill="#7a1612" opacity="0.89"/>
<path d="M681.1 98.5 676.6 94.2 672 90 667.3 85.9 662.4 82 666.1 79.8 670.9 83.9 675.5 88.2 679.9 92.5 684.2 97Z" fill="#7a1612" opacity="0.68"/>
</g></g>
<ellipse cx="727" cy="183.4" rx="119.2" ry="116.6" fill="none" stroke="#6c1614" stroke-width="2.2"/>
<circle cx="725.5" cy="184.5" r="6.5" fill="#f2d030" opacity="0.7"/>
<path d="M719.5 184.3 h12 M725.8 179.5 v10" stroke="#2a8a44" stroke-width="4"/>
<path d="M720.8 184.3 h9.5 M725.8 180.8 v7.5" stroke="#1c2a7a" stroke-width="2.2"/>
<g clip-path="url(#c4)"><g filter="url(#f4)">
<ellipse cx="159.8" cy="707.6" rx="121.8" ry="116.5" fill="#f4ec3a"/>
<path d="M116.1 715.5 108 713.5 99.9 710.5 92.1 706.4 84.6 701.3 77.5 695.3 71 688.3 65.1 680.5 60 671.7 55.7 662.2 52.4 652 M177.6 694.3 187 690.6 197.3 688.4 208 687.8 219.1 688.9 230.3 691.7 241.4 696.3 252 702.6 262.1 710.5 271.4 720.2 279.6 731.3 M160.3 720.8 158.4 731.1 154.4 741.1 148.4 750.5 140.6 759 130.9 766.4 119.7 772.5 107 776.9 93.2 779.6 78.4 780.3 63 778.9 M168.2 716.6 173.7 725.8 177.4 736 179.2 746.9 178.9 758.4 176.4 770.1 171.7 781.6 164.8 792.9 155.8 803.4 144.7 813 131.6 821.3 M168.8 747.6 167 755.6 164.1 763.5 160 771.3 154.9 778.7 148.6 785.7 141.3 792.2 133.1 798.1 123.8 803.3 113.8 807.6 102.9 811 M209.1 727.7 213.9 733.4 218.1 739.8 221.7 746.7 224.7 754.1 226.8 762 228.3 770.3 228.9 778.9 228.6 787.8 227.5 797 225.4 806.2 M127.1 722.6 118 723.2 108.7 722.5 99.3 720.6 89.9 717.4 80.8 712.9 72 707.2 63.7 700.2 56.1 692 49.2 682.7 43.3 672.3 M156.9 677.7 159.3 668.9 163.1 660.3 168.4 652.1 175 644.5 182.9 637.6 192.1 631.5 202.4 626.5 213.7 622.5 225.9 619.8 238.8 618.5 M193.1 758.1 193.2 764.7 192.7 771.4 191.5 778.2 189.6 785.1 187.1 791.9 183.9 798.7 180 805.4 175.5 811.9 170.3 818.3 164.5 824.4 M148.2 693.7 143.9 684.4 141.3 674.4 140.5 663.8 141.6 652.9 144.7 641.9 149.7 631 156.6 620.6 165.5 610.8 176.1 601.9 188.5 594.1 M174.5 717.1 181.6 724.7 187.3 733.5 191.5 743.4 193.9 754.3 194.5 765.7 193.1 777.6 189.7 789.7 184.2 801.6 176.7 813.2 167.1 824.2 M178.2 706 188.7 707.5 198.9 710.8 208.7 716 217.7 722.8 225.7 731.2 232.6 741.1 238 752.4 241.8 764.9 243.8 778.3 243.9 792.5 M148 641.7 150.6 636.3 153.6 631 157.1 625.8 161.1 620.8 165.5 615.9 170.5 611.3 175.8 607 181.6 602.9 187.9 599.1 194.5 595.7 M190.2 724.5 195.9 731.4 200.7 739.2 204.4 747.8 206.9 757.1 208.2 767 208.1 777.2 206.7 787.8 203.8 798.6 199.4 809.3 193.6 819.9 M99.4 680.2 96 674.9 93 669.3 90.4 663.3 88.3 657 86.7 650.4 85.5 643.6 85 636.5 84.9 629.2 85.5 621.7 86.6 614.2 M163.8 733.6 162.1 742.9 158.9 752 154.1 760.8 147.7 769 139.9 776.6 130.7 783.3 120.2 788.9 108.6 793.3 96 796.4 82.5 798.1 M158.1 721.8 154.4 731.6 148.9 740.8 141.5 749.1 132.4 756.3 121.8 762.2 109.8 766.5 96.8 769 82.8 769.7 68.2 768.4 53.3 764.9 M163.2 649.5 167.1 644 171.6 638.6 176.8 633.6 182.6 629 188.9 624.7 195.8 620.8 203.2 617.5 211.1 614.7 219.3 612.4 228 610.7 M146.1 711.3 135.2 711.9 124.1 710.6 113.2 707.3 102.7 702 92.9 694.8 84.2 685.9 76.7 675.2 70.7 663.1 66.4 649.6 64.1 635 M174.5 655.9 179.7 650.8 185.5 646.1 192 641.9 199.1 638.2 206.7 635.1 214.8 632.7 223.3 630.9 232.3 629.8 241.5 629.4 251.1 629.9 M149.6 679 149.8 669.9 151.4 660.8 154.5 651.7 159.1 642.8 165 634.3 172.4 626.4 181.2 619.1 191.2 612.8 202.4 607.4 214.6 603.2 M200.1 679.7 208 678.5 216.2 678.1 224.6 678.6 233.1 680.1 241.7 682.5 250.3 685.8 258.6 690 266.8 695.2 274.7 701.3 282.1 708.3 M134.2 673.1 132.7 665.1 132.2 656.9 132.7 648.4 134.4 639.7 137.2 631.1 141.1 622.5 146.1 614.1 152.3 606 159.5 598.3 167.9 591.1 M150.5 744.1 145.3 750.9 138.9 757.1 131.5 762.7 123.2 767.4 114.1 771.2 104.2 774.1 93.6 775.8 82.6 776.5 71.1 775.9 59.3 774.1 M195.6 670.3 202.9 667.9 210.6 666.1 218.7 665.1 227 665 235.6 665.6 244.3 667.1 253.1 669.5 261.9 672.7 270.6 676.8 279.1 681.8 M104.4 732.1 97.4 731.4 90.4 730.1 83.3 728.1 76.3 725.4 69.4 722 62.7 718 56.1 713.4 49.8 708.1 43.9 702.2 38.2 695.7 M169.1 696.9 177.8 690.5 187.7 685.6 198.6 682.4 210.3 681.1 222.6 681.6 235.1 684.2 247.6 688.8 259.8 695.5 271.3 704.2 281.9 714.9 M168.8 730.3 169.4 739.9 168.3 749.6 165.6 759.4 161.2 768.9 155.1 778 147.5 786.5 138.3 794.3 127.6 801 115.7 806.5 102.5 810.8 M207.3 738.1 210.5 744.4 213.2 751.2 215.2 758.3 216.6 765.8 217.2 773.6 217 781.6 216.1 789.8 214.3 798.1 211.8 806.5 208.4 814.8 M148.5 666.5 150 658.6 152.5 650.7 156.2 642.9 160.9 635.4 166.7 628.2 173.5 621.5 181.3 615.4 190 609.9 199.6 605.1 210 601.1 M192.1 715.8 199.7 721 206.7 727.3 212.7 734.8 217.9 743.2 221.9 752.5 224.7 762.6 226.2 773.4 226.3 784.7 224.9 796.3 222 808.2 M162.8 725.3 161.8 735.3 158.9 745.3 154.1 754.9 147.5 763.8 139.2 772 129.3 779.1 117.9 785 105.1 789.3 91.2 792.1 76.4 793 M104.1 734 97.2 733.4 90.2 732.2 83.3 730.4 76.3 728 69.4 724.9 62.6 721.1 56 716.7 49.7 711.7 43.6 706.1 37.9 699.9 M149.1 696.9 143.6 688 139.7 678.1 137.7 667.4 137.7 656.2 139.7 644.7 143.8 633.2 150 622 158.2 611.3 168.5 601.4 180.6 592.6 M145.6 711.7 134.7 712.4 123.7 711.2 112.8 708 102.3 702.8 92.4 695.9 83.5 687.1 75.9 676.6 69.7 664.6 65.2 651.3 62.6 636.8 M148.5 692.7 144.7 683.4 142.6 673.3 142.3 662.7 143.9 651.9 147.4 641.1 152.8 630.5 160.1 620.4 169.3 610.9 180.3 602.5 192.9 595.2 M159.9 755.9 156.3 762.6 151.8 769.1 146.4 775.2 140.2 780.9 133.2 786.1 125.5 790.8 117 794.7 107.9 798 98.3 800.5 88.1 802.2 M200.3 681 208.3 680 216.5 679.8 225 680.5 233.6 682.2 242.1 684.8 250.6 688.4 259 692.9 267 698.4 274.7 704.8 282 712.1 M126.5 744.1 119.1 746.9 111.3 748.9 103.1 750.1 94.5 750.5 85.6 750 76.7 748.6 67.6 746.3 58.5 743.1 49.5 738.9 40.7 733.7 M156.8 719.1 152 728.7 145.2 737.4 136.7 744.9 126.6 751.1 115 755.6 102.4 758.4 88.8 759.3 74.6 758 60 754.6 45.5 748.9 M129.1 749.1 122.2 752.4 114.8 755 106.9 757 98.7 758.1 90.1 758.5 81.3 758.1 72.3 756.8 63.2 754.6 54.1 751.6 45 747.6 M147.2 688.7 144.3 679.4 143.1 669.5 143.6 659.3 145.8 649 149.9 638.7 155.6 628.7 163.1 619.2 172.3 610.4 183.1 602.6 195.4 595.9 M215.2 681.4 222.1 682 229.1 683.2 236.2 685 243.2 687.5 250.1 690.6 256.9 694.4 263.5 698.8 269.9 703.8 276 709.5 281.8 715.8 M110.2 754.2 104.1 755.4 97.8 756 91.3 756.2 84.6 756 77.9 755.2 71.1 754 64.2 752.2 57.3 750 50.4 747.2 43.6 743.9 M156.4 722.5 151.7 731.8 145.2 740.3 137 747.8 127.3 754 116.2 758.8 104 761.9 90.8 763.3 76.9 762.7 62.7 760.1 48.3 755.4 M108.5 671.4 106 665.4 104 659.1 102.6 652.5 101.7 645.6 101.4 638.5 101.8 631.2 102.8 623.8 104.4 616.3 106.7 608.7 109.7 601.2 M136.4 671.3 135.4 663.3 135.5 655 136.6 646.6 138.9 638.1 142.2 629.7 146.7 621.4 152.2 613.4 158.9 605.7 166.6 598.5 175.3 591.8 M131.3 702.8 122.8 698.3 114.9 692.5 107.9 685.4 101.8 677.1 96.8 667.8 93.1 657.5 90.8 646.4 89.9 634.6 90.7 622.4 93.1 609.8 M138.6 735.5 130.8 740.2 122.3 743.9 113 746.4 103.2 747.9 92.9 748.1 82.3 747 71.5 744.6 60.7 740.9 50.1 735.8 39.7 729.3 M117.1 656.6 116.5 650.5 116.4 644.4 116.8 638 117.8 631.6 119.3 625.2 121.3 618.7 123.9 612.2 127.1 605.8 130.8 599.5 135.1 593.3 M180.7 724.2 185.9 732.2 189.9 741.1 192.5 750.7 193.5 761 193 771.6 190.8 782.5 186.9 793.4 181.3 804.1 174 814.5 165 824.3 M211 712.3 217.6 716.4 223.8 721.3 229.6 726.9 234.9 733.3 239.6 740.4 243.7 748.1 247 756.4 249.5 765.2 251.3 774.6 252.1 784.3 M186.5 734.1 189.8 742.1 191.9 750.6 192.9 759.6 192.6 768.9 191.1 778.4 188.3 787.9 184.1 797.5 178.7 806.8 171.9 815.8 163.8 824.4 M157.3 644 160.6 638.7 164.4 633.5 168.8 628.5 173.7 623.8 179.1 619.3 185 615.2 191.3 611.4 198.1 608 205.3 605 212.9 602.4 M189.3 764.1 188.7 770.3 187.4 776.6 185.6 783 183.1 789.3 180.1 795.5 176.5 801.6 172.3 807.6 167.5 813.5 162.2 819 156.3 824.4 M170.5 682.2 176.8 675.1 184.4 668.9 193.2 663.8 202.9 659.7 213.5 657 224.9 655.6 236.7 655.7 249 657.3 261.4 660.6 273.8 665.4 M114.8 667.7 112.9 661.3 111.5 654.6 110.8 647.6 110.8 640.5 111.4 633.1 112.7 625.7 114.6 618.2 117.3 610.6 120.8 603.1 124.9 595.7 M137.3 754.6 131.2 758.9 124.5 762.8 117.2 766 109.4 768.6 101.1 770.4 92.5 771.6 83.5 771.9 74.2 771.5 64.8 770.2 55.2 768 M145.7 699.9 137.8 692.8 131.3 684.4 126.3 674.7 123 664 121.5 652.5 122 640.4 124.6 628.1 129.2 615.6 136 603.4 144.9 591.7 M143.6 739.1 136.9 744.9 129.1 749.8 120.5 753.9 111.1 756.9 101.1 758.7 90.5 759.4 79.5 758.8 68.3 757 56.9 753.7 45.6 749.2 M166.2 772.8 163.3 778.2 159.8 783.4 155.8 788.4 151.3 793.3 146.4 797.9 140.9 802.2 135 806.2 128.7 809.9 122 813.3 114.8 816.2 M154 731.7 149 739.9 142.4 747.4 134.5 754.1 125.4 759.6 115.1 764 103.8 767 91.7 768.6 79 768.6 65.9 766.9 52.5 763.6 M136 672.8 134.8 664.7 134.6 656.4 135.5 647.8 137.5 639.2 140.6 630.6 145 622.1 150.4 613.8 157 605.9 164.6 598.5 173.4 591.6 M139.3 730.5 131 734.9 121.9 738.3 112.1 740.3 101.8 741.1 91.1 740.5 80.2 738.4 69.2 734.8 58.4 729.8 47.9 723.3 37.9 715.3 M103.6 673.9 100.8 668.2 98.4 662.3 96.6 656 95.3 649.5 94.4 642.7 94.2 635.7 94.5 628.5 95.4 621.2 96.8 613.8 98.9 606.4 M191.3 763.8 190.7 770 189.7 776.3 188 782.6 185.8 788.9 183 795.1 179.6 801.3 175.6 807.4 171.1 813.3 166 819 160.3 824.4 M212.6 711.4 219.2 715.3 225.4 720.1 231.2 725.5 236.5 731.7 241.3 738.5 245.4 746 248.9 754.1 251.7 762.7 253.7 771.7 254.8 781.2 M180.6 680.9 188.4 676.1 197 672.4 206.4 669.8 216.4 668.5 226.8 668.3 237.5 669.5 248.4 672.1 259.2 676 270 681.3 280.4 688 M214.4 721.5 219.7 726.5 224.6 732 229 738.2 232.9 744.9 236.1 752.1 238.7 759.8 240.6 768 241.8 776.4 242.2 785.3 241.8 794.3 M157.6 670.6 160.6 662.5 164.8 654.8 170.2 647.4 176.7 640.5 184.3 634.3 192.9 628.8 202.5 624.2 213 620.5 224.2 617.9 236.1 616.4" fill="none" stroke="#c8dc3c" stroke-width="1.6" opacity="0.7"/>
<path d="M125.6 771.5 119.2 774.6 112.5 777.2 105.3 779.3 97.8 780.9 90 782 81.9 782.4 73.6 782.2 65.1 781.5 M171.5 668.9 178.6 661.1 187.2 654.3 197.2 648.6 208.4 644.2 220.6 641.3 233.6 640 247.4 640.5 261.5 642.8 M103.8 743.8 95.7 743.8 87.5 743.1 79.2 741.5 70.8 739.1 62.5 735.9 54.2 731.8 46.2 726.8 38.4 721.1 M151.1 752.9 144.9 760.6 137.3 767.6 128.5 773.7 118.5 778.8 107.5 782.7 95.5 785.4 82.8 786.6 69.5 786.3 M160.5 748.4 156.1 757.8 150 766.7 142.2 774.9 132.9 782.1 122.2 788.3 110.2 793.1 97 796.6 82.9 798.4 M176.7 763.4 174.4 771.5 170.9 779.6 166.4 787.4 160.9 795 154.3 802.2 146.7 809 138.1 815.1 128.6 820.6 M101.9 666 99.6 659.2 97.9 652.1 96.8 644.7 96.5 637 96.8 629.1 97.9 621 99.7 612.9 102.2 604.6 M125.8 740.1 116.1 743.1 105.7 744.7 94.8 745 83.5 743.7 72.1 741 60.7 736.6 49.5 730.8 38.7 723.3 M231.5 716.7 237 721.5 242.1 727 246.9 733 251.2 739.5 255 746.6 258.2 754.2 260.8 762.2 262.8 770.6 M175.5 637.6 180.8 633 186.6 628.8 193 624.9 199.8 621.5 207.1 618.6 214.8 616.1 222.9 614.2 231.3 612.9 M98.1 740.1 90.5 739.3 82.7 737.9 74.9 735.7 67.2 732.7 59.5 729 52 724.5 44.7 719.3 37.7 713.3 M95.5 741 88.1 740.2 80.8 738.7 73.3 736.5 66 733.7 58.7 730.1 51.5 725.9 44.6 721.1 37.9 715.5 M190.5 679.2 200.7 675.9 211.7 674.1 223.2 673.9 235.1 675.4 247.1 678.6 259.1 683.7 270.7 690.5 281.8 699.1 M190.6 673 200.1 669.2 210.4 666.7 221.3 665.6 232.7 666 244.4 667.8 256.2 671.3 267.9 676.3 279.3 683 M199.8 728.5 205.8 736.7 210.7 746 214.1 756.2 216.1 767.1 216.5 778.7 215.2 790.7 212.1 803 207.3 815.3 M123.6 636.2 124.9 630.5 126.7 624.8 128.9 619.1 131.5 613.4 134.7 607.8 138.2 602.2 142.2 596.8 146.7 591.5 M209.3 706 218.4 710.1 227 715.7 235 722.5 242.3 730.6 248.6 739.9 253.9 750.2 257.9 761.6 260.6 773.8 M77.1 681.7 74.1 677.2 71.3 672.5 68.8 667.5 66.6 662.3 64.6 656.8 63 651.2 61.7 645.3 60.7 639.3 M241.4 708.3 246.4 712 251.2 716.1 255.7 720.7 260 725.7 264 731 267.7 736.7 271.1 742.8 274.1 749.3 M134.8 754.5 126.9 759.5 118.1 763.6 108.6 766.7 98.4 768.7 87.6 769.6 76.4 769.2 64.9 767.6 53.2 764.7 M168.3 759.2 165 767.7 160.4 775.9 154.6 783.9 147.5 791.3 139.2 798.1 129.9 804.1 119.5 809.3 108.2 813.5 M80.1 699.8 75.4 695.6 70.9 690.9 66.7 685.8 62.8 680.3 59.2 674.4 56.1 668.1 53.3 661.5 50.9 654.6 M153.5 660.1 157.1 651.2 162 642.5 168.4 634.3 176.1 626.8 185.1 619.9 195.3 614 206.7 609.2 219 605.5 M152.9 768 147.6 774.4 141.5 780.3 134.4 785.7 126.6 790.5 118 794.7 108.8 798.1 98.9 800.7 88.5 802.5 M224 700.1 231.5 703.6 238.9 707.9 245.9 713.2 252.5 719.2 258.6 726.1 264.2 733.8 269.1 742.2 273.3 751.3 M218.7 663.2 225.8 662.9 233.1 663.2 240.6 664.1 248.1 665.7 255.7 667.8 263.3 670.7 270.8 674.1 278.2 678.2 M224.4 695.7 232.1 698.7 239.5 702.5 246.8 707.2 253.7 712.7 260.2 719.1 266.2 726.2 271.7 734.1 276.5 742.6 M97.3 720.2 89.4 717.4 81.6 713.6 74.1 708.9 66.9 703.4 60.1 696.9 53.9 689.6 48.2 681.5 43.2 672.7 M200 671.3 209.1 669.1 218.8 668.1 228.8 668.2 239.2 669.5 249.6 672.1 260 676 270.3 681.1 280.3 687.6 M130.7 781 125.4 784.1 119.7 786.9 113.7 789.3 107.4 791.4 100.9 793.1 94 794.5 87 795.4 79.7 795.9 M96.5 673.5 93.3 667.1 90.7 660.3 88.7 653.1 87.2 645.5 86.5 637.7 86.4 629.6 87.1 621.3 88.5 612.8 M163.9 749.4 160.2 759 154.8 768.1 147.8 776.7 139.2 784.5 129.1 791.4 117.7 797.1 105.1 801.5 91.4 804.4 M136 762.9 129 767.7 121.2 771.8 112.8 775.2 103.8 777.8 94.2 779.5 84.1 780.3 73.7 780.1 63 779 M202.3 741.1 205.7 749.5 208 758.6 209.1 768.2 208.9 778.2 207.5 788.4 204.7 798.8 200.6 809.2 195.1 819.5 M221.6 719.2 227.8 724.8 233.6 731.2 238.7 738.4 243.1 746.4 246.7 755 249.5 764.2 251.4 773.9 252.3 784 M219.6 759.1 220.8 765.1 221.5 771.4 221.8 777.9 221.5 784.5 220.8 791.2 219.5 798 217.7 804.8 215.3 811.7 M125.1 742.3 115.6 745.3 105.4 747 94.8 747.4 83.8 746.4 72.6 744 61.3 740.2 50.2 734.8 39.5 728 M155.6 637.3 159.5 631.4 164 625.7 169.2 620.2 175 615.1 181.3 610.4 188.3 606 195.7 602.1 203.7 598.6 M91 738.5 84.1 737.2 77.2 735.3 70.3 732.9 63.5 729.8 56.7 726.1 50.2 721.8 43.8 717 37.7 711.5 M215.9 692.7 224.7 695 233.4 698.3 241.9 702.8 250.1 708.4 257.8 715 264.9 722.7 271.4 731.3 277 740.9 M120.2 693.8 112.6 686.4 106.1 677.8 100.8 667.9 97.1 656.9 94.9 645.1 94.5 632.5 95.9 619.5 99.3 606.2 M132.7 660.9 132.9 651.9 134.2 642.8 136.9 633.6 140.8 624.5 146 615.6 152.4 606.9 160.1 598.8 169 591.2 M165.5 633.1 169.9 628.2 174.9 623.6 180.3 619.2 186.1 615.2 192.4 611.5 199.2 608.2 206.3 605.3 213.9 602.9 M90.5 732.2 83.5 730.3 76.5 727.9 69.6 724.7 62.8 721 56.1 716.6 49.8 711.5 43.7 705.9 37.9 699.6 M209.7 711.4 218.2 716.5 226.1 722.9 233.2 730.5 239.4 739.3 244.6 749.1 248.5 759.9 251.2 771.5 252.5 783.8 M209.3 667.6 217.6 666.5 226.2 666.3 235 667 244 668.6 253 671.1 262 674.6 270.9 679 279.6 684.3 M205.3 709.6 214.4 714.4 223 720.6 230.9 728.4 237.7 737.4 243.4 747.6 247.8 759 250.7 771.3 252 784.4 M112.3 721.7 102.5 719.9 92.7 716.7 83.1 712.1 73.9 706.1 65.3 698.8 57.4 690.1 50.4 680.2 44.4 669.1 M99.3 764.1 93.4 764.7 87.4 764.9 81.2 764.7 75 764.1 68.6 763.1 62.2 761.7 55.8 760 49.4 757.7 M115.1 670.8 112.2 662.6 110.4 653.9 109.6 644.8 109.9 635.3 111.4 625.6 114.1 615.8 117.9 606 123 596.3 M203.8 714.2 212.5 720 220.4 727.2 227.3 735.8 233.1 745.6 237.6 756.5 240.6 768.4 242 781.1 241.7 794.4 M214.4 761.9 215.2 768.3 215.5 774.8 215.3 781.4 214.5 788.2 213.1 795.1 211.2 802.1 208.7 809 205.7 815.9 M121.3 638.6 122.4 632.7 123.9 626.8 125.9 620.8 128.4 614.9 131.4 609 134.8 603.2 138.8 597.5 143.2 591.9 M95.5 651.5 94.7 646.2 94.2 640.8 94 635.3 94.2 629.7 94.8 624 95.8 618.2 97.1 612.4 98.7 606.5 M115.9 735.9 106.3 736.7 96.3 736.3 86.1 734.5 75.9 731.5 65.8 727.1 55.9 721.3 46.5 714.3 37.6 705.9 M226.7 698.7 234 702 241 706.2 247.8 711.1 254.3 716.8 260.3 723.2 265.8 730.3 270.7 738.2 275.1 746.6 M195.8 729.2 201.6 737.9 206.1 747.6 209.1 758.3 210.4 769.8 209.9 781.8 207.6 794.1 203.4 806.5 197.3 818.8 M214.9 759 216 765.5 216.6 772.2 216.6 779.1 216 786.2 214.8 793.4 213 800.6 210.6 807.9 207.5 815.2 M146.6 664.2 148.4 654.6 151.9 645 156.9 635.6 163.5 626.7 171.6 618.4 181.2 610.9 192.1 604.3 204.2 598.8 M225.8 665.9 232.5 666.3 239.2 667.2 246 668.6 252.8 670.5 259.5 673 266.3 676 272.9 679.5 279.5 683.6 M150.3 641.7 153.8 635.1 158 628.6 163 622.3 168.8 616.4 175.2 610.8 182.4 605.7 190.2 601 198.7 596.9 M86.9 690.3 82.3 685.1 78.1 679.4 74.3 673.2 71 666.6 68.2 659.6 65.9 652.2 64.2 644.4 63 636.3 M73.6 702.9 69.4 699.2 65.4 695.3 61.6 691 57.9 686.4 54.5 681.5 51.4 676.3 48.5 670.9 46 665.2 M134.4 641.1 136.3 634.4 138.9 627.7 142.2 621.2 146.2 614.7 150.8 608.5 156 602.4 161.9 596.6 168.5 591.2 M244.6 733.9 247.4 738.2 250.1 742.7 252.4 747.4 254.6 752.4 256.5 757.5 258.1 762.8 259.4 768.3 260.5 774 M121.4 681.3 116.6 672.6 113.1 663 111.1 652.7 110.5 641.8 111.5 630.5 114.2 618.9 118.5 607.3 124.5 595.8 M107.1 642.7 107.3 637.3 107.7 631.7 108.6 626.1 109.9 620.4 111.5 614.7 113.5 609 116 603.3 118.8 597.6 M148.6 758.3 142.3 765.2 134.9 771.4 126.4 776.8 117 781.3 106.7 784.9 95.6 787.3 83.9 788.6 71.7 788.6 M128.9 748.8 120.1 752.8 110.6 755.7 100.5 757.5 89.8 758 78.7 757.2 67.4 755.1 56 751.7 44.7 746.8 M216.2 671.9 224.2 671.9 232.4 672.7 240.7 674.3 249.1 676.7 257.4 680 265.6 684.2 273.6 689.2 281.4 695 M188.9 764.8 187.8 772.5 185.9 780.3 183 788.1 179.3 795.9 174.6 803.4 169.1 810.7 162.6 817.7 155.3 824.4 M161.6 666.4 166.5 657.3 173.2 648.8 181.3 641.1 191 634.4 202 628.9 214.2 624.6 227.5 621.9 241.6 620.8 M158.3 748.3 153.4 757.5 146.8 766.1 138.6 773.9 128.9 780.7 117.9 786.3 105.6 790.5 92.3 793.3 78 794.4 M171.8 650.4 177.8 644.2 184.7 638.6 192.4 633.6 201 629.4 210.2 625.9 220.1 623.2 230.6 621.5 241.6 620.8 M205.5 734.8 210.1 742.9 213.7 751.7 216.2 761.2 217.4 771.2 217.4 781.7 216 792.6 213.2 803.6 209 814.6 M143.1 771.8 137.2 776.8 130.7 781.4 123.6 785.4 115.9 788.9 107.6 791.8 98.9 794 89.7 795.5 80.2 796.2 M97.9 702.7 91 697.7 84.5 691.9 78.5 685.2 73.2 677.7 68.5 669.4 64.7 660.4 61.7 650.8 59.7 640.7 M126 734.2 115.6 736.7 104.7 737.5 93.3 736.8 81.7 734.4 70.1 730.3 58.7 724.5 47.8 716.9 37.6 707.7 M94.9 738.2 87.6 737.1 80.1 735.3 72.7 732.8 65.3 729.6 58.1 725.7 51 721.2 44.2 715.9 37.6 710 M113.6 657.3 112.6 650 112.5 642.4 113 634.6 114.4 626.7 116.6 618.7 119.5 610.7 123.3 602.7 128 594.9" fill="none" stroke="#ee9a2c" stroke-width="0.9" opacity="0.8"/>
<path d="M163.4 707.2 170.2 707 177 707.6 183.8 709.1 190.4 711.3 196.8 714.3 202.8 718 208.6 722.5 213.8 727.7 218.6 733.6 222.8 740.1 226.3 747.2 229.2 754.8 231.3 762.9 232.6 771.4 233 780.2 232.6 789.4 231.2 798.7 228.9 808.2 211.6 817.2 214.9 808.5 217.4 799.7 219 791.1 219.8 782.6 219.7 774.2 218.9 766.2 217.3 758.5 215 751.1 212 744.2 208.4 737.8 204.3 731.9 199.6 726.5 194.4 721.8 188.8 717.6 182.8 714.2 176.6 711.4 170.1 709.4 163.4 708.1Z" fill="#72b83e" opacity="0.85"/>
<path d="M163.4 707.3 170.2 707.3 177 708.2 183.7 709.8 190.2 712.2 196.5 715.3 202.5 719.2 208.1 723.8 213.2 729.2 217.8 735.1 221.8 741.7 225.2 748.9 227.9 756.5 229.8 764.6 230.9 773.1 231.1 781.9 230.5 791 228.9 800.3 226.4 809.7 214.3 816.1 217.4 807.2 219.7 798.4 221.1 789.7 221.7 781.1 221.5 772.8 220.5 764.7 218.7 757 216.2 749.7 213.1 742.8 209.3 736.5 205 730.6 200.1 725.4 194.8 720.8 189.1 716.8 183 713.5 176.7 710.9 170.1 709.1 163.4 707.9Z" fill="#27933a"/>
<path d="M163.3 708.7 169.5 711.3 175.4 714.6 180.9 718.6 185.9 723.3 190.4 728.6 194.2 734.4 197.4 740.8 199.8 747.7 201.5 755 202.4 762.6 202.4 770.4 201.6 778.5 199.9 786.7 197.2 794.9 193.6 803.1 189.1 811.2 183.7 819.1 177.3 826.7 154.7 827.8 161.8 821.4 168 814.6 173.5 807.6 178.1 800.3 182 792.9 185 785.3 187.2 777.7 188.6 770.2 189.2 762.8 189 755.5 188 748.4 186.4 741.6 184 735.2 180.9 729.1 177.2 723.4 173 718.3 168.1 713.6 162.8 709.6Z" fill="#72b83e" opacity="0.85"/>
<path d="M163.2 708.8 169.4 711.6 175.2 715.1 180.5 719.3 185.3 724.1 189.6 729.5 193.2 735.5 196.2 742 198.5 748.9 199.9 756.2 200.6 763.8 200.4 771.6 199.4 779.7 197.4 787.8 194.6 795.9 190.8 804 186.1 811.9 180.5 819.7 174 827.1 158.1 827.9 165 821.3 171.1 814.4 176.4 807.2 180.9 799.7 184.6 792.2 187.4 784.6 189.4 776.9 190.6 769.3 191 761.9 190.6 754.6 189.4 747.5 187.5 740.8 184.9 734.4 181.7 728.4 177.8 722.8 173.3 717.8 168.4 713.3 162.9 709.5Z" fill="#27933a"/>
<path d="M162.6 709.8 167.5 714.4 171.7 719.6 175.2 725.2 178.1 731.3 180.2 737.8 181.5 744.6 182 751.7 181.6 758.9 180.4 766.3 178.3 773.7 175.3 781 171.4 788.2 166.6 795.2 160.9 801.9 154.4 808.3 147.1 814.2 139 819.6 130.1 824.5 107.7 817.1 116.7 813.7 125.2 809.7 133 805.1 140.2 800 146.7 794.5 152.4 788.6 157.4 782.4 161.7 775.9 165.2 769.3 167.9 762.5 169.8 755.6 170.9 748.7 171.3 741.8 170.8 735.1 169.7 728.5 167.8 722.2 165.2 716.2 161.9 710.5Z" fill="#72b83e" opacity="0.85"/>
<path d="M162.5 709.9 167.2 714.7 171.2 720 174.5 725.7 177.2 731.9 179 738.5 180.1 745.3 180.4 752.4 179.8 759.6 178.3 766.9 176 774.2 172.8 781.4 168.7 788.5 163.7 795.4 157.9 801.9 151.3 808.1 143.9 813.8 135.7 819 126.7 823.6 110.9 818.4 119.9 814.8 128.3 810.6 136 805.8 143.1 800.6 149.5 794.9 155.1 788.8 159.9 782.5 164 775.9 167.3 769.1 169.8 762.2 171.5 755.2 172.4 748.3 172.5 741.4 171.9 734.7 170.5 728.2 168.3 721.9 165.5 716 162 710.4Z" fill="#27933a"/>
<path d="M161.6 710.6 164.4 716.6 166.5 722.8 167.7 729.3 168.1 736 167.6 742.7 166.3 749.6 164.2 756.3 161.1 763 157.3 769.4 152.6 775.6 147 781.4 140.7 786.9 133.7 791.8 125.9 796.2 117.5 799.9 108.5 803 98.9 805.3 88.8 806.9 71.3 793 81 792.9 90.4 791.9 99.4 790.2 108 787.8 116 784.8 123.6 781.2 130.6 777 136.9 772.4 142.6 767.2 147.6 761.7 151.9 755.9 155.4 749.8 158.2 743.5 160.3 737 161.5 730.5 162 723.9 161.8 717.4 160.7 711Z" fill="#72b83e" opacity="0.85"/>
<path d="M161.5 710.7 164.1 716.7 165.9 723 166.9 729.5 167.1 736.2 166.4 743 164.9 749.7 162.5 756.4 159.3 763 155.2 769.3 150.3 775.4 144.7 781 138.2 786.3 131.1 791 123.2 795.2 114.8 798.7 105.7 801.6 96.1 803.7 86 805 73.7 795.3 83.4 794.9 92.9 793.7 101.9 791.8 110.4 789.2 118.4 786 125.9 782.2 132.8 777.8 139 773 144.6 767.7 149.4 762.1 153.6 756.1 156.9 749.9 159.5 743.5 161.3 737 162.4 730.4 162.6 723.8 162.1 717.3 160.8 711Z" fill="#27933a"/>
<path d="M160.3 711.1 160.5 717.6 159.9 724.1 158.4 730.5 156.1 736.8 152.9 742.9 149 748.7 144.3 754.2 138.8 759.2 132.7 763.8 125.8 767.7 118.4 771.1 110.4 773.8 101.9 775.8 93 777 83.7 777.4 74.1 776.9 64.3 775.5 54.4 773.3 44 754.6 53.1 758 62.2 760.5 71.2 762.2 80 763.1 88.7 763.2 97.1 762.6 105.2 761.3 113 759.2 120.3 756.6 127.1 753.3 133.4 749.4 139.1 745.1 144.2 740.3 148.6 735 152.4 729.4 155.4 723.5 157.8 717.4 159.3 711Z" fill="#72b83e" opacity="0.85"/>
<path d="M160.2 711.1 160.1 717.6 159.3 724.1 157.6 730.4 155.1 736.7 151.7 742.7 147.6 748.4 142.7 753.7 137.1 758.6 130.8 762.9 123.9 766.7 116.4 769.9 108.4 772.4 99.9 774.2 91 775.1 81.7 775.3 72.2 774.6 62.5 773.1 52.7 770.6 45.3 757.5 54.5 760.7 63.7 763 72.8 764.5 81.7 765.2 90.4 765.2 98.9 764.3 107 762.8 114.6 760.6 121.9 757.7 128.6 754.3 134.8 750.2 140.4 745.7 145.3 740.7 149.6 735.4 153.2 729.6 156 723.6 158.1 717.4 159.5 711.1Z" fill="#27933a"/>
<path d="M158.7 710.9 155.9 716.8 152.3 722.4 148 727.5 143 732.2 137.3 736.4 131.1 739.9 124.4 742.8 117.1 745 109.5 746.5 101.5 747.2 93.3 747.1 84.9 746.1 76.4 744.3 67.8 741.6 59.3 738.1 50.9 733.6 42.8 728.3 34.9 722.1 34.2 701.6 40.8 708.4 47.8 714.4 55.1 719.7 62.7 724.2 70.5 728 78.3 731 86.2 733.1 94.1 734.5 101.9 735.2 109.5 735.1 116.9 734.2 124.1 732.7 130.9 730.5 137.3 727.6 143.2 724.1 148.6 720.1 153.5 715.5 157.8 710.5Z" fill="#72b83e" opacity="0.85"/>
<path d="M158.6 710.9 155.5 716.7 151.8 722.1 147.3 727.1 142.1 731.7 136.4 735.7 130.1 739 123.2 741.7 115.9 743.8 108.3 745 100.3 745.5 92.1 745.2 83.8 744.1 75.3 742.1 66.9 739.2 58.5 735.5 50.3 730.9 42.3 725.4 34.6 719.1 34 704.6 40.9 711.3 48 717.2 55.5 722.4 63.2 726.8 71.1 730.4 79.1 733.2 87 735.2 95 736.4 102.8 736.8 110.4 736.5 117.8 735.5 124.9 733.8 131.7 731.3 138 728.3 143.8 724.6 149.1 720.4 153.8 715.7 157.9 710.6Z" fill="#27933a"/>
<path d="M157.6 710.3 152.8 714.9 147.4 719 141.5 722.4 135.2 725.2 128.4 727.2 121.3 728.5 113.9 729 106.3 728.7 98.6 727.5 90.8 725.6 83.2 722.7 75.6 719 68.2 714.5 61.2 709.1 54.5 703 48.3 696 42.5 688.3 37.4 679.8 45.1 658.3 48.7 666.9 52.9 674.9 57.8 682.4 63.1 689.2 68.9 695.4 75.1 700.9 81.6 705.6 88.4 709.7 95.4 713 102.5 715.5 109.7 717.3 117 718.4 124.1 718.7 131.2 718.3 138 717.1 144.6 715.3 150.9 712.7 156.9 709.6Z" fill="#72b83e" opacity="0.85"/>
<path d="M157.5 710.2 152.5 714.7 147 718.6 141 721.8 134.5 724.3 127.7 726.1 120.5 727.2 113.1 727.5 105.6 726.9 97.9 725.6 90.3 723.4 82.7 720.4 75.3 716.5 68.1 711.8 61.2 706.3 54.7 700 48.7 692.9 43.2 685.1 38.3 676.5 43.7 661.3 47.5 669.9 52 677.9 57 685.3 62.5 692 68.5 698.1 74.9 703.4 81.5 708 88.5 711.9 95.6 715 102.8 717.4 110.1 719 117.4 719.8 124.6 719.9 131.6 719.3 138.4 717.9 144.9 715.8 151.1 713.1 157 709.7Z" fill="#27933a"/>
<path d="M156.7 709.3 150.4 711.8 143.8 713.5 137 714.5 130 714.7 122.9 714 115.8 712.6 108.8 710.3 101.9 707.3 95.3 703.4 89 698.7 83 693.3 77.5 687.1 72.5 680.3 68.2 672.8 64.5 664.6 61.5 656 59.3 646.8 57.9 637.1 71.3 622.2 71.4 631.5 72.3 640.5 74 649.1 76.4 657.4 79.5 665.1 83.2 672.4 87.5 679.1 92.3 685.2 97.6 690.7 103.3 695.5 109.4 699.7 115.8 703.1 122.3 705.9 129.1 707.9 135.9 709.1 142.8 709.6 149.6 709.4 156.4 708.5Z" fill="#72b83e" opacity="0.85"/>
<path d="M156.6 709.2 150.3 711.5 143.6 713 136.8 713.8 129.8 713.8 122.7 712.9 115.7 711.3 108.7 708.9 102 705.6 95.4 701.6 89.2 696.8 83.4 691.3 78.1 685 73.3 678.1 69.2 670.5 65.7 662.3 62.9 653.6 60.9 644.4 59.8 634.8 69.2 624.3 69.5 633.6 70.6 642.6 72.4 651.3 75 659.5 78.3 667.2 82.2 674.4 86.7 681 91.7 687.1 97.1 692.4 103 697.1 109.2 701.1 115.6 704.4 122.3 707 129.1 708.8 136 709.9 142.9 710.2 149.7 709.7 156.4 708.6Z" fill="#27933a"/>
<path d="M156.3 707.9 149.5 707.6 142.7 706.6 136.1 704.8 129.6 702.2 123.5 698.8 117.6 694.6 112.3 689.8 107.4 684.3 103 678.1 99.3 671.3 96.3 664 94 656.2 92.5 648 91.8 639.4 92 630.5 93.1 621.4 95.2 612.2 98.2 602.9 118.7 594 114.6 602.5 111.3 610.9 108.9 619.4 107.4 627.8 106.7 636.1 106.7 644.1 107.6 652 109.2 659.5 111.5 666.6 114.4 673.3 118 679.6 122.2 685.3 126.9 690.5 132 695.1 137.6 699 143.6 702.4 149.8 705 156.3 706.9Z" fill="#72b83e" opacity="0.85"/>
<path d="M156.3 707.7 149.5 707.3 142.8 706 136.2 704 129.8 701.2 123.8 697.6 118.1 693.3 112.9 688.3 108.2 682.7 104 676.4 100.5 669.5 97.7 662.2 95.6 654.3 94.3 646.1 93.9 637.6 94.3 628.7 95.6 619.7 97.9 610.5 101.1 601.3 115.5 595.1 111.6 603.7 108.6 612.3 106.4 620.8 105 629.3 104.5 637.6 104.8 645.7 105.8 653.5 107.6 661 110.1 668.1 113.3 674.7 117.1 680.9 121.4 686.5 126.3 691.6 131.6 696 137.3 699.8 143.4 702.9 149.8 705.3 156.3 707Z" fill="#27933a"/>
<path d="M156.4 706.7 150.1 704.3 144 701.2 138.4 697.4 133.3 692.9 128.6 687.7 124.6 682 121.2 675.7 118.5 668.9 116.5 661.7 115.4 654.2 115 646.3 115.6 638.2 117 630 119.3 621.7 122.5 613.4 126.7 605.2 131.8 597.1 137.9 589.3 158.5 587.4 151.8 594.2 145.9 601.2 140.8 608.5 136.5 616 133.1 623.7 130.5 631.4 128.7 639 127.7 646.6 127.5 654.1 128.1 661.4 129.4 668.4 131.5 675.1 134.2 681.4 137.6 687.4 141.6 692.8 146.2 697.7 151.2 702.1 156.8 705.9Z" fill="#72b83e" opacity="0.85"/>
<path d="M156.4 706.6 150.2 704 144.3 700.7 138.8 696.7 133.8 692.1 129.3 686.8 125.4 680.9 122.2 674.6 119.7 667.8 117.9 660.5 117 653 116.8 645.1 117.6 637.1 119.2 628.9 121.7 620.7 125.1 612.5 129.5 604.4 134.7 596.5 140.9 588.8 155.5 587.5 148.9 594.4 143.1 601.6 138.1 609.1 134 616.7 130.7 624.4 128.3 632.2 126.7 639.9 125.9 647.5 125.9 655 126.7 662.3 128.2 669.3 130.4 675.9 133.4 682.2 136.9 688 141.1 693.4 145.8 698.2 151 702.4 156.7 706Z" fill="#27933a"/>
<path d="M157 705.6 152 701.2 147.5 696.2 143.7 690.7 140.6 684.7 138.2 678.3 136.6 671.6 135.7 664.6 135.8 657.3 136.6 649.9 138.4 642.5 141 635 144.5 627.7 148.9 620.5 154.2 613.5 160.3 606.9 167.3 600.6 175.1 594.8 183.6 589.6 202.8 594.7 194.1 598.7 185.9 603.3 178.4 608.5 171.7 614.1 165.6 620 160.4 626.4 155.8 632.9 152.1 639.7 149.2 646.7 147.1 653.7 145.7 660.7 145.2 667.7 145.4 674.5 146.4 681.2 148.2 687.6 150.7 693.8 153.8 699.6 157.6 705Z" fill="#72b83e" opacity="0.85"/>
<path d="M157.1 705.5 152.2 701 147.9 695.9 144.3 690.2 141.3 684.2 139.1 677.7 137.7 671 137.1 663.9 137.3 656.7 138.3 649.3 140.2 641.9 143 634.6 146.7 627.3 151.3 620.3 156.7 613.4 162.9 606.9 170 600.8 177.9 595.2 186.5 590.2 200.1 593.7 191.3 598 183.2 602.8 175.9 608.1 169.2 613.8 163.3 619.9 158.1 626.4 153.7 633.1 150.2 640 147.4 647 145.5 654 144.3 661.1 144 668.1 144.4 674.9 145.6 681.6 147.6 688 150.2 694.1 153.5 699.8 157.5 705Z" fill="#27933a"/>
<path d="M158.3 704.6 155.9 698.5 154.4 692.1 153.6 685.5 153.7 678.8 154.7 672.1 156.5 665.4 159.2 658.8 162.7 652.4 167 646.2 172.2 640.4 178.1 634.9 184.8 629.9 192.2 625.5 200.2 621.6 208.9 618.5 218.1 616 227.9 614.3 238 613.4 254 627.9 244.3 627.5 234.8 627.8 225.7 629 217 630.8 208.7 633.3 200.9 636.5 193.7 640.2 187.1 644.5 181 649.2 175.7 654.4 171 660 167 665.8 163.8 672 161.4 678.3 159.7 684.8 158.7 691.3 158.6 697.8 159.2 704.3Z" fill="#72b83e" opacity="0.85"/>
<path d="M158.4 704.5 156.3 698.3 154.9 691.9 154.4 685.3 154.8 678.7 155.9 672 157.9 665.3 160.8 658.8 164.5 652.5 169 646.4 174.3 640.7 180.4 635.5 187.1 630.7 194.6 626.4 202.7 622.8 211.5 619.8 220.7 617.5 230.4 616.1 240.5 615.4 251.8 625.6 242 625.4 232.6 625.9 223.4 627.3 214.7 629.3 206.5 632 198.8 635.4 191.6 639.3 185 643.7 179.1 648.6 173.9 654 169.4 659.7 165.6 665.6 162.6 671.9 160.3 678.3 158.8 684.8 158.1 691.3 158.2 697.8 159.1 704.3Z" fill="#27933a"/>
<path d="M159.6 704.2 159.8 697.7 160.8 691.3 162.7 684.9 165.4 678.7 168.9 672.8 173.2 667.2 178.2 662 183.9 657.3 190.3 653.1 197.4 649.5 205 646.5 213.1 644.3 221.7 642.7 230.7 642 239.9 642.1 249.5 643.1 259.1 644.9 268.9 647.7 277.7 665.5 268.8 661.7 259.8 658.8 250.9 656.7 242 655.5 233.4 655 224.9 655.2 216.7 656.2 208.9 657.9 201.5 660.3 194.5 663.3 188.1 666.9 182.2 671.1 176.9 675.7 172.2 680.7 168.2 686.2 164.9 692 162.3 698 160.5 704.3Z" fill="#72b83e" opacity="0.85"/>
<path d="M159.7 704.2 160.1 697.7 161.4 691.3 163.4 685 166.3 678.9 170 673.1 174.4 667.6 179.6 662.6 185.5 658 192 654 199.1 650.5 206.8 647.8 214.9 645.7 223.5 644.3 232.5 643.8 241.7 644.1 251.1 645.2 260.7 647.3 270.4 650.2 276.6 662.7 267.5 659.2 258.5 656.4 249.5 654.5 240.6 653.4 231.8 653.1 223.4 653.6 215.2 654.7 207.4 656.6 200.1 659.2 193.2 662.4 186.8 666.1 181 670.4 175.8 675.2 171.3 680.4 167.5 685.9 164.4 691.8 162 697.9 160.4 704.3Z" fill="#27933a"/>
<path d="M161 704.4 163.7 698.4 167.2 692.8 171.5 687.6 176.4 682.9 182 678.7 188.2 675 194.9 672.1 202.1 669.8 209.7 668.2 217.7 667.4 225.9 667.5 234.3 668.3 242.9 670.1 251.5 672.6 260 676.1 268.5 680.5 276.7 685.8 284.6 691.9 285.5 713.5 278.9 706.7 271.9 700.7 264.5 695.4 257 690.9 249.2 687.2 241.3 684.2 233.4 682.1 225.6 680.7 217.8 680.1 210.1 680.2 202.7 681 195.6 682.6 188.8 684.8 182.4 687.7 176.5 691.2 171.1 695.2 166.2 699.8 161.9 704.8Z" fill="#72b83e" opacity="0.85"/>
<path d="M161.1 704.4 164.1 698.6 167.8 693.1 172.2 688 177.3 683.4 183 679.4 189.3 676 196.1 673.2 203.3 671.1 211 669.7 218.9 669.2 227.2 669.4 235.5 670.5 244 672.4 252.5 675.2 260.9 678.8 269.2 683.4 277.3 688.8 285 695.1 285.7 710.3 278.8 703.6 271.6 697.7 264.1 692.6 256.4 688.2 248.5 684.7 240.6 681.9 232.6 679.9 224.6 678.7 216.8 678.3 209.2 678.7 201.8 679.7 194.7 681.5 188 683.9 181.7 687 175.9 690.6 170.6 694.8 165.9 699.6 161.8 704.7Z" fill="#27933a"/>
<path d="M162.2 705.1 167.2 700.6 172.7 696.8 178.7 693.6 185.2 691 192.1 689.2 199.2 688.2 206.7 688 214.2 688.5 221.9 689.9 229.5 692.2 237.1 695.3 244.5 699.2 251.7 704 258.5 709.5 265 715.9 270.9 723.1 276.4 731 281.2 739.5 273.7 758.9 270.2 750.2 266.2 742.1 261.5 734.5 256.3 727.6 250.6 721.3 244.5 715.7 238.1 710.8 231.4 706.7 224.4 703.2 217.3 700.6 210.1 698.7 202.9 697.5 195.7 697.1 188.7 697.4 181.8 698.5 175.2 700.2 168.8 702.7 162.9 705.8Z" fill="#72b83e" opacity="0.85"/>
<path d="M162.3 705.2 167.4 700.9 173.1 697.2 179.2 694.2 185.8 691.8 192.7 690.2 199.9 689.4 207.3 689.4 214.8 690.1 222.4 691.7 230 694.2 237.4 697.4 244.7 701.5 251.7 706.4 258.4 712.1 264.7 718.6 270.5 725.9 275.7 733.8 280.3 742.5 275 756.2 271.4 747.5 267.1 739.4 262.2 731.9 256.8 725 251 718.9 244.7 713.4 238.1 708.6 231.3 704.6 224.2 701.4 217 698.9 209.8 697.2 202.5 696.2 195.4 696 188.3 696.5 181.5 697.8 174.9 699.7 168.6 702.4 162.8 705.7Z" fill="#27933a"/>
<path d="M163.1 706.1 169.4 703.9 176.1 702.3 183 701.6 190 701.6 197 702.5 204 704.2 211 706.7 217.7 710 224.2 714.1 230.4 719 236.1 724.6 241.4 731 246.1 738 250.1 745.7 253.5 754 256.2 762.8 258 772 259 781.7 243.9 797.1 244.3 787.8 243.8 778.8 242.6 770.1 240.6 761.8 237.9 753.9 234.6 746.5 230.7 739.6 226.1 733.3 221.1 727.5 215.7 722.4 209.8 718 203.6 714.3 197.2 711.2 190.6 708.9 183.8 707.3 177 706.5 170.2 706.4 163.4 707Z" fill="#72b83e" opacity="0.85"/>
<path d="M163.1 706.3 169.6 704.2 176.3 702.9 183.2 702.3 190.2 702.6 197.2 703.7 204.1 705.6 211 708.2 217.6 711.7 224 716 230 721 235.5 726.8 240.6 733.2 245.1 740.4 249 748.1 252.1 756.4 254.6 765.2 256.2 774.5 256.9 784.2 246.3 795 246.5 785.7 245.8 776.6 244.4 767.9 242.2 759.6 239.3 751.7 235.8 744.4 231.6 737.6 226.9 731.3 221.7 725.7 216.1 720.8 210.1 716.5 203.9 712.9 197.3 710.1 190.6 707.9 183.8 706.6 176.9 705.9 170.1 706 163.4 706.9Z" fill="#27933a"/>
<path d="M170.4 728.2 172 737.8 172 747.7 170.3 757.7 166.8 767.7 161.6 777.5 154.7 786.7 146.2 795.3 136.1 803 124.5 809.6 111.5 814.9 M182.3 699.5 192.4 698.8 202.7 699.7 213 702.3 223.1 706.5 232.8 712.3 241.8 719.7 250 728.6 257.1 739 262.9 750.6 267.3 763.4 M147.7 727.4 140.3 734 131.6 739.4 121.9 743.6 111.2 746.3 99.8 747.6 88 747.2 75.8 745.1 63.5 741.2 51.3 735.6 39.5 728.3 M182.9 701.5 193.1 701.7 203.3 703.5 213.3 707 223 712.1 232 718.7 240.3 726.9 247.6 736.5 253.6 747.4 258.3 759.5 261.4 772.6 M139.1 696.3 132.1 689.2 126.3 681 121.8 671.8 118.8 661.6 117.4 650.8 117.7 639.4 119.7 627.7 123.6 616 129.3 604.3 136.9 592.9 M137.9 716.9 127.9 718.2 117.5 717.8 107.1 715.8 96.7 712.1 86.7 706.8 77.3 699.9 68.7 691.4 61 681.4 54.5 670.1 49.4 657.6 M137.2 700.1 129 694.5 121.7 687.5 115.5 679.2 110.6 669.7 107.1 659.3 105.1 648.1 104.9 636.3 106.4 624 109.7 611.5 115 599 M140 720.4 130.3 723.3 120 724.6 109.3 724.3 98.5 722.4 87.7 718.8 77.1 713.6 67.1 706.6 57.7 698.1 49.3 688 42 676.5 M178.2 722.4 183.7 730.5 187.9 739.6 190.6 749.4 191.6 759.9 191 770.8 188.6 782 184.4 793.1 178.4 804 170.6 814.6 161 824.4 M180.9 718.6 188 725.4 194 733.5 198.7 742.7 202 752.8 203.7 763.6 203.7 774.9 201.9 786.6 198.3 798.5 192.9 810.3 185.6 821.8 M177.5 723.1 182.7 731.4 186.5 740.6 188.8 750.6 189.4 761.1 188.3 772 185.4 783 180.7 794 174.3 804.7 166 814.9 156.1 824.4 M181.9 698.7 192 697.7 202.4 698.3 212.8 700.5 223 704.3 232.9 709.8 242.2 716.9 250.7 725.6 258.2 735.6 264.4 747 269.3 759.7 M142.2 723.1 133.1 727.3 123.1 730.1 112.5 731.4 101.5 731.1 90.3 729.1 79 725.4 68 720 57.4 712.9 47.5 704.1 38.5 693.8 M182.3 715.5 190.5 721.4 197.6 728.5 203.7 736.9 208.4 746.4 211.7 756.9 213.4 768.1 213.4 780 211.7 792.2 208.1 804.6 202.7 817 M137.9 716.9 127.9 718 117.5 717.6 107 715.6 96.7 711.8 86.8 706.5 77.4 699.5 68.7 691 61.1 681 54.7 669.7 49.6 657.1 M148.1 687.7 145.8 678.3 145.2 668.4 146.4 658.2 149.2 648.1 153.8 638 160.1 628.4 168.1 619.4 177.7 611.1 188.9 603.9 201.5 597.8 M148 687.8 145.7 678.3 145.1 668.4 146.1 658.3 148.9 648.1 153.5 638.1 159.8 628.4 167.7 619.3 177.3 611.1 188.4 603.8 201 597.7 M182.5 700.2 192.6 699.8 202.9 701.1 213.2 704 223.1 708.5 232.6 714.6 241.4 722.3 249.2 731.5 255.9 742 261.4 753.8 265.3 766.7 M142 722.9 132.8 727 122.8 729.7 112.2 730.8 101.2 730.3 90 728.2 78.8 724.4 67.8 718.8 57.3 711.6 47.5 702.7 38.7 692.3 M183.7 705.8 193.6 707.9 203.3 711.5 212.4 716.7 220.9 723.5 228.5 731.7 235 741.2 240.2 752 244 763.8 246.1 776.5 246.6 789.9 M182.9 714.1 191.4 719.3 199 726 205.6 734 211.1 743.2 215.1 753.4 217.6 764.5 218.5 776.3 217.6 788.6 215 801.3 210.4 814 M168.4 729 169.2 738.7 168.2 748.5 165.6 758.4 161.2 768.1 155.1 777.3 147.4 786 138.1 793.8 127.3 800.6 115.1 806.2 101.8 810.4 M136.1 704.2 127 700.1 118.5 694.4 110.8 687.4 104.2 679 98.7 669.3 94.7 658.6 92.2 647.1 91.3 634.7 92.2 621.9 95 608.7 M149.6 686.9 148.1 677.4 148.2 667.5 150.1 657.4 153.7 647.5 159.1 637.8 166.1 628.6 174.7 620.2 185 612.6 196.7 606.2 209.7 601 M137 714.6 126.9 714.8 116.6 713.3 106.5 710.2 96.6 705.4 87.3 699.1 78.7 691.2 71.1 681.9 64.6 671.2 59.5 659.3 55.8 646.3 M169.8 686.8 176.5 679.5 184.5 673.3 193.7 668.1 204 664.3 215.2 662 227 661.2 239.4 662.1 252 664.6 264.7 669 277.3 675.1 M138.8 696.7 131.7 689.8 125.7 681.7 121 672.5 117.8 662.5 116.2 651.7 116.2 640.3 118 628.6 121.6 616.7 127 604.9 134.4 593.4 M183.3 712.4 192.2 717.1 200.3 723.2 207.5 730.7 213.6 739.5 218.5 749.4 221.8 760.3 223.6 772 223.7 784.4 222 797.2 218.4 810.2 M138.6 718.2 128.6 720 118.3 720.3 107.7 718.9 97.1 715.8 86.8 711.1 77 704.7 67.8 696.8 59.5 687.3 52.3 676.4 46.4 664.2 M148.9 687.3 147.1 677.7 146.9 667.8 148.5 657.8 151.7 647.7 156.7 637.9 163.5 628.5 171.8 619.8 181.8 611.9 193.3 605.1 206.1 599.5 M153.7 729.8 148.4 738 141.6 745.5 133.4 752 123.9 757.4 113.3 761.5 101.7 764.2 89.4 765.3 76.5 764.7 63.2 762.5 49.7 758.4 M164.4 730.1 163.5 739.8 160.8 749.3 156.4 758.6 150.3 767.4 142.6 775.5 133.5 782.8 122.9 788.9 111 793.9 98 797.4 84.1 799.3 M149.2 687.1 147.5 677.6 147.5 667.7 149.2 657.6 152.6 647.6 157.8 637.8 164.6 628.5 173.1 619.9 183.2 612.2 194.8 605.6 207.7 600.2 M135.9 708.6 126.1 706.2 116.6 702.2 107.7 696.6 99.5 689.6 92.2 681.1 86.1 671.4 81.3 660.4 78 648.5 76.4 635.7 76.5 622.3 M183.6 710.7 192.8 714.7 201.4 720.2 209.2 727.2 216 735.5 221.6 745.1 225.8 755.7 228.5 767.3 229.6 779.6 228.9 792.4 226.3 805.7 M183.7 705.5 193.6 707.4 203.3 710.9 212.6 716 221.1 722.7 228.8 730.8 235.5 740.2 240.8 750.9 244.8 762.6 247.2 775.3 247.8 788.8 M146.9 726.9 139.2 733.2 130.3 738.3 120.4 742.1 109.7 744.5 98.3 745.3 86.4 744.4 74.3 741.9 62.2 737.6 50.3 731.6 38.8 723.8 M181.8 716.9 189.5 723.2 196.2 730.7 201.6 739.5 205.7 749.3 208.3 759.9 209.3 771.2 208.6 783.1 206 795.2 201.6 807.4 195.4 819.4 M165.6 729.9 165.1 739.5 162.9 749.2 159 758.7 153.4 767.8 146.2 776.3 137.4 783.9 127.2 790.6 115.6 796.1 102.8 800.2 89 802.8 M136.4 712.5 126.3 711.7 116.3 709.4 106.5 705.3 97.1 699.7 88.5 692.6 80.7 684 74 674 68.7 662.8 64.7 650.4 62.4 637.2 M136.7 713.7 126.6 713.5 116.4 711.6 106.4 708.2 96.8 703.1 87.7 696.4 79.5 688.2 72.2 678.6 66.2 667.6 61.6 655.5 58.5 642.4 M136.4 712.6 126.3 711.8 116.3 709.5 106.4 705.5 97.1 699.9 88.4 692.8 80.6 684.2 73.9 674.2 68.5 663 64.6 650.7 62.2 637.4 M177.4 723.3 182.5 731.6 186.2 740.9 188.4 750.8 188.9 761.4 187.7 772.2 184.7 783.2 179.9 794.2 173.4 804.8 165 814.9 155 824.3 M147.9 727.5 140.6 734.2 132 739.7 122.3 744 111.7 746.9 100.3 748.2 88.4 748 76.2 746 63.9 742.3 51.7 736.8 39.8 729.6 M137.4 715.6 127.3 716.2 116.9 715.2 106.6 712.6 96.6 708.3 87 702.3 78 694.9 69.9 685.9 62.9 675.5 57.2 663.8 53 651 M165.5 685.4 170.6 677 177.2 669.4 185.3 662.7 194.6 657.1 205.1 652.8 216.6 649.9 228.9 648.5 241.8 648.7 255.2 650.7 268.7 654.5 M174 726.1 177.4 735.2 179.3 745 179.4 755.2 177.9 765.6 174.6 776.1 169.5 786.3 162.7 796.2 154.2 805.5 144 814 132.3 821.4 M147.9 687.8 145.6 678.4 145 668.5 146 658.3 148.8 648.1 153.3 638.1 159.6 628.4 167.5 619.3 177.1 611 188.2 603.7 200.8 597.6 M139.4 719.6 129.6 722 119.3 722.9 108.6 722.2 97.9 719.9 87.2 715.8 77 710.1 67.2 702.8 58.3 693.9 50.3 683.4 43.6 671.6 M168.4 686.3 174.6 678.6 182.2 671.9 191.1 666.2 201.1 661.8 212.1 658.8 223.9 657.3 236.3 657.5 249.1 659.3 262.1 662.9 275 668.3" fill="none" stroke="#1f8030" stroke-width="0.6" opacity="0.4"/>
</g></g>
<circle cx="158.8" cy="708.6" r="8.5" fill="#2a8a3c" opacity="0.9"/>
<circle cx="158.8" cy="708.6" r="6" fill="#3a48a6"/>
<ellipse cx="159.8" cy="707.6" rx="119.8" ry="114.5" fill="none" stroke="#5a5a48" stroke-width="0.9" stroke-dasharray="1 6" opacity="0.7"/>
<g clip-path="url(#c5)"><g filter="url(#b5)">
<rect x="300" y="580" width="280" height="260" fill="#3c9c3a"/>
<ellipse cx="352" cy="742" rx="30" ry="28" fill="#8cc43e" transform="rotate(0 352 742)"/>
<ellipse cx="372" cy="705" rx="45" ry="22" fill="#2a8a34" transform="rotate(12 372 705)"/>
<ellipse cx="340" cy="690" rx="18" ry="30" fill="#2e8e36" transform="rotate(0 340 690)"/>
<ellipse cx="445" cy="688" rx="38" ry="14" fill="#86c03e" transform="rotate(28 445 688)"/>
<ellipse cx="480" cy="712" rx="28" ry="10" fill="#7cbc3e" transform="rotate(30 480 712)"/>
<ellipse cx="430" cy="752" rx="55" ry="22" fill="#c8dc3c" transform="rotate(22 430 752)"/>
<ellipse cx="462" cy="778" rx="58" ry="24" fill="#f2e630" transform="rotate(30 462 778)"/>
<ellipse cx="480" cy="796" rx="32" ry="18" fill="#f8ea2c" transform="rotate(30 480 796)"/>
<ellipse cx="520" cy="735" rx="32" ry="20" fill="#2a8a36" transform="rotate(30 520 735)"/>
<ellipse cx="530" cy="690" rx="26" ry="45" fill="#2e8e38" transform="rotate(0 530 690)"/>
<ellipse cx="380" cy="805" rx="48" ry="20" fill="#4aa23a" transform="rotate(10 380 805)"/>
<ellipse cx="458" cy="810" rx="30" ry="12" fill="#f2e630" transform="rotate(0 458 810)"/>
<ellipse cx="503" cy="809" rx="20" ry="8" fill="#ec8a2a" transform="rotate(-40 503 809)"/>
<ellipse cx="434" cy="668" rx="26" ry="12" fill="#c4da3c" transform="rotate(0 434 668)"/>
<ellipse cx="392" cy="630" rx="9" ry="28" fill="#f2e42e" transform="rotate(-22 392 630)"/>
<ellipse cx="463" cy="626" rx="9" ry="28" fill="#f2e42e" transform="rotate(25 463 626)"/>
<ellipse cx="427" cy="656" rx="22" ry="12" fill="#f2e42e" transform="rotate(0 427 656)"/>
<ellipse cx="425" cy="641" rx="22" ry="10" fill="#f09a2a" transform="rotate(0 425 641)"/>
<ellipse cx="430" cy="617" rx="36" ry="22" fill="#d8281e" transform="rotate(0 430 617)"/>
<ellipse cx="425" cy="630" rx="20" ry="10" fill="#dc3a20" transform="rotate(0 425 630)"/>
<ellipse cx="430" cy="596" rx="30" ry="10" fill="#7a1616" transform="rotate(0 430 596)"/>
<ellipse cx="515" cy="622" rx="28" ry="16" fill="#2a4a9c" transform="rotate(38 515 622)"/>
<ellipse cx="336" cy="650" rx="6" ry="28" fill="#2a5aa2" transform="rotate(33 336 650)"/>
</g>
<g filter="url(#b5b)"><ellipse cx="350" cy="812" rx="15" ry="2.6" fill="#2a8a34" opacity="0.35" transform="rotate(30 350 812)"/><ellipse cx="396" cy="710" rx="25" ry="2.9" fill="#3a9a3a" opacity="0.35" transform="rotate(27 396 710)"/><ellipse cx="415" cy="719" rx="25" ry="2.1" fill="#6cb43e" opacity="0.35" transform="rotate(25 415 719)"/><ellipse cx="381" cy="770" rx="22" ry="2.8" fill="#2a8a34" opacity="0.35" transform="rotate(19 381 770)"/><ellipse cx="349" cy="760" rx="20" ry="1.8" fill="#2a8a34" opacity="0.35" transform="rotate(21 349 760)"/><ellipse cx="397" cy="791" rx="14" ry="2.9" fill="#8cc43e" opacity="0.35" transform="rotate(22 397 791)"/><ellipse cx="466" cy="691" rx="15" ry="1.7" fill="#2a8a34" opacity="0.35" transform="rotate(22 466 691)"/><ellipse cx="427" cy="701" rx="14" ry="2.5" fill="#3a9a3a" opacity="0.35" transform="rotate(24 427 701)"/><ellipse cx="459" cy="776" rx="19" ry="2.5" fill="#6cb43e" opacity="0.35" transform="rotate(19 459 776)"/><ellipse cx="510" cy="769" rx="17" ry="1.9" fill="#3a9a3a" opacity="0.35" transform="rotate(19 510 769)"/><ellipse cx="504" cy="734" rx="13" ry="1.9" fill="#8cc43e" opacity="0.35" transform="rotate(23 504 734)"/><ellipse cx="379" cy="745" rx="21" ry="1.8" fill="#2a8a34" opacity="0.35" transform="rotate(22 379 745)"/><ellipse cx="506" cy="774" rx="18" ry="2.1" fill="#6cb43e" opacity="0.35" transform="rotate(28 506 774)"/><ellipse cx="338" cy="771" rx="16" ry="2.0" fill="#3a9a3a" opacity="0.35" transform="rotate(25 338 771)"/><ellipse cx="389" cy="733" rx="24" ry="2.8" fill="#2a8a34" opacity="0.35" transform="rotate(21 389 733)"/><ellipse cx="480" cy="769" rx="20" ry="2.5" fill="#6cb43e" opacity="0.35" transform="rotate(18 480 769)"/><ellipse cx="453" cy="751" rx="17" ry="2.2" fill="#3a9a3a" opacity="0.35" transform="rotate(27 453 751)"/><ellipse cx="539" cy="722" rx="17" ry="2.8" fill="#6cb43e" opacity="0.35" transform="rotate(29 539 722)"/><ellipse cx="486" cy="688" rx="27" ry="2.2" fill="#2a8a34" opacity="0.35" transform="rotate(31 486 688)"/><ellipse cx="502" cy="654" rx="20" ry="1.6" fill="#3a9a3a" opacity="0.35" transform="rotate(23 502 654)"/><ellipse cx="549" cy="790" rx="13" ry="2.8" fill="#2a8a34" opacity="0.35" transform="rotate(20 549 790)"/><ellipse cx="336" cy="778" rx="25" ry="2.5" fill="#8cc43e" opacity="0.35" transform="rotate(29 336 778)"/><ellipse cx="493" cy="769" rx="13" ry="2.5" fill="#6cb43e" opacity="0.35" transform="rotate(27 493 769)"/><ellipse cx="423" cy="775" rx="25" ry="2.3" fill="#8cc43e" opacity="0.35" transform="rotate(19 423 775)"/><ellipse cx="424" cy="789" rx="27" ry="2.3" fill="#2a8a34" opacity="0.35" transform="rotate(29 424 789)"/><ellipse cx="387" cy="673" rx="22" ry="2.4" fill="#8cc43e" opacity="0.35" transform="rotate(22 387 673)"/><ellipse cx="542" cy="738" rx="23" ry="2.5" fill="#8cc43e" opacity="0.35" transform="rotate(19 542 738)"/><ellipse cx="346" cy="805" rx="28" ry="3.0" fill="#3a9a3a" opacity="0.35" transform="rotate(19 346 805)"/><ellipse cx="386" cy="664" rx="24" ry="1.6" fill="#3a9a3a" opacity="0.35" transform="rotate(26 386 664)"/><ellipse cx="417" cy="707" rx="20" ry="1.7" fill="#6cb43e" opacity="0.35" transform="rotate(19 417 707)"/><ellipse cx="434" cy="817" rx="25" ry="1.8" fill="#3a9a3a" opacity="0.35" transform="rotate(31 434 817)"/><ellipse cx="490" cy="796" rx="15" ry="2.0" fill="#3a9a3a" opacity="0.35" transform="rotate(28 490 796)"/><ellipse cx="337" cy="673" rx="17" ry="2.2" fill="#8cc43e" opacity="0.35" transform="rotate(25 337 673)"/><ellipse cx="534" cy="667" rx="13" ry="2.7" fill="#3a9a3a" opacity="0.35" transform="rotate(30 534 667)"/><ellipse cx="396" cy="750" rx="17" ry="2.2" fill="#8cc43e" opacity="0.35" transform="rotate(19 396 750)"/><ellipse cx="518" cy="689" rx="25" ry="1.6" fill="#3a9a3a" opacity="0.35" transform="rotate(23 518 689)"/><ellipse cx="414" cy="744" rx="15" ry="2.1" fill="#8cc43e" opacity="0.35" transform="rotate(28 414 744)"/></g>
</g>
<g clip-path="url(#c6)"><g filter="url(#b6)">
<ellipse cx="716.7" cy="711.2" rx="122.8" ry="119.2" fill="#3a9c3c"/>
<path d="M743 714.6 749.8 716.5 749.3 718.9 742.7 716.6ZM755.3 718.3 761.8 720.8 760.9 724.1 754.6 721.1ZM767.2 723.1 773.5 726.3 772.1 730.6 766.1 726.9ZM784.1 732.7 790 736.9 787.7 742.3 782.2 737.7ZM794.7 740.6 800.2 745.3 797.2 751.5 792.1 746.4ZM817.9 765 822.2 771.2 817.1 779 813.2 772.5ZM748.3 720.2 754.6 723.2 753.5 726 747.5 722.6ZM759.7 725.9 765.7 729.5 764.1 733.1 758.4 729.1ZM775.8 736.6 781.3 741.1 778.7 745.9 773.6 741ZM785.6 745.1 790.7 750.3 787.4 755.7 782.7 750.2ZM794.7 754.7 799.3 760.4 795.1 766.5 791 760.5ZM798.9 759.9 803.3 765.9 798.6 772.2 794.8 766ZM806.6 771 810.4 777.4 804.8 784.3 801.6 777.6ZM813.3 783 816.6 789.9 810 797.2 807.3 790ZM746.9 724 752.8 727.7 751.3 730.4 745.8 726.2ZM757.5 731 763 735.3 760.9 738.7 755.8 734ZM772 743.6 776.9 748.8 773.7 753.2 769.3 747.7ZM780.7 753.3 785.1 759 781 764 777.1 758ZM792 769.5 795.5 776 790.1 781.7 787.1 775ZM798.2 781.5 801.1 788.3 794.7 794.5 792.3 787.4ZM803.3 794.2 805.6 801.4 798.1 807.8 796.4 800.4ZM739.9 723.8 745.5 727.9 744 730 738.8 725.5ZM749.9 731.5 755 736.2 752.9 739 748.2 734ZM759.1 740.3 763.8 745.5 760.9 749 756.6 743.4ZM771.2 755.3 775.1 761.2 770.9 765.5 767.5 759.3ZM778.1 766.4 781.4 772.8 776.2 777.5 773.5 770.8ZM738.1 726.5 743.1 731.3 741.4 733.2 736.8 728.1ZM747 735.4 751.5 740.7 749 743.2 745 737.6ZM755 745.2 759 751 755.6 754.1 752.2 748ZM765.1 761.6 768.2 767.9 763.5 771.7 760.9 765.1ZM770.5 773.4 772.9 780.1 767.2 784.2 765.3 777.3ZM739.9 733.9 744 739.4 741.6 741.4 738 735.5ZM743.6 738.9 747.4 744.7 744.6 746.9 741.3 740.9ZM750.3 749.6 753.5 755.8 749.8 758.5 747.1 752ZM755.9 761.1 758.4 767.6 753.8 770.6 751.7 763.9ZM762 779.4 763.6 786.4 757.4 789.7 756.4 782.6ZM764.6 792.3 765.4 799.6 758.2 803 757.9 795.7ZM765.8 805.6 765.9 813.1 757.6 816.5 758.1 809.1ZM766 812.4 765.7 819.9 756.8 823.3 757.7 815.8ZM736.8 736.5 740.1 742.5 737.5 744.2 734.7 737.9ZM745.1 753.4 747.4 759.9 743.4 762.1 741.6 755.4ZM749.1 765.4 750.8 772.3 745.8 774.6 744.7 767.7ZM751.9 778 752.9 785 746.9 787.5 746.5 780.4ZM752.8 784.4 753.5 791.5 746.9 794.1 746.9 786.9ZM753.7 797.5 753.6 804.8 746 807.3 746.7 800ZM753.2 810.9 752.4 818.2 743.7 820.6 745.1 813.3ZM730.8 733.1 733.6 739.3 731.3 740.5 729 734.1ZM735.7 744.5 737.9 751 734.6 752.5 733 745.9ZM740.8 762.7 741.9 769.6 737.2 771.3 736.6 764.4ZM742.6 775.3 743 782.3 737.2 784.1 737.4 777.1ZM743.1 788.2 742.8 795.4 736 797.1 736.8 790ZM741.3 807.9 739.9 815.1 731.5 816.6 733.5 809.5ZM738.5 821.1 736.3 828.3 726.9 829.5 729.6 822.4ZM729.7 740.5 731.4 747.2 728.4 748.2 727.3 741.4ZM732.5 752.7 733.4 759.5 729.5 760.6 729.1 753.8ZM734.2 771.6 734.1 778.6 728.6 779.7 729.3 772.7ZM733.7 784.4 732.8 791.4 726.4 792.4 727.8 785.4ZM731.8 797.3 730.3 804.3 722.8 805.1 724.9 798.2ZM726.5 816.5 723.8 823.5 714.8 823.7 718.1 817ZM721.3 829.2 717.9 836 707.9 835.7 711.8 829.2ZM724.7 735.8 725.9 742.5 723.3 743.1 722.7 736.3ZM727 754.3 727.1 761.2 723 761.8 723.5 755ZM726.8 766.9 726.2 773.8 721.1 774.3 722.3 767.5ZM725.4 779.5 724 786.5 717.9 786.8 719.8 780ZM720.6 798.4 718.1 805.2 710.6 805.1 713.6 798.5ZM715.8 810.8 712.6 817.5 704 816.8 707.8 810.4ZM706 828.8 701.7 835.2 691.8 833.7 696.6 827.7ZM721.8 742.8 721.7 749.6 718.6 749.8 719.2 743ZM721.3 755.2 720.5 762 716.4 762.2 717.8 755.4ZM719.6 767.7 718 774.5 712.9 774.4 715 767.7ZM714.4 786.2 711.8 792.8 705.2 792.2 708.4 785.8ZM709.3 798.2 706 804.7 698.5 803.6 702.4 797.4ZM699.2 815.6 694.8 821.7 686 819.7 690.9 814ZM690.9 826.6 685.8 832.4 676.2 829.7 681.7 824.3ZM718.2 736.9 717.6 743.7 715 743.7 716.1 737ZM715.6 755.4 713.9 762.1 709.8 761.7 712.1 755.2ZM712.2 767.6 709.8 774.1 704.8 773.4 707.7 767.1ZM704.7 785.3 701.3 791.6 694.9 790.2 698.8 784.2ZM698.1 796.6 694 802.6 686.7 800.6 691.3 795ZM690.3 807.5 685.4 813.1 677.4 810.5 682.6 805.2ZM676.2 822.6 670.4 827.7 661.2 823.8 667.4 819.2ZM714.8 736.9 713.4 743.6 710.8 743.2 712.8 736.7ZM711.9 749 709.7 755.5 706.2 754.8 708.8 748.5ZM705 766.6 701.8 772.8 696.9 771.5 700.6 765.5ZM698.8 777.8 694.9 783.8 689.1 781.9 693.5 776.3ZM687.2 793.7 682.3 799.1 675.4 796.3 680.7 791.2ZM678 803.5 672.5 808.5 664.8 804.9 670.8 800.3ZM667.7 812.5 661.6 817.1 653.3 812.7 659.7 808.5ZM709.4 742.3 706.8 748.7 703.8 747.8 706.9 741.7ZM701.3 759.3 697.6 765.2 693.3 763.6 697.5 758ZM694.3 770 690 775.6 684.9 773.4 689.6 768.1ZM686.1 780.1 681.2 785.3 675.3 782.4 680.7 777.6ZM671.7 793.9 665.9 798.4 659.1 794.3 665.3 790.2ZM660.8 802 654.4 806.1 647 801.1 653.7 797.5ZM708.3 735.7 705.2 741.7 702.8 740.8 706.3 734.9ZM702.3 746.6 698.6 752.4 695.3 750.9 699.5 745.5ZM691.2 762 686.4 767.3 682 764.8 687.2 759.9ZM682.3 771.4 677 776.2 671.9 773 677.6 768.6ZM667 784 660.9 788.1 654.9 783.6 661.3 780ZM655.6 791.3 649 794.8 642.5 789.5 649.4 786.4ZM643.3 797.5 636.2 800.5 629.3 794.2 636.6 791.7ZM705.2 734.4 701.3 740.1 699 738.8 703.4 733.5ZM697.9 744.6 693.4 749.9 690.3 748 695.2 743.1ZM684.8 758.5 679.4 763.1 675.4 760.2 681.1 756ZM674.8 766.8 668.9 770.9 664.3 767.1 670.5 763.4ZM658 777.4 651.4 780.7 646 775.6 652.9 772.8ZM645.7 783.2 638.7 785.9 632.9 779.8 640.2 777.6ZM693.7 742.1 688.6 746.8 685.8 744.5 691.3 740.2ZM684.1 750.4 678.4 754.6 675.1 751.6 681 747.8ZM667.9 761.2 661.6 764.6 657.4 760.3 664.1 757.4ZM656.1 767.2 649.3 770 644.8 764.7 651.8 762.4ZM643.5 772 636.4 774.2 631.6 767.9 638.9 766.3ZM623.5 777.1 615.8 778.3 610.7 770.5 618.5 769.9ZM689.9 739 684.2 743.1 681.7 740.5 687.7 736.9ZM679.3 746.2 673.1 749.6 670.2 746.2 676.6 743.2ZM667.9 752.3 661.3 755.1 657.9 750.8 664.7 748.4ZM661.9 754.9 655.1 757.5 651.6 752.7 658.5 750.6ZM649.4 759.4 642.3 761.3 638.5 755.5 645.7 754.1ZM636.3 762.6 628.9 763.9 624.9 757.1 632.4 756.4ZM697.2 728.7 691.4 732.6 689.8 730.6 695.8 727.2ZM686.5 735.5 680.3 738.8 678.2 736 684.6 733.2ZM669.1 743.8 662.3 746.2 659.7 742 666.6 740.1ZM656.6 747.9 649.6 749.6 646.7 744.4 653.9 743.2ZM643.7 750.8 636.4 751.9 633.4 745.7 640.7 745.2ZM637 751.8 629.6 752.5 626.6 745.8 634 745.6ZM609.5 752.5 601.8 751.8 598.9 743 606.5 744.3ZM695.1 726.2 688.9 729.3 687.5 727.2 693.9 724.5ZM677.6 734 670.9 736.2 669 732.7 675.9 731ZM665.2 737.8 658.3 739.3 656.2 734.8 663.3 733.8ZM645.8 741.1 638.5 741.6 636.3 735.6 643.6 735.7ZM632.4 741.8 625 741.6 622.8 734.6 630.2 735.3ZM618.8 741.1 611.2 740.2 609.2 732.2 616.7 733.6ZM598.1 737.7 590.6 735.7 589 726.1 596.3 728.7ZM681.2 727.5 674.4 729.2 673.1 726 680 724.8ZM668.6 730.3 661.6 731.4 660.1 727.1 667.3 726.6ZM655.7 731.9 648.5 732.3 647 727 654.2 727.3ZM649.1 732.3 641.9 732.2 640.4 726.5 647.6 727.1ZM635.8 731.9 628.5 731.2 627.1 724.5 634.4 725.8ZM622.4 730.3 615 728.8 613.9 721.1 621.1 723.1ZM691.9 720.5 685.1 722 684.3 719.6 691.2 718.6ZM673 723.9 665.9 724.4 665 720.5 672.1 720.5ZM660.1 724.5 652.9 724.3 652 719.5 659.2 720.2ZM646.9 723.9 639.7 723 639 717.1 646.1 718.6ZM627.2 720.5 620 718.5 619.8 711.2 626.7 713.7ZM678.2 718.4 671.1 718.4 670.7 715 677.7 715.5ZM665.3 718.1 658.2 717.4 657.8 713 664.9 714.2ZM652.3 716.6 645.2 715.1 645.1 709.7 652.1 711.7ZM633 711.8 626.1 709.3 626.6 702.4 633.3 705.4ZM620.5 706.9 613.7 703.8 614.6 696 621.1 699.7ZM602.2 697.3 595.8 693.1 597.6 684 603.7 688.7ZM683.9 714.1 676.9 713.6 676.8 710.6 683.8 711.6ZM671.1 712.9 664.2 711.7 664.3 707.7 671.1 709.5ZM652.1 708.7 645.3 706.4 645.9 701 652.5 703.8ZM639.7 704.3 633.1 701.3 634.1 695 640.5 698.5ZM627.6 698.6 621.2 694.9 622.8 687.8 628.9 691.9ZM621.8 695.3 615.5 691.3 617.4 683.7 623.3 688.1ZM610.4 687.7 604.4 683.1 607 674.7 612.6 679.8ZM599.6 679 594 673.7 597.4 664.6 602.5 670.2ZM683.8 710.1 676.9 708.8 677.2 705.8 684 707.6ZM671.3 707.4 664.5 705.3 665.1 701.4 671.7 703.9ZM653 700.9 646.5 697.8 647.8 692.5 654 696.1ZM641.2 695 635 691.2 636.8 685.1 642.8 689.3ZM624.6 683.8 618.8 679.1 621.7 671.8 627.1 677ZM614.3 675 608.9 669.7 612.6 661.6 617.5 667.4ZM604.7 665 599.8 659.1 604.3 650.4 608.7 656.7ZM684.2 706.1 677.5 703.9 678.2 701 684.7 703.7ZM666.2 699.3 659.9 696.1 661.3 691.8 667.3 695.5ZM654.8 693.2 648.8 689.3 650.7 684.3 656.4 688.6ZM638.7 681.8 633.2 677.1 636.2 670.9 641.3 676ZM628.8 672.9 623.8 667.5 627.5 660.6 632.2 666.3ZM619.8 662.8 615.1 656.9 619.8 649.4 623.9 655.6ZM691 704.6 684.6 702 685.4 699.6 691.6 702.7ZM673.7 696.5 667.7 692.9 669.3 689.3 675 693.3ZM662.8 689.7 657.1 685.4 659.4 681 664.7 685.7ZM652.6 681.7 647.3 676.8 650.3 671.7 655.2 676.9ZM638.7 667.7 634.1 662 638.3 655.9 642.4 661.9ZM630.5 657.1 626.4 650.9 631.5 644.2 635.1 650.7ZM686.5 698.4 680.6 694.7 682.1 692 687.6 696.2ZM670.9 687.5 665.6 682.9 668 679.1 672.9 684.1ZM661.4 678.8 656.5 673.6 659.7 669.2 664.1 674.7ZM652.7 669.1 648.3 663.4 652.4 658.4 656.3 664.4ZM641.4 652.9 637.9 646.4 643.3 640.7 646.3 647.4ZM635.2 640.9 632.3 634.1 638.7 627.9 641.1 635ZM693.5 698.6 687.9 694.5 689.4 692.4 694.6 696.9ZM683.5 690.9 678.4 686.2 680.5 683.4 685.2 688.4ZM674.3 682.1 669.6 676.9 672.5 673.4 676.8 679ZM662.2 667.1 658.3 661.2 662.5 656.9 665.9 663.1ZM655.3 656 652 649.6 657.2 644.9 659.9 651.6ZM643.1 625.1 641.4 617.7 649.1 612.3 650.2 619.8ZM690.8 691.5 686 686.5 688.1 684.3 692.4 689.6ZM682.3 682.2 678 676.7 680.9 673.9 684.7 679.7ZM674.8 671.9 671.1 666 674.9 662.6 678 668.9ZM665.5 655 662.7 648.4 667.9 644.6 670.1 651.3ZM660.7 642.9 658.6 635.9 664.8 631.8 666.3 638.8ZM654.1 610 653.7 602.4 662.6 597.9 662.4 605.5ZM693.5 688.5 689.4 683 691.8 681 695.4 686.9ZM686.3 678.2 682.8 672.2 686 669.8 689 676ZM680.2 667.1 677.3 660.8 681.5 657.9 683.8 664.5ZM673.1 649.2 671.2 642.4 676.9 639.1 678.2 646.1ZM670 636.6 668.8 629.5 675.5 626.1 676.1 633.3ZM667.6 616.8 667.5 609.3 675.8 605.9 675.3 613.3ZM667.6 603.1 668.3 595.6 677.7 592.3 676.5 599.8ZM696.6 685.9 693.3 679.9 695.9 678.2 698.7 684.5ZM690.8 674.8 688.1 668.4 691.6 666.4 693.8 672.9ZM684.3 657 682.6 650.1 687.6 647.8 688.7 654.7ZM681.5 644.4 680.5 637.4 686.5 634.9 686.9 642ZM679.7 624.9 679.8 617.6 687.4 615.1 686.7 622.4ZM680.2 611.5 681 604.2 689.7 601.8 688.3 609.1ZM700 683.7 697.5 677.3 700.3 676 702.3 682.5ZM694 665.9 692.5 659.1 696.7 657.4 697.7 664.3ZM691.5 653.4 690.7 646.5 696 644.7 696.3 651.7ZM703.7 681.9 702 675.2 705 674.2 706.1 681ZM700 663.5 699.4 656.6 703.9 655.4 703.9 662.4ZM699.2 650.8 699.3 643.8 704.8 642.7 704.1 649.7ZM706.9 674.3 706.4 667.5 709.9 666.9 709.8 673.7ZM706.3 661.8 706.6 654.9 711.2 654.3 710.3 661.2ZM708 642.9 709.4 635.9 715.5 635.6 713.6 642.4ZM711.9 685.8 711.6 679 714.2 678.8 714 685.6ZM711.7 673.4 712.1 666.6 715.7 666.4 714.7 673.2ZM712.8 660.9 714 654.1 718.5 654.1 716.8 660.8ZM716.9 642.3 719.2 635.6 725.3 636.1 722.5 642.6ZM730.5 612.5 734.5 606.3 742.9 607.9 738.4 613.8ZM738.2 601.2 742.9 595.3 752.1 597.6 746.9 603.2ZM715.2 685.5 715.8 678.7 718.4 678.7 717.3 685.4ZM716.6 673.1 717.9 666.4 721.5 666.6 719.7 673.2ZM721.2 654.8 723.6 648.3 728.6 649 725.7 655.3ZM725.8 642.9 729 636.5 734.9 637.7 731.3 643.8ZM735.3 625.8 739.4 619.8 746.7 621.8 742.1 627.4ZM743.1 614.9 748 609.3 756 611.9 750.8 617.2ZM718.6 685.5 720 678.8 722.6 679.2 720.6 685.7ZM721.5 673.4 723.7 666.9 727.2 667.6 724.6 673.9ZM725.8 661.6 728.7 655.3 733.1 656.3 729.8 662.4ZM734.6 644.6 738.5 638.6 744.3 640.5 739.9 646.1ZM742 633.8 746.6 628.2 753.1 630.7 748.1 636ZM750.6 623.7 755.8 618.5 763.1 621.7 757.5 626.5ZM765.7 609.9 771.8 605.3 780.1 609.7 773.7 613.9ZM721.9 685.9 724.2 679.5 726.7 680.2 723.9 686.4ZM726.4 674.3 729.4 668.1 732.8 669.2 729.3 675.1ZM735.5 657.7 739.5 651.9 744.2 653.8 739.7 659.2ZM743.1 647.3 747.7 641.8 753.2 644.4 748.1 649.5ZM751.8 637.5 757.1 632.5 763.3 635.8 757.6 640.4ZM767 624.3 773.1 620 780.3 624.5 773.8 628.4ZM778.4 616.6 785 612.8 792.7 618.3 785.8 621.6ZM725.1 686.7 728.2 680.7 730.6 681.6 727.1 687.5ZM727.9 681.2 731.4 675.2 734.2 676.5 730.3 682.1ZM734.5 670.5 738.6 664.9 742.3 666.7 737.7 671.9ZM742.2 660.4 747 655.1 751.4 657.6 746.2 662.5ZM755.9 646.6 761.5 642 767 645.6 761 649.7ZM766.4 638.4 772.5 634.3 778.5 638.8 772.1 642.4ZM796.6 622.1 803.9 619.4 811 626.3 803.5 628.4ZM728.2 688 732.1 682.3 734.4 683.6 730 688.9ZM735.5 677.8 740 672.5 743.1 674.4 738.2 679.3ZM748.6 663.9 754 659.3 758 662.2 752.3 666.4ZM758.6 655.6 764.5 651.5 769.1 655.3 762.9 659ZM775.4 645 782 641.7 787.4 646.8 780.5 649.6ZM787.7 639.2 794.7 636.5 800.5 642.6 793.2 644.8ZM800.7 634.5 808.1 632.4 814.2 639.5 806.6 641.1ZM735.3 684.8 740.1 679.9 742.6 681.8 737.3 686.3ZM744.4 676 749.8 671.6 752.9 674.2 747.1 678.2ZM759.9 664.5 766 660.9 769.9 664.7 763.5 667.9ZM771.3 658.1 777.9 655 782.2 659.8 775.4 662.4ZM783.5 652.7 790.5 650.2 795.1 655.9 788 657.9ZM733.8 691.5 739 686.9 740.9 688.7 735.3 692.8ZM743.5 683.4 749.2 679.3 751.7 681.9 745.7 685.5ZM759.7 673.1 766.1 669.9 769.3 673.7 762.7 676.4ZM771.5 667.5 778.3 664.9 781.8 669.7 774.9 671.8ZM784 663 791.1 661.1 794.9 666.9 787.7 668.3ZM736.2 693.7 742 689.8 743.6 691.8 737.6 695.2ZM746.9 686.9 753.1 683.6 755.2 686.4 748.8 689.2ZM752.5 683.8 758.9 680.8 761.2 684.1 754.6 686.6ZM764.3 678.6 771.1 676.2 773.7 680.4 766.8 682.3ZM776.8 674.5 783.8 672.8 786.7 678 779.5 679.2ZM796.4 670.6 803.8 669.9 806.8 676.6 799.4 676.8ZM823.9 669.9 831.6 670.6 834.5 679.4 826.9 678.1ZM830.9 670.5 838.7 671.5 841.5 680.9 833.9 679.2ZM744 693.3 750.4 690.5 751.9 693.1 745.3 695.4ZM761.9 686.4 768.8 684.5 770.7 688.5 763.8 689.9ZM774.5 683.2 781.6 682 783.8 687 776.6 687.7ZM787.6 681.3 794.9 680.8 797.1 686.8 789.8 686.7ZM807.8 680.8 815.3 681.3 817.4 688.9 810 687.8ZM821.5 682.1 829.1 683.4 831 691.9 823.5 690.1ZM746.1 696.8 752.8 694.7 754 697.5 747.1 699ZM764.8 692.1 771.8 691 773.3 695.3 766.1 695.8ZM777.7 690.5 784.9 690.1 786.4 695.4 779.2 695.1ZM797.6 690.5 804.9 691.2 806.3 697.9 799 696.6ZM811 692.1 818.4 693.6 819.5 701.3 812.3 699.3ZM747.7 700.5 754.6 699.3 755.5 702.2 748.5 702.8ZM760.4 698.5 767.5 698 768.4 701.9 761.3 701.9ZM779.9 698.1 787.1 698.6 787.9 703.9 780.8 702.9ZM793 699.3 800.2 700.6 800.8 706.9 793.8 705.1ZM806.2 701.9 813.4 703.9 813.6 711.2 806.7 708.7ZM825.7 708.3 832.7 711.3 832.3 720.1 825.6 716.5ZM838.4 714.1 845.2 717.9 844.2 727.6 837.8 723.3ZM748.8 704.3 755.9 704 756.3 706.9 749.3 706.8ZM761.7 704 768.8 704.3 769.2 708.3 762.1 707.4ZM781.1 705.8 788.2 707.3 788.3 712.7 781.3 710.7ZM794 708.7 801 710.8 800.7 717.2 793.9 714.6ZM806.7 712.9 813.5 715.7 812.9 723 806.3 719.7ZM825.2 721.6 831.7 725.4 830.2 734.1 824 729.7ZM743.1 708.2 750.1 708.3 750.2 710.8 743.3 710.2ZM762.3 709.5 769.2 710.7 769.1 714.7 762.3 712.9ZM775 712 781.9 713.9 781.5 718.8 774.7 716.4ZM787.5 715.8 794.3 718.4 793.5 724.2 786.9 721.1ZM805.8 723.8 812.2 727.5 810.6 734.6 804.5 730.5ZM749.6 712.3 756.5 713.6 756.2 716.6 749.4 714.8ZM762.1 715 768.9 717.1 768.3 721 761.7 718.5ZM780.4 721.5 786.9 724.6 785.6 729.9 779.4 726.3ZM792.2 727.4 798.4 731.2 796.6 737.3 790.6 733.1ZM803.4 734.5 809.3 738.9 806.8 745.9 801.3 741ZM819.1 747.4 824.5 752.7 820.8 760.8 815.9 755Z" fill="#2a923c"/>
<path d="M749.2 716.3 755.9 718.5 755.2 721.4 748.7 718.7ZM761.3 720.5 767.7 723.4 766.6 727.2 760.4 723.9ZM772.9 726 779.1 729.5 777.5 734.2 771.6 730.2ZM778.6 729.2 784.6 733.1 782.7 738.1 777 733.8ZM789.5 736.5 795.2 741 792.6 746.8 787.2 741.9ZM799.7 744.9 805 750 801.6 756.5 796.8 751.1ZM821.9 770.7 825.9 777.1 820.3 785.2 816.8 778.4ZM742.4 717.8 748.8 720.4 748 722.8 741.8 719.7ZM754.1 722.9 760.2 726.2 758.9 729.4 753 725.7ZM765.2 729.2 771.1 733.1 769.2 737.1 763.6 732.8ZM770.6 732.7 776.3 737 774 741.4 768.7 736.7ZM780.8 740.7 786.1 745.6 783.1 750.7 778.2 745.5ZM790.3 749.8 795.1 755.2 791.3 761 787 755.2ZM802.9 765.3 807 771.5 801.9 778.2 798.3 771.7ZM810.1 776.9 813.6 783.6 807.5 790.7 804.6 783.7ZM741.3 720.9 747.4 724.3 746.2 726.6 740.5 722.7ZM752.3 727.3 758 731.4 756.2 734.4 750.9 730ZM762.5 734.9 767.8 739.5 765.4 743.3 760.5 738.3ZM767.4 739.1 772.5 744 769.7 748.1 765 742.9ZM776.5 748.3 781.1 753.7 777.5 758.5 773.3 752.7ZM784.7 758.5 788.8 764.4 784.3 769.7 780.7 763.4ZM788.5 763.9 792.3 770.1 787.3 775.6 784 769.1ZM795.2 775.4 798.5 782 792.5 788 789.8 781.1ZM800.9 787.7 803.5 794.8 796.6 801.1 794.5 793.8ZM745 727.5 750.4 731.9 748.6 734.4 743.6 729.6ZM754.6 735.8 759.5 740.8 757 743.9 752.5 738.6ZM763.4 745.1 767.8 750.5 764.5 754.3 760.5 748.5ZM767.4 750.1 771.6 755.8 767.8 759.8 764.2 753.8ZM774.8 760.7 778.4 766.9 773.7 771.4 770.6 764.9ZM781.1 772.2 784.1 778.8 778.5 783.7 776 776.9ZM783.8 778.2 786.5 785 780.4 790.1 778.3 783.1ZM742.6 730.9 747.4 735.9 745.3 738.1 741 732.8ZM751.1 740.2 755.4 745.7 752.5 748.5 748.7 742.7ZM758.6 750.5 762.3 756.4 758.5 759.8 755.4 753.5ZM762 755.9 765.4 762.1 761.2 765.6 758.3 759.2ZM767.9 767.4 770.7 774 765.5 777.8 763.3 771.1ZM772.7 779.5 774.8 786.5 768.6 790.6 767.1 783.6ZM735.9 729 740.3 734.3 738.3 736 734.4 730.4ZM747.1 744.2 750.6 750.2 747.4 752.6 744.4 746.4ZM753.2 755.3 756.1 761.6 751.9 764.5 749.6 757.9ZM758.2 767 760.4 773.8 755.3 776.9 753.6 770ZM760.3 773.2 762.2 780 756.5 783.3 755.2 776.3ZM763.4 785.8 764.6 792.9 757.9 796.3 757.3 789.1ZM765.3 798.9 765.8 806.3 758.1 809.7 758.2 802.3ZM765.8 819.3 765.1 826.8 755.7 830.1 756.9 822.6ZM733.5 731.2 737.1 737 735 738.5 731.8 732.4ZM739.8 742 742.9 748.2 739.8 750 737.3 743.6ZM742.6 747.6 745.3 754 741.8 756 739.6 749.5ZM747.2 759.4 749.3 766 744.8 768.3 743.3 761.5ZM750.7 771.7 752 778.6 746.5 781 745.7 774ZM753.4 790.9 753.7 798.1 746.6 800.7 746.9 793.4ZM753.6 804.2 753.2 811.5 745 813.9 746.1 806.7ZM752.5 817.6 751.3 825 742.1 827.3 743.8 820ZM751.4 824.4 749.8 831.8 740.1 833.9 742.2 826.7ZM733.4 738.7 735.9 745.1 733.1 746.4 731.1 739.9ZM737.7 750.5 739.5 757.1 735.8 758.7 734.5 751.9ZM739.4 756.5 740.9 763.3 736.7 765 735.7 758.1ZM741.9 769 742.7 775.9 737.4 777.7 737.1 770.7ZM743 781.7 743.1 788.8 736.8 790.6 737.3 783.5ZM742.8 794.7 742.2 801.9 734.8 803.6 736.1 796.5ZM742.3 801.3 741.2 808.5 733.3 810.1 735 803ZM740.1 814.5 738.3 821.7 729.4 823 731.7 816ZM736.5 827.7 734 834.9 724 835.8 727.1 828.8ZM727.8 734.6 729.8 741.1 727.4 742 725.9 735.4ZM731.2 746.6 732.6 753.3 729.1 754.4 728.3 747.6ZM733.4 758.9 734 765.8 729.5 767 729.5 760ZM733.9 765.2 734.2 772.2 729.3 773.3 729.6 766.4ZM734.1 778 733.6 785 727.7 786 728.7 779.1ZM732.9 790.8 731.7 797.9 724.7 798.8 726.5 791.8ZM730.4 803.7 728.5 810.8 720.4 811.3 723 804.5ZM728.6 810.1 726.3 817.1 717.8 817.6 720.7 810.7ZM724.1 822.9 721 829.8 711.5 829.8 715.1 823.1ZM725.8 741.9 726.6 748.7 723.6 749.3 723.3 742.5ZM726.5 748.1 727 754.9 723.5 755.5 723.6 748.7ZM727.1 760.6 726.8 767.5 722.2 768.1 723.1 761.2ZM726.3 773.2 725.2 780.1 719.7 780.6 721.3 773.7ZM724.1 785.9 722.4 792.8 715.8 792.9 718.1 786.2ZM722.5 792.2 720.4 799 713.4 799 716 792.4ZM718.4 804.7 715.5 811.4 707.5 811 710.9 804.5ZM712.9 816.9 709.3 823.5 700.3 822.6 704.4 816.3ZM709.6 822.9 705.7 829.4 696.2 828.2 700.7 822ZM721.5 736.6 721.8 743.4 719.2 743.6 719.4 736.8ZM721.7 749 721.3 755.8 717.7 756 718.7 749.2ZM720.6 761.5 719.4 768.3 714.9 768.3 716.6 761.6ZM718.2 773.9 716.3 780.6 710.7 780.4 713.1 773.8ZM716.5 780.1 714.2 786.8 708.1 786.3 710.9 779.8ZM712 792.2 709 798.8 702 797.9 705.5 791.6ZM706.3 804.1 702.6 810.5 694.7 809.1 698.8 803ZM702.9 809.9 698.9 816.1 690.5 814.5 695 808.6ZM695.2 821.2 690.5 827.1 681.3 824.8 686.5 819.2ZM717.6 743.1 716.7 749.9 713.6 749.8 715.1 743.1ZM716.8 749.3 715.5 756 711.9 755.8 713.7 749.2ZM714.1 761.5 712 768.2 707.5 767.6 710.1 761.2ZM710.1 773.6 707.3 780 701.8 779.1 705.1 772.9ZM707.6 779.5 704.4 785.9 698.5 784.7 702.1 778.6ZM701.6 791 697.8 797.2 690.9 795.5 695.2 789.6ZM694.3 802.1 689.9 808 682.2 805.6 687.1 800.2ZM685.9 812.7 680.7 818.2 672.3 815.1 677.8 810ZM681.2 817.7 675.7 823 666.9 819.6 672.8 814.7ZM713.5 743 711.7 749.6 708.6 749.1 711 742.6ZM709.9 754.9 707.4 761.4 703.4 760.5 706.4 754.3ZM707.6 760.8 704.7 767.1 700.3 766.1 703.6 760ZM702.1 772.3 698.5 778.4 693.2 776.8 697.2 771ZM695.3 783.3 691 789.1 684.8 786.9 689.5 781.4ZM691.4 788.6 686.8 794.2 680.3 791.7 685.3 786.4ZM682.8 798.7 677.6 803.9 670.3 800.7 675.9 795.9ZM673 808.1 667.2 812.9 659.2 808.9 665.4 804.5ZM662.1 816.8 655.8 821.1 647.1 816.2 653.8 812.3ZM711.5 736.5 709.2 742.9 706.7 742.2 709.5 736ZM707 748.1 704 754.3 700.6 753.2 704.1 747.3ZM704.3 753.8 701 759.8 697.1 758.5 700.9 752.7ZM697.9 764.7 693.9 770.5 689.2 768.6 693.7 763.2ZM690.3 775.1 685.7 780.6 680.2 778 685.3 772.9ZM681.6 784.9 676.3 789.9 670.1 786.6 675.8 782ZM676.8 789.5 671.3 794.3 664.7 790.6 670.7 786.2ZM666.4 798.1 660.3 802.4 653.1 797.9 659.6 794ZM655 805.8 648.4 809.6 640.7 804.1 647.6 800.8ZM648.9 809.3 642 812.8 634.1 806.9 641.3 803.9ZM705.5 741.2 702 747.2 699.2 745.9 703.1 740.3ZM698.9 751.9 694.8 757.5 691.1 755.7 695.7 750.5ZM695.2 757.1 690.8 762.5 686.7 760.4 691.6 755.3ZM686.9 766.8 681.8 771.9 677.1 769 682.5 764.4ZM677.5 775.8 671.9 780.4 666.4 776.8 672.4 772.7ZM672.4 780 666.5 784.4 660.8 780.4 667 776.5ZM661.4 787.7 655 791.6 648.8 786.7 655.4 783.3ZM649.5 794.5 642.7 797.8 635.9 792 643.1 789.2ZM636.8 800.3 629.5 803 622.4 796.1 629.9 794ZM701.7 739.6 697.5 745.1 694.8 743.5 699.4 738.4ZM693.8 749.4 689 754.5 685.6 752.3 690.8 747.6ZM689.4 754.1 684.3 758.9 680.6 756.3 686.1 751.9ZM679.9 762.8 674.3 767.1 669.9 763.8 675.9 759.8ZM669.4 770.5 663.3 774.4 658.4 770.2 664.8 766.8ZM663.8 774.1 657.4 777.7 652.3 773 658.9 769.9ZM652 780.4 645.1 783.4 639.6 777.8 646.6 775.3ZM702.3 732.9 697.7 738 695.6 736.5 700.6 731.7ZM698.1 737.6 693.3 742.5 690.8 740.6 696.1 736.1ZM689 746.4 683.6 750.8 680.5 748.2 686.3 744.2ZM678.9 754.3 673 758.2 669.4 754.8 675.6 751.3ZM673.5 757.9 667.4 761.5 663.5 757.7 669.9 754.5ZM662.1 764.3 655.5 767.4 651.2 762.6 658 760ZM649.9 769.7 642.9 772.2 638.3 766.5 645.4 764.5ZM637 774 629.7 775.9 624.7 769.1 632.2 767.8ZM630.3 775.7 622.8 777.2 617.8 769.9 625.4 769ZM616.5 778.2 608.7 779 603.6 770.7 611.4 770.4ZM699.6 730.9 694.4 735.5 692.5 733.7 698.1 729.6ZM694.9 735.1 689.4 739.4 687.2 737.2 693 733.4ZM684.7 742.7 678.8 746.5 676 743.5 682.3 740.2ZM673.7 749.3 667.3 752.5 664.1 748.7 670.7 746ZM655.7 757.3 648.8 759.5 645.1 754.3 652.2 752.5ZM642.9 761.1 635.6 762.8 631.7 756.5 639.1 755.4ZM629.5 763.8 622 764.8 618 757.4 625.6 757.1ZM691.9 732.2 686 735.8 684.1 733.4 690.3 730.3ZM680.9 738.6 674.5 741.6 672.2 738.3 678.8 735.8ZM675.1 741.3 668.5 744 666 740.3 672.8 738.1ZM662.9 746 656 748.1 653.3 743.4 660.3 741.8ZM650.2 749.5 643 750.9 640.1 745.2 647.4 744.4ZM630.2 752.4 622.7 752.8 619.7 745.6 627.2 745.8ZM616.5 752.8 608.8 752.5 605.8 744.2 613.4 745.1ZM602.5 751.9 594.7 750.9 591.9 741.5 599.5 743.2ZM689.4 729.1 683 731.9 681.5 729.3 688.1 727ZM683.6 731.7 677 734.2 675.3 731.1 682.1 729.1ZM671.5 736 664.6 737.9 662.7 733.9 669.6 732.5ZM658.9 739.2 651.8 740.4 649.6 735.4 656.8 734.7ZM652.4 740.3 645.2 741.2 643 735.7 650.2 735.4ZM639.1 741.6 631.8 741.8 629.6 735.3 636.9 735.6ZM625.6 741.6 618.1 741.1 616 733.5 623.4 734.6ZM611.9 740.3 604.3 739 602.4 730.5 609.9 732.3ZM605 739.2 597.4 737.5 595.7 728.5 603.1 730.7ZM693.3 723.4 686.7 725.8 685.7 723.5 692.4 721.6ZM687.3 725.6 680.6 727.7 679.4 724.9 686.3 723.4ZM675 729.1 668 730.4 666.6 726.7 673.7 725.9ZM662.2 731.3 655.1 732 653.6 727.3 660.8 727.1ZM642.5 732.2 635.2 731.9 633.8 725.7 641 726.6ZM629.1 731.3 621.8 730.2 620.5 723 627.8 724.6ZM615.7 729 608.3 727.2 607.4 718.9 614.5 721.3ZM609 727.3 601.6 725.2 600.9 716.4 608 719.2ZM685.7 721.9 678.8 723.1 677.9 720.2 684.9 719.6ZM679.4 723 672.4 723.9 671.5 720.5 678.6 720.2ZM666.6 724.3 659.4 724.5 658.5 720.1 665.7 720.5ZM653.5 724.3 646.3 723.8 645.5 718.5 652.6 719.5ZM640.4 723.1 633.2 721.8 632.6 715.5 639.6 717.3ZM633.8 721.9 626.6 720.3 626.1 713.5 633.2 715.6ZM620.7 718.7 613.6 716.3 613.5 708.5 620.4 711.4ZM690.9 717.4 683.9 718.1 683.5 715.6 690.5 715.4ZM684.6 718.1 677.5 718.4 677.1 715.5 684.1 715.6ZM671.7 718.4 664.6 718.1 664.2 714.1 671.3 715ZM658.8 717.5 651.7 716.5 651.5 711.5 658.4 713.1ZM645.9 715.3 638.8 713.5 638.9 707.6 645.7 709.9ZM639.4 713.7 632.4 711.6 632.7 705.2 639.5 707.8ZM626.7 709.5 619.9 706.7 620.5 699.4 627.1 702.7ZM614.3 704 607.6 700.5 608.8 692.3 615.2 696.3ZM608.2 700.8 601.7 697 603.2 688.3 609.4 692.7ZM596.4 693.5 590.1 688.9 592.3 679.4 598.2 684.4ZM690.3 714.2 683.3 714.1 683.2 711.6 690.1 712.2ZM677.5 713.7 670.5 712.8 670.5 709.3 677.4 710.7ZM664.8 711.8 657.8 710.3 658.1 705.8 664.9 707.9ZM658.4 710.4 651.5 708.5 651.9 703.6 658.7 706ZM645.9 706.6 639.1 704 639.9 698.2 646.5 701.3ZM633.6 701.6 627.1 698.3 628.4 691.5 634.7 695.3ZM616 691.6 609.9 687.3 612.1 679.3 617.9 684.1ZM604.9 683.5 599.1 678.5 602.1 669.8 607.5 675.1ZM690.1 711 683.2 710 683.4 707.5 690.2 709ZM677.5 708.9 670.7 707.2 671.1 703.7 677.8 705.9ZM665.1 705.5 658.4 703.1 659.2 698.7 665.7 701.6ZM659 703.3 652.4 700.6 653.4 695.8 659.8 699ZM647 698.1 640.7 694.7 642.2 689 648.3 692.8ZM635.5 691.6 629.5 687.5 631.6 681 637.4 685.5ZM630 687.9 624.1 683.5 626.6 676.5 632.1 681.4ZM619.3 679.6 613.8 674.5 617 666.9 622.2 672.3ZM609.4 670.1 604.3 664.5 608.3 656.2 613 662.2ZM690.4 707.8 683.6 705.9 684.1 703.5 690.7 705.8ZM678.1 704.1 671.6 701.6 672.5 698.3 678.8 701.3ZM672.1 701.9 665.7 699 666.8 695.2 673 698.5ZM660.5 696.4 654.3 692.9 655.9 688.2 661.8 692.2ZM649.3 689.7 643.4 685.5 645.7 680.1 651.2 684.7ZM643.9 685.9 638.2 681.4 640.8 675.6 646.2 680.5ZM633.7 677.5 628.4 672.4 631.8 665.9 636.6 671.3ZM624.2 668 619.3 662.3 623.6 655.1 627.9 661.1ZM615.5 657.4 611.2 651.2 616.3 643.4 620.2 649.9ZM611.5 651.7 607.5 645.3 613.1 637.2 616.6 644ZM685.1 702.2 678.8 699.2 679.9 696.4 685.9 699.8ZM679.3 699.5 673.2 696.2 674.5 693 680.4 696.7ZM668.2 693.2 662.3 689.3 664.2 685.3 669.8 689.6ZM657.6 685.8 652.1 681.3 654.7 676.5 659.8 681.4ZM647.8 677.3 642.7 672.1 646 666.7 650.7 672.2ZM643.1 672.6 638.3 667.2 642.1 661.4 646.4 667.2ZM692.1 701.5 686 698.1 687.2 695.8 692.9 699.7ZM681.1 695.1 675.4 691 677.2 688 682.5 692.4ZM675.9 691.4 670.4 687.1 672.5 683.7 677.6 688.4ZM666 683.3 660.9 678.4 663.7 674.3 668.4 679.5ZM656.9 674.1 652.3 668.7 655.9 663.9 660.1 669.7ZM648.7 663.9 644.6 658 649.1 652.7 652.7 659ZM632.5 634.7 629.9 627.6 636.8 621.3 638.9 628.6ZM688.4 694.9 683 690.5 684.8 688 689.8 692.8ZM678.8 686.6 673.9 681.6 676.4 678.5 680.9 683.8ZM670 677.3 665.6 671.9 668.9 668.1 672.9 673.9ZM666 672.3 661.8 666.6 665.6 662.6 669.2 668.6ZM658.6 661.7 655 655.5 659.7 651 662.8 657.5ZM652.3 650.2 649.3 643.6 654.9 638.7 657.4 645.5ZM649.6 644.2 646.9 637.4 653 632.3 655.1 639.3ZM695.3 695.9 690.3 691.1 692 689.2 696.6 694.3ZM686.4 687 681.9 681.7 684.4 679.2 688.4 684.8ZM678.4 677.2 674.4 671.4 677.8 668.3 681.2 674.4ZM671.4 666.5 668 660.3 672.2 656.8 675.1 663.2ZM668.3 660.8 665.2 654.5 669.9 650.7 672.5 657.3ZM662.9 649 660.5 642.3 666.2 638.2 668.1 645.1ZM697.5 693.4 693.1 688.1 695.1 686.4 699 692ZM689.8 683.5 686 677.7 688.8 675.5 692.1 681.5ZM683.1 672.8 679.9 666.6 683.6 663.9 686.3 670.4ZM677.5 661.3 675 654.8 679.6 651.8 681.7 658.5ZM675.2 655.4 673 648.6 678.1 645.5 679.8 652.4ZM671.4 643 669.8 636 676 632.7 677 639.8ZM668.8 630.1 668 622.8 675.2 619.4 675.5 626.7ZM668.1 623.5 667.6 616.1 675.3 612.7 675.2 620.1ZM667.4 610 667.7 602.5 676.6 599.1 675.7 606.6ZM699.9 691.2 696.3 685.4 698.4 683.9 701.6 690ZM693.6 680.4 690.5 674.2 693.6 672.4 696.1 678.8ZM688.3 669 686 662.5 690 660.3 691.8 667ZM686.2 663 684.1 656.4 688.6 654.1 690.1 660.9ZM682.7 650.7 681.4 643.8 686.9 641.4 687.7 648.4ZM680.6 638 679.9 630.9 686.5 628.3 686.5 635.5ZM680 631.5 679.7 624.3 686.8 621.7 686.5 629ZM679.8 618.2 680.2 610.9 688.4 608.5 687.3 615.7ZM702.6 689.3 699.8 683.1 702.1 681.9 704.4 688.3ZM697.7 677.9 695.5 671.4 698.8 669.9 700.4 676.5ZM695.7 671.9 693.9 665.3 697.6 663.7 698.9 670.5ZM692.6 659.7 691.5 652.8 696.2 651.1 696.8 658ZM690.8 647.1 690.4 640.1 696.2 638.3 696 645.3ZM690.4 640.7 690.3 633.6 696.6 631.8 696.1 638.9ZM705.6 687.8 703.6 681.3 706 680.4 707.5 687ZM702.2 675.8 700.8 669.1 704.3 668 705.1 674.8ZM700.9 669.7 700 662.9 703.9 661.8 704.3 668.6ZM699.5 657.2 699.2 650.2 704.1 649.1 703.8 656ZM699.3 644.4 699.8 637.4 705.7 636.4 704.7 643.3ZM708.7 686.6 707.5 679.9 710.1 679.3 710.7 686.1ZM707.6 680.5 706.8 673.7 709.8 673.1 710.1 679.9ZM706.4 668.1 706.3 661.2 710.4 660.6 709.9 667.4ZM706.6 655.5 707.2 648.6 712.3 648.1 711.1 654.9ZM707.1 649.2 708.2 642.3 713.7 641.8 712.1 648.7ZM711.6 679.6 711.7 672.8 714.8 672.6 714.2 679.4ZM712.1 667.2 712.9 660.4 717 660.2 715.6 667ZM713.8 654.7 715.4 647.9 720.5 648 718.4 654.7ZM715.2 648.5 717.1 641.8 722.7 642 720.3 648.6ZM727.1 618.3 730.8 611.9 738.7 613.3 734.6 619.4ZM734.2 606.8 738.6 600.7 747.4 602.7 742.5 608.4ZM742.5 595.8 747.6 590 757.2 592.7 751.7 598.1ZM715.8 679.3 716.7 672.5 719.8 672.6 718.3 679.3ZM717.8 667 719.5 660.3 723.6 660.7 721.3 667.2ZM719.3 660.9 721.4 654.2 725.9 654.8 723.3 661.2ZM723.3 648.8 726.1 642.4 731.6 643.3 728.3 649.5ZM728.7 637.1 732.1 630.8 738.5 632.2 734.6 638.2ZM731.8 631.4 735.6 625.2 742.5 626.9 738.2 632.8ZM739.1 620.3 743.5 614.4 751.2 616.8 746.3 622.2ZM747.5 609.7 752.7 604.2 761.1 607.3 755.6 612.4ZM719.9 679.4 721.7 672.8 724.8 673.3 722.4 679.8ZM723.5 667.5 726 661 730 661.9 727 668.1ZM728.4 655.8 731.6 649.6 736.5 650.9 732.8 656.9ZM731.3 650.1 734.9 644 740.2 645.6 736.2 651.4ZM738.1 639.1 742.4 633.3 748.6 635.5 743.9 641ZM746.2 628.7 751.1 623.3 758 626.1 752.7 631.2ZM724 680.1 726.6 673.7 729.6 674.6 726.5 680.7ZM729.1 668.6 732.4 662.6 736.3 663.9 732.5 669.7ZM732.1 663.1 735.8 657.2 740.1 658.8 735.9 664.4ZM739.1 652.4 743.4 646.8 748.5 649 743.8 654.3ZM747.3 642.3 752.2 637.1 758.1 640 752.7 644.8ZM756.6 632.9 762.1 628.1 768.7 631.8 762.7 636.2ZM731.1 675.8 734.8 670 738.1 671.5 733.9 676.9ZM738.2 665.3 742.6 659.9 746.7 662 741.8 667.1ZM746.5 655.6 751.6 650.5 756.3 653.4 750.9 658ZM751.1 651 756.4 646.2 761.5 649.4 755.8 653.8ZM761 642.4 766.9 638 772.6 642 766.4 645.9ZM731.7 682.8 735.9 677.3 738.6 678.9 734 684ZM739.6 673 744.4 667.9 747.8 670.1 742.6 674.8ZM744 668.3 749.1 663.5 752.8 666.1 747.3 670.5ZM753.5 659.6 759.1 655.3 763.5 658.6 757.5 662.6ZM764 651.9 770.1 648 775 652.2 768.6 655.6ZM769.6 648.3 776 644.7 781.1 649.4 774.5 652.5ZM781.4 642 788.3 639 793.8 644.6 786.8 647.1ZM794.1 636.7 801.3 634.3 807.2 640.9 799.8 642.8ZM807.5 632.5 815.1 630.8 821.2 638.4 813.5 639.6ZM731.1 689.5 735.7 684.4 737.8 685.9 732.8 690.7ZM739.7 680.3 744.8 675.6 747.6 677.9 742.1 682.2ZM749.3 672 755 667.8 758.3 670.8 752.4 674.6ZM754.5 668.1 760.4 664.2 764 667.6 757.8 671.1ZM765.5 661.2 771.8 657.8 776 662.1 769.3 665ZM777.3 655.2 784.1 652.4 788.6 657.7 781.6 660ZM789.9 650.4 797 648.2 801.8 654.5 794.5 656.1ZM796.4 648.4 803.7 646.5 808.7 653.3 801.2 654.6ZM738.5 687.3 744 683 746.2 685.2 740.4 689ZM748.7 679.7 754.6 675.9 757.4 678.9 751.1 682.2ZM754.1 676.2 760.3 672.8 763.2 676.2 756.8 679.2ZM765.5 670.1 772.1 667.3 775.5 671.6 768.7 674ZM777.7 665.1 784.6 662.9 788.3 668.1 781.2 669.9ZM790.5 661.3 797.8 659.6 801.7 665.9 794.3 667ZM797.1 659.8 804.5 658.5 808.5 665.3 801 666ZM741.5 690.2 747.4 686.6 749.3 689 743.1 692.1ZM758.3 681.1 764.9 678.4 767.4 682.1 760.6 684.3ZM770.5 676.4 777.4 674.3 780.1 679 773.1 680.6ZM783.2 672.9 790.4 671.5 793.3 677.2 786 678ZM789.7 671.6 797 670.5 800 676.7 792.7 677.2ZM803.2 670 810.7 669.6 813.7 676.8 806.2 676.6ZM816.9 669.6 824.6 669.9 827.6 678.2 820 677.3ZM738.3 696.2 744.5 693.1 745.9 695.2 739.5 697.9ZM749.8 690.7 756.4 688.2 758.1 691.3 751.3 693.3ZM755.8 688.4 762.5 686.2 764.4 689.7 757.5 691.4ZM768.2 684.6 775.1 683.1 777.2 687.6 770.1 688.6ZM781 682.1 788.2 681.2 790.4 686.7 783.2 687ZM794.3 680.8 801.6 680.6 803.8 687.1 796.5 686.8ZM801 680.6 808.4 680.8 810.6 687.8 803.2 687.1ZM814.6 681.3 822.2 682.2 824.2 690.2 816.7 688.8ZM828.4 683.2 836 684.9 837.7 693.9 830.3 691.7ZM835.3 684.7 842.8 686.7 844.4 696.3 837.1 693.7ZM740.1 699 746.7 696.6 747.7 698.9 741 700.8ZM752.2 694.9 759 693.2 760.3 696.4 753.4 697.6ZM758.4 693.3 765.4 692 766.8 695.7 759.7 696.5ZM771.2 691.1 778.3 690.4 779.8 695.1 772.6 695.3ZM784.3 690.1 791.5 690.2 793 695.9 785.8 695.3ZM790.9 690.2 798.2 690.5 799.6 696.7 792.4 695.8ZM804.3 691.1 811.6 692.2 812.9 699.4 805.6 697.8ZM817.7 693.4 825.1 695.2 826 703.5 818.9 701.1ZM741.5 701.9 748.3 700.4 749.1 702.8 742.2 703.8ZM754 699.4 761 698.5 761.9 701.9 754.8 702.2ZM766.8 698.1 774 697.9 774.9 702.3 767.7 701.9ZM773.3 697.9 780.5 698.1 781.4 702.9 774.2 702.2ZM786.5 698.5 793.7 699.4 794.4 705.3 787.3 703.8ZM799.6 700.5 806.8 702.1 807.3 708.9 800.2 706.8ZM812.7 703.7 819.8 706.1 819.9 713.9 813 711ZM819.2 705.8 826.3 708.5 826.2 716.8 819.4 713.6ZM832.1 711.1 839 714.5 838.3 723.7 831.7 719.8ZM742.5 705 749.5 704.3 749.9 706.8 742.9 707ZM755.2 704 762.3 704 762.7 707.4 755.7 706.9ZM768.1 704.3 775.2 705 775.6 709.4 768.5 708.2ZM774.6 704.9 781.7 705.9 781.9 710.9 775 709.3ZM787.5 707.1 794.6 708.9 794.5 714.8 787.7 712.5ZM800.4 710.6 807.3 713.1 806.8 720 800.1 717ZM812.9 715.5 819.7 718.6 818.8 726.4 812.3 722.7ZM819.1 718.4 825.8 721.9 824.6 730.1 818.2 726.1ZM831.2 725.1 837.6 729.3 835.8 738.4 829.7 733.7ZM749.5 708.3 756.5 708.8 756.6 711.8 749.6 710.8ZM755.9 708.7 762.9 709.6 762.9 713.1 756 711.7ZM768.6 710.6 775.6 712.1 775.3 716.6 768.5 714.5ZM781.3 713.7 788.1 716 787.5 721.4 780.9 718.6ZM793.7 718.1 800.3 721.1 799.3 727.4 792.9 723.9ZM799.8 720.8 806.3 724.1 805 730.9 798.7 727.1ZM811.6 727.1 817.9 731.1 816 738.7 810.1 734.3ZM743.3 711.4 750.2 712.4 750 714.9 743.2 713.4ZM755.9 713.5 762.7 715.2 762.3 718.7 755.6 716.5ZM768.3 716.9 775 719.3 774.2 723.7 767.7 720.8ZM774.4 719.1 781 721.8 780 726.6 773.6 723.4ZM786.4 724.3 792.7 727.7 791.2 733.4 785.1 729.6ZM797.9 730.8 803.9 734.9 801.8 741.4 796 736.9ZM808.8 738.6 814.6 743.3 811.7 750.6 806.3 745.4Z" fill="#1f8a3a"/>
<path d="M804.5 749.6 809.6 755 805.9 761.7 801.3 756ZM809.2 754.5 814 760.2 809.9 767.2 805.5 761.2ZM813.6 759.7 818.2 765.6 813.7 772.9 809.5 766.6ZM779.2 812.5 779.6 820.1 770.9 824.4 771.2 816.8ZM639.2 785.6 632 788 626.2 781.6 633.7 779.7ZM632.6 787.8 625.2 789.9 619.3 783 626.9 781.5ZM625.8 789.7 618.2 791.5 612.3 784.1 620 782.9ZM634.5 662.4 630.2 656.4 634.7 650.3 638.6 656.5ZM626.8 651.3 623 644.8 628.5 638.2 631.8 644.9ZM623.4 645.4 619.9 638.7 625.8 631.8 628.7 638.8ZM620.1 639.3 616.9 632.4 623.3 625.3 626 632.5ZM645 658.4 641.2 652.2 646 646.9 649.3 653.3ZM638.3 646.9 635 640.3 640.8 634.5 643.5 641.4ZM630.2 628.1 627.9 620.9 635.2 614.7 636.9 622.1ZM647.2 637.9 644.8 630.9 651.3 625.9 653.1 633ZM645 631.5 643 624.3 650 619.2 651.4 626.5ZM641.6 618.3 640.3 610.8 648.3 605.5 649 613.1ZM658.8 636.5 657.1 629.4 663.6 625.3 664.8 632.5ZM657.2 630 655.8 622.8 662.8 618.6 663.7 625.9ZM655.9 623.4 654.8 616.1 662.4 611.8 662.9 619.2ZM654.9 616.7 654.2 609.2 662.3 604.9 662.4 612.4ZM752.3 604.8 757.8 599.4 766.4 602.8 760.5 607.7ZM757.3 599.9 763.1 594.8 772 598.5 765.9 603.2ZM755.5 619 761 613.9 768.4 617.4 762.5 622.1ZM760.5 614.3 766.3 609.5 774.1 613.4 767.9 617.8ZM771.4 605.7 777.8 601.4 786.1 606.1 779.4 610ZM761.8 628.6 767.6 624 774.2 628 768 632.1ZM772.7 620.4 779.1 616.4 786.3 621.2 779.6 624.8ZM784.6 613.2 791.5 609.6 799.2 615.4 792 618.4ZM772.1 634.7 778.5 630.9 784.5 635.6 777.9 639ZM777.9 631.2 784.6 627.7 790.8 632.9 783.9 635.9ZM784 628 790.8 624.7 797.3 630.4 790.2 633.1ZM790.2 625 797.3 622 804 628.1 796.7 630.6ZM824.5 695.2 831.8 697.4 832.5 705.8 825.4 703.1ZM831.2 697.2 838.4 699.7 839 708.6 831.9 705.6ZM837.8 699.5 845 702.4 845.4 711.8 838.4 708.4ZM814 743 819.6 748 816.4 755.4 811.3 750ZM824 752.4 829.1 758 825.1 766.1 820.5 760.1ZM828.6 757.5 833.5 763.5 829.1 771.8 824.7 765.6Z" fill="#2a48a0"/>
<path d="M786.3 784.4 788.7 791.4 782 796.6 780.2 789.5ZM774.7 785.9 776.4 792.9 769.7 797.2 768.5 790ZM778.6 805.6 779.4 813.1 771 817.5 770.9 810ZM615.7 765.2 607.9 765.5 603.9 757.1 611.6 757.5ZM623.4 752.8 615.8 752.8 612.8 745.1 620.3 745.6ZM602.3 725.4 595 722.8 594.4 713.6 601.5 716.7ZM614.2 716.6 607.1 713.9 607.2 705.6 614 708.8ZM595 708.3 588.2 704.5 589.2 694.8 595.6 699.1ZM682 598 683.6 590.6 693.3 588.5 691.2 595.7ZM690.3 634.2 690.6 627 697.4 625.3 696.6 632.4ZM699.7 638 700.6 631 707 630 705.6 637ZM723.8 599.5 727.7 593 737.2 594.2 732.7 600.4ZM721.4 630.2 724.4 623.6 731.4 624.5 727.9 630.8ZM803.1 646.7 810.6 645.2 815.6 652.5 808 653.4ZM810 669.6 817.6 669.6 820.6 677.3 813.1 676.8ZM837 728.9 843.3 733.5 841.1 743 835.2 738ZM817.4 730.8 823.5 735.1 821.3 743.1 815.5 738.3Z" fill="#f2d830"/>
<path d="M788.5 790.8 790.5 798 783.3 803.3 781.9 796ZM791.9 804 793.3 811.5 785 817 784.2 809.4ZM777.6 798.9 778.7 806.3 770.9 810.7 770.4 803.2ZM595.6 723.1 588.4 720.2 588.1 710.5 595 713.9ZM607.7 714.1 600.7 711.1 601.1 702.3 607.8 705.9ZM692.1 614.5 693.5 607.3 701.9 605.8 699.9 612.9ZM694.9 601.3 697.1 594.1 706.5 592.9 703.8 600ZM696.9 594.7 699.4 587.5 709.4 586.6 706.3 593.6ZM700.5 631.6 701.7 624.5 708.7 623.6 706.9 630.6ZM701.6 625.1 703.1 618.1 710.6 617.3 708.5 624.2ZM704.8 612.3 707.1 605.3 715.6 604.8 712.7 611.7ZM709.3 599.5 712.4 592.6 721.9 592.6 718.3 599.3ZM709.3 636.5 711 629.6 717.6 629.5 715.3 636.2ZM712.8 624 715.3 617.2 722.8 617.3 719.8 623.9ZM717.6 611.6 720.8 604.9 729.4 605.6 725.6 612ZM720.5 605.5 724.1 598.9 733.1 599.8 729 606.1ZM810.8 657.7 818.4 657.1 822.4 665 814.8 665ZM824.8 656.9 832.6 657 836.6 665.9 828.8 665.2ZM823 734.7 829 739.3 826.4 747.7 820.8 742.6ZM828.5 738.9 834.3 743.9 831.3 752.6 825.9 747.3Z" fill="#f4c030"/>
<path d="M790.3 797.3 792 804.7 784.3 810.1 783.2 802.6ZM776.3 792.3 777.7 799.5 770.5 803.9 769.6 796.6ZM601.3 711.3 594.4 707.9 595.1 698.7 601.7 702.6ZM691.1 621.1 692.2 613.9 700.1 612.3 698.4 619.4ZM693.3 607.9 695.1 600.7 704 599.4 701.7 606.4ZM703 618.7 704.9 611.6 713 611.1 710.4 617.9ZM706.9 605.9 709.6 598.9 718.6 598.7 715.3 605.4ZM712.1 593.2 715.5 586.4 725.5 586.7 721.6 593.2ZM710.9 630.2 713 623.4 720 623.4 717.4 630ZM715 617.7 717.9 611 725.9 611.4 722.5 617.9ZM816.9 644.2 824.7 643.4 829.8 651.7 822 652ZM803.9 658.6 811.4 657.6 815.4 665 807.8 665.3ZM817.7 657.2 825.5 656.9 829.5 665.3 821.8 664.9ZM833.8 743.4 839.4 748.7 836 757.8 830.9 752.2Z" fill="#f08a28"/>
<path d="M622.6 764.7 615 765.3 611 757.4 618.6 757.4ZM608.6 765.5 600.8 765.4 596.8 756.5 604.6 757.2ZM680.9 604.8 682.1 597.4 691.3 595.1 689.6 602.4ZM690.6 627.7 691.2 620.5 698.6 618.8 697.3 625.9ZM727.4 593.6 731.7 587.2 741.6 588.7 736.8 594.7ZM719 636.2 721.6 629.6 728.2 630.2 725 636.6ZM724.1 624.2 727.4 617.7 734.9 618.8 731 625ZM809.9 645.3 817.6 644.1 822.7 651.9 814.9 652.5Z" fill="#b8d43a"/>
<path d="M743.2 713.4 750 714.9 749.8 716.5 743 714.7ZM755.6 716.2 762.3 718.4 761.8 721.1 755.2 718.5ZM767.7 720.6 774.2 723.4 773.4 726.5 767.1 723.3ZM773.6 723.5 779.9 726.7 779.2 729.4 773 725.9ZM779.4 726.5 785.6 730.1 784.7 732.8 778.7 729ZM785.2 729.2 791.3 733.1 789.9 737.2 784 733ZM796.2 736.4 802 740.9 800 745.9 794.5 741ZM806.4 745.4 811.7 750.5 809.6 755 804.5 749.6ZM748.7 718.5 755.2 721.1 754.5 723.4 748.2 720.4ZM760.5 723.7 766.7 727 765.7 729.7 759.6 726.1ZM766 727 772.1 730.7 771.1 733 765.3 729.1ZM771.5 730.4 777.4 734.4 776.3 736.8 770.7 732.6ZM777.1 733.6 782.8 737.8 781.1 741.4 775.7 736.9ZM787.4 741.5 792.8 746.3 790.4 750.7 785.4 745.6ZM796.8 751 801.7 756.4 799.2 760.5 794.7 754.8ZM801.3 755.9 805.9 761.7 803.2 766 798.8 760ZM809.9 766.2 814 772.4 810 778.1 806.2 771.6ZM747.5 722.4 753.6 725.7 752.6 727.9 746.8 724.2ZM758.5 728.9 764.2 733 762.9 735.5 757.4 731.2ZM763.6 732.9 769.1 737.2 767.9 739.5 762.6 734.9ZM768.6 736.9 773.9 741.6 772.6 743.8 767.5 739ZM773.7 740.7 778.9 745.6 776.7 749.1 771.9 743.9ZM783 749.8 787.6 755.3 784.8 759.4 780.4 753.6ZM791 760.5 795.1 766.5 792.3 770.1 788.5 763.9ZM794.9 765.8 798.8 772.1 795.4 776.1 791.8 769.7ZM807.6 789.7 810.3 796.8 805.3 801.7 803 794.5ZM740.5 722.7 746.3 726.5 745.4 728 739.9 723.8ZM751 729.8 756.4 734.2 754.9 736.5 749.8 731.8ZM760.6 738.1 765.6 743.1 763.6 745.7 759 740.5ZM764.9 743 769.6 748.2 767.9 750.4 763.4 745ZM769.2 747.8 773.6 753.4 771.7 755.6 767.5 749.9ZM773.5 752.4 777.7 758.2 774.8 761.5 771 755.5ZM781.1 763 784.7 769.3 781 773.2 777.7 766.7ZM787.1 775 790.1 781.7 786.5 785.1 783.8 778.3ZM738.8 725.5 744.1 730 743 731.3 738 726.6ZM748.3 733.8 753.1 738.8 751.3 740.9 746.8 735.6ZM756.8 743.3 761 748.8 758.8 751.1 754.9 745.4ZM760.5 748.5 764.4 754.3 762.4 756.4 758.7 750.4ZM764 753.9 767.6 760 765.6 761.9 762.2 755.7ZM767.8 759 771.2 765.2 767.9 768.2 764.8 761.8ZM773.8 770.5 776.7 777.1 772.5 780.5 770.1 773.7ZM775.7 777.2 778.1 784 775.2 786.2 773.1 779.3ZM741 732.7 745.4 738.1 743.9 739.4 739.9 733.9ZM745 737.6 749.1 743.2 747.4 744.7 743.6 739ZM752.4 747.8 755.9 753.8 753.2 756.1 750 749.8ZM758.5 759 761.4 765.4 758.2 767.8 755.6 761.2ZM760.8 765.2 763.3 771.8 760.6 773.7 758.3 767ZM763.1 771.2 765.3 778 762.4 779.9 760.4 773ZM765.6 777 767.6 783.9 763.2 786.7 761.7 779.6ZM738.1 735.4 741.8 741.3 740 742.6 736.7 736.6ZM741.2 740.9 744.5 747 743 748.1 739.9 741.9ZM744.3 746.4 747.3 752.7 745.4 753.9 742.7 747.5ZM747.3 751.9 750 758.3 747.2 760.1 744.9 753.5ZM752.1 763.7 754.2 770.4 750.4 772.5 748.7 765.7ZM755.3 776.2 756.6 783.2 752.8 785.1 751.8 778ZM756.5 782.6 757.5 789.7 753.4 791.6 752.7 784.4ZM758.5 795.4 758.8 802.7 753 805 753.1 797.7ZM758.6 808.9 758.2 816.3 751.9 818.4 752.7 811ZM757.4 815.9 756.5 823.4 751.6 824.9 752.8 817.5ZM756.7 822.7 755.4 830.2 750.1 831.7 751.7 824.3ZM732 732.3 735.1 738.4 733.4 739.4 730.6 733.2ZM737.5 743.5 740 749.9 737.6 751.2 735.5 744.6ZM739.5 749.5 741.6 756.1 739.7 757 737.9 750.4ZM741.5 755.5 743.4 762.1 741 763.3 739.5 756.5ZM743.5 761.4 745 768.2 741.7 769.6 740.6 762.8ZM746.2 773.8 747 780.8 742.5 782.5 742.1 775.5ZM747.1 786.8 747.1 794 742.6 795.4 742.9 788.3ZM746.9 793.4 746.6 800.7 742.2 801.9 742.9 794.7ZM746.2 800.2 745.5 807.4 741.7 808.4 742.7 801.2ZM746.7 806.5 745.7 813.8 739.3 815.3 740.7 808.1ZM744.5 819.8 742.7 827.1 735.6 828.4 737.8 821.2ZM741.8 826.7 739.6 834 734.5 834.8 737 827.6ZM728.9 734.1 731.2 740.5 730 741.1 727.9 734.6ZM731.3 739.8 733.3 746.4 731.2 747.2 729.5 740.6ZM734.7 751.8 736.1 758.6 733.1 759.6 732.2 752.8ZM735.5 758.2 736.4 765.1 734.3 765.7 733.6 758.9ZM736.6 764.4 737.2 771.3 734.2 772.2 733.9 765.2ZM737.3 770.6 737.6 777.6 733.9 778.6 734 771.6ZM737.8 783.4 737.3 790.5 732.3 791.5 733.2 784.5ZM736.4 796.4 735.2 803.5 729.9 804.4 731.5 797.3ZM734.8 803 733.2 810.1 728.6 810.7 730.5 803.7ZM733.1 809.5 731.1 816.6 726.7 817.1 729 810.1ZM732.3 815.9 730 823 723.2 823.5 725.9 816.6ZM727.9 828.8 724.8 835.8 717.1 836 720.5 829.2ZM726 735.3 727.6 742 725.7 742.5 724.6 735.8ZM727.2 741.5 728.3 748.2 726.8 748.6 725.9 741.9ZM728.3 747.6 729.1 754.4 727 754.9 726.6 748.1ZM729.2 753.7 729.7 760.6 726.9 761.2 726.8 754.3ZM730 766.3 729.7 773.2 725.7 773.9 726.4 767ZM728.9 779 727.9 786 723.8 786.5 725.2 779.6ZM727.8 785.4 726.4 792.4 722.4 792.8 724.1 785.9ZM726.1 791.8 724.3 798.8 720.8 799 722.9 792.1ZM725.4 798.1 723.3 805 717.5 805.2 720.1 798.5ZM721.3 810.7 718.4 817.5 711.9 817.5 715.2 810.8ZM717.6 817 714.3 823.7 709.7 823.5 713.3 816.9ZM715 823.1 711.4 829.8 705.8 829.4 709.7 822.9ZM712.3 829.2 708.3 835.8 701.3 835.1 705.6 828.8ZM722.7 736.3 723.3 743.1 721.8 743.3 721.5 736.6ZM723.4 742.5 723.7 749.3 721.5 749.6 721.6 742.8ZM723.8 754.9 723.4 761.8 720.2 762.1 721 755.2ZM722.5 767.5 721.3 774.3 717.9 774.5 719.4 767.7ZM721.3 773.7 719.7 780.6 716.2 780.6 718.1 773.9ZM718.6 786.2 716.3 792.9 711.2 792.8 713.9 786.2ZM714.1 798.5 711.1 805.1 705.5 804.6 708.8 798.2ZM710.5 804.5 707.1 811 702.9 810.5 706.6 804.2ZM707.6 810.4 703.9 816.8 699 816.2 703.1 809.9ZM719.5 736.8 719.3 743.6 717.4 743.7 718 737ZM719.1 743 718.5 749.8 716.8 749.9 717.7 743.1ZM718.5 749.2 717.5 756 715.6 756 716.9 749.3ZM718 755.4 716.7 762.2 713.7 762.1 715.4 755.4ZM715.4 767.7 713.4 774.4 709.4 774.1 711.9 767.6ZM711 779.8 708.2 786.3 704.4 785.8 707.5 779.5ZM708.5 785.8 705.4 792.2 701.1 791.5 704.6 785.3ZM703 797.5 699.1 803.7 693.3 802.5 697.5 796.5ZM695.5 808.7 690.9 814.6 685 813 689.9 807.4ZM690.7 813.9 685.8 819.7 680.9 818.2 686.1 812.7ZM686.1 819.1 680.9 824.7 676.1 823.1 681.5 817.8ZM682.3 824.5 676.8 829.9 669.8 827.4 675.6 822.3ZM716.3 737 715.2 743.7 713.1 743.5 714.6 736.9ZM713.8 749.2 712 755.8 709.6 755.5 711.7 749ZM712 755.2 709.8 761.7 707.4 761.4 709.9 755ZM709.8 761.2 707.2 767.6 705 767.2 707.8 760.9ZM708.1 767.1 705.2 773.5 701.4 772.7 704.6 766.5ZM702.5 778.7 698.9 784.8 694.5 783.7 698.4 777.7ZM698.5 784.1 694.5 790.1 691.4 789.2 695.6 783.4ZM695.2 789.6 690.9 795.5 686.9 794.2 691.5 788.6ZM691.6 795.1 687 800.7 682 799 687 793.6ZM683.3 805.4 678.1 810.7 671.8 808.2 677.4 803.2ZM673.1 814.8 667.2 819.7 661.3 817 667.4 812.4ZM667.3 819.1 661.2 823.8 655.8 821.2 662.2 816.8ZM711.2 742.7 708.9 749.1 706.5 748.6 709.2 742.3ZM708.7 748.5 706 754.8 704.2 754.4 707.2 748.2ZM706.4 754.3 703.4 760.5 701 759.8 704.3 753.8ZM703.8 760 700.4 766.1 697.4 765.2 701.1 759.3ZM697.6 771.1 693.6 776.9 689.5 775.4 693.9 769.9ZM689.8 781.5 685.1 787 680.9 785.2 685.9 780ZM685.2 786.4 680.2 791.6 676.4 789.9 681.7 784.9ZM680.4 791.1 675 796.1 671.6 794.5 677.1 789.6ZM676.4 796.1 670.8 801 665.4 798.2 671.3 793.6ZM666 804.8 659.8 809.2 653.9 805.8 660.3 801.7ZM659.3 808.3 652.8 812.4 648.8 809.9 655.5 806.1ZM653.8 812.3 647.1 816.2 642.1 812.9 649 809.3ZM709.7 736.1 706.9 742.3 705 741.7 708.1 735.6ZM704.2 747.3 700.7 753.3 698.4 752.4 702.2 746.6ZM700.9 752.7 697.1 758.5 694.8 757.6 698.9 751.9ZM697.2 757.9 693.1 763.5 691 762.6 695.4 757.2ZM694 763.3 689.6 768.8 686.1 767.1 690.9 761.9ZM685.7 773.1 680.6 778.2 676.6 776 681.9 771.2ZM680.4 777.4 675 782.2 672.2 780.6 677.8 776ZM675.8 782 670.1 786.6 666.5 784.4 672.4 780ZM670.9 786.4 665 790.7 660.6 787.9 666.8 783.9ZM660.2 794.4 653.8 798.3 648.4 794.4 655 790.8ZM647.9 801.1 641 804.4 635.9 800.3 643 797.3ZM641.2 803.8 634 806.8 629.6 803 636.9 800.3ZM706.5 735 703 740.9 701.1 740 705 734.4ZM699.6 745.5 695.4 751 693.3 749.8 697.8 744.6ZM695.7 750.5 691.1 755.7 689 754.5 693.8 749.5ZM691.3 755.2 686.5 760.2 684.6 759.1 689.6 754.2ZM687.5 760.1 682.4 765 679.1 762.9 684.5 758.3ZM677.9 768.9 672.3 773.3 668.5 770.6 674.5 766.5ZM672.1 772.5 666.2 776.6 663.5 774.6 669.7 770.7ZM666.9 776.4 660.7 780.3 657.5 777.7 663.9 774.1ZM661.6 780.2 655.1 783.9 651.1 780.5 657.8 777.2ZM649.9 786.9 643 789.9 638.2 785.4 645.2 782.7ZM636.8 791.9 629.5 794.4 625 789.8 632.5 787.7ZM629.9 793.9 622.4 796.1 618.3 791.7 626 789.9ZM703.4 733.5 699.1 738.9 697.7 738 702.3 732.8ZM695.4 743.2 690.6 748.2 688.3 746.6 693.5 741.9ZM686.3 752 680.9 756.5 678.2 754.4 683.9 750.3ZM680.9 755.9 675.2 760 673.2 758.3 679.1 754.4ZM675.8 759.7 669.8 763.7 667.5 761.6 673.6 757.9ZM670.7 763.6 664.5 767.3 661.3 764.4 667.7 761ZM659.3 770.3 652.7 773.4 648.9 769.5 655.7 766.8ZM646.8 775.5 639.7 778 636.2 774 643.4 771.9ZM640.2 777.7 633 779.9 629.6 775.8 637 774ZM627.3 781.9 619.7 783.5 615.4 777.7 623 776.5ZM700.5 731.7 695.5 736.4 694.5 735.5 699.6 731ZM696 736 690.7 740.5 689.5 739.5 694.9 735.1ZM691.4 740.3 686 744.7 684 742.9 689.7 738.9ZM681.3 748.1 675.3 751.9 672.9 749.3 679 745.9ZM670 754.5 663.6 757.7 661.2 755.1 667.8 752.2ZM664.1 757.5 657.5 760.4 655 757.4 661.8 754.8ZM652.2 762.8 645.2 765.2 641.9 760.8 649 758.9ZM639.1 766.6 631.8 768.3 628.6 763.5 636 762.3ZM632.1 767.6 624.6 768.9 622.1 765 629.6 764ZM698.2 729.7 692.7 733.9 691.3 732.4 697.1 728.6ZM687.9 737 681.9 740.6 680.2 738.7 686.4 735.4ZM682.2 740.1 676 743.4 674.6 741.7 680.9 738.6ZM676.5 743.1 670.1 746.1 668.6 744.2 675.1 741.4ZM670.9 746.2 664.3 748.9 662.2 745.9 668.9 743.6ZM658.8 751 651.9 753.1 649.3 749.2 656.4 747.5ZM645.7 754.2 638.5 755.6 636.3 751.8 643.6 750.7ZM639.2 755.5 631.8 756.6 629.5 752.4 636.9 751.6ZM695.9 727.2 689.8 730.6 688.8 729.3 695 726.1ZM690.3 730.3 684.1 733.5 683 731.9 689.4 729.1ZM678.9 736 672.4 738.6 670.7 735.9 677.5 733.8ZM666.8 740.4 659.9 742.3 658.1 739 665.1 737.5ZM660.2 741.7 653.2 743.2 651.9 740.6 659 739.4ZM653.8 743.1 646.7 744.3 645.2 741.3 652.4 740.4ZM647.5 744.6 640.2 745.5 638.4 741.3 645.7 740.8ZM634.2 746.2 626.8 746.4 624.7 741 632.2 741.2ZM620.4 745.8 612.8 745.3 611.2 740 618.7 740.9ZM613.5 745.2 605.9 744.3 604.3 739 611.9 740.2ZM599.8 743.9 592.1 742.3 590.4 734.9 597.9 737ZM693.9 724.5 687.5 727.1 686.8 725.9 693.3 723.5ZM688 726.9 681.4 729.2 680.7 727.8 687.4 725.7ZM682.1 729.3 675.4 731.3 674.3 729 681.1 727.3ZM669.8 732.8 662.8 734.2 661.5 731 668.5 730ZM656.8 734.8 649.6 735.5 648.5 732.2 655.7 731.9ZM650.3 735.5 643 735.8 641.8 732.1 649.1 732.1ZM637.1 736.2 629.7 735.8 628.3 730.6 635.7 731.4ZM623.5 735 616.1 734 614.9 728.4 622.3 729.9ZM616.6 733.4 609.2 731.9 608.4 727.4 615.7 729.2ZM609.8 732 602.4 730.1 601.7 725.5 609 727.7ZM603.2 731.2 595.8 729 594.9 722.2 602.2 724.8ZM692.5 721.8 685.7 723.7 685 721.9 691.9 720.3ZM680 724.8 673.1 726 672.4 723.9 679.4 723ZM673.7 726 666.7 726.8 665.9 724.3 673 723.8ZM660.9 727.5 653.7 727.7 652.8 723.9 660 724.1ZM647.7 727.4 640.5 726.8 639.7 722.7 646.9 723.6ZM641 726.5 633.7 725.5 633.2 721.9 640.4 723.2ZM634.4 725.5 627.1 724.2 626.6 720.6 633.8 722.2ZM627.8 725.1 620.6 723.4 620 718 627.2 720ZM691.2 718.5 684.3 719.5 684 718.3 690.9 717.5ZM684.9 719.5 677.9 720.2 677.5 718.4 684.6 718.1ZM678.6 720.3 671.5 720.7 671.1 718.3 678.1 718.3ZM665.7 720.9 658.6 720.5 658.1 717 665.2 717.8ZM652.7 719.8 645.5 718.7 645.2 714.9 652.3 716.3ZM646.1 718.5 639 717 638.8 713.6 645.9 715.4ZM639.6 717 632.5 715.1 632.4 711.9 639.4 714ZM633.2 716.1 626.1 714 626.1 708.8 633 711.3ZM620.4 712 613.4 709.1 613.8 703.1 620.5 706.4ZM601.7 702.9 595 699 595.9 692.8 602.3 697ZM684.1 715.8 677.1 715.7 676.9 713.4 683.9 713.9ZM671.3 715.2 664.3 714.4 664.2 711.5 671.1 712.7ZM664.8 714.1 657.8 712.9 657.8 710.4 664.8 712ZM658.4 713 651.5 711.4 651.5 708.7 658.4 710.6ZM652.1 712 645.1 710.1 645.3 706.1 652.1 708.4ZM639.4 708.3 632.6 705.7 633.1 700.8 639.8 703.8ZM627.1 702.8 620.5 699.5 621.2 694.8 627.7 698.5ZM621.1 699.8 614.6 696.1 615.5 691.2 621.8 695.1ZM609.2 693.4 603 689.1 604.6 682.4 610.6 687ZM598 685 592.1 680 594.2 673.2 599.8 678.5ZM683.8 711.8 676.8 710.9 676.9 708.5 683.8 709.9ZM671.1 709.6 664.3 707.9 664.5 705.1 671.3 707.2ZM664.9 707.9 658.1 705.8 658.4 703.2 665.1 705.5ZM658.7 705.8 652 703.3 652.3 700.9 658.9 703.6ZM652.5 704.2 645.8 701.4 646.6 697.4 653 700.5ZM640.4 698.9 634 695.5 635.1 690.7 641.3 694.5ZM634.7 695 628.5 691.2 629.3 687.9 635.4 691.9ZM628.9 691.9 622.8 687.7 624.1 683.5 630 687.9ZM623.3 688.4 617.3 684 618.9 678.9 624.7 683.6ZM612.4 680.5 606.7 675.4 609.2 668.9 614.5 674.3ZM602.4 670.6 597.2 664.9 600 658.7 604.9 664.6ZM684 707.7 677.2 705.8 677.6 703.9 684.2 706ZM677.8 706 671.1 703.8 671.6 701.6 678.1 704.1ZM665.6 701.9 659.1 699.1 660 695.7 666.3 699ZM653.9 696.4 647.7 692.9 648.9 689 654.9 692.9ZM648.4 692.6 642.3 688.7 643.3 685.8 649.2 689.9ZM642.8 689.2 636.9 685 638.2 681.6 643.9 686ZM637.2 685.8 631.5 681.3 633.4 676.7 638.8 681.5ZM626.8 677.6 621.4 672.5 624.1 666.9 629.1 672.3ZM617.4 667.6 612.5 661.9 615.3 656.7 619.9 662.6ZM613 662.2 608.3 656.2 611.2 651.2 615.6 657.4ZM690.7 705.9 684.1 703.6 684.6 701.8 691.1 704.4ZM684.7 703.5 678.3 700.9 678.7 699.4 685.1 702.3ZM678.8 701.2 672.5 698.2 673.1 696.3 679.3 699.5ZM673 698.7 666.8 695.4 667.7 692.7 673.7 696.4ZM661.7 692.5 655.8 688.6 657.3 685 663 689.3ZM651.1 684.8 645.6 680.3 647.4 676.6 652.7 681.5ZM646.2 680.5 640.9 675.6 642.7 672.1 647.7 677.3ZM641.5 675.7 636.4 670.5 638.1 667.5 642.9 672.9ZM636.4 671.8 631.5 666.4 634.4 661.5 639 667.2ZM627.6 661.6 623.2 655.6 626.8 650.4 630.8 656.6ZM624.2 655.3 620.1 649 622.7 645.3 626.5 651.8ZM620.2 649.8 616.4 643.3 619.7 638.9 623.2 645.6ZM685.9 700 679.8 696.6 680.7 694.5 686.6 698.3ZM680.4 696.6 674.5 692.8 675.4 691.2 681.1 695.2ZM675 693.2 669.3 689.2 670.4 687.2 675.9 691.5ZM669.7 689.8 664.1 685.5 665.7 682.7 671 687.3ZM659.6 681.8 654.5 676.9 656.8 673.2 661.6 678.5ZM650.6 672.3 646 666.8 648.4 663.3 652.8 669ZM646.4 667.2 642 661.4 644.6 657.9 648.7 663.9ZM692.9 699.8 687.1 695.9 688 694.4 693.6 698.5ZM682.4 692.6 677 688.2 678.5 685.9 683.7 690.6ZM672.8 684.2 667.9 679.2 669.7 676.8 674.4 682ZM668.4 679.5 663.7 674.3 665.6 671.9 670 677.3ZM664.3 674.5 659.9 668.9 661.6 666.9 665.8 672.6ZM659.8 670 655.6 664.3 658.6 660.8 662.5 666.8ZM652.4 659.3 648.7 653.1 652.4 649.3 655.6 655.7ZM694.6 696.9 689.4 692.4 690.3 691.1 695.3 695.9ZM689.8 692.8 684.8 688 686 686.5 690.8 691.5ZM680.7 684 676.2 678.8 678.3 676.4 682.5 682ZM672.7 674.1 668.7 668.3 671.3 665.8 674.9 671.7ZM669.3 668.5 665.7 662.5 667.9 660.4 671.3 666.6ZM666 663 662.7 656.7 665 654.6 668.1 661ZM662.5 657.7 659.4 651.3 663 648.2 665.8 654.8ZM657 645.9 654.5 639.1 659.1 635.6 661.1 642.5ZM696.6 694.3 692 689.2 693.1 688.1 697.5 693.4ZM692.3 689.7 688 684.4 689.5 682.9 693.6 688.5ZM684.5 679.9 680.7 674.1 683.1 672 686.5 678ZM677.9 669 674.7 662.8 677.5 660.6 680.3 667ZM675.2 663.2 672.3 656.7 674.9 654.8 677.5 661.4ZM672.7 657.2 670.2 650.5 672.7 648.8 674.9 655.5ZM669.8 651.6 667.5 644.8 671.7 642.1 673.5 649ZM665.9 639.1 664.3 632.1 669.3 629.2 670.4 636.3ZM665.3 632.2 664.1 625 667.6 623 668.5 630.3ZM663.8 625.8 663 618.5 667.5 616.2 668 623.5ZM662.7 619.3 662.2 611.9 667.8 609.2 667.9 616.6ZM661.6 605.9 661.8 598.3 669.1 595.2 668.4 602.8ZM695.2 687 691.6 681.2 693.5 679.7 696.8 685.8ZM689 676.1 685.9 669.9 688.2 668.4 690.9 674.7ZM686.3 670.4 683.6 664 686 662.5 688.3 669ZM681.3 658.7 679.2 652 683 649.9 684.6 656.8ZM677.9 646.3 676.5 639.4 680.9 637.2 681.8 644.2ZM677.2 639.6 676.3 632.5 679.7 631 680.3 638.1ZM676.2 633.2 675.6 626 679.5 624.3 679.8 631.6ZM675.1 626.9 674.8 619.6 680.2 617.5 680.1 624.8ZM674.6 613.6 675 606.2 681.8 603.9 680.9 611.3ZM698.6 684.5 695.7 678.3 697.7 677.2 700.1 683.6ZM696.2 678.7 693.7 672.3 695.4 671.4 697.6 677.9ZM693.9 672.9 691.8 666.3 693.7 665.4 695.6 672ZM691.6 667.1 689.7 660.4 692.8 659 694.2 665.8ZM688.4 654.8 687.2 647.9 691.2 646.3 691.9 653.3ZM686.9 642 686.5 634.9 690.4 633.5 690.4 640.7ZM686.4 635.6 686.3 628.4 690.8 627 690.5 634.1ZM702.1 682.6 700.1 676.1 702.3 675.1 703.9 681.8ZM700.6 676.4 699 669.8 700.6 669.2 702 675.9ZM698.9 670.5 697.6 663.7 700 662.9 700.9 669.7ZM697.6 664.3 696.6 657.5 699.6 656.5 700.2 663.4ZM695.8 651.9 695.5 644.9 699.8 643.7 699.6 650.7ZM707.5 687 706 680.4 707.5 679.9 708.7 686.6ZM706.2 680.9 705.1 674.2 706.6 673.8 707.5 680.5ZM704.8 674.9 704 668.1 706.7 667.4 707.1 674.3ZM703.6 662.4 703.5 655.5 707 654.9 706.6 661.8ZM704.1 656 704.4 649 706.9 648.6 706.3 655.6ZM704.1 649.7 704.8 642.7 708.1 642.3 707.1 649.2ZM704.5 643.4 705.5 636.4 709.6 635.9 708.2 642.8ZM710.6 686.1 709.9 679.3 711.8 679 712 685.8ZM709.6 673.7 709.6 666.9 712.4 666.6 712 673.4ZM710.2 661.2 711 654.3 714.1 654.1 712.9 660.9ZM711 654.9 712.2 648.1 715.4 647.9 713.9 654.7ZM713.1 642.4 715 635.6 719.7 635.7 717.4 642.3ZM713.8 685.6 714 678.8 716.1 678.7 715.4 685.4ZM714.6 673.2 715.5 666.4 718.1 666.4 716.8 673.1ZM715.7 667 717.1 660.2 719.4 660.3 717.7 667ZM717 660.8 718.8 654.1 721.2 654.2 719.1 660.9ZM718.1 654.7 720.1 648 723.9 648.3 721.5 654.8ZM722 642.5 724.8 636 729.4 636.6 726.3 643ZM730.9 625 734.7 618.8 739.6 619.8 735.5 625.8ZM737.7 613.7 742.2 607.8 748.7 609.5 743.8 615.1ZM746.5 603.1 751.7 597.5 758.1 599.6 752.6 604.8ZM751.9 598.2 757.4 592.8 762.8 594.7 757 599.8ZM717.3 685.4 718.4 678.7 720.1 678.8 718.6 685.5ZM719.4 673.2 721.2 666.6 724 666.9 721.8 673.4ZM723.1 661.2 725.6 654.7 728.9 655.3 726 661.6ZM725.8 655.3 728.7 649 731.5 649.6 728.3 655.8ZM728.5 649.6 731.8 643.3 734.7 644 731.2 650.1ZM730.9 643.7 734.5 637.6 738.9 638.7 734.9 644.7ZM737.6 632.6 741.9 626.8 747.1 628.4 742.5 634ZM746.2 622.2 751.1 616.7 755.9 618.5 750.7 623.8ZM750.6 617.2 755.9 611.9 761 613.9 755.5 619ZM720.5 685.7 722.4 679.2 724.4 679.5 722 685.9ZM724.3 673.8 727 667.5 729.6 668.2 726.6 674.3ZM727.2 668.1 730.3 661.9 732.2 662.5 728.9 668.6ZM729.8 662.4 733.1 656.3 735.8 657.2 732.1 663.1ZM732.7 656.8 736.4 650.9 739.7 652 735.6 657.7ZM739.4 646 743.8 640.3 748.2 642.1 743.5 647.4ZM747.9 635.9 752.9 630.6 757.3 632.6 752.1 637.6ZM752.8 631.2 758.1 626.2 762.1 628.1 756.5 632.9ZM757.9 626.7 763.5 621.9 767.1 623.8 761.3 628.4ZM723.9 686.4 726.7 680.1 728.3 680.7 725.2 686.8ZM726.4 680.7 729.6 674.6 731.4 675.3 728 681.2ZM732.2 669.6 736 663.8 738.9 665 734.8 670.6ZM739.5 659.1 743.9 653.7 747.2 655.3 742.5 660.5ZM743.9 654.3 748.7 649.1 751.4 650.5 746.4 655.5ZM748.3 649.5 753.4 644.5 756.2 646.1 750.9 650.9ZM752.4 644.7 757.7 639.8 761.9 642.2 756.3 646.8ZM762.2 635.9 768.1 631.5 773 634.7 766.9 638.7ZM726.9 687.4 730.4 681.5 732.3 682.4 728.4 688ZM733.8 676.9 738 671.4 740.1 672.5 735.6 677.8ZM737.7 671.9 742.2 666.6 744.4 667.9 739.7 673ZM745.9 662.3 751 657.4 754.3 659.5 748.9 664.1ZM755.5 653.6 761.2 649.1 764.8 651.7 758.9 655.8ZM761.2 649.9 767.2 645.7 769.9 647.8 763.8 651.7ZM766.6 646 772.8 642.2 775.8 644.6 769.4 648.2ZM771.8 642.1 778.2 638.5 782.3 642 775.7 645.3ZM783.5 635.6 790.4 632.5 795.2 637 788.2 639.7ZM796.7 630.5 804 628.1 808.3 632.5 800.8 634.6ZM803.4 628.4 810.9 626.2 815.1 630.8 807.5 632.6ZM730.1 689 734.5 683.6 735.6 684.3 731 689.5ZM733.8 683.9 738.4 678.7 740.3 680.1 735.4 684.9ZM742.4 674.7 747.6 669.9 750 671.8 744.6 676.2ZM747.5 670.6 753 666.2 754.8 667.6 749.1 671.8ZM752.3 666.5 758.1 662.3 760.3 664.2 754.4 668.1ZM757.3 662.5 763.3 658.5 766.2 661 760 664.7ZM768.2 655.3 774.6 651.8 778.3 655.4 771.7 658.4ZM780.3 649.5 787.2 646.6 790.7 650.4 783.7 652.9ZM786.8 647.1 793.9 644.6 797 648.2 789.8 650.4ZM793.5 645.1 800.8 643 803.4 646.2 796.1 648ZM799.4 642.3 806.8 640.4 811 645.7 803.5 647.2ZM732.7 690.6 737.6 685.8 739.1 687 733.9 691.6ZM741.9 682 747.4 677.7 749.4 679.5 743.7 683.5ZM747.3 678.4 753.1 674.4 754.5 675.7 748.5 679.5ZM752.4 674.5 758.3 670.8 760.3 672.8 754.1 676.3ZM757.7 671 763.9 667.5 766.2 670 759.8 673.2ZM769 664.7 775.6 661.7 778.6 665.3 771.8 667.9ZM781.4 659.7 788.4 657.4 791.3 661.4 784.2 663.3ZM788.1 658 795.2 656.1 797.7 659.5 790.4 661.2ZM735.2 692.7 740.7 688.5 742.1 690 736.3 693.8ZM745.6 685.5 751.6 681.9 753.1 683.6 746.9 686.9ZM751.1 682.1 757.3 678.8 759 680.9 752.6 683.9ZM762.4 676.1 769 673.4 771.3 676.6 764.5 678.9ZM774.7 671.5 781.6 669.4 784 673.1 776.9 674.8ZM781.3 670 788.4 668.3 790.3 671.3 783.1 672.8ZM787.8 668.5 795.1 667.1 796.9 670.3 789.6 671.4ZM794.1 666.6 801.4 665.5 804 670.3 796.6 671ZM743 691.9 749.2 688.8 750.5 690.7 744.1 693.5ZM748.9 689.4 755.3 686.6 756.2 688 749.7 690.6ZM754.6 686.6 761.2 684.1 762.5 686.2 755.8 688.4ZM760.6 684.2 767.3 682 768.8 684.6 762 686.5ZM772.9 680.2 779.9 678.6 781.8 682.4 774.7 683.6ZM785.9 677.8 793.2 676.9 795 681 787.7 681.5ZM792.7 677.3 800.1 676.8 801.6 680.6 794.2 680.7ZM799.5 677.1 807 677 808.3 680.5 800.9 680.3ZM806 676.1 813.5 676.3 815.5 681.9 808 681.3ZM819.7 676.7 827.4 677.5 829.2 684 821.7 682.7ZM827.1 678.6 834.7 679.9 835.8 684.3 828.3 682.7ZM833.9 679.3 841.5 680.9 842.8 686.7 835.3 684.7ZM745.3 695.4 751.9 693 752.8 694.8 746.1 696.8ZM751.3 693.3 758.1 691.2 759 693.2 752.2 694.9ZM763.6 689.6 770.6 688.2 771.9 691.4 764.9 692.4ZM776.5 687.4 783.7 686.7 785 690.5 777.8 690.8ZM783.2 687.3 790.5 687 791.5 689.9 784.2 689.9ZM789.8 686.9 797.2 686.9 798.2 690.4 790.9 690ZM796.4 686.4 803.7 686.8 805 691.6 797.7 690.8ZM809.8 687.1 817.2 688.2 818.5 694.2 811.1 692.7ZM823.5 689.9 830.9 691.7 831.8 697.5 824.5 695.3ZM747.1 698.9 753.9 697.3 754.7 699.5 747.8 700.7ZM759.6 696.3 766.7 695.4 767.5 698.3 760.5 698.8ZM766.2 695.9 773.3 695.5 773.9 697.7 766.8 697.9ZM772.7 695.4 779.8 695.2 780.5 698 773.3 697.8ZM779.1 694.9 786.3 695.1 787.1 698.9 779.9 698.3ZM792.3 695.3 799.5 696.2 800.3 701.2 793.1 699.8ZM805.6 697.6 812.9 699.2 813.4 704.1 806.2 702.1ZM812.2 699.3 819.5 701.3 819.8 706.1 812.7 703.8ZM825.4 702.6 832.5 705.3 832.7 712 825.7 709ZM838.4 707.9 845.4 711.3 845.1 718.6 838.3 714.8ZM742.2 703.9 749.1 702.9 749.4 704.2 742.5 704.9ZM748.4 702.7 755.4 702 755.9 704.2 748.9 704.5ZM761.2 701.6 768.3 701.6 768.8 704.6 761.7 704.2ZM774.2 702.2 781.4 702.9 781.7 706 774.6 704.9ZM780.7 702.7 787.9 703.8 788.2 707.4 781.1 706ZM793.7 704.6 800.8 706.4 801 711.4 794 709.2ZM806.6 708.4 813.6 710.9 813.5 716.1 806.7 713.3ZM813 711.2 819.9 714 819.7 718.5 812.9 715.3ZM819.3 713.9 826.2 717.2 825.8 721.5 819.1 718ZM825.6 716 832.4 719.5 831.7 726 825.1 722.1ZM837.8 722.6 844.3 726.8 843.1 734.3 836.9 729.7ZM742.9 706.8 749.9 706.6 750.1 708.5 743.1 708.3ZM749.3 706.9 756.3 707.1 756.5 708.6 749.5 708.2ZM755.7 707 762.7 707.5 762.9 709.5 755.9 708.7ZM762.1 707.2 769.1 708.1 769.2 710.9 762.3 709.6ZM774.9 708.9 781.9 710.4 781.9 714.3 775 712.4ZM787.7 712.3 794.5 714.6 794.2 718.6 787.5 715.9ZM793.9 714.6 800.7 717.2 800.3 721.1 793.7 718.1ZM800.1 717.4 806.8 720.4 806.4 723.7 799.8 720.4ZM806.3 719.1 812.9 722.5 812.1 728 805.7 724.3ZM749.6 710.6 756.6 711.6 756.5 713.9 749.6 712.5ZM762.3 712.7 769.1 714.4 768.9 717.4 762.1 715.3ZM768.5 714.7 775.3 716.8 775 719.1 768.3 716.7ZM774.7 716.5 781.4 718.9 781 721.7 774.4 719ZM780.9 718.3 787.5 721.1 786.9 724.9 780.4 721.8ZM793 723.4 799.4 726.8 798.3 731.7 792.1 727.9ZM804.5 730.3 810.6 734.4 809.3 739.2 803.4 734.7ZM810.1 734.2 816 738.7 814.5 743.3 808.8 738.6Z" fill="#f2e432"/>
<path d="M749.4 715 756.1 716.9 755.9 718.2 749.2 716.1ZM761.6 718.8 768.2 721.4 767.8 723 761.3 720.2ZM790.5 733.7 796.3 737.9 795.4 740.3 789.7 735.9ZM801.1 741.5 806.6 746.3 805.2 749.5 799.9 744.5ZM742.6 716.8 749.2 719.1 748.9 720.3 742.4 717.7ZM754.5 721.4 760.8 724.5 760.4 725.8 754.2 722.6ZM782 738.2 787.5 742.9 786.4 745 781.1 740.2ZM791.9 746.8 797 752 795.4 754.8 790.5 749.4ZM805.1 761.8 809.5 767.8 807.3 771 803.2 764.8ZM812.7 773.2 816.5 779.8 814.2 782.8 810.6 776.2ZM741.7 719.9 747.9 723 747.5 724.1 741.4 720.7ZM752.9 725.9 758.8 729.7 758.1 731.1 752.4 727.1ZM778 746 782.8 751.2 781.5 753.2 776.8 747.8ZM786.7 755.6 791.1 761.4 789.1 764 785 758.1ZM797.9 772.2 801.4 778.7 798.9 781.5 795.7 774.9ZM745.7 726.4 751.2 730.6 750.5 731.7 745.1 727.4ZM755.6 734.3 760.7 739.1 759.8 740.4 754.8 735.5ZM776.8 758.4 780.6 764.5 778.8 766.4 775.2 760.3ZM783.7 769.5 787 776 784.5 778.4 781.4 771.8ZM743.5 729.8 748.4 734.6 747.6 735.7 742.8 730.7ZM752.3 738.8 756.8 744.2 755.6 745.4 751.3 740ZM770.2 765.4 773.2 771.8 771.2 773.5 768.4 767ZM736.7 728.2 741.3 733.3 740.4 734.2 736 728.9ZM748.5 742.9 752.2 748.8 750.8 750 747.3 744ZM755 753.8 758.1 760.1 756.5 761.3 753.6 755ZM770.3 817.2 770.1 824.8 765.9 826.5 766.4 819ZM734.3 730.5 738.1 736.2 737.3 736.9 733.6 731.1ZM749.2 758.1 751.5 764.7 749.7 765.8 747.6 759.1ZM753.2 770.2 754.9 777.1 752.4 778.4 751.1 771.5ZM756.8 789.3 757.4 796.5 754.2 797.9 753.9 790.7ZM757.4 802.7 757.3 810 754 811.2 754.4 803.9ZM734.5 738.1 737.3 744.3 736.2 744.9 733.6 738.6ZM744.2 767.9 745.3 774.8 743.1 775.7 742.3 768.8ZM746 780.6 746.3 787.7 743.6 788.7 743.5 781.6ZM744.3 813.5 742.8 820.8 739.2 821.6 740.9 814.3ZM732.7 746 734.3 752.7 732.9 753.2 731.5 746.5ZM736.9 777.2 736.7 784.3 734.1 784.9 734.6 777.8ZM736.2 790.1 735.3 797.2 732.4 797.8 733.6 790.7ZM728.6 822.5 725.9 829.5 722 829.8 725 822.8ZM729.1 760.1 729.1 767 727.2 767.4 727.4 760.5ZM728.9 772.8 728.1 779.7 725.7 780.1 726.7 773.1ZM722.2 804.5 719.6 811.4 716.3 811.4 719.1 804.6ZM723.3 748.8 723.1 755.6 721.6 755.8 722 748.9ZM722.7 761.3 721.9 768.1 719.8 768.3 720.9 761.4ZM719.5 780 717.5 786.8 714.6 786.8 716.8 780.1ZM715.3 792.4 712.6 799 709.8 798.8 712.7 792.3ZM716.1 761.6 714.4 768.3 712.5 768.2 714.5 761.6ZM712.8 773.8 710.3 780.4 707.7 780.1 710.4 773.6ZM705 791.6 701.5 797.8 698.4 797.3 702.1 791.1ZM698.1 802.9 693.9 808.9 690.6 808.2 695.1 802.3ZM714.8 743.1 713.3 749.7 712 749.6 713.7 743ZM704.6 772.8 701.2 779 699.1 778.5 702.6 772.4ZM686.5 799.9 681.5 805.4 678.3 804.2 683.4 798.9ZM677.1 809.8 671.5 814.8 667.9 813.3 673.7 808.4ZM712.5 736.7 710.5 743.2 709.5 743 711.7 736.5ZM700.2 765.4 696.4 771.4 694.4 770.7 698.3 764.9ZM693 776.1 688.6 781.7 686.2 780.8 690.8 775.3ZM670 799.9 664.1 804.5 661.1 802.8 667.2 798.5ZM706.7 741.6 703.5 747.7 702.3 747.3 705.7 741.3ZM689.2 767.9 684.3 773.1 682.4 772.1 687.3 767.1ZM664.7 789.9 658.5 793.9 655.6 792 662 788.1ZM653.1 797.1 646.3 800.6 643.3 798.3 650.2 795ZM702.9 740.2 698.9 745.8 697.7 745.2 701.9 739.7ZM682 764.1 676.6 768.7 674.8 767.5 680.3 763ZM654.9 782.9 648.2 786.2 645.7 784 652.5 780.9ZM642.5 788.7 635.4 791.4 632.6 788.7 639.8 786.2ZM699.3 738.3 694.6 743.4 693.4 742.6 698.3 737.7ZM690.5 747.4 685.3 752 683.9 751.1 689.3 746.6ZM664.4 766.4 657.9 769.8 656 767.9 662.5 764.7ZM652.5 772.3 645.6 775.1 643.3 772.7 650.3 770.1ZM633.2 779.2 625.8 781 623.2 777.7 630.7 776.2ZM619.3 782 611.6 783.1 609.3 779.9 617 779ZM686 743.9 680.2 747.9 679 746.8 684.9 743ZM675.3 751.1 669.1 754.5 667.5 752.8 673.9 749.6ZM657.7 759.7 650.9 762.2 649.1 759.9 656 757.6ZM645 764 637.8 765.9 636 763.4 643.3 761.7ZM692.8 733.2 687 737 686.2 736.1 692.1 732.4ZM664.4 748 657.6 750.4 656.3 748.5 663.2 746.4ZM651.9 752.2 644.8 753.9 643.3 751.3 650.4 749.9ZM684.5 733 678.1 735.8 677.2 734.4 683.7 731.9ZM672.5 737.7 665.8 739.9 664.9 738.3 671.7 736.4ZM640.4 744.6 633.1 745 632 742.4 639.4 742.2ZM627 745.2 619.5 745 618.3 741.7 625.8 742.2ZM606.3 743.7 598.7 742.4 597.6 738.2 605.2 739.8ZM675.7 730.7 668.9 732.3 668.2 730.8 675.1 729.4ZM663.1 733.5 656 734.5 655.2 732.3 662.3 731.6ZM643.5 735.2 636.1 735.1 635.3 732.4 642.6 732.7ZM630 734.6 622.6 733.8 621.9 730.9 629.3 731.9ZM686.2 723.2 679.3 724.7 678.8 723.3 685.8 722.1ZM667.2 726.3 660 726.8 659.5 724.9 666.6 724.7ZM654.1 726.8 646.9 726.5 646.4 724.3 653.6 724.8ZM621.1 722.4 613.8 720.3 613.6 717.1 620.7 719.4ZM672.1 720.2 665 720.1 664.7 718.4 671.8 718.7ZM659.1 719.8 652 719 651.7 716.9 658.8 717.9ZM626.7 713 619.8 710.4 619.8 707.4 626.7 710.2ZM595.7 698.3 589.3 694 590 689.8 596.2 694.3ZM690.5 715.3 683.5 715.4 683.3 714.3 690.3 714.4ZM677.7 715.2 670.6 714.6 670.5 713.2 677.5 714ZM645.8 709.4 638.9 707 639.1 704.6 645.9 707.2ZM633.3 705 626.6 701.9 627 698.8 633.6 702.1ZM615.3 695.7 608.9 691.7 609.7 688 615.9 692.2ZM603.9 687.8 597.9 683.1 598.9 679.4 604.7 684.4ZM690.1 712 683.2 711.3 683.2 710.2 690.1 711.2ZM677.4 710.4 670.5 709 670.6 707.5 677.5 709.2ZM646.6 700.7 640.1 697.6 640.5 695.3 646.9 698.6ZM618.1 683.4 612.3 678.6 613.5 675.2 619.1 680.2ZM607.8 674.4 602.4 669 603.9 665.3 609.1 670.9ZM690.2 708.8 683.4 707.3 683.6 706.1 690.3 707.9ZM671.8 703.7 665.2 701.1 665.6 699.3 672.1 702.1ZM659.9 698.6 653.6 695.3 654.1 693.4 660.3 696.8ZM632.4 680.7 626.9 675.9 628.1 673.1 633.4 678.1ZM622.4 671.7 617.3 666.2 619 662.9 623.9 668.6ZM609 656.1 604.7 649.8 607.1 645.8 611.2 652.3ZM667.5 695.1 661.4 691.5 662.1 689.7 668 693.6ZM656.6 688.2 650.9 683.8 651.9 681.7 657.4 686.2ZM632.6 665.7 628 659.9 629.7 657.2 634.1 663.1ZM691.7 702.5 685.5 699.3 685.9 698.4 692 701.7ZM664.9 685.3 659.6 680.6 660.7 678.8 665.8 683.7ZM655.4 676.5 650.5 671.3 652 669.1 656.7 674.5ZM642.7 661.5 638.6 655.5 640.8 652.7 644.6 658.9ZM687.8 696 682.2 691.8 682.9 690.7 688.3 695.1ZM677.8 688.1 672.7 683.4 673.7 681.9 678.6 686.8ZM656.6 664 652.8 657.9 654.6 656 658.2 662.2ZM685.4 688.2 680.7 683.1 681.7 681.9 686.2 687.2ZM677 678.7 672.8 673.1 674.1 671.7 678.1 677.5ZM660.4 651.1 657.7 644.5 659.9 642.7 662.4 649.4ZM655.5 639 653.5 632 656.5 629.8 658.3 636.9ZM688.6 684.6 684.6 679 685.7 677.9 689.6 683.7ZM681.5 674.1 678.1 668.1 679.6 666.8 682.8 673ZM668.6 644.8 666.8 637.8 669.2 636.3 670.8 643.3ZM663.3 612 663.2 604.5 666.9 602.8 666.7 610.3ZM699.1 691.9 695.3 686.2 696.1 685.5 699.8 691.3ZM692.3 681.4 689 675.3 690.3 674.4 693.4 680.6ZM684.1 664.3 681.8 657.8 683.8 656.5 685.9 663.2ZM680.3 652.1 678.7 645.2 680.8 644.1 682.2 651ZM676 619.8 676.1 612.4 679.4 611.2 679 618.5ZM676.4 606.3 677.3 598.9 681.4 597.6 680.2 605ZM701.8 689.9 698.7 683.8 699.6 683.2 702.5 689.4ZM690.5 660.7 689.1 653.9 691 653 692.2 659.9ZM688 648.2 687.3 641.2 690 640.2 690.4 647.2ZM704.6 688.2 702.3 681.8 703.3 681.4 705.4 687.9ZM697.2 657.9 696.6 651 698.8 650.3 699.1 657.3ZM696.5 645.2 696.7 638.1 699.2 637.5 698.8 644.6ZM704.7 668.5 704.3 661.7 705.9 661.3 706.1 668.2ZM710.3 679.9 710.1 673.1 711.4 672.9 711.4 679.7ZM710.2 667.4 710.7 660.5 712.5 660.4 711.8 667.2ZM712.5 648.6 714.1 641.8 716.8 641.8 714.9 648.5ZM737.6 594.9 742.4 588.9 746.7 589.8 741.7 595.6ZM714.4 679.3 715.1 672.6 716.4 672.5 715.5 679.3ZM720.8 648.6 723.3 642.1 725.5 642.3 722.8 648.8ZM735.2 619.5 739.4 613.4 742.9 614.3 738.4 620.1ZM743.3 608.6 748.2 602.9 751.8 604 746.7 609.5ZM718.5 679.3 720.1 672.7 721.5 672.8 719.7 679.4ZM721.7 667.2 724 660.7 725.6 661 723.2 667.4ZM735.2 638.4 739.2 632.4 741.7 633.1 737.5 639ZM742.6 627.6 747.2 621.9 750.5 623.1 745.7 628.5ZM722.7 679.8 725.1 673.4 726.3 673.7 723.7 680ZM736.6 651.6 740.7 645.8 743 646.6 738.7 652.2ZM744.4 641.2 749.1 635.7 751.7 636.8 746.8 642.1ZM729.5 675.2 733.1 669.3 734.6 669.9 730.9 675.7ZM736.3 664.5 740.5 658.9 742.2 659.7 737.9 665.2ZM758.2 640.7 763.9 636.2 766.3 637.6 760.5 642ZM768.6 632.5 774.9 628.4 777.9 630.5 771.5 634.3ZM730.5 682.2 734.5 676.6 735.7 677.2 731.5 682.7ZM742.1 667.2 747 662.2 748.8 663.3 743.7 668.2ZM751.3 658.3 756.8 653.7 758.7 654.9 753.1 659.4ZM778.5 639.5 785.2 636.2 787.7 638.4 780.9 641.5ZM790.8 633.7 798 630.9 800.8 633.8 793.6 636.2ZM738.4 679.5 743.4 674.6 744.5 675.4 739.4 680.2ZM763.3 659.3 769.6 655.7 771.4 657.4 765.1 660.8ZM774.9 652.9 781.6 649.8 783.7 652 776.9 654.8ZM737.6 686.5 742.8 682 743.8 682.8 738.3 687.1ZM763.8 668.2 770.2 665.1 771.8 666.9 765.3 669.8ZM775.7 662.8 782.6 660.2 784.3 662.4 777.3 664.7ZM740.5 689.2 746.3 685.3 747.3 686.4 741.3 690ZM757 679.4 763.5 676.5 764.7 678.1 758.1 680.8ZM769 674.4 775.8 672 777.1 673.9 770.2 676ZM737.7 695.4 743.8 692 744.4 692.8 738.2 696ZM767 682.6 773.9 680.8 774.9 682.7 768 684.3ZM779.8 679.6 786.9 678.5 788 680.7 780.8 681.6ZM813.3 677.5 820.9 678.2 821.9 681.3 814.4 680.5ZM739.6 698 746 695.4 746.6 696.4 740 698.8ZM757.6 691.6 764.5 690 765.3 691.7 758.3 693.1ZM770.3 689 777.4 688.1 778.1 689.9 771 690.7ZM803.4 687.7 810.8 688.5 811.5 691.5 804.1 690.5ZM816.9 689.4 824.3 690.9 825 694.5 817.6 692.8ZM741.1 700.9 747.8 699.1 748.2 700.2 741.4 701.8ZM753.5 697.9 760.5 696.8 760.9 698.1 753.9 699.1ZM785.9 695.8 793.1 696.4 793.6 698.9 786.4 698ZM799.1 697.2 806.4 698.5 806.7 701.5 799.5 699.9ZM818.9 701.6 826.1 704 826.3 708 819.2 705.3ZM832 706.6 839 709.8 839 713.5 832.1 710.1ZM754.9 702.5 762 702.2 762.2 703.6 755.2 703.7ZM767.8 702.2 774.9 702.6 775.2 704.7 768.1 704ZM787.3 704.3 794.4 705.8 794.6 708.4 787.5 706.7ZM800.3 707.4 807.3 709.6 807.3 712.5 800.3 710ZM831.7 720.7 838.2 724.6 837.7 728.4 831.3 724.2ZM768.6 708.5 775.6 709.8 775.6 711.7 768.6 710.2ZM781.3 711.1 788.2 713.1 788.1 715.5 781.3 713.3ZM812.2 723.5 818.7 727.2 818.1 730.3 811.8 726.4ZM743.3 710.3 750.2 711 750.2 712.2 743.3 711.3ZM756 712 762.8 713.4 762.8 714.8 755.9 713.2ZM786.9 721.6 793.3 724.8 792.9 727.2 786.5 723.8ZM798.6 727.6 804.9 731.4 804.1 734.4 798 730.3Z" fill="#a8cc3c"/>
<path d="M811.3 749.9 816.4 755.3 814 760.3 809.1 754.6ZM820.7 759.6 825.4 765.5 821.8 771.9 817.5 765.7ZM824.2 766.5 828.6 772.8 826.5 776.3 822.3 769.9ZM616.4 644.3 612.8 637.6 617.1 632.2 620.3 639.1ZM638.3 656.9 634.4 650.7 638.3 645.9 641.8 652.4ZM635.6 650.1 632.1 643.6 634.3 641 637.6 647.6ZM637.6 621.4 636 614 639.4 611.4 640.8 618.9ZM653.1 633 651.3 625.8 655.7 622.8 657.2 630ZM651.4 626.5 649.9 619.2 654.9 616 655.9 623.4ZM648.5 613.4 647.7 605.9 654.5 602 654.8 609.5ZM756.2 612.6 761.8 607.5 765.6 609.2 759.8 614ZM759.9 607.4 765.8 602.5 772.5 605.6 766.4 610.2ZM766.9 603.6 773.1 599 776.8 600.8 770.4 605.2ZM762.1 621.9 768 617.2 773.6 620.3 767.5 624.6ZM773.1 613.5 779.5 609.4 785.7 613.2 779 617ZM773.7 628.3 780.1 624.5 784.6 627.7 777.9 631.2ZM779.6 624.8 786.3 621.2 790.8 624.7 784 628ZM786.3 622 793.3 618.7 796.7 621.4 789.6 624.4ZM791.5 618 798.6 615 804.5 620 797.2 622.6ZM830.3 691.7 837.7 693.9 838.4 699.6 831.1 697.1ZM831.1 751.6 836.3 757.2 833.3 763.9 828.4 758Z" fill="#2e9a3c"/>
<path d="M815.6 755.7 820.5 761.4 818.6 764.9 814 759ZM650.8 619.3 649.7 611.9 653.4 609.7 654.1 617.2ZM768.8 618.3 775 614 778.2 615.8 771.8 619.9ZM780 610.4 786.8 606.5 790.9 609.2 784 612.8ZM837.2 694.4 844.5 697 845 701.6 837.7 698.7Z" fill="#2a48a0"/>
<path d="M817.1 778 820.7 784.7 816.2 790.3 813 783.4ZM802 777 805.4 783.7 800.6 788.9 797.7 782ZM804 784.4 806.9 791.3 804.2 794.1 801.5 787.1ZM790 781 792.7 787.9 788.5 791.6 786.2 784.6ZM791.8 787.9 794.2 794.9 791.1 797.5 789 790.4ZM795.7 801 797.3 808.5 794.1 810.9 792.7 803.5ZM781.3 796.4 782.7 803.7 779.4 805.9 778.2 798.5ZM783.5 809.9 784.2 817.5 780.5 819.6 780.1 812ZM766.5 784 768 791 765.3 792.6 764.1 785.4ZM771 809.9 771.2 817.4 765.5 820 765.8 812.5ZM704.8 816.3 700.8 822.6 694.4 821.6 698.8 815.5ZM699.8 821.9 695.3 828 691.4 827.3 696.1 821.3ZM697.4 827.8 692.7 833.8 685 832.2 690.1 826.4ZM625.2 768.7 617.6 769.7 615.2 765.6 622.8 764.9ZM618.7 770.3 611 771 607.7 765 615.4 764.8ZM610.9 769.6 603.1 769.8 601.2 766.3 609.1 766.3ZM632.1 755.9 624.6 756.6 623 753.4 630.5 753ZM618.3 756.7 610.6 756.6 609.2 753.3 616.8 753.6ZM604.5 756.9 596.7 756.2 594.8 751.1 602.6 752.2ZM596.2 727.7 588.8 725.1 588.5 721.2 595.7 724ZM631.5 645.2 628.2 638.5 632.7 633.7 635.6 640.5ZM629.1 638.4 626.1 631.5 629.6 627.9 632.3 634.9ZM626.3 632.2 623.6 625 627.6 621.2 629.9 628.4ZM649.6 653 646.3 646.5 649 643.8 652.1 650.4ZM646.4 647.3 643.4 640.6 646.8 637.5 649.5 644.3ZM643.3 641.5 640.6 634.7 645 630.7 647.4 637.7ZM641.7 634.5 639.3 627.4 642.2 625 644.3 632.1ZM638.3 629.1 636.2 621.9 642 617.2 643.7 624.6ZM676.2 599.8 677.4 592.3 683.8 590.5 682.2 598ZM687 628.8 687.4 621.6 690.6 620.6 690 627.8ZM688.1 615.5 689.2 608.2 692.6 607.4 691.3 614.7ZM700.7 612.8 702.8 605.7 706.2 605.3 703.9 612.4ZM706.2 636.9 707.6 629.9 710.5 629.7 708.8 636.6ZM709.2 624.2 711.4 617.3 714.6 617.2 712.1 624ZM722.6 593.3 726.6 586.8 730.6 587.1 726.4 593.5ZM715.9 636.2 718.3 629.5 720.9 629.6 718.4 636.2ZM729.8 606.2 734 599.9 737.7 600.5 733.4 606.7ZM732 600.3 736.4 594.1 743.7 595.5 738.9 601.4ZM725.4 636.7 728.6 630.3 731.7 630.8 728.3 637ZM727.8 630.8 731.3 624.5 735.7 625.2 731.8 631.4ZM807.2 641.8 814.8 640.3 817 643.3 809.4 644.6ZM794.7 656.4 802.1 654.8 804.3 658.2 796.9 659.5ZM808.5 654.1 816.1 653.3 817.9 656.3 810.3 657ZM801.4 666.7 808.9 666 810.3 668.9 802.8 669.3ZM818.3 725.5 824.7 729.5 823.4 735.6 817.3 731.3ZM825.6 748.1 831 753.5 829.5 757 824.4 751.4Z" fill="#f0862a"/>
<path d="M795.1 793.3 797.2 800.6 791.4 805.2 789.7 797.8ZM778.3 783.1 780.4 790.1 776.4 792.9 774.7 785.9ZM780.4 789.3 782.2 796.5 777.5 799.7 776.1 792.5ZM783.9 802.2 785 809.6 778.7 813.5 778 806ZM769 789.7 770.3 796.9 764.8 799.9 764 792.6ZM769.1 796.9 769.9 804.2 766.4 806 765.9 798.7ZM770.5 803.2 771 810.6 765.8 813.1 765.7 805.7ZM625.9 757.7 618.3 758.1 615.5 752.2 623.1 752.2ZM611.9 757.9 604.1 757.6 601.6 751.3 609.3 752.1ZM614.6 721.9 607.4 719.6 607.1 713.2 614.1 715.9ZM607.9 718.6 600.8 715.8 600.7 711.7 607.7 714.7ZM601.5 716.7 594.4 713.7 594.4 707.9 601.3 711.3ZM595 714.1 588 710.7 588.2 704.2 595 708ZM614.1 708.3 607.3 705.1 607.6 701 614.3 704.5ZM607.8 705.8 601.1 702.3 601.7 697 608.2 700.9ZM686.1 622.6 686.7 615.3 692.9 613.7 691.8 620.9ZM687.8 609.2 689.2 601.9 695.6 600.6 693.8 607.8ZM689.8 602.4 691.6 595.1 696.9 594.1 694.7 601.3ZM691.6 595.7 693.8 588.4 699 587.6 696.5 594.8ZM695.8 639 696.3 631.9 700.9 630.9 700 638ZM696.7 632.4 697.5 625.3 701.6 624.5 700.4 631.6ZM697.7 625.9 698.9 618.7 702.8 618.1 701.2 625.2ZM697.9 619.5 699.5 612.4 705.5 611.6 703.5 618.6ZM701 606.5 703.3 599.4 710.3 598.9 707.5 605.8ZM704.4 599.9 707.2 592.9 711.8 592.6 708.7 599.5ZM706.3 593.6 709.4 586.6 715.5 586.4 712.1 593.2ZM706.3 630.7 708.1 623.7 713.6 623.4 711.5 630.2ZM710.1 618 712.6 611.1 718.3 611 715.4 617.7ZM712.8 611.7 715.7 604.8 720.7 604.9 717.5 611.6ZM715.8 605.4 719.1 598.7 723.7 598.9 720.1 605.5ZM717.6 599.3 721.2 592.6 728.4 593.1 724.5 599.5ZM716.9 630 719.6 623.3 724.8 623.7 721.8 630.2ZM720.1 623.9 723.2 617.4 727.1 617.7 723.8 624.2ZM722.7 617.9 726.1 611.4 730.7 611.9 727 618.3ZM725.2 611.9 728.9 605.5 735 606.3 730.9 612.5ZM813.1 639.1 820.8 637.8 825.1 644 817.3 644.8ZM800.9 654.2 808.3 652.8 811.7 658.1 804.2 659ZM814.6 651.9 822.3 651.3 825.8 657.6 818.1 657.8ZM822.3 652.5 830.1 652.3 832.3 656.5 824.5 656.4ZM807.5 664.7 815.1 664.3 817.9 670.2 810.3 670.2ZM815 665.5 822.7 665.6 824.3 669.3 816.7 669ZM821.7 664.8 829.4 665.2 831.7 670.7 824 670ZM828.7 665.1 836.5 665.8 838.8 671.7 831 670.7ZM824 730.1 830.1 734.5 829.1 738.9 823.1 734.3ZM829.7 733.8 835.7 738.5 834.3 743.7 828.5 738.8ZM835.3 737.5 841.2 742.5 839.3 749.1 833.7 743.8ZM815.4 738.8 821.1 743.6 819.8 747.4 814.2 742.4ZM821 742 826.6 747 824.2 753.4 818.9 748Z" fill="#e0301e"/>
<ellipse cx="716.7" cy="711.2" rx="120.8" ry="117.2" fill="url(#g6)"/>
<path d="M722.3 711.8 732.7 713.7 742.8 716.9 752.6 721.1 761.9 726.4 770.7 732.7 M726.4 713.5 733.4 715.9 740.3 718.8 747 722.3 753.4 726.3 759.5 730.8 M729 715.5 734.6 718.2 740.2 721.2 745.5 724.6 750.6 728.4 755.4 732.5 M721.7 713.4 727.7 716.5 733.6 720.1 739.2 724.2 744.5 728.6 749.4 733.4 M724.6 716.2 729.3 719.6 733.7 723.4 737.9 727.4 741.8 731.7 745.5 736.2 M724.5 717.5 728.4 721.3 732.2 725.3 735.6 729.6 738.9 734 741.8 738.7 M726.6 721.1 730.7 726.3 734.4 731.8 737.8 737.6 740.7 743.6 743.2 749.9 M720.8 716.2 724.3 721.2 727.6 726.5 730.4 732 732.9 737.8 735 743.7 M719.6 715.4 723.2 721.7 726.3 728.2 728.9 734.9 731 741.9 732.5 749.1 M722.2 723.3 724.7 731.3 726.5 739.5 727.5 747.9 727.7 756.4 727.1 765 M719.7 719.7 721.6 727.4 722.8 735.2 723.4 743.1 723.2 751.2 722.3 759.2 M718.4 718.1 719.7 726.9 720.1 735.8 719.7 744.7 718.3 753.7 716.1 762.5 M717.5 720.2 717.4 727.1 716.9 734.1 715.7 741 714.1 747.9 711.8 754.6 M716.3 724.1 715.4 730.4 714 736.7 712.2 742.9 709.9 749 707.2 754.9 M714.7 723.3 713 729.6 710.8 735.7 708.1 741.8 705 747.7 701.4 753.4 M715.2 717.6 711.8 727.3 707.4 736.6 701.9 745.4 695.3 753.7 687.7 761.4 M711.6 723.2 707.8 730 703.3 736.6 698.2 742.7 692.6 748.5 686.4 753.9 M713.1 717.9 707.9 725.5 702 732.6 695.4 739.2 688 745.2 680 750.5 M709.3 721.1 703.8 727 697.7 732.3 691.2 737.2 684.2 741.6 676.8 745.4 M709.1 719.4 703.4 724.4 697.3 729 690.7 733.1 683.8 736.7 676.5 739.8 M706.7 719.8 701.2 723.6 695.4 727.1 689.3 730.1 683 732.7 676.5 734.9 M710.4 715.9 704.5 719.6 698.4 722.9 692 725.7 685.4 728.1 678.6 730 M709.1 715.6 700.4 719.6 691.1 722.8 681.6 725 671.7 726.2 661.7 726.5 M703.8 716.3 699 717.7 694.2 718.9 689.2 719.7 684.2 720.4 679.1 720.8 M708.1 713.7 701.8 715 695.4 715.8 688.9 716.3 682.4 716.3 675.9 715.9 M706.5 712.9 699.7 713.4 693 713.4 686.2 713 679.4 712.1 672.6 710.7 M710.8 711.7 700.5 711.7 690.2 710.6 679.9 708.3 669.9 705 660.2 700.6 M708.6 710.7 698.7 709.2 689 706.6 679.6 703 670.5 698.4 661.8 692.9 M705.7 709.3 699.7 707.6 693.9 705.6 688.1 703.2 682.5 700.5 677.1 697.3 M711.2 709.7 705.3 707.7 699.5 705.3 693.9 702.5 688.5 699.4 683.3 695.9 M709.7 708.5 704.5 706.1 699.4 703.4 694.5 700.4 689.8 697 685.3 693.4 M705 704.5 700.9 701.5 696.9 698.4 693.1 695 689.5 691.4 686.1 687.6 M708.4 705.4 704.4 702.1 700.6 698.6 697 694.8 693.6 690.9 690.4 686.8 M712.7 707.8 706.6 701.7 701.1 695 696.2 687.8 692 680.2 688.6 672.1 M713.8 708.3 708.7 702.3 704.1 696 700.1 689.3 696.6 682.2 693.8 674.8 M712 704.9 707.1 696.6 703.1 687.8 700.1 678.6 698 669.1 696.9 659.2 M711.8 701.7 709.6 696.4 707.8 691 706.4 685.5 705.3 679.9 704.5 674.1 M712.4 700.5 710.7 694.6 709.4 688.5 708.5 682.3 708 676.1 708 669.7 M714.6 703.3 713.2 694.4 712.6 685.3 713.1 676.2 714.4 667 716.7 658 M715.2 702.7 714.6 694.7 714.7 686.6 715.6 678.5 717.2 670.5 719.5 662.6 M716.5 699.5 717.3 692.1 718.6 684.8 720.5 677.6 723.1 670.5 726.2 663.6 M717.5 701.6 718.7 694.8 720.4 688.2 722.6 681.6 725.4 675.2 728.6 669 M718.8 700.6 720.4 695.1 722.4 689.8 724.7 684.5 727.4 679.3 730.4 674.3 M718.1 706.4 721.4 697.9 725.6 689.7 730.7 681.9 736.5 674.5 743.2 667.7 M721 701.9 724.7 695.5 729 689.4 733.7 683.7 739 678.3 744.7 673.2 M718.8 707.4 724.5 699 731.1 691.2 738.6 684.1 746.9 677.8 756 672.3 M723.1 703.4 727.3 699.1 731.8 695.1 736.5 691.4 741.5 687.9 746.8 684.8 M723.6 704.3 727.6 700.9 731.8 697.7 736.2 694.8 740.8 692.1 745.6 689.6 M722.6 706.3 727.3 702.9 732.2 699.8 737.4 697.1 742.7 694.6 748.2 692.4 M723.7 706.8 732.9 702.2 742.6 698.5 752.8 696 763.3 694.5 774.1 694 M729.2 705.3 733.6 703.8 738.1 702.4 742.7 701.3 747.3 700.4 752 699.7 M729.7 706.9 737.8 705.2 746.2 704.2 754.6 703.9 763.1 704.3 771.6 705.5 M729.5 708.3 734.3 707.7 739.3 707.3 744.2 707.1 749.2 707.2 754.1 707.6 M720.8 710.6 729.1 710 737.4 710.1 745.7 711 754 712.5 762.1 714.8 M729.8 711.3 735.4 711.8 741.1 712.7 746.6 714 752.1 715.6 757.6 717.5" fill="none" stroke="#5aaa3c" stroke-width="1.1" opacity="0.5"/>
<path d="M724.3 711.5 734.4 712.8 744.4 715.1 754.1 718.5 763.4 723 772.4 728.5 M729 713.6 734.9 715.3 740.6 717.4 746.3 719.8 751.7 722.7 757 725.9 M725.6 713.5 731.5 715.5 737.3 718 742.9 720.8 748.3 723.9 753.5 727.5 M723.7 714 729.3 716.8 734.7 720 739.9 723.4 744.9 727.3 749.6 731.5 M726.4 716.6 731.2 719.9 735.8 723.6 740.2 727.5 744.4 731.6 748.2 736.1 M725.9 717.5 732.9 723.6 739.4 730.4 745.1 737.8 750.1 745.8 754.3 754.4 M719.9 713.9 727 721 733.4 728.8 738.8 737.2 743.3 746.3 746.9 755.9 M719.9 714.5 724.8 720.2 729.1 726.2 733 732.6 736.3 739.4 739.1 746.4 M719.9 715.5 723.5 721.3 726.7 727.3 729.5 733.6 731.7 740.1 733.5 746.7 M718.6 714.3 721.9 720.4 724.7 726.8 727 733.3 728.8 740 730.1 746.9 M718.8 716 722.1 725.9 724.2 736.1 725 746.6 724.7 757.2 723.2 767.8 M718.4 716.9 720.4 726.8 721.3 736.8 721.1 747 719.6 757.3 717 767.4 M717.4 714.9 718.3 721.5 718.7 728.2 718.6 734.9 718 741.6 716.8 748.3 M716.9 721.5 716.4 727.4 715.5 733.3 714.3 739.1 712.7 744.9 710.6 750.6 M716.2 718.5 714.4 728.4 711.6 738 707.7 747.4 702.7 756.4 696.6 765 M715.9 715.4 714.3 722 712.2 728.5 709.5 734.8 706.4 740.9 702.8 746.8 M713.9 720.2 710.1 728.7 705.5 736.9 700 744.6 693.7 751.8 686.5 758.5 M714.6 715.8 711.1 722.4 707 728.8 702.4 734.8 697.2 740.4 691.5 745.7 M709 722.9 704.6 728.2 699.7 733.2 694.4 737.9 688.8 742.1 682.8 746 M709.8 719.5 704.8 724.5 699.3 729.2 693.4 733.4 687.2 737.2 680.7 740.6 M710.1 717.8 702.6 723.8 694.5 729 685.8 733.5 676.6 737.1 667 739.9 M713.7 713.7 704.7 720 695.1 725.3 684.7 729.4 673.8 732.4 662.5 734.2 M707.4 716.8 701 719.9 694.3 722.5 687.5 724.6 680.4 726.2 673.2 727.3 M710.3 714.3 700.4 717.9 690.1 720.5 679.5 722 668.6 722.3 657.6 721.4 M707.1 714.7 700.6 716.5 694 717.8 687.3 718.6 680.5 719 673.6 718.9 M713 712.1 705.2 713.5 697.3 714.3 689.3 714.4 681.3 713.9 673.3 712.7 M711.2 712 701.1 712.7 690.9 712.2 680.8 710.7 670.8 708.2 661 704.6 M703.5 710.9 696.3 709.9 689.1 708.4 682 706.3 675 703.7 668.2 700.6 M706.6 709.9 699.1 708.3 691.8 706 684.6 703.1 677.6 699.7 670.9 695.7 M705.5 708.4 696.6 705.1 688.1 700.9 680 695.9 672.4 690.1 665.3 683.5 M705.1 707.2 696.7 703.2 688.6 698.3 681.1 692.6 674.1 686.2 667.7 679.1 M711.9 709.1 703.7 704.8 696 699.7 688.9 693.8 682.2 687.2 676.3 680 M711.4 708.2 704 703 697.1 697.2 690.8 690.6 685.1 683.5 680.1 675.8 M709.4 705.6 703.1 699.7 697.3 693.3 692.2 686.3 687.7 678.8 683.8 670.9 M709.2 703.8 703.3 696.7 698.2 689 693.8 680.8 690.3 672.1 687.7 663 M714.2 708.2 710.2 702.7 706.6 697 703.4 691 700.7 684.7 698.5 678.2 M709.5 699.7 707 694.5 704.8 689.1 703 683.6 701.5 678 700.4 672.2 M710.8 698.5 709.1 693.3 707.7 688 706.6 682.6 705.8 677.2 705.4 671.6 M715.1 706.5 713.3 700.2 712.1 693.9 711.3 687.4 711 680.8 711.1 674.2 M714.3 699.6 713.6 692.6 713.5 685.6 713.9 678.5 714.9 671.5 716.4 664.5 M716 698.2 716.6 689.5 718.1 680.8 720.4 672.2 723.6 663.8 727.6 655.6 M717.1 700 718.2 692.9 719.8 685.8 722 678.9 724.8 672 728.1 665.4 M717.8 702.9 719.2 696.5 721.1 690.2 723.4 684.1 726.2 678.1 729.5 672.2 M718.3 704.5 720.9 696.6 724.3 688.9 728.4 681.6 733.2 674.5 738.7 667.8 M717.9 707.8 721.3 700.3 725.3 693.1 730 686.3 735.4 679.8 741.4 673.8 M720.8 703.7 724.4 698.1 728.4 692.9 732.8 687.9 737.6 683.1 742.8 678.8 M720.8 705.2 726.2 698.6 732.2 692.6 738.8 687 745.9 682.1 753.5 677.7 M721.6 705.3 728.4 698.6 736 692.6 744.2 687.3 753 682.8 762.3 679.1 M721.6 706.7 726.6 702.7 732 699 737.6 695.7 743.5 692.8 749.6 690.2 M724.8 705.3 731.2 701.5 738 698.2 745.1 695.4 752.4 693.1 760 691.4 M720.2 709.1 727 705.6 734 702.6 741.3 700.2 748.8 698.3 756.6 697.1 M729.8 706.4 737.6 704.5 745.4 703.3 753.5 702.7 761.6 702.7 769.7 703.5 M725.6 708.6 733.4 707 741.2 706.1 749.2 705.8 757.2 706.2 765.3 707.2 M728.1 709.2 736.4 708.5 744.6 708.6 753 709.4 761.2 711 769.4 713.2 M723.2 710.8 730.1 710.9 737 711.4 743.8 712.5 750.6 714 757.3 716" fill="none" stroke="#b8d83e" stroke-width="1.1" opacity="0.5"/>
</g></g>
<text x="38.4" y="53.2" font-size="18.7" fill="#262626" textLength="74.6" lengthAdjust="spacingAndGlyphs" stroke="#262626" stroke-width="0.5">Mean Ra</text>
<text x="151.2" y="53.2" font-size="18.7" fill="#262626" textLength="59" lengthAdjust="spacingAndGlyphs" stroke="#262626" stroke-width="0.5">3,5 nm</text>
<text x="441" y="53.6" font-size="18.7" fill="#262626" textLength="60.6" lengthAdjust="spacingAndGlyphs" stroke="#262626" stroke-width="0.5">4,8 nm</text>
<text x="752.8" y="53.6" font-size="18.7" fill="#262626" textLength="59" lengthAdjust="spacingAndGlyphs" stroke="#262626" stroke-width="0.5">5,5 nm</text>
<text x="373.9" y="343.3" font-size="19.3" fill="#262626" textLength="146.3" lengthAdjust="spacingAndGlyphs" stroke="#262626" stroke-width="0.5">Scale: 2nm -7 nm</text>
<text x="43.7" y="851.1" font-size="16.4" fill="#262626" textLength="126.2" lengthAdjust="spacingAndGlyphs" stroke="#262626" stroke-width="0.5">green:&#160; 7 nm Ra</text>
<text x="43.8" y="889.9" font-size="16.4" fill="#262626" textLength="128" lengthAdjust="spacingAndGlyphs" stroke="#262626" stroke-width="0.5" clip-path="url(#cy)">yellow: 9 nm Ra</text>
<text x="256.8" y="794.5" font-size="15.8" fill="#262626" textLength="50.6" lengthAdjust="spacingAndGlyphs" stroke="#262626" stroke-width="0.5">Ra nm</text>
<text x="403.1" y="854.7" font-size="16.5" fill="#262626" textLength="63" lengthAdjust="spacingAndGlyphs" stroke="#262626" stroke-width="0.5">no filter</text>
<text x="542.6" y="792.6" font-size="16.5" fill="#262626" textLength="28" lengthAdjust="spacingAndGlyphs" stroke="#262626" stroke-width="0.5">&#181;m</text>
<text x="594" y="850.8" font-size="16.4" fill="#262626" textLength="198.2" lengthAdjust="spacingAndGlyphs" stroke="#262626" stroke-width="0.5">50 waves high-pass filter</text>
<text x="815.7" y="794.4" font-size="16" fill="#262626" textLength="27.4" lengthAdjust="spacingAndGlyphs" stroke="#262626" stroke-width="0.5">&#181;m</text>
<text x="23.5" y="444" font-size="30.7" fill="#1a1a1a" textLength="165.5" lengthAdjust="spacingAndGlyphs" font-weight="bold" stroke="#1a1a1a" stroke-width="0.45">FIGURE 4.</text>
<text x="199" y="443.6" font-size="26" fill="#1a1a1a" textLength="617.5" lengthAdjust="spacingAndGlyphs" stroke="#1a1a1a" stroke-width="0.45">Roughness measurement of 300 mm wafers by</text>
<text x="24" y="477.3" font-size="26" fill="#1a1a1a" textLength="794.5" lengthAdjust="spacingAndGlyphs" stroke="#1a1a1a" stroke-width="0.45">using the same grinding wheel (#4000) but different grinding</text>
<text x="24" y="511" font-size="26" fill="#1a1a1a" textLength="134" lengthAdjust="spacingAndGlyphs" stroke="#1a1a1a" stroke-width="0.45">machines.</text>
<text x="26.5" y="947.5" font-size="30.7" fill="#1a1a1a" textLength="165" lengthAdjust="spacingAndGlyphs" font-weight="bold" stroke="#1a1a1a" stroke-width="0.45">FIGURE 5.</text>
<text x="201.3" y="947.5" font-size="26" fill="#1a1a1a" textLength="650.5" lengthAdjust="spacingAndGlyphs" stroke="#1a1a1a" stroke-width="0.45">Back grinding 200 mm wafer. Left: Roughness Ra,</text>
<text x="27" y="981.5" font-size="26" fill="#1a1a1a" textLength="440" lengthAdjust="spacingAndGlyphs" stroke="#1a1a1a" stroke-width="0.45">middle: warpage; right: waviness.</text>
</svg>
</body></html>
